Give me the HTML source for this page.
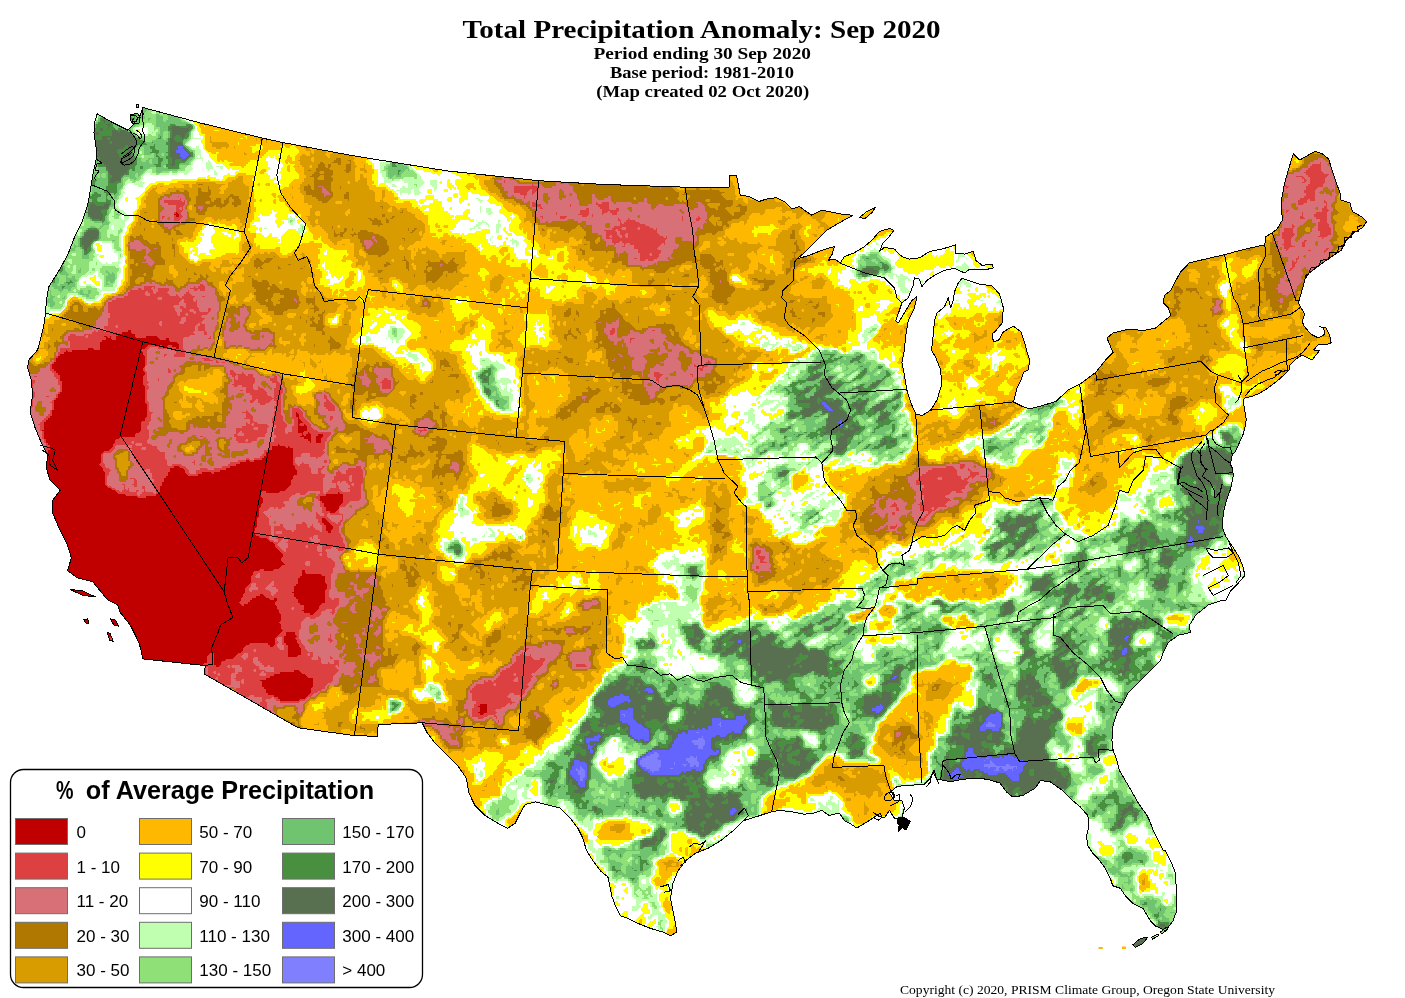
<!DOCTYPE html>
<html lang="en"><head><meta charset="utf-8"><title>Total Precipitation Anomaly: Sep 2020</title>
<style>
html,body{margin:0;padding:0;background:#fff}
body{width:1405px;height:998px;overflow:hidden;position:relative;font-family:"Liberation Serif","DejaVu Serif",serif}
svg{position:absolute;left:0;top:0;display:block}
.t1{font:bold 25.3px "Liberation Serif","DejaVu Serif",serif}
.t2{font:bold 16px "Liberation Serif","DejaVu Serif",serif}
.cp{font:11.5px "Liberation Serif","DejaVu Serif",serif}
.lh{font:bold 25.5px "Liberation Sans","DejaVu Sans",sans-serif}
.lg{font:17px "Liberation Sans","DejaVu Sans",sans-serif}
</style></head><body>
<svg width="1405" height="998" viewBox="0 0 1405 998">
<defs><clipPath id="us"><path d="M97.2,113.8 110.2,121.3 127.8,130.1 132.8,125.1 140.3,115 142.8,107.5 200.4,123 262.3,138.1 283.1,142.6 352,155.6 447.2,170.9 538.6,180.7 602.5,184.4 685.2,187.2 729.1,187.2 729.1,175.2 736.6,175.9 740.3,195.2 749.1,196.5 759.1,201.5 766.6,199 776.7,197.7 784.2,201.5 791.7,209 799.2,206.5 811.7,215.2 821.8,210.2 834.3,212.7 844.3,214.7 853.1,215.2 839.3,222.8 826.8,230.3 814.2,242.8 804.2,252.8 796.7,259.1 809.2,255.3 821.8,250.3 829.3,247.8 834.3,246.6 831.8,255.3 828,260.3 834.3,259.1 840.5,262.8 844.3,256.6 854.3,252.8 864.3,246.6 871.9,240.3 879.4,231.5 889.4,228.5 893.9,230.3 889.4,236.5 883.1,242.8 879.4,251.6 884.4,247.3 894.4,249.1 901.9,256.6 909.4,259.1 919.5,257.8 929.5,251.6 942,249.1 955.8,244.8 955.8,253.3 964.6,254.1 973.3,251.1 975.8,260.3 982.1,265.4 992.1,264.1 993.4,267.9 984.6,269.9 969.6,269.1 964.6,272.9 954.5,268.4 944.5,270.4 934.5,275.4 927,280.4 922,286.6 919.5,279.1 914.4,277.9 913.2,285.4 908.2,297.9 901.9,302.9 899.4,310.4 895.7,320.5 898.2,323 904.4,313 911.9,300.4 917,296.7 914.4,307.9 908.2,320.5 905.7,335.5 904.4,350 901.9,362.5 904.4,375.1 906.9,390.1 910.7,402.6 915.7,413.9 922,415.6 930.7,410.1 937,400.1 941.5,385.1 940.8,370 935.7,357.5 931.5,350 933.2,335.5 934.5,320.5 937,313 944.5,306.7 948.3,297.9 950.8,307.9 953.3,300.4 954.5,291.7 958.3,282.9 962,278.4 969.6,280.9 979.6,284.1 992.1,285.9 999.6,294.2 1003.4,307.9 1002.1,323 995.9,330.5 992.1,334.2 993.4,341.8 998.4,340.5 1003.4,331.7 1013.4,326.2 1020.9,331.7 1024.7,343 1026.4,350 1029.7,360 1028.4,370 1023.4,372.5 1020.9,380.1 1017.2,387.6 1014.7,397.6 1013.4,401.9 1022.2,406.4 1029.7,408.9 1039.7,406.4 1056,401.4 1068,390.1 1080.6,383.8 1095.6,372.5 1105.6,360 1113.1,352.5 1106.9,338 1113.1,333 1128.2,329.2 1143.2,330.5 1155.7,328 1163.2,321.7 1170.8,315.5 1168.2,307.9 1163.2,302.9 1164.5,295.4 1170.8,290.4 1174.5,282.9 1180.8,271.6 1189.5,262.8 1203.3,259.6 1224.6,254.6 1243.4,249.6 1264.7,244.8 1266,236.5 1272.2,232.8 1277.2,229 1282.2,220.3 1281.5,200.2 1284.7,182.7 1289.8,165.1 1293.5,153.9 1299.8,160.1 1306,156.4 1314.8,151.4 1322.3,153.9 1328.6,158.9 1333.6,175.2 1339.9,192.7 1341.1,200.2 1349.9,202.7 1352.4,211.5 1361.2,216.5 1366.7,221.5 1362.4,227.8 1353.6,232.8 1346.1,240.3 1341.1,250.3 1333.6,255.3 1326.1,260.3 1316.1,267.9 1306,275.4 1303.5,285.4 1299.8,297.9 1298.5,302.9 1301,307.9 1304.8,314.2 1302.3,320.5 1303.5,325.5 1311,334.2 1318.6,338 1324.8,334.2 1323.6,328 1319.8,326.7 1326.1,328 1329.8,335.5 1331.1,343 1327.3,344.3 1318.6,344.3 1313.6,350 1320,350 1312,360 1302,355 1296,359 1290,365 1289,370 1284,375 1276,382 1268,388 1260,393 1253,396 1245,398 1243,400 1244,406 1245.6,415 1246.2,420 1245.2,426 1243.2,434 1239.2,443 1235.2,452 1232.2,455 1231.2,460 1230.2,464 1232.7,469 1233.2,476 1231.7,484 1230.2,490 1227.2,498 1225.2,505 1223.6,512 1222.6,520 1222.1,525.4 1223.4,530.4 1225.9,536.6 1233.4,547.9 1239.6,557.9 1243.4,568 1244.7,575.5 1238.4,583 1230.9,590.5 1225.9,600 1223.4,600 1208.3,605 1195.8,615 1189.5,625.1 1190.3,632.6 1178.3,635.1 1168.2,642.6 1163.2,652.6 1160.7,660.1 1153.2,667.6 1145.7,675.2 1138.2,682.7 1128.2,692.7 1123.1,702.7 1116.9,712.7 1113.1,725.3 1111.9,740.3 1113.1,750.3 1116.9,760.3 1119.4,770.4 1128.2,785.4 1138.2,802.9 1147,815.5 1149.5,820.5 1153.2,830.5 1159.5,843 1163.2,850 1165.5,850.7 1171.7,863.2 1175.5,873.3 1176.7,898.3 1176.7,910.8 1173,920.9 1165.5,930.9 1155.4,925.9 1150.4,920.9 1142.9,908.3 1132.9,903.3 1125.4,895.8 1120.4,888.3 1112.8,885.8 1110.3,878.3 1105.3,868.3 1097.8,858.2 1092.8,853.2 1087.8,845.7 1086.5,835.7 1089,825.7 1087.8,815.6 1080.3,806.9 1072.8,800.6 1062.7,790.6 1050.2,781.8 1040.2,780.6 1035.2,788.1 1022.7,795.6 1012.6,796.9 1006.4,791.8 1000.1,783.1 987.6,779.3 975.1,778.1 962.5,779.3 950,781.8 944.5,780.4 937,779.1 933.2,772.9 929.5,779.1 924.5,784.1 917,784.9 904.4,785.4 896.9,786.6 889.4,792.9 894.4,800.4 901.9,800.4 904.4,807.9 901.9,818 894.4,818 889.4,810.4 884.4,818 876.9,815.5 869.4,820.5 856.8,828 849.3,823 844.3,820.5 839.3,813 829.3,815.5 821.8,810.4 814.2,813 804.2,814.2 791.7,811.7 779.2,810.4 771.6,811.7 755.7,816.9 743.2,820.7 733.2,830.7 720.6,840.7 708.1,848.2 695.6,853.2 685.6,860.7 678,870.8 673,883.3 670.5,898.3 673,910.8 675.5,923.4 676.8,932.1 670.5,935.9 663,932.1 650.5,928.4 638,923.4 627.9,918.4 620.4,915.9 615.4,905.8 611.7,895.8 609.2,883.3 607.9,877 600.4,870.8 592.9,860.7 586.6,850.7 582.8,838.2 577.8,828.2 570.3,818.1 560.3,808.1 550.3,805.6 535.2,801.9 525.2,804.4 520.2,813.1 515.2,823.2 507.7,828.2 497.7,823.2 485.1,815.6 475.1,805.6 468.9,793.1 466.3,778.1 457.6,765.5 447.6,755.5 440,748 434.7,742.8 427.2,732.8 422.1,722.8 378.3,724.5 377.1,736.5 352,735.3 298.1,727.8 204.2,673.9 205.4,665.6 142.8,658.9 141.6,652.6 139,642.6 130.3,625.1 120.3,612.5 117.8,605 107.7,600 92.7,581.7 77.7,578 67.6,570.5 71.4,557.9 67.6,545.4 58.9,527.9 52.6,512.8 52.6,500.3 60.1,490.3 50.1,480.3 46.3,467.8 47.6,455.2 41.3,442.7 35.1,427.7 30.1,412.6 32.6,395.1 31.3,380.1 27.6,367.5 28.8,360 37.6,350 40.1,340.5 43.8,325.5 45.6,313 46.3,300.4 48.9,286.6 57.6,272.9 67.6,255.3 75.2,235.3 82.7,220.3 87.7,205.2 91.4,183.9 92.7,175.2 96,160.1 96.5,150.1 94,132.6 94.7,122.5ZM859.8,217.2 866.8,211.5 875.6,207.2 871.9,212.7 864.3,219ZM83.9,619.5 87.7,618.8 88.9,623.8 85.7,623ZM110.2,618.8 115.2,620 119,626.3 114,625.1ZM107.2,632.1 110.2,633.8 113.2,641.3 109.7,640.1ZM70.1,589.3 82.7,591 95.2,596.8 82.7,595.5ZM1132.9,944.7 1140.4,938.4 1147.9,937.2 1142.9,943.4 1135.4,947.2ZM1151.7,937.2 1157.9,933.9 1158.4,935.9 1152.4,939.2ZM1160.4,932.1 1166.7,927.1 1168,928.9 1162,933.9ZM130.1,115 137.1,113 140.1,117 139.1,123 133.1,124 130.1,120ZM136.1,104.5 138.6,104.5 138.6,107.5 136.1,107.5ZM1098.8,946.9 1102.8,946.9 1102.8,948.9 1098.8,948.9ZM1121.9,946.4 1125.9,946.4 1125.9,948.9 1121.9,948.9Z"/></clipPath></defs>
<g clip-path="url(#us)" shape-rendering="crispEdges">
<rect x="0" y="90" width="1405" height="870" fill="#ffb800"/>
<path fill="#d89c00" fill-rule="evenodd" d="M1096,946v4h3v-4zM1144,878v1l-1,1h-1v5h3v-7zM668,860v1l-1,1h-5v1h1l1,1v1h1l1,1v5h1v-3l1-1h11v-5h-5l-1-1v-1zM671,864l1-1h3l1,1v1l-1,1h-3l-1-1zM614,824v1l-1,1h-3v5h5l1,1v1h5v-1l1-1h1v-1l1-1h1v-5zM858,814v3h1v-3zM864,802v13h3v-3l1-1h1v-3h-1l-1-1v-1h-1l-1-1v-3zM772,802v7h1v-7zM846,798v3h5v-3zM482,790v1h3v-1zM486,784v1l-1,1h-1v1h3v-3zM494,778v3h1v-3zM460,770v1h1l1,1v3h1v-1l1-1h1v-3zM830,762v1l-1,1h-1v1l-1,1h-3v7l-1,1h-5v1l-1,1h-3v3l-1,1h-1v1l-1,1h-1v1h1l1,1v1h1l1,1v1h7v-1l1-1h3l1,1v3h1v-3h-1l-1-1v-3l1-1h5l1,1v1h3l1,1v3h1v-1l1-1h1l1,1v1h1l1,1v1h1l1,1v3h9l1,1v3h1v-1l1-1h1v-1l1-1h1l1,1v1h5l1,1v1h1l1,1v1h1v-1l1-1h1v-1l1-1h1v-3l1-1h3l1,1v5h3v-1l1-1h1v-3h-1l-1-1v-3h-1l-1-1v-1h-1l-1-1v-1l1-1h7l1,1v3h3v-3h-1l-1-1v-9h-1l-1-1v-1h-3v1l-1,1h-1l-1-1v-3h-5l-1-1v-1h-5l-1-1v-1h-5v1l-1,1h-1l-1-1v-1h-3v1l-1,1h-1l-1-1v-1h-1v1h1l1,1v1l-1,1h-3l-1-1v-1h-3v1l-1,1h-1l-1-1v-1h-3l-1-1v-1h-1l-1-1v-3h-3v1l-1,1h-1l-1-1v-1zM855,792l1-1h1l1,1v1l-1,1h-1l-1-1zM843,788l1-1h1l1,1v1l-1,1h-1l-1-1zM857,772l1-1h1l1,1v1l-1,1h-1l-1-1zM847,770l1-1h1l1,1v1h1l1,1v3h3l1,1v1l-1,1h-5l-1-1v-1h-1l-1-1v-1h-3l-1-1v-1l1-1h3zM392,722v3h7v-1h-1l-1-1v-1zM318,722v1l-1,1h-3v1h5v-3zM900,718v1h1l1,1v1l-1,1h-5v3l-1,1h-5l-1-1v-1h-5v1l-1,1h-1v1l-1,1h-1v7l-1,1h-1v9h1l1,1v1h1l1,1v1h1l1,1v1h1l1,1v1h1l1,1v1h1l1,1v1h3v-1l1-1h1l1,1v1h1l1,1v1h7l1,1v3l-1,1h-1v1l-1,1h-1v1h1v-1l1-1h3v-3l1-1h11l1,1v1h3v-5h-1l-1-1v-1l1-1h1v-1h-1l-1-1v-1h-1v3l-1,1h-5l-1-1v-1h-1l-1-1v-1h-1l-1-1v-3l1-1h1v-1l1-1h1v-1l1-1h1v-1l1-1h5v-1l1-1h1v-3h-1l-1-1v-1h-1l-1-1v-1h-1l-1-1v-1h-1l-1-1v-3h-1l-1-1v-1h-3l-1-1v-1h-3l-1-1v-1h-1l-1-1v-1zM887,734l1-1h1l1,1v3h1l1,1v3l-1,1h-3l-1-1v-1h-3l-1-1v-1l1-1h1v-1l1-1h1zM404,716v3h5v-3zM924,710v1l-1,1h-1v1h1l1,1v3l-1,1h-1l-1-1v-1h-1v3h3l1,1v3h1l1,1v7h1l1,1v3l-1,1h-1v1h3v-5h-1l-1-1v-1l1-1h3v-3l1-1h1v-9h-1l-1-1v-1h-1l-1-1v-1h-3l-1-1v-1zM929,724l1-1h1l1,1v1l-1,1h-1l-1-1zM925,718l1-1h1l1,1v1l-1,1h-1l-1-1zM444,704v3h1v-3zM912,700v3h1v-3zM574,696v1l-1,1h-3v1l-1,1h-1v1l-1,1h-1l-1-1v-3h-1v1l-1,1h-1v1h1l1,1v1h1l1,1v1h5v-1l1-1h1v-1l1-1h1v-5zM938,678v1l-1,1h-1v1l-1,1h-3v1l-1,1h-1l-1-1v-1h-1v1l-1,1h-3l-1-1v-3h-1v3l-1,1h-3v3h5v-1l1-1h3l1,1v3l-1,1h-1v11h7v-1l1-1h7l1,1v1h1v-1l1-1h1v-1l1-1h1v-1l1-1h1v-3l1-1h1v-3l1-1h1v-1l1-1h3v-1l1-1h1v-1h-3v1l-1,1h-3l-1-1v-1h-5l-1-1v-1h-3l-1-1v-1zM440,662v3h1v-3zM616,636v7h1l1,1v1h1v-1l1-1h1v-1h-1l-1-1v-5zM105,630v5l1,1v3l1,1v2l1-1h3l1,1v1h3v-5l-1-1v-1l-1-1v-2l-1-1v-1h-2l-1-1zM396,616v3h1v-3zM108,616v4l1,1v1l1,1v1l1,1v1l1,1h4l1,1h4v-4l-1-1v-1l-2-2v-1l-1-1h-2l-1-1h-1l-1-1zM85,616l-1,1h-3v4l1,1v1l1,1v1h7v-6l-1-1v-2zM862,614v1l-1,1h-5v3h5v-1l1-1h1v-1l1-1h1v-1zM886,608v1l-1,1h-1v1h3l1,1v1h3v-1h-3l-1-1v-1l1-1h1v-1zM624,600v5h3v-1l1-1h3v-1h-3l-1-1v-1zM562,598v3l-1,1h-1v1l-1,1h-1v1l-1,1h-1v1l-1,1h-1v3h3v-3l1-1h1v-1l1-1h1v-1l1-1h1v-3l1-1h1v-1zM974,594v3h3v-3zM720,590v1l-1,1h-1v3l-1,1h-3v1l-1,1h-5v3l-1,1h-1v1l-1,1h-1v1h1l1,1v3h1l1,1v1l-1,1h-1v5h3v-1l1-1h1l1,1v3l-1,1h-5v1h11v-1l1-1h1v-3l1-1h1v-1l1-1h1v-1l1-1h3v-1h-9l-1-1v-3l1-1h5v-1l1-1h1v-1l1-1h5l1,1v3l-1,1h-1v1h3v-1l1-1h3l1,1v5l-1,1h-3v1h3v-1l1-1h3v-9h-1v1l-1,1h-1l-1-1v-3h-1l-1-1v-1h-1l-1-1v-1l1-1h3v-1h-3v1l-1,1h-1v1l-1,1h-1v1l-1,1h-3l-1-1v-1h-3l-1-1v-3h-1l-1-1v-1l1-1h1v-1zM713,610l1-1h3l1,1v3l-1,1h-3l-1-1zM610,590v1l-1,1h-3v1h1l1,1v1h3v-1l1-1h1v-1h-1l-1-1v-1zM962,588v5h1l1,1v1h1v-5l1-1h1v-1zM970,584v1h3v-1zM1006,582v1l-1,1h-1v1h3v-3zM736,582v1l-1,1h-3v1h3v-1l1-1h1v-1zM632,580v1l-1,1h-1v1h3v-3zM954,576v5h1l1,1v1h3v-1l1-1h1v-1h-1l-1-1v-3zM926,576v3h1v-1l1-1h1v-1zM608,576v3h1v-3zM992,574v1l-1,1h-1v1l-1,1h-5v5h1l1,1v1h1l1,1v3h3l1,1v5l-1,1h-1v1h1v-1l1-1h3v-1l1-1h1v-5h-1l-1-1v-3l1-1h1v-1l1-1h1v-3h-3l-1-1v-1h-1l-1-1v-1zM970,574v1h3v-1zM618,574v3l-1,1h-1v7h3v-3l1-1h1v-1l1-1h1v-1h-1l-1-1v-1h-1l-1-1v-1zM634,566v5h3v-1l1-1h1l1,1v1h5l1,1v1h3v-1h-1l-1-1v-1h-1l-1-1v-1h-1l-1-1v-1zM572,566v3h3v-1l1-1h1v-1zM626,560v7l-1,1h-1v1l-1,1h-1v1h1v-1l1-1h1l1,1v1h1v-3l1-1h1v-5h-1l-1-1v-1zM592,556v1h1l1,1v1h1v-3zM1238,550v3h2l-1-1v-1zM562,548v1l-1,1h-1v5h1v-1l1-1h1v-5zM752,538v3l-1,1h-1v1l-1,1h-1v7h1l1,1v5l-1,1h-1v13h1l1,1v1h1l1,1v9h1l1,1v3h5v-1l1-1h7v-1l1-1h1v-1l1-1h5l1,1v1h1v-1l1-1h3v-1l1-1h1l1,1v3h1l1,1v1h1l1,1v1h3l1,1v3l-1,1h-3v1h1l1,1v1l-1,1h-1v1l-1,1h-1v1l-1,1h-1v1l-1,1h-1v3l-1,1h-1v1l-1,1h-3l-1-1v-3h-1l-1-1v-1h-1v1l-1,1h-3v1l-1,1h-3l-1-1v-1h-5v3h1l1,1v1h1l1,1v3h1l1,1v1h3v-1l1-1h13v-1l1-1h1v-1l1-1h5v-1l1-1h1v-1l1-1h3v-1l1-1h1v-3h-3l-1-1v-5l1-1h3l1,1v1h3v-1l1-1h1v-1l1-1h1v-1l1-1h7v-1l1-1h1v-1l1-1h5l1,1v3h1v-1l1-1h3v-1l1-1h1v-1l1-1h1v-1l1-1h1v-1l1-1h3v-1l1-1h1v-3l1-1h1v-1l1-1h1v-9h-3l-1-1v-1h-7l-1-1v-1h-3l-1-1v-1h-1l-1-1v-1h-3l-1-1v-1h-1l-1-1v-1l1-1h1v-1l1-1h1v-1l1-1h1v-1l1-1h1v-1h-7v1l-1,1h-3v1l-1,1h-1v1l-1,1h-3v1l-1,1h-1l-1-1v-1h-3v1l-1,1h-1l-1-1v-1h-5v1l-1,1h-1l-1-1v-1h-1l-1-1v-3h-1l-1-1v-1h-3l-1-1v-1h-5v1l-1,1h-11l-1-1v-1h-1v1l-1,1h-3l-1-1v-3zM809,578l1-1h5l1,1v3l-1,1h-5l-1-1zM787,576l1-1h3l1,1v1l-1,1h-1v1l-1,1h-1l-1-1zM795,572l1-1h3l1,1v1l-1,1h-1v1l-1,1h-3l-1-1v-1l1-1h1zM835,570l1-1h3l1,1v1l-1,1h-3l-1-1zM799,570l1-1h1l1,1v1l-1,1h-1l-1-1zM829,568l1-1h1l1,1v1l-1,1h-1l-1-1zM801,560l1-1h1l1,1v3l-1,1h-1l-1-1zM807,554l1-1h1l1,1v3l-1,1h-1l-1-1zM785,554l1-1h3l1,1v3l-1,1h-3l-1-1zM779,554l1-1h1l1,1v1h1l1,1v1l-1,1h-1v3h3l1,1v1h1l1,1v1l-1,1h-1v1l-1,1h-1v1l-1,1h-1l-1-1v-3h-3l-1-1v-1l1-1h1v-1h-1l-1-1v-1h-1l-1-1v-3l1-1h3zM799,550l1-1h1l1,1v3l-1,1h-3l-1-1v-1l1-1h1zM638,528v5h1v-5zM412,526v1h3v-1zM624,522v1l-1,1h-3v3l-1,1h-1v9l-1,1h-1v1l-1,1h-1v1l-1,1h-1v9h1v-1l1-1h3v-1l1-1h1l1,1v1h1v-1l1-1h1v-5l1-1h1v-5h-1l-1-1v-1l1-1h3v-1l1-1h3v-3l1-1h1v-1h-1l-1-1v-1h-3l-1-1v-1zM621,532l1-1h1l1,1v1l-1,1h-1l-1-1zM392,522v5h3l1,1v1h1v-3l1-1h1v-1h-5l-1-1v-1zM416,520v3h5v-3zM742,510v3l-1,1h-1v1h1l1,1v1h1l1,1v7h1l1,1v1l-1,1h-1v5h1l1,1v1h5v-1l1-1h1v-5h-5l-1-1v-1h-1l-1-1v-1l1-1h3l1,1v1h3v-1l1-1h1v-3l1-1h1l1,1v1h1v-3h-1l-1-1v-1h-1v1l-1,1h-1l-1-1v-1h-5l-1-1v-3h-3l-1-1v-1zM652,504v3l-1,1h-1v1l-1,1h-1v11l-1,1h-1l-1-1v-1h-3l-1-1v-1h-1v3l-1,1h-1v3h3l1,1v1h1l1,1v1h1v-3l1-1h7v-1l1-1h3v-5l1-1h1v-1l1-1h1v-7h-1l-1-1v-3h-3v1l-1,1h-1l-1-1v-1zM644,504v1h3v-1zM572,494v1h3v-1zM490,492v1l-1,1h-1v1l-1,1h-1v3l-1,1h-1l-1-1v-1h-1l-1-1v-1h-5v5h3l1,1v3h1l1,1v1h1l1,1v1h1l1,1v1l-1,1h-1v5h1l1,1v1h7l1,1v1h7v-1l1-1h5v-1l1-1h1v-1l1-1h3v-11h-1l-1-1v-1h-7l-1-1v-1h-1l-1-1v-3h-3l-1-1v-1h-1l-1-1v-1zM1020,490v1l-1,1h-1v1l-1,1h-3v3h11v-3h-1l-1-1v-1h-1l-1-1v-1zM692,488v3h3v-3zM672,488v3l-1,1h-7v1h3l1,1v1l-1,1h-1v1h7v-3h-1l-1-1v-1l1-1h3l1,1v1h1l1,1v5h1l1,1v3h5v-3l1-1h3l1,1v1h1v-1l1-1h1v-1h-5l-1-1v-1h-7l-1-1v-5h-3l-1-1v-1zM838,486v1h5v-1zM708,480v3h1l1,1v1l-1,1h-3v15l-1,1h-1v3h1l1,1v1h5l1,1v3l-1,1h-1v7l-1,1h-1v3h1l1,1v1l-1,1h-1v3h1l1,1v5h1l1,1v7l-1,1h-1v9h1l1,1v5l-1,1h-1v5h3v-1l1-1h1v-1l1-1h1v-1l1-1h1l1,1v1h3v-5l1-1h3v-13l1-1h3v-1l1-1h1v-5h-1l-1-1v-3h-1l-1-1v-7l1-1h1l1,1v1h1v-3l1-1h1v-1h-5l-1-1v-9l1-1h1v-13h-1l-1-1v-3h-1l-1-1v-5h-3l-1-1v-1h-1v1l-1,1h-1v1l-1,1h-1l-1-1v-3h-5l-1-1v-1zM727,518l1-1h1l1,1v1l-1,1h-1l-1-1zM713,486l1-1h3l1,1v5h3l1,1v3l-1,1h-1v1l-1,1h-1l-1-1v-1h-1l-1-1v-3h-3l-1-1v-1l1-1h1zM616,478v3l-1,1h-7l-1-1v-1h-3v1l-1,1h-1v1h1l1,1v5h3l1,1v3h5v-1l1-1h1l1,1v1h1v-1l1-1h7l1,1v1h3l1,1v1h1v-3h-1l-1-1v-3l1-1h3l1,1v3h11v-1l1-1h1v-1l1-1h3v-5h-7l-1-1v-1l1-1h1v-1h-11v1l-1,1h-1l-1-1v-1h-7v1l-1,1h-3l-1-1v-1zM840,474v3h1v-3zM1096,472v1l-1,1h-1v1l-1,1h-1v1l-1,1h-1v1l-1,1h-1v1l-1,1h-1v1l-1,1h-1v1l-1,1h-3v1l-1,1h-1v3h1l1,1v1h1v-1l1-1h3l1,1v1h1l1,1v1h3l1,1v1h3v-3l1-1h3v-1l1-1h1v-1l1-1h3v-1l1-1h1v-7h-1l-1-1v-1h-1l-1-1v-5zM674,466v3h1v-3zM1086,464v1l-1,1h-1v3l-1,1h-1v1h3v-1l1-1h1l1,1v1h3v-1h-1l-1-1v-5zM730,464v1h3v-1zM1104,454v1l-1,1h-3v1h1l1,1v3l-1,1h-1v1h3v-1l1-1h1l1,1v1h1v-1l1-1h1v-3l1-1h1v-1h-1v1l-1,1h-3l-1-1v-3zM918,452v1l-1,1h-5v1l-1,1h-1v1l-1,1h-1v3l-1,1h-1v3l-1,1h-3v1l-1,1h-5l-1-1v-1h-3v1l-1,1h-3v1l-1,1h-3v1l-1,1h-1v1l-1,1h-1v1l-1,1h-5v1l-1,1h-1l-1-1v-1h-3v5l-1,1h-1v1l-1,1h-1v3l-1,1h-1v1l-1,1h-1v1l-1,1h-3v5l-1,1h-3v3l-1,1h-1v3h1l1,1v3l-1,1h-1v1l-1,1h-1v3h1l1,1v1l-1,1h-1v3l-1,1h-5v1l-1,1h-1v3h1l1,1v1l-1,1h-1v3h1l1,1v3l-1,1h-1v5h5l1,1v1h1v-3h-1l-1-1v-1l1-1h1v-1l1-1h1l1,1v1h1v-1l1-1h1v-1l1-1h3l1,1v1h1v-1l1-1h5l1,1v1h1l1,1v1h1l1,1v3l-1,1h-3v1l-1,1h-1v1l-1,1h-5v1l-1,1h-3l-1-1v-1h-1v1l-1,1h-1v1h1l1,1v1h3v-1l1-1h3l1,1v1h7l1,1v1l-1,1h-1v1h1v-1l1-1h1v-7l1-1h3v-1l1-1h1v-3l1-1h7l1,1v3h1v-1l1-1h1v-1l1-1h1v-1h-3l-1-1v-3l1-1h3l1,1v1h1l1,1v1h3l1,1v1h7l1,1v1h1v-1l1-1h1v-1l1-1h1v-1l1-1h1v-1l1-1h3v-1l1-1h3v-1l1-1h5v-1l1-1h3v-1l1-1h3v-1l1-1h1v-1l1-1h1v-1l1-1h1v-1l1-1h1v-1l1-1h9l1,1v1h7v-5l1-1h1v-3l1-1h1v-1l1-1h1v-1l1-1h11v-1l1-1h1v-1l1-1h1v-3l1-1h1v-5l1-1h5l1,1v1h1v-1l1-1h1v-1l1-1h1v-1l1-1h5v-1l1-1h1v-3l1-1h1v-1l1-1h1v-1h-3l-1-1v-1h-3l-1-1v-1h-3l-1-1v-5h-3l-1-1v-1h-5l-1-1v-1h-3l-1-1v-3h-3l-1-1v-3h-1l-1-1v-1h-1v1l-1,1h-5v1l-1,1h-7l-1-1v-1h-1l-1-1v-1h-3v1l-1,1h-7v1l-1,1h-1v3l-1,1h-1v1l-1,1h-3l-1-1v-1h-9l-1-1v-1h-1l-1-1v-3h-3l-1-1v-1h-1l-1-1v-1zM865,546l1-1h3l1,1v1l-1,1h-3l-1-1zM849,524l1-1h3l1,1v1h5l1,1v1l-1,1h-3v3l-1,1h-1l-1-1v-1h-3l-1-1zM857,510l1-1h1l1,1v1l-1,1h-1l-1-1zM861,498l1-1h3l1,1v1l-1,1h-3l-1-1zM885,480l1-1h3l1,1v1l-1,1h-3l-1-1zM953,458l1-1h3l1,1v1l-1,1h-3l-1-1zM684,452v3h1l1,1v1h3v-3h-3l-1-1v-1zM670,446v3h3l1,1v1h1v-1h-1l-1-1v-3zM1118,444v1h1l1,1v1h1v-1l1-1h1v-1zM1068,432v3h1v-3zM1084,424v1h3v-1zM1056,422v3h5v-1h-1l-1-1v-1zM916,422v3h5v-3zM1246,416v3h1v-3zM1224,414v1l-1,1h-1v1l-1,1h-1v1h3v-1l1-1h1l1,1v1h3v-3h-3l-1-1v-1zM922,412v3h1v-3zM929,406v1l-2,2h-1v4h3zM908,404v3h5v-3zM1004,400v1l-1,1h-1v3l-1,1h-3v1l-1,1h-5v1l-1,1h-3l-1-1v-1h-1l-1-1v-1h-1l-1-1v-1h-3v1l-1,1h-5v1l-1,1h-1v1l-1,1h-3v3h1l1,1v1l-1,1h-3v1l-1,1h-1v1l-1,1h-1v1l-1,1h-1v3l-1,1h-1v1l-1,1h-1v1l-1,1h-5l-1-1v-3h-1l-1-1v-1l1-1h3v-1h-3l-1-1v-1h-3v1l-1,1h-1l-1-1v-1h-3v1l-1,1h-5v1l-1,1h-5v1l-1,1h-1v1l-1,1h-1v1l-1,1h-3v5h1v-1l1-1h3l1,1v1l-1,1h-1v1l-1,1h-1v3h1l1,1v1l-1,1h-3v1h5v-3h-1l-1-1v-1l1-1h3l1,1v1h3l1,1v3h5v-1l1-1h3v-1l1-1h1l1,1v1h1v-1l1-1h5l1,1v1h1v-1l1-1h1v-1l1-1h5v-1l1-1h1v-1l1-1h1v-1l1-1h1v-1l1-1h1v-1l1-1h1l1,1v1h3v-1l1-1h1v-1l1-1h1l1,1v1h3l1,1v1h11v-1l1-1h3v-1l1-1h1v-1l1-1h3v-1l1-1h1v-1l1-1h1v-1l1-1h3v-3l1-1h1v-1l1-1h1v-1l1-1h3v-1l1-1h1v-1l1-1h1v-1h-3v1l-1,1h-3l-1-1v-5h-1l-1-1v-1h-5v5l-1,1h-1l-1-1v-5zM925,438l1-1h1l1,1v1l-1,1h-1l-1-1zM943,434l1-1h1l1,1v3l-1,1h-1l-1-1zM925,430l1-1h3l1,1v1l-1,1h-1v1l-1,1h-3l-1-1v-1l1-1h1zM939,428l1-1h3l1,1v5l-1,1h-5l-1-1v-3l1-1h1zM931,428l1-1h1l1,1v1l-1,1h-1l-1-1zM969,420l1-1h3l1,1v1l-1,1h-3l-1-1zM1007,408l1-1h5l1,1v1l-1,1h-1v1l-1,1h-5v1l-1,1h-1v1l-1,1h-3l-1-1v-1l1-1h1v-3l1-1h5zM1150,394v3h3v-3zM1268,384v3h1v-3zM1022,382v1l-1,1h-3v5h1v-1l1-1v-1l1-1v-1l1-1zM1018,376v1l-1,1h-3v1h5v-1l1-1h1v-1zM544,376v3h1l1,1v1h1v-3h-1l-1-1v-1zM998,374v1l-1,1h-1v1h3v-3zM1028,370v1l-1,1h-3v3h1v-1l1-1h1l1-1h1v-2zM1282,368v7h1l1,1v1h2l3-3v-2l1-1h1v-3h-1v1l-1,1h-3l-1-1v-1zM322,368v5h1v-5zM964,360v1l-1,1h-1v1h1l1,1v1h1l1,1v1h3l1,1v1h3v-1l1-1h1v-1h-1l-1-1v-5zM969,362l1-1h1l1,1v1l-1,1h-1l-1-1zM940,360v1l-1,1h-1v1h1l1,1v1h3v-3h-1l-1-1v-1zM300,360v1h1l1,1v1h1l1,1v3h1v-5h-3l-1-1v-1zM310,358v7h1l1,1v1h1l1,1v1h1v-1l1-1h1v-3l1-1h3v-3h-1v1l-1,1h-1v1l-1,1h-1l-1-1v-1h-1l-1-1v-1h-1l-1-1v-1zM1270,356v1h3v-1zM1130,348v5h5v-1l1-1h3v-1h-1l-1-1v-1zM986,346v3h1v-3zM1006,340v3h5v-3zM1156,338v3h5v-3zM1014,338v1h1l1,1v1h1v-3zM424,336v3h3v-3zM882,334v1l-1,1h-3v1h3v-1l1-1h1v-1zM820,334v1l-1,1h-3v1l-1,1h-1v1h5l1,1v1h3v-5l1-1h1l1,1v1h1v-3zM802,334v1l-1,1h-1v1h5v-1h-1l-1-1v-1zM1172,332v3h3l1,1v3h1v-3h-1l-1-1v-3zM1242,330v7h1v-7zM984,330v3l-1,1h-1v1l-1,1h-3l-1-1v-1h-1l-1-1v-1h-1v1l-1,1h-1v1h1l1,1v7h1v-1l1-1h3v-1l1-1h3v-1l1-1h3v-7zM838,330v3h3v-3zM440,330v3h1v-3zM884,328v3h1v-1l1-1h1v-1zM1320,326v1l-1,1h-2h1l1,1h1l1,1v3l1,1v3h5l1,1v1h1l1,1v1h1v-1l1-1v-3l-1-1v-1h-1v1l-1,1h-3l-1-1v-1h-1l-1-1v-1h-1l-1-1v-5zM904,326v3l-1,1h-3v5h1v-1l1-1h1v-3l1-1h1l1,1v1h1v-1l1-1h1v-3zM512,326v3l-1,1h-7v1l-1,1h-5v3h3l1,1v3l-1,1h-1l-1-1v-1h-1v3h1l1,1v1l-1,1h-1v1l-1,1h-1v3h1v-1l1-1h1v-1l1-1h3l1,1v3h1v-1l1-1h5l1,1v1h1v-5h-1l-1-1v-3h-3l-1-1v-1h-1l-1-1v-3l1-1h3v-1l1-1h1v-1l1-1h1v-3zM954,322v3h3v-1h-1l-1-1v-1zM470,320v1l-1,1h-5v1l-1,1h-1v3l-1,1h-1v1l-1,1h-1v3h1l1,1v1h3v-1l1-1h1v-7l1-1h1v-1l1-1h1l1,1v3h3v-1l1-1h1v-3h-1l-1-1v-1zM504,318v7h3v-3h-1l-1-1v-3zM852,316v3h1v-3zM1000,314v1l-1,1h-1v1l-1,1h-3v3h3l1,1v7h1l1,1v1h1v-3l3-3v-7l-1-1v-1h-1l-1-1v-1zM1300,312v7h3v-7zM518,308v1l-1,1h-1v1l-1,1h-1v1h1v-1l1-1h1v-1l1-1h1l1,1v3h3v-3h-1l-1-1v-1zM402,304v1l-1,1h-1v1h3v-3zM424,294v1l-1,1h-3v5l-1,1h-1v1l-1,1h-1l-1-1v-5h-1l-1-1v-1h-3v1l-1,1h-1v1l-1,1h-1l-1-1v-1h-1v1h1l1,1v5h1l1,1v1h1l1,1v3h1l1,1v1h3l1,1v1h5v-1l1-1h3l1,1v1h1l1,1v1h9v-3l1-1h1v-1l1-1h1l1,1v1h1v-3l1-1h1v-1h-1l-1-1v-5h-1l-1-1v-1l1-1h1v-3h-3l-1-1v-1h-3v1l-1,1h-9l-1-1v-1zM435,298l1-1h1l1,1v3l-1,1h-3l-1-1v-1l1-1h1zM392,294v7h3v-3h-1l-1-1v-3zM464,286v1h3v-1zM990,283h1l1,1v1h1v-1l1-1zM820,276v1l-1,1h-3v1l-1,1h-3v1l-1,1h-1v1h1l1,1v5h11v-3l1-1h1v-3l1-1h1v-1h-3l-1-1v-1h-1l-1-1v-1zM522,274v3h3v-3zM498,274v1l-1,1h-3v1l-1,1h-1v1l-1,1h-1v11h3l1,1v1h3v-1l1-1h1v-1l1-1h1v-5l1-1h1v-3l1-1h1v-1h-1l-1-1v-1h-1l-1-1v-1zM574,266v3h1v-3zM232,258v1h9v-1zM450,246v1h3v-1zM544,244v5h1v-5zM342,244v1h3v-1zM442,240v1l-1,1h-1v1h1l1,1v1h3v-3l1-1h1v-1zM812,234v1h1l1,1v1h3v-3zM887,226l-1,1h-2l-1,1h-1v3h1v-1l1-1h1v-1l1-1h3v-1zM782,216v3l-1,1h-3v3h1l1,1v1h5v-3l1-1h1v-1l1-1h3v-1h-1l-1-1v-1h-1v1l-1,1h-1l-1-1v-1zM290,194v1h1l1,1v3h1v-3h-1l-1-1v-1zM292,186v3h1v-3zM160,186v1h3v-1zM494,174v1l-1,1h-1v1l-1,1h-1v1l-1,1h-5v5h1l1,1v1h1l1,1v3h1l1,1v1h5l1,1v1h1l1,1v1h1l1,1v1h3l1,1v1h3l1,1v1h3l1,1v1h1l1,1v1h1v-1l1-1h3l1,1v1h1l1,1v1h1l1,1v1h1l1,1v5l-1,1h-1v5h1v-1l1-1h3l1,1v1h1l1,1v3h1v-1l1-1h3l1,1v5h1l1,1v3h1l1,1v1h3v-1l1-1h1v-5l1-1h3l1,1v1l-1,1h-1v5l-1,1h-1v1h1l1,1v1h3l1,1v1h3v-1l1-1h5l1,1v1h5v-5l1-1h3l1,1v1h1l1,1v1h3v-1l1-1h1l1,1v3l-1,1h-3v1l-1,1h-7v1h1l1,1v1h3l1,1v5h1l1,1v5h3v-1l1-1h1l1,1v1h3l1,1v3h1l1,1v1h3l1,1v1l-1,1h-1v1h7v-1l1-1h3l1,1v3h1l1,1v1h1v-1l1-1h1l1,1v1h1l1,1v1h1v-1l1-1h1v-3l1-1h1v-1l1-1h3l1,1v1h3v-1l1-1h3l1,1v1h1l1,1v11h5l1,1v1h1l1,1v1h13l1,1v1h1l1,1v3l-1,1h-1v1l-1,1h-1v1l-1,1h-11l-1-1v-1h-1v1l-1,1h-1l-1-1v-1h-5v1l-1,1h-3v1l-1,1h-1v1l-1,1h-1v1l-1,1h-1l-1-1v-3h-11l-1-1v-1h-1l-1-1v-1h-1v1l-1,1h-1v1l-1,1h-3l-1-1v-3h-1l-1-1v-1h-1l-1-1v-1h-5l-1-1v-1h-5v1h3l1,1v1l-1,1h-1v9l-1,1h-9l-1-1v-1h-7v1l-1,1h-1v1l-1,1h-7l-1-1v-1h-3v3l-1,1h-1v1h1l1,1v7h1v-1l1-1h1l1,1v3l-1,1h-3v3h1l1,1v5l-1,1h-1v5h3l1,1v1h1l1,1v5h1l1,1v1h1l1,1v1l-1,1h-1v1l-1,1h-11v1l-1,1h-1l-1-1v-1h-5l-1-1v-1h-9v1l-1,1h-5v3l-1,1h-1v1l-1,1h-1v1l-1,1h-1v3h3l1,1v9h1l1,1v29l-1,1h-1v1h1l1,1v1h1l1,1v9l-1,1h-3v1l-1,1h-1v3l-1,1h-7l-1-1v-1h-1l-1-1v-1h-7v1l-1,1h-7l-1-1v-3h-1v1l-1,1h-1l-1-1v-1h-5v1l-1,1h-3v3l-1,1h-1v5l-1,1h-1l-1-1v-1h-1v1l-1,1h-3l-1-1v-1h-1l-1-1v-1h-1l-1-1v-1h-1l-1-1v-3h-1v1l-1,1h-3v5l-1,1h-3l-1-1v-3h-1l-1-1v-1l1-1h1v-3l1-1h1v-1h-1v1l-1,1h-3l-1-1v-1h-1l-1-1v-5h-1l-1-1v-5l1-1h1v-1l1-1h1l1,1v1h3l1,1v1h1v-3l1-1h3l1,1v3h3v-7l1-1h1v-1l1-1h3v-1l1-1h1v-3h-1l-1-1v-5h-1l-1-1v-3h-1l-1-1v-3h-3l-1-1v-3h-1l-1-1v-5h-1l-1-1v-7h-1l-1-1v-1h-5l-1-1v-1h-5l-1-1v-1h-1v1l-1,1h-1l-1-1v-1h-3v1l-1,1h-1l-1-1v-1h-1l-1-1v-1h-1v3h1l1,1v3h1l1,1v3h1l1,1v9l-1,1h-1v5l-1,1h-1v1l-1,1h-1v1l-1,1h-1v1l-1,1h-1v1l-1,1h-5l-1-1v-1h-1l-1-1v-1h-1l-1-1v-1h-1v1l-1,1h-5l-1-1v-1h-1l-1-1v-1h-1l-1-1v-1h-1l-1-1v-1h-1l-1-1v-3h-3l-1-1v-3h-3l-1-1v-1h-1l-1-1v-1h-3l-1-1v-1h-3l-1-1v-1h-1l-1-1v-1h-1l-1-1v-1h-1l-1-1v-1h-1l-1-1v-1h-9v1l-1,1h-5l-1-1v-1h-7v1l-1,1h-3l-1-1v-3l1-1h1v-7l1-1h1v-3l1-1h1v-7h-1l-1-1v-5l1-1h1v-7l1-1h3v-1l1-1h1v-3h-1l-1-1v-5h-9v1l-1,1h-1v1h1l1,1v1h1l1,1v1l-1,1h-1v1l-1,1h-1v7l-1,1h-1v7l-1,1h-3v1l-1,1h-7l-1-1v-1h-3l-1-1v-9l1-1h1v-1l1-1h7v-1l1-1h1v-3l1-1h1v-1l1-1h1v-1h-3l-1-1v-1h-3l-1-1v-3h-7l-1-1v-1h-1l-1-1v-3h-5l-1-1v-3h-1l-1-1v-7h-1v1l-1,1h-1v1l-1,1h-3l-1-1v-5l1-1h7v-3h-1l-1-1v-1h-1l-1-1v-3h-1l-1-1v-3l1-1h1v-3h-1l-1-1v-1h-3l-1-1v-3h-1l-1-1v-1h-1v1l-1,1h-1v1h1l1,1v1l-1,1h-3l-1-1v-3h-5v1l-1,1h-3v1l-1,1h-7l-1-1v-1h-1l-1-1v-1h-1l-1-1v-1h-5v1l-1,1h-1l-1-1v-1h-3v1l-1,1h-3l-1-1v-1h-1v1l-1,1h-3v1l-1,1h-1v1l-1,1h-1l-1-1v-3l1-1h1v-5l1-1h1v-3h-1l-1-1v-1h-1l-1-1v-1h-1l-1-1v-1h-1v1h1l1,1v1l-1,1h-3v1l-1,1h-1v7h1l1,1v1h1l1,1v1h1l1,1v1h1l1,1v3l-1,1h-1v1l-1,1h-5l-1-1v-1h-1v1l-1,1h-5l-1-1v-1h-1v1l-1,1h-1l-1-1v-3h-7v3l-1,1h-1v3l-1,1h-3l-1-1v-1h-1v3h1l1,1v1l-1,1h-3l-1-1v-1h-1l-1-1v-3l1-1h1v-3h-9v1l-1,1h-1v1l-1,1h-3l-1-1v-1h-5l-1-1v-1h-1l-1-1v-1h-1l-1-1v-1h-1l-1-1v-1h-1l-1-1v-1h-1l-1-1v-7h-1l-1-1v-5l1-1h5v-1l1-1h3l1,1v1h3v-1l1-1h1v-5l1-1h1v-3l1-1h1v-3l1-1h1v-1l1-1h3v-1l1-1h1v-1l1-1h5l1,1v1h1l1,1v1h3v-1l1-1h1l1,1v1h1v-1l1-1h3l1,1v1h5v-1l1-1h3v-1l1-1h1l1,1v1h1l1,1v3h1l1,1v1l-1,1h-1v3h1v-1l1-1h1v-1l1-1h1v-3l1-1h1v-5l1-1h1v-1l1-1h1v-7h-1l-1-1v-1h-1l-1-1v-3l1-1h3v-1h-1l-1-1v-11h-3l-1-1v-1h-1l-1-1v-7h-5v1l-1,1h-1v1l-1,1h-3v1l-1,1h-3v5l-1,1h-1v1l-1,1h-1v3l-1,1h-3l-1-1v-1l1-1h1v-1h-1l-1-1v-1l1-1h1v-1l1-1h3v-1h-9l-1-1v-1h-19v1l-1,1h-3v3l-1,1h-1l-1-1v-3h-7v1h1l1,1v1l-1,1h-7l-1-1v-1h-1v1l-1,1h-5v1l-1,1h-1v1l-1,1h-3v1l-1,1h-3l-1-1v-1h-1l-1-1v-1l1-1h1v-3h-1v1l-1,1h-3v1l-1,1h-1v1l-1,1h-1v3l-1,1h-1v3l-1,1h-1v3h1l1,1v3l-1,1h-3v1l-1,1h-1v5l-1,1h-1v5l-1,1h-1v3l-1,1h-1v1l-1,1h-1v5l-1,1h-1v1l-1,1h-1v7l-1,1h-1v3h1l1,1v33l-1,1h-1v3l-1,1h-1v3l-1,1h-1v1l-1,1h-1v1l-1,1h-3v1l-1,1h-7v1l-1,1h-1v1l-1,1h-1v1l-1,1h-1v3l-1,1h-15l-1-1v-1h-1l-1-1v-1h-3l-1-1v-1h-7v1l-1,1h-1v3l-1,1h-1v3l-1,1h-1v1l-1,1h-1v1l-1,1h-1v1l-1,1h-1v3l-1,1h-5v3l-1,1h-5v9l-1,1h-1l-1-1v-5h-1v1l-1,1h-3v3l-1,1v1l-1,1v1h3l1,1v1h1v-3l1-1h1l1,1v1h3l1,1v1l-1,1h-1v1l-1,1h-3v5l-1,1h-3v1l-1,1h-1l-1-1v-1h-1l-1-1v1l-4,4v1l-5,5v3l-1,1v8l1,1v2l1,1v3l1,1v2l1,1v8l1,1v7l-1,1v7l-1,1v9l1,1v2l1,1v2l1,1v2l1,1v2l1,1v2l1,1v1l1,1v2l1,1v1l1,1v2l1,1v1l1,1v2l1,1v1l1,1v1l1,1v1l1,1v1l1,1v1l1,1v3l-1,1v10l1,1v2l1,1v3l1,1v2l1,1v1l8,8v1l-4,4v1l-2,2v17l1,1v1l1,1v2l1,1v1l1,1v2l1,1v1l1,1v1l1,1v1l1,1v1l1,1v1l1,1v1l1,1v1l1,1v1l1,1v1l1,1v1l1,1v2l1,1v2l1,1v2l1,1v4l-1,1v3l-1,1v2l-1,1v5l1,1h1l4,4h1l3,3h4l1,1h4l1,1h4l3,3v1l4,4v1l2,2l-1,1h-2l-1-1h-1l-1-1h-2l-1-1h-1l-1-1h-2l-1-1h-5l-1-1h-4l-1-1h-5v4h1l1,1h1l1,1h1l1,1h1l1,1h1l1,1h1l1,1h10l1,1h6v-4l1-1l1,1v1l4,4v1l2,2h1l1,1h1l1,1h1l1,1h1l1,1h1l1,1v1l1,1v1l1,1v1l1,1v1l2,2v1l3,3v1l3,3v1l3,3v1l1,1v1l1,1v1l1,1v1l1,1v1l1,1v1l1,1v1l1,1v1l1,1v2l1,1v4l1,1v4l1,1v3h8l1,1h8l1,1h8l1,1h8l1,1h8l1,1h8l1,1h8l1,1l-1,1v7h1l2,2h1l1,1h1l1,1h1l2,2h1l1,1h1l1,1h1l2,2h1l1,1h1l1,1h1l2,2h3l1,1v1h1l2,2h1l1,1h1l1,1h1l2,2h1l1,1h1l1,1h1l2,2h1l1,1h1l2,2h1l1,1h1l1,1h1l2,2h1l1,1h1l1,1h1l2,2h1l1,1h1l1,1h1l2,2h1l1,1h1l1,1h1l2,2h1l1,1h1l1,1h1l2,2h1l1,1h1l1,1h1l2,2h1l1,1h7v-3h-1l-1-1v-7l1-1h1v-3l1-1h1v-3l1-1h1v-3l1-1h1v-3l1-1h5v-1l1-1h1v-1l1-1h9v-3l1-1h1v-3l1-1h1v-1l1-1h7l1,1v3h1l1,1v3h5l1,1v3l-1,1h-3v1l-1,1h-3v3l-1,1h-5v1l-1,1h-1v1l-1,1h-1l-1-1v-1h-1l-1-1v-1h-1v5l-1,1h-3v1h1l1,1v3l-1,1h-1v1h3l1,1v5h1l1,1v5h5l1,1v2h2l1,1h2v-1l1-1h1v-3l1-1h7l1,1v1h3l1,1v1h9l1,1v1h3v-1l1-1h3v-1l1-1h1l1,1v1h5v-5l1-1v-1l-1-1v-1h-19v1l-1,1h-1l-1-1v-3h-1v1l-1,1h-3l-1-1v-1h-1l-1-1v-9l1-1h1v-1l1-1h1v-1l1-1h1v-1l1-1h3l1,1v1h3l1,1v1h1v-1l1-1h5v-1l1-1h3v-5l1-1h3l1,1v1h1v-5l1-1h3l1,1v1h1v-1l1-1h9l1,1v1h5l1,1v1h1l1,1v1h1l1,1v1l-1,1h-1v1h1l1,1v1h1l1,1v3h1l1,1v1h1l1,1v1h1l1,1v1h1l1,1v1l-1,1h-3v1l-1,1h-9v1l-1,1h-1v1l1-1h2l1-1h1l1,1h12l1,1v1l1,1v1l1,1v-1l1-1h3l1,1v1h1l1,1v1h3l1,1v1h1l1,1v1h1l1,1v3h1l1,1v3h1l1,1v3h1l1,1v1h3l1,1v3h3v-1l1-1h9l1,1v1h1v-1l1-1h1v-3l1-1h9v-1h-1l-1-1v-1h-1l-1-1v-3l1-1h3v-1h-3l-1-1v-1h-5l-1-1v-1l1-1h1v-1l1-1h3l1,1v1h1v-1l1-1h3l1,1v5h1l1,1v5l-1,1h-1v5h1l1,1v1h1v-1l1-1h1v-1l1-1h5l1,1v1h1v-1l1-1h3l1,1v1h5v-3h-3l-1-1v-3h-1l-1-1v-1l1-1h1v-3l1-1h1v-1l1-1h1l1,1v1h7l1,1v9h7v-1l1-1h9v-1l1-1h3l1,1v1h1l1,1v1h3l1,1v1h1v-7l1-1h1v-1l1-1h3v-1l1-1h3v-3l1-1h1v-7l1-1h1v-1h-1l-1-1v-3h-1l-1-1v-3h-3l-1-1v-5h-1l-1-1v-1l1-1h1v-1l1-1h3v-3l1-1h1v-1l1-1h1v-1l1-1h3v-1l1-1h3v-1l1-1h1v-3l1-1h5l1,1v1h1l1,1v1l-1,1h-1v1h1v-1l1-1h7v-1l1-1h5v-1l1-1h1v-5l1-1h1l1,1v1h1v-1l1-1h1v-1l1-1h1v-1h-1l-1-1v-1h-1l-1-1v-3l1-1h3l1,1v1h3v-3l1-1h1v-3h-1l-1-1v-5h-1l-1-1v-3l1-1h1v-1l1-1h1v-3l1-1h3v-1l1-1h1v-3h-1l-1-1v-1l1-1h3l1,1v1h1v-1l1-1h1v-5h-1l-1-1v-7h-3l-1-1v-1l1-1h1v-1l1-1h1v-3h-1l-1-1v-9l1-1h1v-3h-3l-1-1v-5h-1l-1-1v-1h-3l-1-1v-1h-7v1l-1,1h-5v1l-1,1h-1l-1-1v-1h-3v1l-1,1h-1v1l-1,1h-3v7h1l1,1v3h1l1,1v1l-1,1h-7v1l-1,1h-1v1l-1,1h-3v1l-1,1h-9v1l-1,1h-3v1l-1,1h-3l-1-1v-5h-3l-1-1v-1l1-1h5v-1l1-1h1v-1h-1l-1-1v-1h-1v1l-1,1h-3v1l-1,1h-3v1l-1,1h-9l-1-1v-1h-1l-1-1v-11l1-1h1v-9h-1l-1-1v-1l1-1h1v-1l1-1h1l1,1v1h1v-3l1-1h1v-1h-1l-1-1v-1l1-1h1v-1l1-1h1v-3l1-1h1l1,1v1h5l1,1v1h1v-1h-1l-1-1v-3l1-1h3v-3l1-1h5v-1h-5l-1-1v-3l1-1h3v-1l1-1h1l1,1v3h3v-1h-1l-1-1v-3l1-1h1v-3h-1l-1-1v-1h-1l-1-1v-9h-1l-1-1v-3l1-1h5v-5l1-1h1v-7l1-1h5v-3l1-1h1v-3l1-1h1v-3h-1v1l-1,1h-1l-1-1v-5l1-1h1v-1l1-1h1v-3l1-1h1v-1l1-1h1v-3h-1l-1-1v-1h-5l-1-1v-1h-1v1l-1,1h-1v3h5l1,1v3l-1,1h-5l-1-1v-1h-1l-1-1v-1h-1l-1-1v-3l1-1h1v-3l1-1h3v-5h-3v5l-1,1h-3l-1-1v-7l1-1h5v-1l1-1h1l1,1v1h5v-3h-3l-1-1v-1l1-1h1v-3l1-1h9v-1l1-1h5v-1l1-1h3v-1l1-1h1l1,1v1h1l1,1v3h13v-1l1-1h3v-3h-3l-1-1v-1h-1l-1-1v-1h-1l-1-1v-1l1-1h1v-1l1-1h1l1,1v1h3l1,1v3h1v-1l1-1h5l1,1v1l-1,1h-1v1l-1,1h-1v1h5v-1h-1l-1-1v-1l1-1h3v-1l1-1h1v-3l1-1h3v-3h-1l-1-1v-1l1-1h1v-1l1-1h3l1,1v1h1v-1l1-1h1l1,1v1h3v-1l1-1h3l1,1v1h3v-1h-1l-1-1v-3h-1l-1-1v-3h-1l-1-1v-1l1-1h1v-1l1-1h5v-1l1-1h5l1,1v1h1v-5l1-1h1v-1l1-1h1v-3l1-1h1v-1l1-1h5v-5h-1l-1-1v-9l1-1h1v-1l1-1h1v-5l1-1h3l1,1v3h3v-1l1-1h7l1,1v1h1l1,1v1h1l1,1v1h3l1,1v1h1l1,1v1h1l1,1v3h3v-1l1-1h1v-1l1-1h1v-5h-3l-1-1v-7h-5l-1-1v-5l1-1h1l1,1v1h1l1,1v1h5v-1l1-1h9v-1l1-1h5v-3l1-1h1v-1l1-1h1v-1l1-1h1v-1l1-1h1v-1l1-1h5v-1l1-1h3v-1l1-1h1v-3h-3v1l-1,1h-3l-1-1v-5l1-1h1v-1l1-1h1l1,1v1h3v-1l1-1h3v-5l1-1h1v-1l1-1h3v-1l1-1h1v-1l1-1h3v-3l1-1h1l1,1v1h1l1,1v1h3l1,1v1l-1,1h-1v1h5v-3h-3l-1-1v-3h-5l-1-1v-1h-5l-1-1v-1h-7v1l-1,1h-3l-1-1v-1h-1l-1-1v-1h-3l-1-1v-1h-1v1l-1,1h-1l-1-1v-3h-1l-1-1v-1h-1l-1-1v-1h-1l-1-1v-1h-3l-1-1v-1h-1l-1-1v-1h-1l-1-1v-1h-1l-1-1v-1h-1l-1-1v-1h-3v1l-1,1h-1l-1-1v-1h-1l-1-1v-3h-1l-1-1v-5h-1l-1-1v-3h-1l-1-1v-1l1-1h1v-1l1-1h1v-1l1-1h5l1,1v1h1l1,1v1h9l1,1v1h1l1,1v1h1l1,1v1h1v-1l1-1h3v-3l1-1h9v-1l1-1h1v-1l1-1h1l1,1v1h1v-1l1-1h3v-1l1-1h3v-3l1-1h1l1,1v1h1l1,1v1h1l1,1v3l-1,1h-3l-1-1v-1h-1v1h1l1,1v1l-1,1h-3l-1-1v-1h-3v3h1l1,1v1h1l1,1v3h1l1,1v1h1l1,1v1h3v-1l1-1h3l1,1v1h5l1,1v1h1l1,1v1h7l1,1v1h1l1,1v1h3l1,1v1h3v-3l1-1h1v-1l1-1h1l1,1v1h1l1,1v1h1v-1l1-1h1v-1l1-1h3l1,1v1l-1,1h-1v5h1v-1l1-1h1v-1l1-1h1v-1l1-1h1v-1l1-1h9v-3l1-1h1v-1l1-1h1v-1l1-1h1v-1l1-1h1v-3h-1l-1-1v-9h-3l-1-1v-7h-5v1l-1,1h-17l-1-1v-1h-1l-1-1v-1h-1v1l-1,1h-5l-1-1v-1h-3l-1-1v-1l1-1h1v-5l1-1h3v-1l1-1h3v-1l1-1h3v-1l1-1h3v-1l1-1h1v-1h-5v1l-1,1h-3v3l-1,1h-1l-1-1v-1h-1l-1-1v-9l1-1h1v-1l1-1h3v-1l1-1h3v-1l1-1h9v-3l1-1h1v-1h-3l-1-1v-1h-3l-1-1v-1h-3l-1-1v-11h-1l-1-1v-1h-1l-1-1v-3h-1l-1-1v-5l1-1h1v-1l1-1h1v-1h-1l-1-1v-1h-1l-1-1v-1h-1v1l-1,1h-5v1l-1,1h-1v1l-1,1h-1v1l-1,1h-5v1l-1,1h-1v1l-1,1h-1v3l-1,1h-1v7l-1,1h-7v3h5l1,1v1h5l1,1v1h1l1,1v1h1l1,1v1l-1,1h-1v3h1l1,1v1l-1,1h-1v7h1l1,1v1l-1,1h-5v1l-1,1h-1l-1-1v-3h-1l-1-1v-1h-3v3l-1,1h-3l-1-1v-3l1-1h1v-1h-1l-1-1v-1h-1l-1-1v-1h-3l-1-1v-1h-1v7l-1,1h-3v3l-1,1h-5v5h1l1,1v1h1l1,1v3h7l1,1v1l-1,1h-1v1l-1,1h-3l-1-1v-1h-3v1l-1,1h-3l-1-1v-1h-9l-1-1v-1h-1l-1-1v-1h-3l-1-1v-9l1-1h1v-3l1-1h3v-1l1-1h1l1,1v1h1l1,1v3h3v-1l1-1h3v-1l1-1h1v-5l1-1h1v-3h-1l-1-1v-1h-1l-1-1v-3l1-1h3v-1l1-1h1l1,1v1h1l1,1v1h1v-5l1-1h1v-1l1-1h3v-1h-1l-1-1v-1h-1l-1-1v-1h-1v1l-1,1h-9l-1-1v-1h-5v1l-1,1h-1l-1-1v-1h-1l-1-1v-3h-3v1l-1,1h-3l-1-1v-1h-1l-1-1v-1h-1l-1-1v-5l1-1h3v-1l1-1h1v-3l1-1h7v-1l1-1h3l1,1v3h1v-1l1-1h1v-3l1-1h1v-3l1-1h1v-1l1-1h7l1,1v1h3v-1l1-1h1v-3l1-1h9v-1l1-1h5l1,1v1l-1,1h-1v1h1l1,1v1h3v-1l1-1h5l1,1v1h3l1,1v5h3v-1l1-1h1v-1l1-1h1v-1l1-1h1l1,1v1h3l1,1v1h1l1,1v1h3l1,1v1h1l1,1v1h1l1,1v1l-1,1h-1v3l-1,1h-1v1h1v-1l1-1h1v-1l1-1h3l1,1v5l-1,1h-3v3h3l6-6h1l1-1v-2h-1l-1-1v-1h-1l-1-1v-1h-1l-1-1v-1h-3l-1-1v-1l1-1h1v-1l1-1h1v-3l1-1h1v-3h-1l-1-1h-1l-1,1h-3v1l-1,1h-9l-1-1v-1h-1l-2-2h-2l-1-1v-1l-2-2h-3v3l-1,1h-1l-1-1v-2h-1l-1,1h-3v1l-1,1h-1l-1-1v-1h-1l-1-1v-1h-1l-1-1v-1h-7l-1-1v-3h-3l-1-1v-1h-2l-1,1h-4l-1,1h-2l-1,1l-1-1h-1l-1-1h-1l-1,1h-1v1l-1,1h-3l-1-1v-1h-1v5l-1,1h-1l-1-1v-1h-1l-1-1v-3h-5l-1-1v-1h-1l-1-1v-9h-1l-1-1v-3h-1l-1-1v-1h-1l-1-1v-1l1-1h1v-1h-4v8l-1,1h-26l-1,1h-13v1l-1,1h-1v1l-1,1h-5l-1-1v-1h-1l-1-1v-1h-3l-1-1h-11l-1-1h-26l-1-1h-27l-1-1h-15l-1-1h-15l-1-1h-15l-1-1h-8l-1,1h-27l-1-1v-1h-1l-1-1v-1h-3l-1-1h-8l-1-1zM467,742l1-1h1l1,1v1l-1,1h-1l-1-1zM513,716l1-1h1l1,1v1h1v-1l1-1h1l1,1v3h3l1,1v1h1l1,1v1l-1,1h-1v1l-1,1h-3v1l-1,1h-5l-1-1v-1h-1l-1-1v-1h-1l-1-1v-5l1-1h3zM377,694l1-1h3l1,1v1l-1,1h-3l-1-1zM577,688l1-1h1l1,1v1l-1,1h-1l-1-1zM539,684l1-1h3l1,1v3l-1,1h-1v1l-1,1h-3l-1-1v-3l1-1h1zM547,678l1-1h1l1,1v1l-1,1h-1l-1-1zM559,676l1-1h3l1,1v1l-1,1h-3l-1-1zM575,674l1-1h5l1,1v1h1l1,1v5l-1,1h-1l-1-1v-3h-1l-1-1v-1h-3l-1-1zM551,672l1-1h3l1,1v1l-1,1h-1v1l-1,1h-1l-1-1zM471,650l1-1h1l1,1v3l-1,1h-1l-1-1zM573,646l1-1h1l1,1v1l-1,1h-1l-1-1zM395,644l1-1h1l1,1v1l-1,1h-1l-1-1zM581,638l1-1h1l1,1v7l-1,1h-1v1l-1,1h-1l-1-1v-1h-3l-1-1v-3l1-1h3v-1l1-1h1zM607,636l1-1h3l1,1v3l-1,1h-5l-1-1v-1l1-1h1zM537,636l1-1h3l1,1v3l-1,1h-1l-1-1v-1h-1l-1-1zM513,636l1-1h1l1,1v3l-1,1h-1l-1-1zM507,636l1-1h3l1,1v1l-1,1h-3l-1-1zM599,632l1-1h1l1,1v1l-1,1h-1l-1-1zM517,632l1-1h1l1,1v1l-1,1h-1l-1-1zM461,632l1-1h3l1,1v1h1l1,1v1h1l1,1v1h3v-3l1-1h1l1,1v5h1l1,1v1h3l1,1v3l-1,1h-5l-1-1v-1h-5l-1-1v-1h-1l-1-1v-1h-1l-1-1v-1h-1l-1-1v-1h-1l-1-1zM537,622l1-1h3l1,1v3l-1,1h-3l-1-1zM451,616l1-1h1l1,1v1l-1,1h-1l-1-1zM471,612l1-1h1l1,1v3l-1,1h-1l-1-1zM493,608l1-1h1l1,1v1h3v-1l1-1h1l1,1v1h1l1,1v3h1l1,1v1h3v-7l1-1h7l1,1v5l-1,1h-3v1l-1,1h-1v1l-1,1h-3v5l-1,1h-1l-1-1v-1h-1v1l-1,1h-1v1l-1,1h-1v1l-1,1h-5v1l-1,1h-1v1l-1,1h-1v1l-1,1h-5v1l-1,1h-1v3l-1,1h-1l-1-1v-7h-1l-1-1v-1h-1l-1-1v-1h-1l-1-1v-1h-1l-1-1v-1l1-1h1v-1l1-1h1v-1l1-1h1v-1l1-1h1l1,1v1h1v-1l1-1h1v-1l1-1h3v-3l1-1h3v-1l1-1h1zM439,606l1-1h1l1,1v1l-1,1h-1l-1-1zM403,606l1-1h3l1,1v1l-1,1h-3l-1-1zM469,602l1-1h1l1,1v3l-1,1h-1l-1-1zM461,602l1-1h3l1,1v1h1l1,1v1l-1,1h-5l-1-1zM389,598l1-1h1l1,1v1l-1,1h-1l-1-1zM491,596l1-1h1l1,1v3l-1,1h-1l-1-1zM477,590l1-1h1l1,1v1h1l1,1v3l-1,1h-1v1h1l1,1v3l-1,1h-1v1h1l1,1v3h1l1,1v5l-1,1h-1l-1-1v-1h-3l-1-1v-1h-1l-1-1v-7h-3l-1-1v-5l1-1h5zM491,586l1-1h1l1,1v3l-1,1h-1l-1-1zM501,584l1-1h1l1,1v1l-1,1h-1l-1-1zM497,584l1-1h1l1,1v1h1l1,1v1l-1,1h-3l-1-1zM421,580l1-1h1l1,1v1h1l1,1v1h1v-1l1-1h1l1,1v1h1l1,1v7h3l1,1v1h1l1,1v1l-1,1h-3v11h3l1,1v1h1l1,1v5l-1,1h-5v3l-1,1h-1v3h1l1,1v1h1l1,1v1h3l1,1v1h1l1,1v3h1l1,1v1h1l1,1v1h1l1,1v3l-1,1h-1v1l-1,1h-1v5h5l1,1v1h1l1,1v1h1l1,1v1h1l1,1v3h3l1,1v1h11v-1l1-1h1v-1l1-1h5l1,1v1h1l1,1v3h1l1,1v1h1v-1l1-1h1v-1l1-1h1l1,1v1h3v-5l1-1h1l1,1v1h1l1,1v1h3l1,1v3l-1,1h-3v1l-1,1h-1v1l-1,1h-1v1l-1,1h-1v1l-1,1h-3l-1-1v-1h-11v1l-1,1h-9v1l-1,1h-1v3l-1,1h-7l-1-1v-1h-3v1l-1,1h-3l-1-1v-1h-1v1l-1,1h-1v3h1l1,1v7h1l1,1v3h3l1,1v9l-1,1h-3v5l-1,1h-1l-1-1v-1h-3l-1-1v-1h-3v3l-1,1h-1l-1-1v-7h-1l-1-1v-1h-5v1l-1,1h-11l-1-1v-1h-1l-1-1v-1h-3l-1-1v-11h-3v1l-1,1h-1v1l-1,1h-3l-1-1v-1h-7l-1-1v-1h-1v1l-1,1h-3l-1-1v-1h-1l-1-1v-9h-1l-1-1v-7l1-1h13l1,1v3h1v-3h-1l-1-1v-3l1-1h1v-1l1-1h1v-1l1-1h1v-1l1-1h3l1,1v3h1v-1l1-1h5l1,1v5h1l1,1v7l-1,1h-1v1l-1,1h-1v1h1l1,1v5h7v-1l1-1h1v-1h-1l-1-1v-9h-1l-1-1v-15l1-1h1v-5l1-1h5v-1h-1l-1-1v-1h-1l-1-1v-1h-1l-1-1v-1h-3l-1-1v-1h-1l-1-1v-1h-3l-1-1v-1h-9l-1-1v-1h-1l-1-1v-3h-5v3h3l1,1v3l-1,1h-3v1l-1,1h-1v1l-1,1h-3l-1-1v-3h-1l-1-1v-3l1-1h3v-5h-1v1l-1,1h-1l-1-1v-5l1-1h1v-5l1-1h1v-3l1-1h1v-1l1-1h3l1,1v1h3l1,1v1h7l1,1v1h1l1,1v1h5l1,1v1h3v-7h-3l-1-1v-1h-1l-1-1v-5h-1l-1-1v-1h-1l-1-1v-3l1-1h1v-1l1-1h3v-3l1-1h1v-3l1-1h1v-3l1-1h1zM469,578l1-1h1l1,1v1l-1,1h-1l-1-1zM503,576l1-1h1l1,1v1h1l1,1v3l-1,1h-3l-1-1zM539,572l1-1h3l1,1v1l-1,1h-3l-1-1zM543,564l1-1h1l1,1v1l-1,1h-1l-1-1zM529,562l1-1h3l1,1v1h1l1,1v7l-1,1h-3l-1-1v-1l1-1h1v-1h-1l-1-1v-1h-1l-1-1zM537,556l1-1h1l1,1v1l-1,1h-1l-1-1zM419,556l1-1h3l1,1v1l-1,1h-3l-1-1zM429,554l1-1h3l1,1v1h1l1,1v5l-1,1h-3l-1-1v-3h-1l-1-1zM543,548l1-1h1l1,1v9l-1,1h-1l-1-1v-5h-1l-1-1v-1l1-1h1zM411,544l1-1h1l1,1v1l-1,1h-1l-1-1zM359,540l1-1h11l1,1v1h1l1,1v1h1l1,1v1h1l1,1v1h1l1,1v5h1l1,1v1h1l1,1v1h7l1,1v1h3v-1l1-1h1l1,1v11l-1,1h-1v1l-1,1h-5v1l-1,1h-1l-1-1v-1h-1v5l-1,1h-1l-1-1v-1h-1l-1-1v-3l1-1h1v-1l1-1h3v-3h-7v1l-1,1h-5v1l-1,1h-13l-1-1v-1h-1v1l-1,1h-7l-1-1v-1h-1l-1-1v-1h-1l-1-1v-3h-1l-1-1v-7l1-1h7v-3l1-1h1v-1l1-1h1v-1l1-1h1v-1l1-1h1zM533,532l1-1h3l1,1v3l-1,1h-1l-1-1v-1h-1l-1-1zM541,522l1-1h1l1,1v1l-1,1h-1l-1-1zM363,520l1-1h1l1,1v1h1l1,1v5l-1,1h-1l-1-1v-1h-3l-1-1v-1l1-1h1zM443,490l1-1h1l1,1v1l-1,1h-1l-1-1zM389,478l1-1h1l1,1v1h9l1,1v1h3v-1l1-1h3l1,1v1h3l1,1v1h3l1,1v1h1l1,1v3h1v-1l1-1h11l1,1v3h1l1,1v1l-1,1h-3v1h1l1,1v1h1l1,1v5h3l1,1v1h1l1,1v3l-1,1h-1v1l-1,1h-1v1l-1,1h-1v1l-1,1h-1v3l-1,1h-1v1l-1,1h-7v7h1l1,1v3l-1,1h-3l-1-1v-1h-3v1l-1,1h-1v1l-1,1h-3v7l-1,1h-5l-1-1v-1l1-1h1v-3h-5v1l-1,1h-1v1l-1,1h-1v3h1l1,1v3l-1,1h-3l-1-1v-5h-1l-1-1v-1h-3l-1-1v-3h-1l-1-1v-1h-1l-1-1v-1h-1l-1-1v-3l1-1h1l1,1v1h1l1,1v1h1v-1l1-1h1v-1h-3l-1-1v-5l1-1h1v-1h-3l-1-1v-3h-1l-1-1v-3h-3l-1-1v-1h-3l-1-1v-5h-1l-1-1v-3h-1l-1-1v-1l1-1h1v-9h-1l-1-1v-1l1-1h1v-1l1-1h3l1,1v9l-1,1h-1v1h3v-1l1-1h1v-5l1-1h1v-1l1-1h5v-5h-1l-1-1v-1l1-1h1zM417,476l1-1h3l1,1v5l-1,1h-5l-1-1v-3l1-1h1zM403,476l1-1h1l1,1v3l-1,1h-1l-1-1zM559,474l1-1h7l1,1v3l-1,1h-3l-1-1v-1h-3l-1-1zM465,474l1-1h1l1,1v1l-1,1h-1l-1-1zM597,472l1-1h1l1,1v1l-1,1h-1l-1-1zM395,472l1-1h1l1,1v5l-1,1h-1l-1-1v-1h-1l-1-1v-1l1-1h1zM379,464l1-1h3l1,1v3l-1,1h-1v1l-1,1h-1l-1-1v-1h-1l-1-1v-1l1-1h1zM371,464l1-1h3l1,1v3l-1,1h-3v1l-1,1h-1l-1-1v-3l1-1h1zM601,462l1-1h1l1,1v1l-1,1h-1l-1-1zM427,460l1-1h1l1,1v3l-1,1h-1v1l-1,1h-1v1l-1,1h-7v1l-1,1h-5l-1-1v-3l1-1h5v-1l1-1h1l1,1v1h3v-1l1-1h1v-1l1-1h1zM333,460l1-1h3l1,1v3l-1,1h-3l-1-1zM587,458l1-1h1l1,1v1l-1,1h-1l-1-1zM331,452l1-1h1l1,1v1l-1,1h-1l-1-1zM613,450l1-1h3l1,1v1h3v-1l1-1h1l1,1v1h1l1,1v5h1l1,1v1l-1,1h-9l-1-1v-1h-3l-1-1zM189,446l1-1h1l1,1v1h1l1,1v1l-1,1h-3v1l-1,1h-3l-1-1v-3l1-1h3zM625,444l1-1h5l1,1v5l-1,1h-1l-1-1v-1h-1l-1-1v-1h-1l-1-1zM471,436l1-1h5l1,1v3l-1,1h-1v3h3l1,1v1h5l1,1v1h1l1,1v1h7l1,1v1h5l1,1v1h11v-1l1-1h5v-1l1-1h1l1,1v1h3l1,1v1h9v-1l1-1h1v-1l1-1h3v-1l1-1h9l1,1v1h1v-1l1-1h1v-1l1-1h7l1,1v3h1l1,1v9h1l1,1v1l-1,1h-1v1l-1,1h-5v3l-1,1h-1v5l-1,1h-1l-1-1v-1h-1v1l-1,1h-1v1l-1,1h-1v1l-1,1h-1v5l-1,1h-1v3h1l1,1v11h1l1,1v1l-1,1h-1v1l-1,1h-1v1l-1,1h-1v1l-1,1h-1v5l-1,1h-1v3l-1,1h-1v1l-1,1h-3v5h3l1,1v3l-1,1h-3l-1-1v-1h-3v1l-1,1h-1v3h3l1,1v1l-1,1h-3v7l-1,1h-1v5h1v-1l1-1h1v-1l1-1h3v-1l1-1h3l1,1v1h1l1,1v3l-1,1h-1v3l-1,1h-13v1l-1,1h-1l-1-1v-1h-1l-1-1v-1h-1l-1-1v-1l1-1h3l1,1v1h1v-1h-1l-1-1v-1l1-1h1v-1h-3l-1-1v-1h-5l-1-1v-1h-5v1l-1,1h-7v1l-1,1h-1v1l-1,1h-3v1l-1,1h-1v1l-1,1h-1v1l-1,1h-3v1l-1,1h-1v1l-1,1h-11v1l-1,1h-1v1l-1,1h-1v3l-1,1h-1v1l-1,1h-5v1l-1,1h-1v11l-1,1h-1v1h7l1,1v1h3l1,1v3h1l1,1v7l-1,1h-7v3l-1,1h-1l-1-1v-5l1-1h1v-1h-1v1l-1,1h-1l-1-1v-1h-1l-1-1v-7h-1l-1-1v-1h-3v1l-1,1h-3l-1-1v-1h-3l-1-1v-1h-1l-1-1v-1h-1l-1-1v-15l1-1h1v-1l1-1h3v-3h-1l-1-1v-1h-5l-1-1v-1h-1l-1-1v-1h-1l-1-1v-1h-1l-1-1v-5l1-1h1v-1l1-1h1v-5h-1l-1-1v-1l1-1h1v-5l1-1h1v-1l1-1h1v-7l1-1h1v-3l1-1h1v-1l1-1h1v-1l1-1h3v-1l1-1h3v-1l1-1h1v-7h-1v1l-1,1h-1l-1-1v-3h-1l-1-1v-3l1-1h5v-5l1-1h3l1,1v3h3l1,1v1h1v-1l1-1h1v-1l1-1h1v-5l1-1h1v-3l1-1h3v-3h-1l-1-1v-1h-1l-1-1v-5h-1l-1-1v-11l1-1h1v-1h-1l-1-1v-7l1-1h1v-1l1-1h1zM453,436l1-1h1l1,1v1l-1,1h-1l-1-1zM339,436l1-1h3l1,1v1h7l1,1v1l-1,1h-1v1l-1,1h-1v1l-1,1h-1l-1-1v-1h-1l-1-1v-1h-1l-1-1v-1h-1l-1-1zM449,434l1-1h1l1,1v1l-1,1h-1l-1-1zM633,432l1-1h3l1,1v5h3l1,1v1l-1,1h-1v1l-1,1h-3v1l-1,1h-3l-1-1v-1l1-1h1zM507,432l1-1h1l1,1v1l-1,1h-1l-1-1zM497,432l1-1h1l1,1v1l-1,1h-1l-1-1zM471,432l1-1h1l1,1v1l-1,1h-1l-1-1zM511,430l1-1h5l1,1v1l-1,1h-1v1l-1,1h-3l-1-1zM475,430l1-1h1l1,1v1l-1,1h-1l-1-1zM397,430l1-1h3l1,1v3l-1,1h-3l-1-1zM481,428l1-1h1l1,1v1l-1,1h-1l-1-1zM519,424l1-1h3l1,1v5l-1,1h-3l-1-1zM399,422l1-1h5l1,1v1l-1,1h-5l-1-1zM647,416l1-1h3l1,1v1l-1,1h-3l-1-1zM603,416l1-1h7l1,1v1h1l1,1v3h3l1,1v9l-1,1h-1l-1-1v-1h-1v3h1l1,1v1l-1,1h-3v1l-1,1h-1v1l-1,1h-3v1l-1,1h-3v1h1l1,1v3h1l1,1v3l-1,1h-3l-1-1v-1h-3l-1-1v-3h-1v1l-1,1h-1v3l-1,1h-3v1l-1,1h-3v3l-1,1h-1v1l-1,1h-3v1l-1,1h-3l-1-1v-7h-1l-1-1v-3h-1l-1-1v-3h-1l-1-1v-7l1-1h1v-1l1-1h1v-1l1-1h3v-3l1-1h5l1,1v1h1l1,1v7h1v-1l1-1h1v-11l1-1h1v-3h-1l-1-1v-1l1-1h1v-1l1-1h3l1,1v1h1l1,1v1h3v-1l1-1h1zM185,414l1-1h3l1,1v1l-1,1h-3l-1-1zM173,412l1-1h7l1,1v3h3l1,1v1l-1,1h-3v1l-1,1h-5l-1-1v-1h-1l-1-1zM343,410l1-1h1l1,1v3l-1,1h-1l-1-1zM371,402l1-1h7l1,1v1h1l1,1v1h1l1,1v1h1l1,1v1h1v-1l1-1h5l1,1v1h3l1,1v1h3l1,1v1h1l1,1v1h1l1,1v1h1l1,1v1h1l1,1v3l-1,1h-1l-1-1v-1h-1l-1-1v-1h-3l-1-1v-1h-1v1l-1,1h-3l-1-1v-1h-3l-1-1v-1h-1l-1-1v-1h-3v3l-1,1h-1v1l-1,1h-1v3l-1,1h-3v1l-1,1h-1v1l-1,1h-7l-1-1v-1h-3l-1-1v-1h-1l-1-1v-1h-1l-1-1v-1h-1l-1-1v-1h-3v1l-1,1h-5l-1-1v-1h-1l-1-1v-3l1-1h5l1,1v1h5v-5l1-1h1v-1l1-1h1v-3l1-1h9zM619,400l1-1h1l1,1v1l-1,1h-1l-1-1zM197,400l1-1h1l1,1v1h1l1,1v3h1l1,1v1l-1,1h-1v1h1l1,1v1l-1,1h-3l-1-1v-1h-1l-1-1v-1h-1l-1-1v-3l1-1h1zM617,398l1-1h1l1,1v1l-1,1h-1l-1-1zM695,394l1-1h3l1,1v1l-1,1h-3l-1-1zM345,394l1-1h3l1,1v3l-1,1h-1v5l-1,1h-1v1l-1,1h-3l-1-1v-3l1-1h1v-5l1-1h1zM399,392l1-1h5l1,1v1l-1,1h-1v1l-1,1h-1l-1-1v-1h-1l-1-1zM337,390l1-1h1l1,1v3l-1,1h-1l-1-1zM609,388l1-1h1l1,1v3l-1,1h-1l-1-1zM729,380l1-1h3l1,1v1l-1,1h-1v1l-1,1h-1l-1-1zM607,380l1-1h1l1,1v1l-1,1h-1l-1-1zM605,378l1-1h1l1,1v1l-1,1h-1l-1-1zM595,376l1-1h1l1,1v5l-1,1h-3l-1-1v-3l1-1h1zM733,374l1-1h1l1,1v1l-1,1h-1l-1-1zM213,370l1-1h5l1,1v1h1l1,1v1h1l1,1v1l-1,1h-1v9l-1,1h-1v1l-1,1h-3v1l-1,1h-1v1l-1,1h-1v1h1l1,1v1h1l1,1v1h1l1,1v5l-1,1h-1l-1-1v-1h-1v1l-1,1h-3l-1-1v-1h-5l-1-1v-1h-1l-1-1v-1h-5l-1-1v-1h-3v1l-1,1h-1l-1-1v-1h-3v5h1l1,1v1h3l1,1v3l-1,1h-9l-1-1v-3h-1l-1-1v-3l1-1h1l1,1v1h1v-7h-1l-1-1v-1h-1l-1-1v-5h-1l-1-1v-1l1-1h1v-1l1-1h3l1,1v1h1v-1l1-1h1v-1l1-1h11v-1l1-1h7v-3l1-1h1l1,1v1h3zM549,368l1-1h3l1,1v1h1v-1l1-1h1l1,1v1h3l1,1v1h1l1,1v1h3l1,1v7h1l1,1v1l-1,1h-1v3h1l1,1v5l-1,1h-1v5l-1,1h-1v1l-1,1h-3v1l-1,1h-1v1l-1,1h-1v1l-1,1h-1v5l-1,1h-1v1l-1,1h-3v1l-1,1h-7l-1-1v-1h-1v1l-1,1h-3v7h1l1,1v1h3v-1l1-1h1l1,1v1h3l1,1v1l-1,1h-1v1l-1,1h-1v1l-1,1h-1v1l-1,1h-1v1l-1,1h-1v1l-1,1h-1l-1-1v-1h-3v1l-1,1h-3l-1-1v-1l1-1h1v-3h-1l-1-1v-3l1-1h1v-5h-1l-1-1v-3l1-1h1v-7l1-1h1v-1l1-1h1v-1l1-1h1v-5h-3l-1-1v-1h-1l-1-1v-3h-1l-1-1v-1l1-1h1v-7h-1l-1-1v-9l1-1h3v-1l1-1h3v-1l1-1h1l1,1v1h3v-1l1-1h5v-1l1-1h1zM585,364l1-1h1l1,1v1l-1,1h-1l-1-1zM535,364l1-1h1l1,1v1l-1,1h-1l-1-1zM601,362l1-1h1l1,1v1l-1,1h-1l-1-1zM527,362l1-1h3l1,1v1l-1,1h-3l-1-1zM363,360l1-1h1l1,1v1l-1,1h-1l-1-1zM357,358l1-1h3l1,1v3l-1,1h-3l-1-1zM741,354l1-1h1l1,1v1h1l1,1v1l-1,1h-3v1l-1,1h-3l-1-1v-1l1-1h1v-1l1-1h1zM523,354l1-1h1l1,1v1l-1,1h-1l-1-1zM531,352l1-1h1l1,1v1l-1,1h-1l-1-1zM725,350l1-1h1l1,1v1l-1,1h-1l-1-1zM705,350l1-1h1l1,1v1l-1,1h-1l-1-1zM589,350l1-1h1l1,1v3h3v-1l1-1h5l1,1v5l-1,1h-1v3l-1,1h-3l-1-1v-1h-5v1l-1,1h-3l-1-1v-1l1-1h1v-7l1-1h1zM291,350l1-1h1l1,1v3l-1,1h-3l-1-1v-1l1-1h1zM269,350l1-1h1l1,1v5h1v-1l1-1h7l1,1v1h1v-1l1-1h1l1,1v3h3v-1l1-1h3l1,1v1l-1,1h-1v3h1v-1l1-1h1v-3l1-1h1v-5l1-1h1l1,1v1h7l1,1v1h1l1,1v1h3v-1l1-1h1l1,1v1h9v-1l1-1h1l1,1v1h3v-1l1-1h1v-1l1-1h1l1,1v1h3l1,1v1h5v-1l1-1h3l1,1v3h1l1,1v9l-1,1h-1v3l-1,1h-1v1l-1,1h-1v3h1l1,1v3l-1,1h-1v3l-1,1h-3l-1-1v-3h-3v1l-1,1h-3l-1-1v-1h-1l-1-1v-3h-1v1l-1,1h-1l-1-1v-5h-1v1l-1,1h-1v5h7l1,1v1l-1,1h-1v3l-1,1h-5v1l-1,1h-5v1l-1,1h-5v5h1l1,1v7l-1,1h-1l-1-1v-1h-5v1l-1,1h-3l-1-1v-1h-3l-1-1v-5h-1l-1-1v-1h-1l-1-1v-5h-1l-1-1v-3l1-1h5v-1l1-1h3v-1h-3l-1-1v-3h-3v1l-1,1h-3l-1-1v-1h-5l-1-1v-1h-1l-1-1v-1h-1l-1-1v-1h-1l-1-1v-1h-1v1l-1,1h-3v1l-1,1h-7l-1-1v-1h-3l-1-1v-1h-1l-1-1v-1h-1l-1-1v-1h-5l-1-1v-1h-1l-1-1v-3l1-1h1v-1l1-1h5v-1h-3l-1-1v-1l1-1h11l1,1v1h3v-3l1-1h1zM227,350l1-1h17l1,1v1h1l1,1v1h1l1,1v1l-1,1h-1v1l-1,1h-1v1l-1,1h-1v3l-1,1h-5l-1-1v-1h-3l-1-1v-1h-3l-1-1v-1h-5l-1-1v-3l1-1h3zM39,350l1-1h5l1,1v1h1l1,1v3l-1,1h-1v1l-1,1h-1v1l-1,1h-1v1l-1,1h-1v1l-1,1h-3l-1-1v-1h-1l-1-1v-5l1-1h3v-1l1-1h1zM733,348l1-1h1l1,1v3l-1,1h-1l-1-1zM695,344l1-1h3l1,1v1l-1,1h-1v1l-1,1h-1l-1-1zM279,338l1-1h1l1,1v3h7l1,1v1l-1,1h-3v1l-1,1h-1l-1-1v-1h-3l-1-1zM217,338l1-1h1l1,1v1h1l1,1v5l-1,1h-3l-1-1zM301,334l1-1h3l1,1v1l-1,1h-1v3h1l1,1v1l-1,1h-1v3l-1,1h-1l-1-1v-3h-1l-1-1v-3l1-1h1zM293,334l1-1h1l1,1v1l-1,1h-1l-1-1zM589,330l1-1h1l1,1v9l-1,1h-1v1l-1,1h-1l-1-1v-5h-1l-1-1v-1l1-1h3zM687,328l1-1h1l1,1v1h1l1,1v5l-1,1h-1v1h1v-1l1-1h3l1,1v5l-1,1h-1v1l-1,1h-3l-1-1v-3h-5l-1-1v-3l1-1h1v-3l1-1h1zM287,326l1-1h3l1,1v3l-1,1h-5l-1-1v-1l1-1h1zM791,324l1-1h1l1,1v1h1l1,1v3l-1,1h-1l-1-1v-1h-1l-1-1zM273,324l1-1h1l1,1v1l-1,1h-1l-1-1zM249,324l1-1h5l1,1v1l-1,1h-1v1l-1,1h-3l-1-1zM61,324l1-1h3l1,1v1l-1,1h-3l-1-1zM563,322l1-1h1l1,1v3l-1,1h-1l-1-1zM557,322l1-1h1l1,1v3l-1,1h-1l-1-1zM699,314l1-1h1l1,1v5l-1,1h-7l-1-1v-1l1-1h3v-1l1-1h1zM625,314l1-1h1l1,1v1l-1,1h-1l-1-1zM287,314l1-1h7l1,1v1l-1,1h-1v1l-1,1h-5l-1-1zM685,312l1-1h5l1,1v3l-1,1h-3l-1-1v-1h-1l-1-1zM801,310l1-1h1l1,1v1l-1,1h-1l-1-1zM347,310l1-1h3l1,1v1l-1,1h-3l-1-1zM305,310l1-1h1l1,1v3l-1,1h-3l-1-1v-1l1-1h1zM255,310l1-1h5l1,1v3h3l1,1v1h3l1,1v1h1l1,1v3l-1,1h-3v1l-1,1h-5v1l-1,1h-1l-1-1v-5l1-1h3v-1h-1l-1-1v-1h-1l-1-1v-1h-1l-1-1v-1h-1l-1-1zM689,308l1-1h1l1,1v1l-1,1h-1l-1-1zM643,308l1-1h3l1,1v1l-1,1h-3l-1-1zM767,306l1-1h3l1,1v1l-1,1h-3l-1-1zM719,306l1-1h1l1,1v3l-1,1h-1l-1-1zM591,306l1-1h1l1,1v1l-1,1h-1l-1-1zM771,302l1-1h1l1,1v1h1l1,1v1l-1,1h-3l-1-1zM663,302l1-1h1l1,1v1h1l1,1v1h1l1,1v1l-1,1h-1v1h1l1,1v3l-1,1h-3v1l-1,1h-9l-1-1v-3h-1l-1-1v-1h-3l-1-1v-3l1-1h1v-1l1-1h1l1,1v1h1v-1l1-1h1l1,1v1h3v-1l1-1h1zM235,302l1-1h1l1,1v1l-1,1h-1l-1-1zM797,300l1-1h1l1,1v1l-1,1h-1l-1-1zM691,300l1-1h1l1,1v3l-1,1h-1l-1-1zM595,300l1-1h1l1,1v3l-1,1h-3l-1-1v-1l1-1h1zM233,296l1-1h1l1,1v5l-1,1h-1v1l-1,1h-3l-1-1v-3l1-1h1v-1l1-1h1zM249,294l1-1h1l1,1v1h1l1,1v1l-1,1h-1v1l-1,1h-1v1l-1,1h-5l-1-1v-1l1-1h1v-1l1-1h3zM313,290l1-1h1l1,1v1l-1,1h-1l-1-1zM309,290l1-1h1l1,1v1l-1,1h-1l-1-1zM665,284l1-1h1l1,1v1h3v-1l1-1h1l1,1v3h3v-1l1-1h3l1,1v3l-1,1h-15l-1-1zM301,282l1-1h1l1,1v1h1l1,1v3h1l1,1v3l-1,1h-1v3l-1,1h-1l-1-1v-1h-1l-1-1v-5l1-1h1v-1h-1l-1-1zM279,282l1-1h1l1,1v1l-1,1h-1l-1-1zM701,276l1-1h1l1,1v1h1l1,1v3h1l1,1v3l-1,1h-1v1l-1,1h-1v1l-1,1h-1v3h5l1,1v3l-1,1h-7l-1-1v-1h-1l-1-1v-7h-7l-1-1v-3l1-1h7v-1l1-1h3v-1h-1l-1-1v-1l1-1h1zM649,274l1-1h3l1,1v1l-1,1h-3l-1-1zM255,274l1-1h1l1,1v1l-1,1h-1l-1-1zM671,272l1-1h1l1,1v1l-1,1h-1l-1-1zM759,270l1-1h1l1,1v1l-1,1h-1l-1-1zM681,266l1-1h9l1,1v1l-1,1h-1v1l-1,1h-3l-1-1v-1h-1v3l-1,1h-3l-1-1v-3l1-1h1zM605,266l1-1h1l1,1v1l-1,1h-1l-1-1zM231,266l1-1h1l1,1v1h1l1,1v1h5v-1l1-1h1l1,1v5l-1,1h-1v3h1l1,1v3l-1,1h-7v1l-1,1h-3v7l-1,1h-5v3l-1,1h-1l-1-1v-3h-1l-1-1v-1h-1l-1-1v-7l1-1h3l1,1v1h1l1,1v1h1v-1l1-1h1v-1l1-1h3v-3h-1l-1-1v-1l1-1h3v-3h-3l-1-1v-1h-3v3l-1,1h-1l-1-1v-1h-1v1l-1,1h-1l-1-1v-5l1-1h9zM169,266l1-1h3l1,1v3h1l1,1v1h1l1,1v3l-1,1h-1v1l-1,1h-1l-1-1v-3h-3l-1-1zM729,264l1-1h1l1,1v1l-1,1h-1l-1-1zM607,262l1-1h1l1,1v1l-1,1h-1l-1-1zM589,258l1-1h3l1,1v1l-1,1h-1v1l-1,1h-1l-1-1zM295,258l1-1h1l1,1v1l-1,1h-1l-1-1zM727,254l1-1h5l1,1v1l-1,1h-5l-1-1zM703,242l1-1h5l1,1v5l-1,1h-3v1l-1,1h-3v1l-1,1h-1l-1-1v-3l1-1h1v-1l1-1h1zM721,240l1-1h1l1,1v1h1l1,1v1l-1,1h-1v1l-1,1h-3l-1-1v-1h-1l-1-1v-1l1-1h3zM717,238l1-1h3l1,1v1l-1,1h-3l-1-1zM723,236l1-1h1l1,1v1l-1,1h-1l-1-1zM553,232l1-1h1l1,1v1l-1,1h-1l-1-1zM151,226l1-1h1l1,1v1l-1,1h-1l-1-1zM151,220l1-1h1l1,1v3l-1,1h-1l-1-1zM189,206l1-1h1l1,1v3l-1,1h-1l-1-1zM735,198l1-1h1l1,1v1l-1,1h-1l-1-1zM244,152v3h3v-1h-1l-1-1v-1zM1310,150l-2,2h-1l-2,2h-1l-1,1h-1v8l-1,1h-1v1l-1,1h-1v1l-1,1h-5v1l-1,1h-6v1l-1,1v2l-1,1v3l-1,1v4l-1,1v5l-1,1v5l-1,1v15l1,1v6l-1,1v1l-1,1v1l-1,1v1l-1,1v1l-2,2v3l-1,1h-1v3l-1,1h-1v3l-1,1h-3v3l-1,1h-1v1l-1,1h-3l-1-1v-1h-5l-1,1h-4l-1,1h-3l-1,1h-3l-1,1h-3l-1,1h-2l-1,1h-3l-1,1h-3l-1,1h-1v1l-1,1h-9l-1,1h-4l-1,1h-3l-1,1h-3l-1,1h-4v1l-1,1h-8l-10,10v1l1,1v3l-1,1h-1v1l-1,1h-2v1l-1,1v3l-1,1h-1v1l-1,1v1l-4,4h-1l-2,2v3l-1,1v7l5,5v1l1,1v3l-3,3h-1l-4,4h4v-1l1-1h3l1,1v1h1v-1l1-1h7v-1l1-1h1l1,1v1h1l1,1v1h1l1,1v3h1l1,1v7h3l1,1v3l-1,1h-1v1h1l1,1v1l-1,1h-5v5l-1,1h-1l-1-1v-1h-5v1l-1,1h-3v1l-1,1h-13v1l-1,1h-1v1h5l1,1v1l-1,1h-1v3h3l1,1v5h1l1,1v1l-1,1h-5v1l-1,1h-1v3l-1,1h-1l-1-1v-1h-1v1l-1,1h-3v1l-1,1h-1l-1-1v-3h-1l-1-1v-1h-1l-1-1v-1h-1v3l-1,1h-13l-1-1v-3l1-1h1v-3h-1l-1-1v-3h-1l-1-1v-1h-1l-1-1v-3h-1l-1-1v-1h-1l-1-1v-3h-3l-1-1v-1l1-1h1v-3l1-1h3v-7l1-1h3l1,1v1h3l1,1v1h3l1,1v1l-1,1h-1v3h3l1,1v1h1v-5l1-1h1v-1l1-1h1v-1l1-1h1v-3h-3l-1-1v-1l1-1h1v-1h-10l-1-1h-4l-1,1h-3l-1,1h-1v2l-1,1h-5v1l-1,1h-1l-1-1v-1h-1l-1,1h-1v2l-1,1h-3v3h1l1,1v1l-1,1l1-1h3l1,1v3l-1,1h-1v1h3l1,1v5h3l1,1v3l-1,1h-1v3l-1,1h-1v1l-1,1h-3l-1-1v-1h-3l-1-1v-1h-1v1l-1,1h-1l-2,2v1l-1,1h-1v1l-5,5h-1v1l-1,1h-1v5h3l1,1v1l-1,1h-1v1l-1,1h-1v5h1l1,1v1h3l1,1v1l-1,1h-5v1l-1,1h-1v1l-1,1h-1v1l-1,1h-1v3h1l1,1v1h1l1,1v7l-1,1h-1v3l-1,1h-1v3h1v-1l1-1h5v-1l1-1h1v-1l1-1h1v-1l1-1h3v-1l1-1h3l1,1v3l-1,1h-3v5l-1,1h-1v1l-1,1h-1v1l-1,1h-3v1l-1,1h-1v1l-1,1h-1v3l-1,1h-1v3h1l1,1v5l-1,1h-1v1h3l1,1v1l-1,1h-1v3l-1,1h-1l-1-1v-1h-1l-1-1v-1h-3l-1-1v-1h-1l-1-1v-1h-1v1l-1,1h-1v1h1l1,1v1h3l1,1v5h1l1,1v1h1v-1l1-1h1v-1l1-1h1v-1l1-1h1l1,1v1h3v-1l1-1h3v-1l1-1h1v-3l1-1h5l1,1v1h1v-1h-1l-1-1v-7l1-1h1v-1l1-1h3v-1l1-1h3v-1l1-1h3v-1l1-1h11v-1l1-1h1l1,1v1h3l1,1v1h1l1,1v1h3l1,1v5h1l1,1v1h1l1,1v5h1l1,1v1h1l1,1v1h3v-3l1-1h3l1,1v1h3v-1h-1l-1-1v-3h-3l-1-1v-1l1-1h3v-1l1-1h5v-1l1-1h3l1,1v1l-1,1h-1v1h1l1,1v1h5v-3l1-1h1v-1l1-1h1l1,1v1h1v-1l1-1h5l1,1v1h3l1,1v1h1v-3l1-1h5v-5h-3l-1-1v-3h-1v1l-1,1h-1v1l-1,1h-9l-1-1v-5l1-1h1v-5h-1l-1-1v-1h-1l-1-1v-3l1-1h1v-3l1-1h3l1,1v1h1v-3l1-1h5v-1l1-1h1v-1l1-1h1v-1l1-1h1v-1l1-1h5l1,1v1h1v-1l1-1h7l1,1v1h1l1,1v3h1v-1l1-1h1v-7h-1l-1-1v-1h-1l-1-1v-1h-1l-1-1v-7h-1l-1-1v-1l1-1h1v-5h-5l-1-1v-3h-1l-1-1v-3l1-1h1v-3l1-1h1v-1l1-1h1v-3h-1l-1-1v-1h-1l-1-1v-5l1-1h5l1,1v1h1l1,1v1h1v-1l1-1h9v-1l1-1h1v-1h-1l-1-1v-5h-3l-1-1v-1h-1l-1-1v-1h-1l-1-1v-7h-1l-1-1v-1h-1l-1-1v-7l1-1h1v-1l1-1h1v-1l1-1h3v-5h-1l-1-1v-9h-1l-1-1v-1h-1l-1-1v-1h-1l-1-1v-5h-1l-1-1v-5l1-1h1v-3l1-1h1v-1l1-1h1v-1h-1l-1-1v-5h-1l-1-1v-3h-5v1l-1,1h-3l-1-1v-1l1-1h1v-3l1-1h9v-1l1-1h1v-1l1-1h1v-1l1-1h3v-1l1-1h5v-1l1-1h1l1,1v5h3l1,1v1h5l1,1v1h1v-1l1-1h1v-1l1-1h3v-1l1-1h5l1,1v1h1l1,1v5l-1,1h-1v3l-1,1h-1v3l-1,1h-1v5l-1,1h-1v1l-1,1h-3v1l-1,1h-3v1l-1,1h-3l-1-1v-1h-5v7l-1,1h-1v9h1l1,1v7l-1,1h-1v1h1l1,1v1h3l1,1v1h1l1,1v5l-1,1h-1v3h1l1,1v1h7l1,1v1h15v-5l1-1h7v-3l1-1h3l1,1v1h13l1,1v3l-1,1h-1v1l-1,1h-1v3h1l1,1v3l-1,1h-7v1l-1,1h-3v1l-1,1h-3v1l-1,1h-5l-1-1v-1h-3l-1-1v-1h-1v1l-1,1h-9l-1-1v-1h-3v1h1l1,1v9h1l1,1v1h3l1,1v3l-1,1h-1v1l-1,1h-3v1h1l1,1v1h3l1,1v3l-1,1h-3v3h1v-1l1-1h1v-1l1-1h1v-5l1-1h3v-1l1-1h1v-3l1-1h11l1,1v3h1v-1l1-1h9l1,1v1h1v-1l1-1h5l1,1v1h1v-3l1-1h3v-7l1-1h3v-1l1-1h3l1,1v1h1v-1l1-1h5v-5h-5l-1-1v-1l1-1h3h-1l-4-4v2l-1,1h-3l-1-1v-1l1-1h1v-3h-11l-1-1v-5h-1l-1-1v-1h-1l-1-1v-1l1-1h1v-9l1-1h5v-3l1-1h1v-7l1-1h1v-1l1-1v-2l1-1v-2l1-1v-3l1-1v-2l1-1v-1l3-3h1l4-4h1l3-3h1l2-2h1l2-2h1l3-3h1l3-3h1v-1l1-1h1v-1l1-1h1v-3l1-1h1v-1l1-1h1v-3l1-1h1v-5l1-1h1v-1l1-1h5v-3h-7l-1-1v-1h-1l-1-1v-3l1-1h1v-3l1-1h3v-5l1-1h3l1,1v1h3l1,1v1l-1,1h-1v1h1l1,1v1h1l1,1v3h3l1,1v1l1-1v-1l2-2v-1l1-1v-1h-2l-1-1v-3h-5l-1-1v-1h-1l-1-1v-1h-1l-1-1v-3h-1l-1-1v-1h-3l-1-1v-3h-1l-1-1v-1h-5l-1-1v-3h-1l-1-1v-3l1-1h2l-1-1v-2h-1l-1-1v-6l-1-1v-1l-1-1v-2l-1-1v-2l-1-1v-2l-1-1v-3l-1-1v-2l-1-1v-2l-1-1v-3l-1-1v-1l-2-2h-1l-2-2h-5l-1-1v-1zM1151,444l1-1h1l1,1v1l-1,1h-1l-1-1zM1095,440l1-1h1l1,1v3l-1,1h-1v1l-1,1h-1l-1-1v-3l1-1h1zM1151,428l1-1h1l1,1v1l-1,1h-1l-1-1zM1143,424l1-1h1l1,1v3l-1,1h-1l-1-1zM1155,420l1-1h3l1,1v1h1l1,1v1h3l1,1v1l-1,1h-5l-1-1v-1h-1l-1-1v-1h-1l-1-1zM1127,390l1-1h9l1,1v1l-1,1h-1v5l-1,1h-1v3h1v-3l1-1h1l1,1v1h1l1,1v1h1v-1l1-1h1v-1l1-1h3v-3h-1l-1-1v-1l1-1h1v-1l1-1h3l1,1v1h5l1,1v3h1l1,1v1h5l1,1v5l-1,1h-1v3l-1,1h-1v5l-1,1h-1v1l-1,1h-11v1l-1,1h-7v1l-1,1h-3l-1-1v-3h-3l-1-1v-1h-3v1l-1,1h-3v1l-1,1h-3l-1-1v-1h-1l-1-1v-1h-1l-1-1v-3h-1l-1-1v-1l1-1h1v-1h-1l-1-1v-1h-1l-1-1v-1l1-1h3v-1l1-1h1v-1l1-1h3v-1l1-1h3l1,1v1h1l1,1v1h1v-3h-1l-1-1v-1h-1l-1-1v-1l1-1h1zM1181,388l1-1h5l1,1v5l-1,1h-1l-1-1v-1h-3l-1-1zM1179,382l1-1h1l1,1v1l-1,1h-1l-1-1zM1171,382l1-1h1l1,1v1h1l1,1v7l-1,1h-3v1l-1,1h-5l-1-1v-3l1-1h1v-1l1-1h1v-3l1-1h1zM1205,380l1-1h1l1,1v3l-1,1h-3l-1-1v-1l1-1h1zM1193,376l1-1h5l1,1v3l-1,1h-1l-1-1v-1h-3l-1-1zM1183,376l1-1h3l1,1v1l-1,1h-3l-1-1zM1159,374l1-1h3l1,1v1l-1,1h-3l-1-1zM1141,374l1-1h1l1,1v3l-1,1h-1l-1-1zM1163,372l1-1h1l1,1v1l-1,1h-1l-1-1zM1185,352l1-1h1l1,1v1l-1,1h-1l-1-1zM1221,346l1-1h1l1,1v1l-1,1h-1l-1-1zM1189,346l1-1h1l1,1v3l-1,1h-3l-1-1v-1l1-1h1zM1293,338l1-1h1l1,1v3l-1,1h-1v1l-1,1h-3l-1-1v-3l1-1h3zM1299,334l1-1h3l1,1v3l-1,1h-1v5l-1,1h-3l-1-1v-5h-1l-1-1v-1l1-1h3zM1137,332l1-1h1l1,1v1l-1,1h-1l-1-1zM1297,330l1-1h1l1,1v1l-1,1h-1l-1-1zM1269,314l1-1h1l1,1v1l-1,1h-1l-1-1zM1257,314l1-1h1l1,1v1l-1,1h-1l-1-1zM1247,312l1-1h7l1,1v3l-1,1h-1v1l-1,1h-1l-1-1v-1h-1l-1-1v-1h-1l-1-1zM1263,308l1-1h3l1,1v1l-1,1h-1v3l-1,1h-3l-1-1v-3l1-1h1zM1167,302l1-1h1l1,1v1l-1,1h-1l-1-1zM1161,302l1-1h1l1,1v1l-1,1h-1l-1-1zM1241,296l1-1h3l1,1v3l-1,1h-3l-1-1zM1245,294l1-1h1l1,1v1l-1,1h-1l-1-1zM1205,292l1-1h3l1,1v1h1l1,1v1l-1,1h-3l-1-1v-1h-1l-1-1zM1237,286l1-1h1l1,1v1l-1,1h-1l-1-1zM1211,276l1-1h1l1,1v1l-1,1h-1l-1-1zM1187,270l1-1h7l1,1v1h1l1,1v1h1l1,1v3l-1,1h-3v1h1l1,1v3l-1,1h-1l-1-1v-1h-5l-1-1v-7l1-1h1v-1h-3l-1-1zM1207,260l1-1h1l1,1v1l-1,1h-1l-1-1zM1199,260l1-1h1l1,1v1l-1,1h-1l-1-1zM234,146v3h1v-3zM304,144v1l-1,1h-1v1h1l1,1v1h1l1,1v1h3l1,1v3l-1,1h-3l-1-1v-1h-3v1l-1,1h-1v3l-1,1h-1v1h1l1,1v3l-1,1h-1v1h1v-1l1-1h1l1,1v1h1l1,1v7h1l1,1v1l-1,1h-1v3l-1,1h-1v1l-1,1h-1v3l-1,1h-1v1h1l1,1v3h1l1,1v1h1l1,1v7h3l1,1v1h3l1,1v1l-1,1h-1v7l-1,1h-3v1h1l1,1v3h1l1,1v3h1l1,1v1h3v-1l1-1h3l1,1v1h1l1,1v1h1l1,1v1h1l1,1v1h1l1,1v5h1l1,1v1h1l1,1v1h1l1,1v1h3v-3l1-1h3v-1l1-1h7l1,1v3h3l1,1v13h1l1,1v1h1l1,1v1l-1,1h-1v5h1v-1l1-1h3l1,1v1h1v-1l1-1h1v-3l1-1h1l1,1v3h1l1,1v3l-1,1h-1v3h5l1,1v1l-1,1h-1v1h5l1,1v3h1l1,1v3h1l1,1v1h1l1,1v1l-1,1h-7v3h1v-1l1-1h3l1,1v5h1l1,1v1h1v-1l1-1h1v-1h-1l-1-1v-1l1-1h1v-5h-1l-1-1v-1h-3l-1-1v-1l1-1h7v-5l1-1h5l1,1v1h3l1,1v1h1l1,1v1h5l1,1v3l-1,1h-1v1h3l1,1v1h3v-1l1-1h1v-1l1-1h1v-1l1-1h7l1,1v1h1l1,1v1h1l1,1v1h3v-1l1-1h1l1,1v1h1v-3l1-1h1l1,1v1h3l1,1v1h1v-1l1-1h1l1,1v1h3v-1l1-1h1v-1l1-1h1v-1l1-1h3v-3l1-1h3v-3l1-1h5v-3h-7l-1-1v-1h-1l-1-1v-1l1-1h1v-1l1-1h3v-3l1-1h1v-1h-1l-1-1v-9l1-1h1v-1h-3v1l-1,1h-17v1l-1,1h-3v3l-1,1h-1l-1-1v-3h-1l-1-1v-1h-1l-1-1v-1h-5l-1-1v-1h-1l-1-1v-1h-1v1l-1,1h-3v1l-1,1h-1l-1-1v-1h-1v3l-1,1h-1l-1-1v-3h-1v3h1l1,1v3l-1,1h-1v3l-1,1h-1l-1-1v-9h-3l-1-1v-1l1-1h1v-1l1-1h3v-1l1-1h1v-1l1-1h5v-3l1-1h1v-3l1-1h1v-9h-1l-1-1v-1h-1l-1-1v-1h-3l-1-1v-1h-1l-1-1v-3h-3l-1-1v-1h-3l-1-1v-3h-7v1l-1,1h-1l-1-1v-1h-1l-1-1v-1h-5l-1-1v-1h-1l-1-1v-1h-3l-1-1v-3l1-1h1v-7h-3v9l-1,1h-1v1l-1,1h-3l-1-1v-9h-1l-1-1v-1h-3l-1-1v-3h-1l-1-1v-7h-3l-1-1v-3l1-1h3v-3h-1l-1-1v-5h-1l-1-1v-1h-1v1h1l1,1v3l-1,1h-3v3h3l1,1v1l-1,1h-3v5l-1,1h-1v1l-1,1h-1l-1-1v-13l1-1h1v-1h-1l-1-1v-3h-1l-1-1v-1l1-1h1v-1h-1l-1-1v-3h-5l-1-1v-1h-5l-1-1h-2l-1-1h-4v1l-1,1h-1v1l-1,1h-1v3l-1,1h-1l-1-1v-1h-1l-1-1v-1l1-1h1v-1h-1l-1-1v-1l1-1h1v-1h-11v1l-1,1h-1v3l-1,1h-1l-1-1v-3h-1l-1-1v-1h-1l-1-1v-1h-1l-1-1v-1zM413,266l1-1h1l1,1v3l-1,1h-1l-1-1zM411,264l1-1h1l1,1v1l-1,1h-1l-1-1zM391,260l1-1h1l1,1v1l-1,1h-1l-1-1zM421,252l1-1h3l1,1v1l-1,1h-3l-1-1zM359,250l1-1h1l1,1v1h1l1,1v1h1l1,1v3l-1,1h-1l-1-1v-1h-3l-1-1zM399,246l1-1h1l1,1v1h1l1,1v1l-1,1h-3l-1-1zM419,232l1-1h1l1,1v3l-1,1h-1l-1-1zM337,226l1-1h1l1,1v1l-1,1h-1l-1-1zM315,220l1-1h1l1,1v3l-1,1h-1l-1-1zM315,212l1-1h3l1,1v3l-1,1h-3l-1-1zM347,210l1-1h1l1,1v3l-1,1h-1v1l-1,1h-1l-1-1v-3l1-1h1zM389,208l1-1h1l1,1v3l-1,1h-3l-1-1v-1l1-1h1zM335,202l1-1h5l1,1v1l-1,1h-5l-1-1zM347,182l1-1h1l1,1v1l-1,1h-1l-1-1zM309,166l1-1h1l1,1v1l-1,1h-1l-1-1zM311,158l1-1h1l1,1v3l-1,1h-1l-1-1zM266,140v3h1v-3zM260,138v3h3v-3zM256,136v5h1v-5zM210,136v7h1l1,1v3h3l1,1v1h5v-1l1-1h3l1,1v1h1v-1l1-1h1v-3h-1l-1-1v-1h-15l-1-1v-5zM222,126v3h3v-2h-1l-1-1z"/>
<path fill="#b07800" fill-rule="evenodd" d="M838,776v3h1l1,1v1h5v-1h-1l-1-1v-1h-1l-1-1v-1zM494,734v3h1v-3zM900,726v1l-1,1h-1v1l-1,1h-3v11l-1,1h-1v5l-1,1h-1v1h1v-1l1-1h1v-1l1-1h1l1,1v1h1v-3l1-1h1v-1l1-1h1l1,1v3l-1,1h-1v5h1l1,1v1l-1,1h-3l-1-1v-1h-3v1h3l1,1v1h3v-1l1-1h1l1,1v1h1v-3h-1l-1-1v-1l1-1h1v-5h-1l-1-1v-1l1-1h1v-1l1-1h1v-3l1-1h1l1,1v3h7v-1l1-1h1v-1h-1l-1-1v-1h-3l-1-1v-1h-1l-1-1v-5zM360,726v3h3l1,1v1h1v-3h-3l-1-1v-1zM338,722v5h3v-3l1-1h1v-1zM536,706v3l-1,1h-5v1l-1,1h-1v3l-1,1h-1v1h1l1,1v1h1l1,1v5l-1,1h-1v1l-1,1h-3v5l-1,1h-1v1h3l1,1v3h5l1,1v1h1l1,1v1h1l1,1v1h1v-5l1-1h1v-1l1-1h1v-1l1-1h1v-1l1-1h3v-5l1-1h1v-1l1-1h1v-3h-1l-1-1v-3h-1l-1-1v-1h-1l-1-1v-1h-1l-1-1v-1h-3l-1-1v-5zM934,684v1l-1,1h-1v5h5v-1l1-1h1v-3l1-1h1v-1zM933,688l1-1h1l1,1v1l-1,1h-1l-1-1zM556,678v1l-1,1h-3v3l-1,1h-1v3h1l1,1v3h1v-1l1-1h3v-1l1-1h1v-7h-1l-1-1v-1zM490,650v3l-1,1h-1v1h3v-1l1-1h1v-1l1-1h1v-1zM480,650v3h1l1,1v3h1v-1l1-1h1v-1h-1l-1-1v-3zM464,646v1l-1,1h-1v3h5v-5zM600,642v1h1l1,1v3h1v-3h-1l-1-1v-1zM416,642v1l-1,1h-1v1l-1,1h-1v5h1l1,1v3h3v-5l1-1h1v-1l1-1h1v-1h-1l-1-1v-1h-1l-1-1v-1zM588,638v1h3v-1zM526,634v3h3l1,1v3l-1,1h-5v3l-1,1h-3v1l-1,1h-1v1l-1,1h-1v1l-1,1h-1v1l-1,1h-1v3l-1,1h-1v3l-1,1h-1v1l-1,1h-3v1l-1,1h-3v1l-1,1h-1v1l-1,1h-1v3l-1,1h-1v1l-1,1h-13v1l-1,1h-1v1l-1,1h-5v3l-1,1h-1v1l-1,1h-1v1l-1,1h-1v9l-1,1h-1v1l-1,1h-7v1h1l1,1v3l-1,1h-1v5h1l1,1v7l-1,1h-1v3l-1,1h-3l-1-1v-1h-1l-1-1v-1h-1l-1-1v-1h-3v1l-1,1h-7l-1-1v-3h-3v1l-1,1h-9v1l-1,1h-3v1l-1,1h-5v2h8l1,1v1l1,1h9l1,1v1h1l1,1v1h1l1,1v1h1l1,1v1h1l1,1v3h1l1,1v1h1l1,1v3h1l1,1v1h1l1,1v1h13v-1l1-1h1v-9h-1l-1-1v-1l1-1h1v-3l1-1h1v-13l1-1h1l1,1v1h1l1,1v1h1l1,1v3h3v-1l1-1h3l1,1v1h3l1,1v1h1v-1l1-1h1v-3l1-1h1v-1l1-1h1l1,1v1h1l1,1v1l-1,1h-1v1h1l1,1v3h9v-3l1-1h1v-9l1-1h1v-1l1-1h1v-1l1-1h3l1,1v1h3v-3l1-1h3v-7l1-1h5v-3l1-1h1v-1l1-1h1v-5l1-1h3v-3l1-1h1v-3l1-1h1v-1l1-1h1v-1l1-1h3v-1l1-1h1v-1l1-1h1v-5l1-1h1v-1l1-1h5v-5l1-1h3v-3l1-1h3l1,1v3l-1,1h-1v1h3l1,1v5h1l1,1v1h1l1,1v1h15v-1l1-1h9v-1h-1l-1-1v-1h-1l-1-1v-9l1-1h1v-5l1-1h3v-1h-1l-1-1v-3h-5v1l-1,1h-5v1l-1,1h-3v1l-1,1h-9v1l-1,1h-3v1l-1,1h-3l-1-1v-7l1-1h1v-5h-21v1l-1,1h-5v1l-1,1h-5l-1-1v-5l1-1h1v-1h-1l-1-1v-1h-1v1l-1,1h-1l-1-1v-1zM459,714l1-1h3l1,1v1l-1,1h-3l-1-1zM463,712l1-1h1l1,1v1l-1,1h-1l-1-1zM494,630v1l-1,1h-1v3l-1,1h-3v1l-1,1h-1v9h5v-3l1-1h5v-1l1-1h1v-1l1-1h1v-9zM105,630v5l1,1v3l1,1v1h6l1,1v1h1v-5l-1-1v-1l-1-1v-2l-1-1v-1h-2l-1-1zM504,626v3h1v-3zM524,624v1h1l1,1v1h1l1,1v1h1v-1h-1l-1-1v-3zM458,624v7l-1,1h-1v1l-1,1h-3v3h1l1,1v1l-1,1h-1v1l-1,1h-1v1h3v-1l1-1h1v-1l1-1h3v-9l1-1h1v-1l1-1h1v-3zM592,622v3l-1,1h-9v1l-1,1h-5l-1-1v-1h-11v1l-1,1h-5v1l-1,1h-1l-1-1v-1h-5v1l-1,1h-1l-1-1v-1h-3v1l-1,1h-1v1h11l1,1v1h1l1,1v1h3v-1l1-1h1v-3l1-1h1l1,1v1h1l1,1v3h1l1,1v1h3v-1l1-1h5v-1l1-1h1l1,1v1h3v-1l1-1h3l1,1v1h1v-1h-1l-1-1v-1l1-1h1v-1l1-1h1v-3l1-1h1v-3zM448,622v3h1l1,1v1h1v-5zM600,620v3l-1,1h-1v1h3v-5zM108,616v4l1,1v1l1,1v1l1,1v1l1,1h4l1,1h4v-4l-1-1v-1l-2-2v-1l-1-1h-2l-1-1h-1l-1-1zM85,616l-1,1h-3v4l1,1v1l1,1v1h7v-6l-1-1v-2zM776,610v1h3v-1zM466,610v1h3v-1zM764,608v3h3v-3zM770,606v1h3v-1zM398,604v3h1v-3zM592,598v1l-1,1h-9v1l-1,1h-1v1l-1,1h-1v3h3l1,1v3h7v-1l1-1h9l1,1v1h1v-9h-1l-1-1v-3zM514,588v3h3v-3zM480,584v1h5v-1zM392,584v3h1v-3zM804,582v1l-1,1h-1v1h3v-3zM826,578v1l-1,1h-3v3h5v-3l1-1h1v-1zM488,578v1h1l1,1v1h1v-3zM488,572v3h1v-3zM432,572v3h1v-1l1-1h1v-1zM522,570v3l-1,1h-1v1l-1,1h-3v3l-1,1h-3v3h5v-1l1-1h5l1,1v1l-1,1h-1v3l-1,1h-1v1h1l1,1v1h1v-1l1-1h1v-3l1-1h3v-3l1-1h1v-5h-5l-1-1v-1l1-1h1v-1h-1l-1-1v-1zM816,568v1h3v-1zM512,566v1l-1,1h-1v1h1l1,1v3h1v-1l1-1h3v-1h-1l-1-1v-1h-1l-1-1v-1zM794,562v3h1v-3zM516,560v3h3v-3zM402,560v1h1l1,1v1l-1,1h-3v5h1l1,1v1h3l1,1v5l-1,1h-1v1h3l1,1v1l-1,1h-1v1h1l1,1v3h7v-1l1-1h1v-1h-1l-1-1v-3l1-1h1v-1l1-1h3v-1h-1l-1-1v-3h-1l-1-1v-1h-1l-1-1v-1l1-1h1v-3h-1l-1-1v-1h-1v3l-1,1h-3v5l-1,1h-1l-1-1v-5h-1l-1-1v-5zM411,572l1-1h1l1,1v3l-1,1h-1l-1-1zM413,566l1-1h1l1,1v1l-1,1h-1l-1-1zM822,558v3h1l1,1v1h1v-1l1-1h3v-1h-3v1l-1,1h-1l-1-1v-3zM508,546v5l-1,1h-3l-1-1v-1h-1v1l-1,1h-1v1l-1,1h-1l-1-1v-1h-1l-1-1v-1h-1v1l-1,1h-1v3l-1,1h-3v1l-1,1h-3v1l-1,1h-9v3l-1,1h-1v1l-1,1h-1v5h1v-1l1-1h1v-1l1-1h3l1,1v1l-1,1h-1v3h3l1,1v5h3v-1l1-1h1v-5h-1l-1-1v-1h-1l-1-1v-7l1-1h7v-1l1-1h3l1,1v1h3v-3l1-1h1l1,1v1h5l1,1v1h5v-1l1-1h1v-1h-1l-1-1v-3l1-1h3v-1h-1l-1-1v-1h-1l-1-1v-1h-1l-1-1v-1zM477,570l1-1h1l1,1v1l-1,1h-1l-1-1zM716,544v1l-1,1h-1v7h3v-1l1-1h1l1,1v1h1v-3l1-1h1v-1l1-1h1v-1h-3v1l-1,1h-1l-1-1v-3zM386,544v1l-1,1h-1v1h1l1,1v1h3v-5zM780,542v1h1l1,1v1h3l1,1v3l-1,1h-1v1l-1,1h-1v1h3v-1l1-1h1v-1l1-1h1v-3h-3l-1-1v-1h-1l-1-1v-1zM754,542v1l-1,1h-3v3h1l1,1v13l-1,1h-1v9h3l1,1v1h1l1,1v1h1l1,1v7h5v-1l1-1h3v-1l1-1h3v-1l1-1h3v-3l1-1h1v-1h-1l-1-1v-1l1-1h1v-1h-3l-1-1v-1l1-1h1v-1h-1l-1-1v-5h-1l-1-1v-1l1-1h1v-5h-1l-1-1v-1h-1l-1-1v-1h-3l-1-1v-1h-3v1l-1,1h-1l-1-1v-1h-1l-1-1v-1zM426,542v3h1v-3zM542,540v3h3v-3zM420,538v3h1l1,1v1h1v-5zM382,538v1l-1,1h-3v3h3v-1l1-1h1v-1l1-1h1v-1zM370,536v1h3v-1zM542,528v7h1v-1l1-1h1l1,1v1h1l1,1v1h1v-5h-1l-1-1v-1h-3l-1-1v-1zM378,520v5h1v-5zM716,518v3l-1,1h-1v1l-1,1h-1v3h1l1,1v3h1l1,1v1h7l1,1v1l-1,1h-1v3h3v-1l1-1h3v-1l1-1h1v-1h-1l-1-1v-1h-7l-1-1v-1l1-1h1v-1l1-1h1v-3h-3l-1-1v-1h-1l-1-1v-1h-1l-1-1v-1zM366,514v1h3v-1zM548,504v1l-1,1h-1v1l-1,1h-1v7l-1,1h-1v3h5l1,1v1h9v-3l1-1h3v-3l1-1h1v-1h-3l-1-1v-1h-3v1l-1,1h-1l-1-1v-3h-1l-1-1v-1h-1l-1-1v-1zM714,502v3h1l1,1v7h3v-1l1-1h1v-1l1-1h3v-1h-5l-1-1v-1h-1l-1-1v-1h-1l-1-1v-1zM494,498v1h1l1,1v1l-1,1h-1v3l-1,1h-1v3l-1,1h-1v1h1l1,1v5h9v-1l1-1h7v-1l1-1h1v-3h-1l-1-1v-1h-3l-1-1v-3h-7l-1-1v-5zM438,496v1h1l1,1v1h1l1,1v1h1l1,1v1h1v-1h-1l-1-1v-5zM440,490v1l-1,1h-1v1h3v-3zM440,482v3h3v-3zM1092,478v1l-1,1h-1v5l-1,1h-1v1h1v-1l1-1h1l1,1v1h1v-1l1-1h1v-1l1-1h1v-1h-3l-1-1v-3zM1000,478v5h1v-5zM874,478v1l-1,1h-1v1h3v-3zM1096,476v1h3v-1zM586,462v1l-1,1h-1v1h3v-1l1-1h1v-1zM916,458v3l-1,1h-1v1l-1,1h-1v1h3l1,1v1l-1,1h-1v1l-1,1h-1v1l-1,1h-1v1l-1,1h-3v1l-1,1h-9l-1-1v-1h-1v7l-1,1h-1v1l-1,1h-1v7l-1,1h-1v1l-1,1h-7l-1-1v-1h-1l-1-1v-1h-1l-1-1v-3h-3v1l-1,1h-1v3h1l1,1v5l-1,1h-1v1h3l1,1v3l-1,1h-3v1l-1,1h-1v1l-1,1h-1v1l-1,1h-1v1l-1,1h-1v3l-1,1h-1v1l-1,1h-1v1h1l1,1v3h3l1,1v7h1l1,1v1h1l1,1v1h7l1,1v1h1l1,1v1h3v-1l1-1h1v-1l1-1h1v-1l1-1h3v-1l1-1h1l1,1v3h5l1,1v5h3v-1l1-1h3v-1l1-1h1v-1l1-1h1v-1h-3l-1-1v-3l1-1h1v-1h-1l-1-1v-3l1-1h1v-1l1-1h1l1,1v1h1l1,1v1h3l1,1v1h13v-1l1-1h1v-1l1-1h3v-3h-1l-1-1v-1l1-1h1v-3l1-1h9v-1l1-1h1l1,1v1h3l1,1v3h3v-3l1-1h3v-7l1-1h1v-1l1-1h1v-1l1-1h5l1,1v1h1v-1l1-1h5v-1h-5l-1-1v-1l1-1h1v-1l1-1h5v-3h-1l-1-1v-1l1-1h1v-1l1-1h5v-1l1-1h1v-1l1-1h1v-3l1-1h1l1,1v1h1v-1l1-1h1v-5h-1l-1-1v-3h-1l-1-1v-1h-5l-1-1v-1h-3l-1-1v-1h-1l-1-1v-1h-3l-1-1v-1h-17v1l-1,1h-5v1l-1,1h-1l-1-1v-1h-5v1l-1,1h-9l-1-1v-1h-1v1l-1,1h-3l-1-1v-1h-1l-1-1v-1h-1l-1-1v-1zM869,520l1-1h1l1,1v1l-1,1h-1l-1-1zM901,488l1-1h1l1,1v1l-1,1h-1l-1-1zM975,484l1-1h1l1,1v1l-1,1h-1l-1-1zM895,480l1-1h1l1,1v1l-1,1h-1l-1-1zM410,444v5l-1,1h-1v3l-1,1h-1l-1-1v-1h-1v1h1l1,1v1l-1,1h-5l-1-1v-1h-1v5h1l1,1v1l-1,1h-3v1h3v-1l1-1h3l1,1v1h3v-5l1-1h5l1,1v1h1v-1l1-1h1v-1l1-1h1l1,1v1h3v-1l1-1h1v-1h-1l-1-1v-1h-1l-1-1v-1h-1v1l-1,1h-3l-1-1v-1h-1l-1-1v-3h-1l-1-1v-1zM526,442v3h7l1,1v1l-1,1h-3v1l-1,1h-1v1h7v-3l1-1h1v-1h-3l-1-1v-1h-3l-1-1v-1zM496,440v1h1l1,1v3h1l1,1v1h1v-1h-1l-1-1v-3h-1l-1-1v-1zM938,436v1h3v-1zM620,436v3h3v-1l1-1h1v-1zM544,436v3h1l1,1v3h1v-1l1-1h1v-5zM1150,434v1l-1,1h-1v1l-1,1h-1v3h1l1,1v1h1v-1l1-1h1v-3l1-1h1v-1h-1l-1-1v-1zM956,432v1l-1,1h-3v1h3v-1l1-1h5v-1zM650,432v1l-1,1h-1v1h5v-1h-1l-1-1v-1zM1102,430v3h1v-1l1-1h1v-1zM656,422v3h5v-3zM642,420v1h1l1,1v1h1v-3zM388,420v1l-1,1h-1v3h5v-1h-1l-1-1v-3zM628,416v3l-1,1h-1v1h3l1,1v1h1l1,1v5h1v-3l1-1h1v-1l1-1h1v-5h-3v1l-1,1h-1l-1-1v-1h-1l-1-1v-1zM980,412v1h1l1,1v3l-1,1h-1v1h1l1,1v7h5l1,1v1h5v-1l1-1h3v-1l1-1h3v-3h-3l-1-1v-1l1-1h1v-1h-5l-1-1v-1h-1v1l-1,1h-3l-1-1v-3h-1l-1-1v-1zM981,418l1-1h3l1,1v3l-1,1h-1l-1-1v-1h-1l-1-1zM1108,410v1l-1,1h-1v3l-1,1h-1v1h5l1,1v1l-1,1h-1v1h3l1,1v1l-1,1h-1v1l-1,1h-1v3h3v-1l1-1h9v-1l1-1h1v-1l1-1h1v-3h-7l-1-1v-1h-3l-1-1v-1h-1l-1-1v-1h-1l-1-1v-3zM428,410v1l-1,1h-1v1l-1,1h-1v1l-1,1h-1v1l-1,1h-5v1l-1,1h-1v9l-1,1h-1v3h1l1,1v1h3l1,1v1h5l1,1v1h1v-1l1-1h3l1,1v1h1l1,1v1h3l1,1v1l-1,1h-3v1l-1,1h-3v5h1l1,1v1h3v-1l1-1h3l1,1v1l-1,1h-1v3h1l1,1v1l-1,1h-1v3l-1,1h-1v5l-1,1h-1v9h1v-1l1-1h1v-1l1-1h1l1,1v3h1v-3l1-1h1l1,1v1h3v-3l1-1h7l1,1v3h1l1,1v3h1v-1l1-1h1v-3l1-1h1v-3l1-1h1v-5l1-1h1v-3h-1l-1-1v-9h-1l-1-1v-1h-3v1l-1,1h-3v1l-1,1h-11l-1-1v-1l1-1h1v-1l1-1h1v-3l1-1h1v-5h-1l-1-1v-1h-5l-1-1v-1h-3v1l-1,1h-5l-1-1v-3l1-1h3v-3l1-1h9v-1l1-1h3v-3h-1l-1-1v-7l1-1h1v-3h-3l-1-1v-1h-1v3l-1,1h-1v5h1l1,1v7l-1,1h-1l-1-1v-3h-1l-1-1v-3h-3l-1-1v-7h-1l-1-1v-1zM441,456l1-1h3l1,1v3h3l1,1v3l-1,1h-5v1l-1,1h-1v1l-1,1h-1l-1-1v-7l1-1h1zM604,402v3l-1,1h-3v1l-1,1h-3v5h9v-5l1-1h3l1,1v3h1l1,1v1h7v-1l1-1h1v-3h-1l-1-1v-1l1-1h1v-1h-1v1l-1,1h-1l-1-1v-1h-3l-1-1v-1h-3v1l-1,1h-1l-1-1v-1zM611,404l1-1h1l1,1v3l-1,1h-1l-1-1zM434,402v7h5v-3h-3l-1-1v-3zM174,402v1h3v-1zM352,398v1l-1,1h-1v9h1l1,1v1h3v-9l1-1h1v-1h-1l-1-1v-1zM1200,396v1h3v-1zM1176,396v1l-1,1h-3v1l-1,1h-1v7l-1,1h-1v1h1l1,1v3l-1,1h-1v3l-1,1h-1v1h1l1,1v1h3l1,1v3h5v-1l1-1h1v-3h-1l-1-1v-3h-3l-1-1v-3l1-1h1v-1l1-1h5v-1l1-1h3v-1l1-1h1v-1l1-1h1v-1l1-1h3v-1h-1l-1-1v-1h-1v3l-1,1h-3l-1-1v-1l1-1h1v-1h-1l-1-1v-1zM412,394v1l-1,1h-1v11h1l1,1v1h3v-1h-1l-1-1v-1h-1l-1-1v-1l1-1h3v-1l1-1h1v-1h-1l-1-1v-1l1-1h1v-1h-1l-1-1v-1zM718,392v1h3v-1zM682,392v1l-1,1h-3v1l-1,1h-7v5h5v-1l1-1h1v-1l1-1h3v-3l1-1h1v-1zM420,392v3h3v-3zM1110,390v1h1l1,1v1h3l1,1v1h5v-1l1-1h1v-3h-1v1l-1,1h-7l-1-1v-1zM456,390v3h3v-3zM1206,388v3h1v-3zM614,386v1h1l1,1v1h1v-1l1-1h1v-1zM588,386v1l-1,1h-1v1h1l1,1v1l-1,1h-5v3l-1,1h-5v3l-1,1h-3v1l-1,1h-1v1l-1,1h-1v1l-1,1h-3v1l-1,1h-3v3l-1,1h-1v1l-1,1h-1v5h1v-1l1-1h1l1,1v1h1l1,1v1h1v-1l1-1h3v-1l1-1h3v-5l1-1h1l1,1v1h3v-5l1-1h1v-1l1-1h1v-1l1-1h7v-3l1-1h1v-1l1-1h1v-1l1-1h3v-1l1-1h1v-1l1-1h1v-1h-1l-1-1v-1h-3v1l-1,1h-3l-1-1v-1h-1l-1-1v-1zM567,410l1-1h1l1,1v1l-1,1h-1l-1-1zM1118,384v3h3v-3zM586,380v1h3v-1zM432,380v1l-1,1h-1v1h3v-3zM1168,376v1l-1,1h-15v1l-1,1h-3v1l-1,1h-1v1h1l1,1v1h3l1,1v1h7v-1l1-1h5v-1l1-1h3v-3l1-1h1v-1h-1l-1-1v-1zM590,374v1l-1,1h-1v1h3v-3zM450,374v1l-1,1h-1v1h7l1,1v1h1v-1l1-1h1v-3zM1188,368v3h1v-3zM1102,368v1l-1,1h-3v5l-1,1h-1v1l-1,1h-1v5l-1,1h-1v1h3v-3l1-1h3l1,1v1l-1,1h-1v7l-1,1h-1v3l-1,1h-1v1h3v-1l1-1h7v-1h-1l-1-1v-1l1-1h3v-3h-1l-1-1v-1l1-1h1v-5l1-1h3v-1l1-1h5l1,1v1h1v-1h-1l-1-1v-3h-3l-1-1v-1h-1l-1-1v-1h-1v3l-1,1h-5l-1-1v-1h-1l-1-1v-1l1-1h1v-1zM1103,388l1-1h1l1,1v1l-1,1h-1l-1-1zM1101,382l1-1h1l1,1v1l-1,1h-1l-1-1zM734,368v3h1v-3zM738,366v3h1v-1l1-1h1v-1zM578,362v1l-1,1h-1v1h3v-3zM556,362v3h1v-3zM376,362v1l-1,1h-1v1l-1,1h-3l-1-1v-1h-3v1l-1,1h-1v1l-1,1h-1v1l-1,1h-1v1l-1,1h-5v1l-1,1h-1v3h1l1,1v5l-1,1h-1v5h1l1,1v5h9v-1l1-1h1v-1l1-1h1l1,1v5l-1,1h-1v3h3v-1l1-1h5v-1l1-1h11v-1l1-1h1v-1l1-1h1v-1l1-1h1v-1l1-1h1v-3l1-1h1v-1l1-1h1v-3h-1v1l-1,1h-1l-1-1v-3h-1l-1-1v-11h-3l-1-1v-1h-1l-1-1v-1h-5v3l-1,1h-1l-1-1v-3zM371,394l1-1h3l1,1v1l-1,1h-3l-1-1zM369,368l1-1h1l1,1v3l-1,1h-1l-1-1zM548,360v5h1v-1l1-1h1v-1h-1l-1-1v-1zM556,358v1h3v-1zM444,358v1l-1,1h-3v9h1l1,1v1h3v-1h-3l-1-1v-3l1-1h1l1,1v1h7l1,1v3h1v-3h-1l-1-1v-1h-1l-1-1v-3h-1l-1-1v-1h-1l-1-1v-1zM1172,356v1l-1,1h-3v5h3v-1l1-1h1v-1l1-1h1v-3zM564,356v3h1l1,1v1h1l1,1v1h5v-5h-5l-1-1v-1zM1202,354v1l-1,1h-1v3l-1,1h-3v1h1l1,1v1h1v-1l1-1h3v-1l1-1h1l1,1v3h1v-1l1-1h3v-1h-1l-1-1v-3h-5l-1-1v-1zM1205,358l1-1h1l1,1v1l-1,1h-1l-1-1zM558,352v1h3v-1zM1286,348v1h3v-1zM1256,344v5h1l1,1v1h3v-1l1-1h1v-3h-3l-1-1v-1zM314,344v3h1v-3zM48,344v5h1v-1l1-1h1v-1h-1l-1-1v-1zM1214,342v3h3v-1h-1l-1-1v-1zM726,340v1l-1,1h-3v1h5v-1l1-1h1v-1zM330,336v3l-1,1h-1v3h1l1,1v7h1v-1l1-1h7v-1l1-1h1v-3h-1l-1-1v-1h-3l-1-1v-1h-1l-1-1v-1h-1l-1-1v-1zM1206,330v3h3v-1h-1l-1-1v-1zM1124,330v1h3v-1zM576,328v3h1l1,1v1h1l1,1v1h1v-3h-1l-1-1v-3zM570,328v1l-1,1h-1v3l-1,1h-3v5h1l1,1v1h1v-5l1-1h3l1,1v1h1l1,1v1h3v-3h-3l-1-1v-1h-1l-1-1v-5zM52,328v3h1v-3zM1198,324v3h9v-3h-3v1l-1,1h-3l-1-1v-1zM344,324v1h3v-1zM306,320v3h1v-3zM812,318v5h1v-1l1-1h1v-3zM574,318v3h1v-3zM638,316v7h1v-7zM300,316v3h1v-3zM818,312v3h3l1,1v1h3v-5zM576,310v5h1l1,1v1h1v-5h-1l-1-1v-1zM324,310v1l-1,1h-1v1l-1,1h-3v3h1l1,1v1l-1,1h-1v3l-1,1h-1l-1-1v-1h-1l-1-1v-1l1-1h1v-1h-1l-1-1v-1h-1v1l-1,1h-1l-1-1v-1h-1v1h1l1,1v3h1l1,1v1l-1,1h-1v3h5l1,1v3h5l1,1v3h3v-3h-1l-1-1v-3l1-1h1v-1h-1l-1-1v-11l1-1h1v-3zM792,308v1l-1,1h-1v3h1l1,1v3h5l1,1v1h3v-1h-3l-1-1v-1h-1l-1-1v-3h-1l-1-1v-3zM568,308v1l-1,1h-1v1l-1,1h-1v5h5v-1l1-1h1v-7zM1252,304v1l-1,1h-1v3h1v-1l1-1h3v-3zM700,304v3h1v-3zM242,304v1l-1,1h-3v1l-1,1h-1l-1-1v-1h-5v1l-1,1h-3v5h1l1,1v1l-1,1h-1v5l-1,1h-1v3l-1,1h-1v7l-1,1h-1v1h1l1,1v1h1l1,1v11h5v-1l1-1h5l1,1v1h1v-1l1-1h5l1,1v1h5l1,1v1h15v-1l1-1h1v-1l1-1h5l1,1v1h1v-1l1-1h1v-1h-1l-1-1v-13h-3l-1-1v-1h-1l-1-1v-1h-7v1l-1,1h-7v1l-1,1h-1l-1-1v-1h-3l-1-1v-3h-1l-1-1v-1l1-1h1v-3l1-1h1v-3l1-1h1v-9h-5l-1-1v-1zM818,302v1l-1,1h-1v1l-1,1h-3v1h1l1,1v1h3v-1l1-1h1v-5zM612,302v5l-1,1h-5v1l-1,1h-5v7l-1,1h-1v1l-1,1h-1v1l-1,1h-1v1h1l1,1v7h1l1,1v3l-1,1h-1v3l-1,1h-1v3h3l1,1v3l-1,1h-1v1h3v-1l1-1h3l1,1v1h1l1,1v9h1l1,1v7h1l1,1v3h1l1,1v5h1v-1l1-1h1v-1l1-1h3l1,1v3h1l1,1v3l-1,1h-1v1h1l1,1v7l-1,1h-1v1h3l1,1v1h3l1,1v3h5l1,1v1h5l1,1v3h9v-1l1-1h5v-1l1-1h1l1,1v1h1l1,1v1h3v-1l1-1h1v-3h-1l-1-1v-1h-5l-1-1v-1l1-1h1v-1l1-1h3v-1l1-1h1v-1l1-1h1v-1l1-1h11l1,1v1h11v-1l1-1h1v-3l1-1h1v-1l1-1h7l1,1v3l-1,1h-1v1l-1,1h-1v1h3l1,1v1h1l1,1v3h3v-1l1-1h5v-3l1-1h1v-3l1-1h3v-1l1-1h3v-7h-5l-1-1v-1h-1l-1-1v-1h-1l-1-1v-3l1-1h1v-9h-3l-1-1v-1h-5l-1-1v-1h-5l-1-1v-3h-9l-1-1v-1h-1l-1-1v-1h-3l-1-1v-1h-1l-1-1v-1h-1l-1-1v-3h-1l-1-1v-5h-3l-1-1v-5h-1l-1-1v-1h-7l-1-1v-1h-1v1l-1,1h-7v1l-1,1h-7v1l-1,1h-5v1l-1,1h-5l-1-1v-1h-1l-1-1v-1h-1l-1-1v-1h-1l-1-1v-1h-3l-1-1v-1h-1l-1-1v-3h-1l-1-1v-1h-1l-1-1v-1h-1l-1-1v-1h-1l-1-1v-5h-1l-1-1v-1zM627,394l1-1h1l1,1v1l-1,1h-1l-1-1zM627,390l1-1h3l1,1v1l-1,1h-3l-1-1zM715,382l1-1h3l1,1v1l-1,1h-3l-1-1zM707,382l1-1h3l1,1v1l-1,1h-3l-1-1zM623,380l1-1h1l1,1v1l-1,1h-1l-1-1zM713,378l1-1h1l1,1v3l-1,1h-1l-1-1zM631,376l1-1h5l1,1v1h1l1,1v1h1l1,1v3l-1,1h-9l-1-1v-1h-1l-1-1v-3l1-1h1zM611,370l1-1h1l1,1v1l-1,1h-1l-1-1zM599,342l1-1h1l1,1v1l-1,1h-1l-1-1zM671,332l1-1h1l1,1v3l-1,1h-1l-1-1zM669,330l1-1h1l1,1v1l-1,1h-1l-1-1zM603,312l1-1h1l1,1v1l-1,1h-1l-1-1zM1260,300v3h3v-1h-1l-1-1v-1zM810,300v1l-1,1h-1v1l-1,1h-1v1h1v-1l1-1h5v-1h-1l-1-1v-1zM790,300v1l-1,1h-1v1h5v-1l1-1h1v-1zM630,300v1l-1,1h-3v1h5v-3zM1212,298v5h1l1,1v1l-1,1h-1v1l-1,1h-1v3h1l1,1v5h1v-1l1-1h7v-1l1-1h1v-3h-1l-1-1v-5l1-1h1v-3h-3l-1-1v-1zM424,298v1l-1,1h-1v5l-1,1h-1v1h7l1,1v1h1v-1l1-1h1v-5h-1l-1-1v-1h-1l-1-1v-1zM314,296v1l-1,1h-7v5h1l1,1v1h1v-1l1-1h1l1,1v1h1l1,1v1l-1,1h-3v1h3l1,1v3h1v-1l1-1h3v-3h-1l-1-1v-1h-1l-1-1v-9zM1238,294v1h3v-1zM672,294v1h3v-1zM668,294v1l-1,1h-1v5h5v-3h-1l-1-1v-3zM684,292v1h3v-1zM1186,288v3h3l1,1v1h1v-1l1-1h3l1,1v1h1l1,1v1h1l1,1v3h3v-1h-1l-1-1v-1h-1l-1-1v-3h-1l-1-1v-3zM1174,286v13h1l1,1v3l-1,1h-1v3l-1,1h-5v1h3l1,1v1l-1,1h-1v5h5v-1l1-1h1v-3l1-1h1v-1l1-1h1v-1h-1l-1-1v-3l1-1h1v-1h-1l-1-1v-1h-1l-1-1v-1l1-1h1v-1l1-1h1v-1l1-1h1v-3h-1l-1-1v-1h-1l-1-1v-1zM1175,310l1-1h1l1,1v1l-1,1h-1l-1-1zM1175,294l1-1h3l1,1v1l-1,1h-3l-1-1zM786,286v1l-1,1h-1v1h3v-3zM1208,282v3h1v-3zM752,278v1h1l1,1v1h3l1,1v1h5l1,1v3l-1,1h-1v1l-1,1h-1v1h7v-1l1-1h1v-3l1-1h3v-1l1-1h1v-3h-9l-1-1v-1h-1v1l-1,1h-5l-1-1v-1zM668,278v3h1v-3zM652,278v1l-1,1h-3v5h3v-1l1-1h1v-1l1-1h1v-1h-1l-1-1v-1zM380,278v1h3v-1zM248,276v1h3l1,1v9h1l1,1v1h1l1,1v1l-1,1h-1v3h1l1,1v5h1l1,1v1h1l1,1v1h5l1,1v1h1l1,1v3h5l1,1v3h9v-3l1-1h3v-1l1-1h9v-1l1-1h1v-3l1-1h1v-1h-1l-1-1v-5h-1l-1-1v-5h-7l-1-1v-1h-5v1l-1,1h-3l-1-1v-1h-1l-1-1v-1h-1l-1-1v-1h-3v1l-1,1h-1l-1-1v-3h-1l-1-1v-1h-5v1l-1,1h-3l-1-1v-1h-3l-1-1v-1h-1l-1-1v-1zM265,300l1-1h1l1,1v1l-1,1h-1l-1-1zM273,294l1-1h5l1,1v1h3l1,1v1l-1,1h-3v1l-1,1h-1v1h1l1,1v1l-1,1h-3v1l-1,1h-1l-1-1v-3h-1l-1-1v-3l1-1h1zM267,288l1-1h1l1,1v1l-1,1h-1l-1-1zM684,274v1l-1,1h-1v1h7v-3zM414,274v3h1v-3zM194,272v3h3v-1h-1l-1-1v-1zM378,270v3h3v-1l1-1h1v-1zM186,268v3h1v-3zM304,266v1l-1,1h-3v1h3v-1l1-1h1v-1zM278,266v3h3v-1h-1l-1-1v-1zM288,264v1h3v-1zM386,262v1l-1,1h-1v3h3v-1l1-1h3v-1h-1l-1-1v-1zM452,258v1l-1,1h-1v1l-1,1h-1v1l-1,1h-1l-1-1v-1h-1l-1-1v-1h-3v1l-1,1h-9l-1-1v-1h-1v1l-1,1h-1v1h1l1,1v1l-1,1h-1v3l-1,1h-1v3h1l1,1v9h1v-1l1-1h3l1,1v1h3v-1l1-1h1v-1l1-1h1v-1l1-1h1v-1l1-1h1v-3l1-1h3l1,1v1l-1,1h-1v3h1v-3l1-1h5v-1l1-1h1l1,1v1h1v-7l1-1h1v-1h-3l-1-1v-1h-1l-1-1v-1l1-1h1v-1zM427,268l1-1h3l1,1v1l-1,1h-1v1l-1,1h-1l-1-1zM404,256v3l-1,1h-1v1h3l1,1v7h1l1,1v1h1v-9h-1l-1-1v-1h-1l-1-1v-3zM274,256v1l-1,1h-7v1l-1,1h-1v1l-1,1h-1l-1-1v-1h-1l-1-1v-1h-3v1l-1,1h-1v7h1l1,1v1h1v-1l1-1h1l1,1v1h3v-1h-1l-1-1v-1l1-1h1v-1l1-1h5v-1l1-1h1v-1l1-1h1v-1l1-1h1v-1zM580,248v3h1l1,1v3h3v-5h-3l-1-1v-1zM1248,246v3l-1,1h-1v1h5v-1l1-1h1v-1h-1l-1-1v-1zM584,244v1h3v-1zM172,244v5h1l1,1v7h1v-13zM402,238v1h1l1,1v1h1v-3zM172,238v3h1v-3zM140,234v1l-1,1h-3v1l-1,1h-1l-1-1v-1h-3v5l-1,1h-1v9h1l1,1v7h3l1,1v3l-1,1h-3v5h1l1,1v5l-1,1h-1v9l-1,1h-1v1l-1,1h-1v3l-1,1h-1v1l-1,1h-5v1l-1,1h-5v1l-1,1h-3v1l-1,1h-1v1l-1,1h-1v3l-1,1h-1v1l-1,1h-1v1l-1,1h-1l-1-1v-1h-1l-1-1v-1h-1v1l-1,1h-5v3l-1,1h-3l-1-1v-5h-1l-1-1v-1h-1l-1-1v-1h-5v1l-1,1h-1v1l-1,1h-1v3l-1,1h-1v1l-1,1h-1v1l-1,1h-1v3h1l1,1v1h5l1,1v1h3l1,1v1h1l1,1v1h1l1,1v1l-1,1h-5v1l-1,1h-7v1l-1,1h-1v1l-1,1h-1v1l-1,1h-1v3h1l1,1v1l-1,1h-3l-1-1v-1h-1v1l-1,1h-1v5h1l1,1v3l-1,1h-1v5l-1,1h-3v3l-1,1h-5v1l-1,1h-5v1l-1,1h-3l-1-1v-1h-1l-1-1v-1h-1l-1-1v-1h-1l-1-1v-1l1-1h3v-1l1-1h1v-1l1-1h1v-5l-4,4v1l-5,5v3l-1,1v8l1,1v2l1,1v3l1,1v2l1,1v8l1,1v7l-1,1v7l-1,1v9l1,1v2l1,1v2l1,1v2l1,1v2l1,1v2l1,1v1l1,1v2l1,1v1l1,1v2l1,1v1l1,1v2l1,1v1l1,1v1l1,1v1l1,1v1l1,1v1l1,1v3l-1,1v10l1,1v2l1,1v3l1,1v2l1,1v1l8,8v1l-4,4v1l-2,2v17l1,1v1l1,1v2l1,1v1l1,1v2l1,1v1l1,1v1l1,1v1l1,1v1l1,1v1l1,1v1l1,1v1l1,1v1l1,1v1l1,1v1l1,1v2l1,1v2l1,1v2l1,1v4l-1,1v3l-1,1v2l-1,1v5l1,1h1l4,4h1l3,3h4l1,1h4l1,1h4l3,3v1l4,4v1l2,2l-1,1h-2l-1-1h-1l-1-1h-2l-1-1h-1l-1-1h-2l-1-1h-5l-1-1h-4l-1-1h-5v4h1l1,1h1l1,1h1l1,1h1l1,1h1l1,1h1l1,1h10l1,1h6v-4l1-1l1,1v1l4,4v1l2,2h1l1,1h1l1,1h1l1,1h1l1,1h1l1,1v1l1,1v1l1,1v1l1,1v1l2,2v1l3,3v1l3,3v1l3,3v1l1,1v1l1,1v1l1,1v1l1,1v1l1,1v1l1,1v1l1,1v1l1,1v2l1,1v4l1,1v4l1,1v3h8l1,1h8l1,1h8l1,1h8l1,1h8l1,1h8l1,1h8l2,2v8l1,1h1l1,1h1l1,1h1l2,2h1l1,1h1l1,1h1l2,2h1l1,1h1l1,1h1l1,1l1-1h1l1,1v1h5l1,1v3h1l2,2h1l2,2h1l1,1h1l1,1h1l2,2h2l3,3h1l1,1h1l1,1h1l2,2h1l1,1h1l1,1h1l2,2h1l1,1h1l1,1h1l2,2h1l1,1h1l1,1h1l2,2h1l1,1h1l1,1h1l2,2h1l1,1h1l1,1h1l2,2h1l1,1h5v-3h-1l-1-1v-7l1-1h1v-1l1-1h1v-3l1-1h1v-7l1-1h1v-1l1-1h1v-1l1-1h5v-1l1-1h1v-1l1-1h1v-1l1-1h7v-3l1-1h1v-3l1-1h3l1,1v1h5v-1l1-1h1l1,1v5h1l1,1v1h5l1,1v1h1v-1l1-1h3v-1l1-1h1v-3l1-1h23v-1h-1l-1-1v-7h-1l-1-1v-7l1-1h1v-1l1-1h7v-1l1-1h3l1,1v1h1v-3l1-1h1v-3l1-1h1v-3l1-1h1v-1h-5v1l-1,1h-1l-1-1v-7h-3v7l-1,1h-3l-1-1v-3l1-1h1v-3h-1l-1-1v-27l1-1h1v-3l1-1h1v-3l1-1h1v-1l1-1h1v-1h-1l-1-1v-1h-3l-1-1v-1l1-1h1v-1h-1l-1-1v-3h-1l-1-1v-7h-1l-1-1v-3h-1l-1-1v-3l1-1h1v-5h-3l-1-1v-1h-1l-1-1v-1h-15l-1-1v-1h-1v1l-1,1h-7l-1-1v-1h-3l-1-1v-3h-1l-1-1v-3h-1l-1-1v-5l1-1h1v-1l1-1h3v-1l1-1h1v-7l1-1h1v-3h-1l-1-1v-1h-1l-1-1v-1h-1l-1-1v-11l1-1h1l1,1v1h1v-1h-1l-1-1v-1l1-1h1v-1l1-1h1v-1l1-1h1v-1l1-1h3v-3l1-1h3v-1l1-1h3v-1l1-1h1v-1l1-1h1v-5h-1l-1-1v-9h-1l-1-1v-13l1-1h1v-5h-1l-1-1v-1l1-1h1v-11l1-1h5l1,1v3h3l1,1v1h1v-5l1-1h5v-1l1-1h1l1,1v1h1l1,1v1h1l1,1v1h1v-5h-1l-1-1v-3l1-1h5v-1h-1l-1-1v-1h-1l-1-1v-1h-1l-1-1v-1h-1l-1-1v-3h-1l-1-1v-1h-1l-1-1v-1h-3v1l-1,1h-3l-1-1v-1h-3l-1-1v-1h-3l-1-1v-1h-5l-1-1v-1h-3l-1-1v-1h-1l-1-1v-1h-9l-1-1v-1h-1l-1-1v-1h-1l-1-1v-7h-1l-1-1v-3h-1l-1-1v-3h-1l-1-1v-1h-1l-1-1v-1h-1l-1-1v-1h-1l-1-1v-3h-1l-1-1v-1h-3l-1-1v-1h-1v1l-1,1h-7v1l-1,1h-1v5h1l1,1v7l-1,1h-1v7h3l1,1v3h3l1,1v3h1l1,1v1h1l1,1v1l-1,1h-3l-1-1v-1h-3l-1-1v-1h-3l-1-1v-1h-1l-1-1v-5h-3l-1-1v-5h-3l-1-1v-1h-1l-1-1v-1h-5l-1-1v-1h-1v1l-1,1h-1l-1-1v-1h-3v5l-1,1h-3l-1-1v-1l1-1h1v-7l1-1h1v-3h-1l-1-1v-1l1-1h1v-5h-1l-1-1v-5h-1l-1-1v-3h-1l-1-1v-1h-1l-1-1v-1h-7v1l-1,1h-7l-1-1v-1h-3l-1-1v-1h-1l-1-1v-1h-1l-1-1v-1h-11l-1-1v-1h-3l-1-1v-1h-3l-1-1v-1h-5l-1-1v-1h-9l-1-1v-1h-7l-1-1v-1h-9l-1-1v-1h-3l-1-1v-1l1-1h5v-1l1-1h3l1,1v1h3v-1l1-1h1v-3l1-1h1v-13l1-1h1v-1l1-1h1v-7h-1l-1-1v-1l1-1h1v-7l1-1h1v-9l1-1h3v-3h-1l-1-1v-1h-3l-1-1v-3h-1l-1-1v-3h-1l-1-1v-1h-1l-1-1v-3h-5l-1-1v-3l1-1h1v-1h-1l-1-1v-1h-1v3l-1,1h-1l-1-1v-1h-1l-1-1v-1h-1v3l-1,1h-1v1l-1,1h-1v1l-1,1h-5l-1-1v-1l1-1h1v-1h-3v3l-1,1h-1v1l-1,1h-1v1l-1,1h-3v1l-1,1h-1l-1-1v-1h-1l-1-1v-1h-1l-1-1v-3h-5l-1-1v-1h-1v3l-1,1h-1v1l-1,1h-1l-1-1v-1h-5l-1-1v-1h-3l-1-1v-1l1-1h1v-7l1-1h1v-3l1-1h9v-5h-1l-1-1v-1h-1l-1-1v-11h-1l-1-1v-3h-3v1l-1,1h-5l-1-1v-1h-1l-1-1v-1h-3l-1-1v-3h-1l-1-1v-1zM295,722l1-1h1l1,1v3l-1,1h-1l-1-1zM285,708l1-1h7l1,1v3h1l1,1v1l-1,1h-1v1l-1,1h-1v3h3l1,1v1l-1,1h-5l-1-1v-1h-9l-1-1v-3h-1l-1-1v-5l1-1h7zM345,638l1-1h1l1,1v1l-1,1h-1l-1-1zM341,634l1-1h1l1,1v3l-1,1h-1l-1-1zM305,498l1-1h5l1,1v3l-1,1h-5v1l-1,1h-1l-1-1v-3l1-1h1zM123,452l1-1h3l1,1v9h1l1,1v3l-1,1h-1v3l-1,1h-1v5l-1,1h-3l-1-1v-3h-1l-1-1v-3h-1l-1-1v-9h-1l-1-1v-1l1-1h3v-1l1-1h3zM191,442l1-1h7l1,1v3l-1,1h-1v1l-1,1h-1v3l-1,1h-3v1l-1,1h-5l-1-1v-1h-1l-1-1v-1h-1l-1-1v-3l1-1h5v-1l1-1h3zM219,440l1-1h3l1,1v1h1l1,1v1l-1,1h-1v5l-1,1h-1l-1-1v-1h-1l-1-1zM353,432l1-1h5l1,1v17l-1,1h-3l-1-1v-1h-3v1l-1,1h-5l-1-1v-1h-5l-1-1v-1h-3v1l-1,1h-1v1h1l1,1v3h11v-1l1-1h1l1,1v1h5l1,1v1h1l1,1v1l-1,1h-3v5l-1,1h-3l-1-1v-1h-7v1l-1,1h-1v1l-1,1h-5v1l-1,1h-1v1l-1,1h-1l-1-1v-5l1-1h1v-3h-1l-1-1v-17l1-1h3v-3l1-1h1v-1l1-1h1v-1l1-1h7l1,1v1h3v-1l1-1h3zM207,420l1-1h1l1,1v1l-1,1h-1l-1-1zM217,416l1-1h3l1,1v5l-1,1h-3l-1-1zM191,366l1-1h5l1,1v5h3v-5l1-1h1l1,1v5h1v-1l1-1h3v-1l1-1h13l1,1v5h1l1,1v1l-1,1h-1v1h1l1,1v1h1l1,1v1l-1,1h-3v5l-1,1h-1v1l-1,1h-1v3h3l1,1v1h1l1,1v1l-1,1h-1v3l-1,1h-1v11l-1,1h-1l-1-1v-1h-5v3l-1,1h-11v1l-1,1h-1l-1-1v-1h-3v1l-1,1h-3v1l-1,1h-3v1l-1,1h-1v7l-1,1h-7l-1-1v-1h-5l-1-1v-3h-1l-1-1v-3l1-1h1v-1h-1l-1-1v-3h-1l-1-1v-3h-1l-1-1v-11l1-1h1v-1l1-1h1v-5l1-1h1v-1l1-1h1v-3l1-1h1v-5l1-1h1v-1l1-1h5v-1l1-1h1v-5l1-1h5zM79,328l1-1h1l1,1v1l-1,1h-1l-1-1zM73,306l1-1h3l1,1v5l-1,1h-3l-1-1zM137,278l1-1h5l1,1v3l-1,1h-3v1l-1,1h-3l-1-1v-3l1-1h1zM143,274l1-1h1l1,1v1l-1,1h-1l-1-1zM135,264l1-1h1l1,1v1l-1,1h-1l-1-1zM792,230v3l-1,1h-1v5h5l1,1v1l-1,1h-1v3h1l1,1v5l-1,1h-3v1h1l1,1v3l-1,1h-1v1l-1,1h-1v7l-1,1h-3v7h1v-1l1-1h1v-1l1-1h1v-3l1-1h5v-1l1-1h1v-1l1-1h7v-1l1-1h3v-3h-1v1l-1,1h-1l-1-1v-1h-1l-1-1v-1h-3v3l-1,1h-1l-1-1v-1h-3l-1-1v-3l1-1h1v-1l1-1h3v-1h-1l-1-1v-3h-1l-1-1v-5h-1l-1-1v-9zM542,228v3h3v-1h-1l-1-1v-1zM408,228v3h1l1,1v1h3v-1l1-1h1v-1l1-1h1v-1h-3v1l-1,1h-1v1l-1,1h-1l-1-1v-3zM352,228v3h1l1,1v1l-1,1h-3v1h1l1,1v1h1v-1l1-1h3l1,1v3h1l1,1v3h1l1,1v3h1l1,1v3h1l1,1v1h1l1,1v1h9l1,1v1h3v-1l1-1h3v-1l1-1h1v-1l1-1h1v-5h-1l-1-1v-5h-1l-1-1v-1h-1l-1-1v-1h-3l-1-1v-1h-5l-1-1v-1h-5l-1-1v-1h-7v1l-1,1h-1v1l-1,1h-1l-1-1v-1h-1l-1-1v-3zM144,228v3h1v-3zM332,226v3h1l1,1v7h3v-1l1-1h1l1,1v1h3v-3l1-1h1v-1l1-1h1v-3h-3v3l-1,1h-3v1l-1,1h-3l-1-1v-3h-1l-1-1v-3zM140,222v3h1v-3zM368,218v1h1l1,1v1h1l1,1v3h5l1,1v1h1v-1l1-1h3v-1h-1l-1-1v-3h-3l-1-1v-1h-3v1l-1,1h-1l-1-1v-1zM382,214v3h3l1,1v5h3v-3l1-1h3v-1l1-1h1v-1h-3v1l-1,1h-1v1l-1,1h-1l-1-1v-1h-1l-1-1v-3zM144,212v1h3v-1zM402,210v1l-1,1h-1v1h3v-3zM380,206v1h1l1,1v1h1v-3zM766,198v3h1v-3zM346,192v1l-1,1h-1v5h3l1,1v1h1v-9zM176,190v1l-1,1h-5v1l-1,1h-5v1l-1,1h-3v1l-1,1h-1v21l-1,1h-1v1h1l1,1v3h1l1,1v1h1l1,1v1h1l1,1v3h3l1,1v1h3v-5l1-1h1l1,1v1h1l1,1v3h7v-1h-1l-1-1v-1h-1l-1-1v-1h-3l-1-1v-1l1-1h3v-1l1-1h5v-1l1-1h3v-1l1-1h5v-3h-5l-1-1v-5h-1l-1-1v-5l1-1h1v-3l1-1h1v-3h-1l-1-1v-5h-1l-1-1v-1h-3v1l-1,1h-3l-1-1v-1zM340,186v3h1v-3zM208,186v5l-1,1h-5l-1-1v-3h-3v7l-1,1h-1v7l-1,1h-1v3h1l1,1v5h1l1,1v1h7v-3l1-1h1v-3l1-1h5v-1l1-1h1l1,1v1h3l1,1v1h1v-1l1-1h3v-1l1-1h1v-1l1-1h1v-5l1-1h1l1,1v1h1l1,1v1l-1,1h-1v3h1l1,1v1h3v-1l1-1h3v-5h-1l-1-1v-3h-5l-1-1v-1h-3v1l-1,1h-1v1l-1,1h-1v1l-1,1h-1v3l-1,1h-1l-1-1v-5h-5v1l-1,1h-1v1l-1,1h-1l-1-1v-3h-1l-1-1v-1l1-1h1v-5h-1l-1-1v-3zM205,202l1-1h3l1,1v1l-1,1h-3l-1-1zM198,184v1h5v-1zM502,174v1l-1,1h-5v1l-1,1h-3v1h1l1,1v5h1l1,1v1h1l1,1v1h1l1,1v3h1l1,1v3h1l1,1v1h9l1,1v1h1l1,1v1h3l1,1v1h5l1,1v1h1l1,1v1h1l1,1v1h1l1,1v5h1l1,1v3h1l1,1v1h1l1,1v1h7l1,1v1h13l1,1v1h3l1,1v1h3l1,1v1h1v-1l1-1h1v-1l1-1h3v-1l1-1h1v-1l1-1h1l1,1v1h1l1,1v1h1l1,1v1h1l1,1v3l-1,1h-1v3h1l1,1v1h3l1,1v7h1l1,1v1h13l1,1v1h1v-1l1-1h5l1,1v5l-1,1h-1v5h5v-1l1-1h3l1,1v3h3l1,1v1h13l1,1v1h1l1,1v1h1v-1l1-1h9l1,1v1h1l1,1v1h9v-1l1-1h1v-1l1-1h1v-1l1-1h5v-1l1-1h5v-1l1-1h3v-1l1-1h5l1,1v1h5v-1l1-1h1l1,1v3h1l1,1v1h1l1,1v1h5l1,1v1l-1,1h-1v1h1l1,1v1l-1,1h-1v1h1l1,1v5h1l1,1v1h1l1,1v3l-1,1h-1v5l-1,1h-1v1h1l1,1v1h1l1,1v1h1l1,1v1h7l1,1v1h3v-1l1-1h1v-1h-1l-1-1v-3l1-1h3v-3l1-1h1v-1l1-1h1v-3h-1l-1-1v-1h-3l-1-1v-3h-1l-1-1v-9h-1l-1-1v-3h-1l-1-1v-7h-3v1l-1,1h-3l-1-1v-3h-1l-1-1v-1h-1l-1-1v-1h-11v5l-1,1h-1l-1-1v-1h-1l-1-1v-9l1-1h1v-1l1-1h1v-9l1-1h5v-1l1-1h5l1,1v1h3v-1l1-1h1v-1l1-1h5v-5l1-1h1l1,1v1h3v-3h-1l-1-1v-1l1-1h3v-1l1-1h7v-1l1-1h1v-1l1-1h3v-3l1-1h1v-5h-5l-1-1v-1h-3v1l-1,1h-1v1h3l1,1v3l-1,1h-5v3l-1,1h-1l-1-1v-1h-1l-1-1v-1h-1l-1-1v-1h-1l-1-1v-1l1-1h5v-1l1-1h1v-5h-7l-1-1v-1h-1l-1-1v-1h-1l-1-1v-1l1-1h3v-1h-5l-1-1v-1h-7l-1-1v-1h-1v1l-1,1h-9l-1-1v-1h-3v1l-1,1h-9v1l-1,1h-1v1l-1,1h-1v1h7l1,1v1l-1,1h-1v1l-1,1h-1v1l-1,1h-1l-1-1v-1h-1v1l-1,1h-1l-1-1v-1h-1l-1-1v-1l1-1h1v-5h-3l-1-1v-1h-1l-1-1v-1h-1l-1-1v-1h-9l-1-1h-1l-1-1h-7v3l-1,1h-3l-1-1v-1h-3l-1-1v-1h-11l-1-1h-3l-1,1h-5l-1-1h-16l-1-1h-4v1l-1,1h-7l-1-1v-1h-1v1l-1,1h-1l-1-1v-1h-1l-1-1h-5l-1,1h-9l-1-1v-1h-21v1l-1,1h-27l-1-1v-1h-3l-1-1v-1h-1l-1-1v-1h-3l-1-1h-4l-1-1zM721,268l1-1h1l1,1v1l-1,1h-1l-1-1zM715,268l1-1h3l1,1v1l-1,1h-1v1l-1,1h-1l-1-1zM719,266l1-1h1l1,1v1l-1,1h-1l-1-1zM713,264l1-1h1l1,1v1l-1,1h-1l-1-1zM597,238l1-1h1l1,1v3l-1,1h-1v1l-1,1h-1l-1-1v-3l1-1h1zM717,222l1-1h3l1,1v3l-1,1h-3l-1-1zM711,216l1-1h1l1,1v1h5l1,1v1l-1,1h-1v1l-1,1h-1v3l-1,1h-1l-1-1v-1h-1l-1-1v-1h-1l-1-1v-3l1-1h1zM707,204l1-1h11l1,1v1l-1,1h-1v3l-1,1h-1l-1-1v-1h-5l-1-1v-1h-1l-1-1zM705,200l1-1h3l1,1v1l-1,1h-3l-1-1zM665,198l1-1h1l1,1v1l-1,1h-1l-1-1zM633,198l1-1h1l1,1v1l-1,1h-1l-1-1zM581,184l1-1h1l1,1v1l-1,1h-1l-1-1zM308,170v1h3v-1zM348,160v1h1l1,1v1l-1,1h-3v5l-1,1h-1v1h1l1,1v1h3v-1l1-1h1v-11zM336,158v1l-1,1h-1v1l-1,1h-1v1l-1,1h-3v3l-1,1h-1l-1-1v-3h-1l-1-1v-1h-3v1l-1,1h-1v3l-1,1h-1v3l-1,1h-1v1l-1,1h-1v1l-1,1h-1v1h3l1,1v11l-1,1h-1l-1-1v-3h-1l-1-1v-1h-1v1l-1,1h-3v5h1l1,1v3h5l1,1v1h3l1,1v1h1l1,1v1h3l1,1v1h5v-1l1-1h1v-1l1-1h1v-1l1-1h1v-5h-1l-1-1v-9l1-1h1v-3h-1l-1-1v-1l1-1h1v-5h-3l-1-1v-1l1-1h1v-3l1-1h5l1,1v1h3v-7zM319,176l1-1h3l1,1v3l-1,1h-5l-1-1v-1l1-1h1zM319,172l1-1h3l1,1v1l-1,1h-3l-1-1zM1312,152v1l-1,1h-1v1l-1,1h-5v7l-1,1h-1v1l-1,1h-1v1l-1,1h-3v1l-1,1h-3v1l-1,1h-5v1l-1,1h-1v1l-1,1v2l-1,1v4l-1,1v5l-1,1v3h1l1,1v5l-1,1h-1v3l-1,1v5l1,1v1h1l1,1v3l-1,1h-1v3l-2,2v1l-1,1v1l-1,1h1l1,1v3l-1,1h-1v1h1l1,1v1l-1,1h-3v3l-1,1h-1v3l-1,1h-1v11l-1,1h-1v1h3l1,1v11l-1,1h-7v9l-1,1h-1v3h1l1,1v5l-1,1h-1l-1-1v-1h-3v3h1l1,1v1h5l1,1v9h1v-1l1-1h1l1,1v7h1l1,1v3h1l1,1v1h1v-1l1-1h1l1,1v3h5v-3l1-1h3v-3l1-1h1v-5l1-1h3v-3l1-1h3v-1l1-1h1v-1h-1l-1-1v-1l1-1h5v-3l1-1h1v-1l1-1v-3l-1-1v-3l1-1h1l1,1v-1l3-3h1l4-4h1l3-3h1l2-2h1l2-2h1v-1l1-1h1v-1l1-1h1v-3l1-1h1v-3l1-1h1v-1l1-1h1v-1l1-1h1v-3h-5l-1-1v-1l1-1h3v-3l1-1h1v-1h-1l-1-1v-3h-1l-1-1v-7l1-1h1v-1h-1l-1-1v-1h-1l-1-1v-3l1-1h3v-1l1-1h1v-1h-1l-1-1v-1h-1l-1-1v-5l1-1h1v-7l1-1h1v-5h-1l-1-1v-11l-1-1v-1l-1-1v-3h-1l-1-1v-6l-1-1v-2l-1-1v-1h-1l-1-1v-1h-1l-1-1v-1h-3l-1-1v-1h-9l-1-1v-1zM1279,306l1-1h1l1,1v1l-1,1h-1l-1-1zM1277,272l1-1h1l1,1v1l-1,1h-1l-1-1zM1267,270l1-1h3l1,1v1h1l1,1v1h1l1,1v1l-1,1h-1v1l-1,1h-1l-1-1v-3h-3l-1-1zM1271,268l1-1h1l1,1v1l-1,1h-1l-1-1zM1305,228l1-1h3l1,1v3l-1,1h-3l-1-1z"/>
<path fill="#d87078" fill-rule="evenodd" d="M896,732v5h3v-1l1-1h1v-3zM288,722v2l1,1h1l1,1h1l2,2h1l1,1h1v-1h-3l-1-1v-1h-1l-1-1v-1h-1l-1-1v-1zM460,718v1l-1,1h-1v3h1l1,1v3l-1,1h-3v3l-1,1h-1l-1-1v-5h-3v1l-1,1h-1l-1-1v-1h-3l-1-1v-3h-7l-1-1v-1h-5v1l-1,1h-3l-1-1v-1h-5v1l-1,1h-1v1l-1,1h-3h6l1,1v1l1-1h9l1,1v1h1l1,1v1h3l1,1v1h1l1,1v3h1l1,1v3h3l1,1v1h1l1,1v1h1l1,1v1h7l1,1v1h1v-5h-1l-1-1v-5h-1v3l-1,1h-3l-1-1v-3h-1l-1-1v-1l1-1h5v-1l1-1h1v-1l1-1h1v-1l1-1h1l1,1v3l-1,1h-1v1h1v-1l1-1h1v-1l1-1h1v-1h-1l-1-1v-1h-1l-1-1v-1l1-1h1v-5zM534,712v3h1l1,1v3h1v-1l1-1h3v-1h-1l-1-1v-1h-1l-1-1v-1zM354,684v3h1v-1l1-1h1v-1zM554,682v1l-1,1h-1v1h1l1,1v1h1v-1l1-1h1v-3zM374,674v1l-1,1h-3v3l-1,1h-1v3h5v-1l1-1h3v-1h-1l-1-1v-5zM358,672v1h1l1,1v1h1v-1l1-1h1v-1zM586,648v3l-1,1h-13v1l-1,1h-1v1l-1,1h-1v1h1l1,1v3h1l1,1v7h17v-1l1-1h1v-5h-1l-1-1v-5l1-1h1v-5h-1l-1-1v-1zM376,646v3h5v-1h-1l-1-1v-1zM544,642v1l-1,1h-1v3l-1,1h-3l-1-1v-1h-13v3l-1,1h-3v1l-1,1h-1v1l-1,1h-3v1l-1,1h-1v7l-1,1h-3v1l-1,1h-3v1l-1,1h-3v3l-1,1h-1v1l-1,1h-1v1l-1,1h-1v1l-1,1h-11v1l-1,1h-3v1l-1,1h-3v1l-1,1h-1v1l-1,1h-1v3l-1,1h-1v9l-1,1h-1v3l-1,1h-1v5h3l1,1v5h1l1,1v1h1l1,1v1h1l1,1v1h11v-1l1-1h3v-1l1-1h1l1,1v1h1l1,1v1h1l1,1v1h1l1,1v1h3v-1l1-1h1v-7l1-1h1v-3l1-1h1v-1l1-1h7v-1l1-1h1v-3l1-1h1v-3l1-1h3v-1l1-1h1v-1l1-1h1v-3l1-1h1v-1l1-1h1v-1l1-1h1v-3l1-1h1v-1l1-1h1v-3h-1l-1-1v-1l1-1h5v-1l1-1h3v-1l1-1h1v-7l1-1h1v-1l1-1h3v-1l1-1h1v-1l1-1h1v-1l1-1h1v-3l1-1h1v-5h-1l-1-1v-1h-7l-1-1v-1h-3v3l-1,1h-1l-1-1v-3zM354,634v3h1l1,1v5h1l1,1v3l-1,1h-1v1h5l1,1v3l-1,1h-3v1h1l1,1v1h1l1,1v3h1v-1l1-1h3l1,1v1h1l1,1v5h3v-3l1-1h1v-1l1-1h1v-1l1-1h1l1,1v1h1v-7h-1v1l-1,1h-3l-1-1v-3h-3v1l-1,1h-7l-1-1v-5h-3l-1-1v-3l1-1h1v-5h-1l-1-1v-3zM105,630v5l1,1v3l1,1v1h2v-1l1-1h1l1,1v1h3v-3l-1-1v-1l-1-1v-2l-1-1v-1h-2l-1-1zM584,628v3h1v-1l1-1h1v-1zM566,628v5h9v-1h-1l-1-1v-3zM378,626v3l-1,1h-1v1l-1,1h-1v3h1l1,1v1h1v-1l1-1h1v-1l1-1h1v-7zM368,624v1l-1,1h-1v1l-1,1h-3v1h1l1,1v1l-1,1h-1v3h5v-1h-1l-1-1v-5l1-1h1v-1l1-1h1l1,1v1h3v-3zM342,622v1h5v-1zM108,616v4l1,1v1l1,1v1l1,1v1l1,1h4l1,1h4v-4l-1-1v-1l-2-2v-1l-1-1h-2l-1-1h-1l-1-1zM85,616l-1,1h-2v6l1,1v1h7v-6l-1-1v-2zM370,606v1h1l1,1v1h1l1,1v1l-1,1h-3v1h1l1,1v3l-1,1h-1v1h1l1,1v1h3l1,1v1h1v-1h-1l-1-1v-3l1-1h1l1,1v1h3v-1l1-1h1v-1h-1l-1-1v-3l1-1h5v-3h-5v1l-1,1h-1l-1-1v-1h-1l-1-1v-1zM354,602v1l-1,1h-1v1l-1,1h-1v5h1l1,1v1h5v-1h-1l-1-1v-7l1-1h1v-1zM592,600v1l-1,1h-7v1l-1,1h-1v1h1l1,1v3h5v-1l1-1h1v-1l1-1h5v-1l1-1h1v-1h-1l-1-1v-1zM348,588v1h3v-1zM760,576v1h3v-1zM372,574v1l-1,1h-1v1l-1,1h-1v1l-1,1h-1v3h3l1,1v1h5l1,1v1h1v-9h-1l-1-1v-1h-1l-1-1v-1zM356,574v5h1v-1l1-1h1v-3zM756,546v1l-1,1h-1v15l-1,1h-1v5h1l1,1v1h3l1,1v1h1v-1l1-1h9l1,1v1h1v-3h-1l-1-1v-1l1-1h1v-3h-1l-1-1v-11h-3l-1-1v-3h-5l-1-1v-1zM902,536v3h1v-3zM894,490v1l-1,1h-1v1h1v-1l1-1h3v-1zM960,462v1l-1,1h-13v1l-1,1h-25v3l-1,1h-1v1l-1,1h-3v1l-1,1h-1v1l-1,1h-3v1l-1,1h-1v1h1l1,1v3h1l1,1v3h1l1,1v1h1l1,1v1h1l1,1v3l-1,1h-1v3h1l1,1v1l-1,1h-1v1l-1,1h-1v5l-1,1h-5l-1-1v-3l1-1h1v-3h-3l-1-1v-1h-1l-1-1v-1h-3v1l-1,1h-5l-1-1v-1h-3v1l-1,1h-1v7l-1,1h-1v1l-1,1h-1l-1-1v-1h-1l-1-1v-7l1-1h3v-1l1-1h1v-1h-3v1l-1,1h-3v1l-1,1h-1v3l-1,1h-1v1l-1,1h-1v1h3l1,1v1l-1,1h-1v1l-1,1h-1v1l-1,1h-1v1h3v-1l1-1h3l1,1v1h1l1,1v1h1l1,1v1h1v-1l1-1h1v-3l1-1h1l1,1v7l-1,1h-1v1l-1,1h-1v1l-1,1h-3v1l-1,1h-1v1l-1,1h-3v1h5v-1l1-1h3v-1l1-1h1v-1l1-1h1l1,1v3l-1,1h-1v1h9l1,1v1h5v-1h-3l-1-1v-3l1-1h3v-1l1-1h1v-1h-1l-1-1v-1h-1l-1-1v-3l1-1h1v-1l1-1h3l1,1v1h1v-3l1-1h1l1,1v1h1l1,1v1h1l1,1v3h1l1,1v1h1l1,1v1h7v-1l1-1h1v-1l1-1h1v-1l1-1h1v-3l1-1h1v-1l1-1h1v-1l1-1h3v-1l1-1h1l1,1v1h1v-1l1-1h3v-1l1-1h5v-1l1-1h3v-1l1-1h1v-3h-5l-1-1v-1l1-1h7l1,1v1h3v-1l1-1h1v-5l1-1h3v-1l1-1h1v-1h-3l-1-1v-3l1-1h5v-1l1-1h5l1,1v1h1v-1l1-1h3v-1l1-1h1v-1l1-1h1v-5h-1l-1-1v-1h-3l-1-1v-1h-3l-1-1v-1h-3l-1-1v-1h-3l-1-1v-1zM909,512l1-1h1l1,1v1l-1,1h-1l-1-1zM973,466l1-1h1l1,1v1l-1,1h-1l-1-1zM452,462v3l-1,1h-1v3h3l1,1v1h1l1,1v1h1v-1l1-1h1v-7h-1l-1-1v-1zM372,434v1l-1,1h-1v1l-1,1h-5v1h3l1,1v1l-1,1h-1v1h7l1,1v5h1l1,1v1l-1,1h-1v1h9v-3l1-1h3l1,1v1h3v-5h-1l-1-1v-3h-1l-1-1v-1h-5l-1-1v-1h-5l-1-1v-1h-1l-1-1v-1zM994,420v1l-1,1h-3v1h3l1,1v1h1v-5zM424,418v1l-1,1h-3v1l-1,1h-1v3l-1,1h-1v3l-1,1h-1v1h1l1,1v1h3l1,1v1h5v-1l1-1h1v-1l1-1h1v-1l1-1h1v-1l1-1h1v-1l1-1h1v-3h-3l-1-1v-1h-1l-1-1v-1zM582,396v3h1l1,1v1h1v-3l1-1h1v-1zM364,370v5l-1,1h-5v1h1l1,1v1h1l1,1v5h3l1,1v1h3v-3l1-1h1v-3h-1l-1-1v-1h-1l-1-1v-3h-1l-1-1v-3zM624,366v3h1v-3zM376,366v1l-1,1h-1v5h1l1,1v1h1l1,1v1l-1,1h-1v5h1l1,1v1h1l1,1v5h1l1,1v1h7v-1l1-1h1v-1l1-1h1v-11h-1l-1-1v-9h-13l-1-1v-1zM614,358v1l-1,1h-1v1h3v-3zM618,354v1h1l1,1v1h3v-1h-1l-1-1v-1zM33,350l-2,2v1h2zM598,322v1h3v-1zM618,318v1l-1,1h-1v1l-1,1h-3v1l-1,1h-3l-1-1v-1h-1v5l-1,1h-1v5h1l1,1v1h1l1,1v3h1l1,1v1h3l1,1v3h3v-3l1-1h3v-1l1-1h1l1,1v3l-1,1h-1v3h1v-3l1-1h1l1,1v3h1l1,1v7h1l1,1v1h3l1,1v1l-1,1h-1v9h1l1,1v1h7l1,1v5h1v-7l1-1h1v-5l1-1h1v-3h-1l-1-1v-1h-1l-1-1v-1l1-1h3v-1l1-1h5v-1h-3l-1-1v-1l1-1h7v-1l1-1h1l1,1v3l-1,1h-1v3h3v-1l1-1h5l1,1v3l-1,1h-1v1l-1,1h-1v1l-1,1h-3v1l-1,1h-3v1l-1,1h-1v1l-1,1h-3v5l-1,1h-1v3h1l1,1v1l-1,1h-5v7h1l1,1v3h1l1,1v3h1l1,1v3h3v-1l1-1h1v-5l1-1h3v-3l1-1h1l1,1v1h1v-1l1-1h1v-1l1-1h21l1,1v1h1v-1l1-1h1v-1l1-1h1v-3l1-1h1v-1l1-1h9v-3l1-1h5v-3l1-1h1v-5l1-1h1v-3h-3l-1-1v-1h-7l-1-1v-1h-1l-1-1v-1h-3l-1-1v-1h-3v1l-1,1h-3l-1-1v-3h-1l-1-1v-1h-3l-1-1v-1h-3l-1-1v-1h-3v1l-1,1h-1l-1-1v-1h-1l-1-1v-1h-3l-1-1v-1h-1l-1-1v-1l1-1h1v-1h-1l-1-1v-1h-3l-1-1v-5h-13v1l-1,1h-1v1l-1,1h-1v1l-1,1h-3l-1-1v-1h-5l-1-1v-1h-3v3l-1,1h-1v1l-1,1h-5v1l-1,1h-3l-1-1v-9l1-1h1v-9zM647,384l1-1h3l1,1v1l-1,1h-3l-1-1zM665,378l1-1h1l1,1v1l-1,1h-1l-1-1zM673,372l1-1h1l1,1v3l-1,1h-5l-1-1v-1l1-1h3zM659,364l1-1h3l1,1v1l-1,1h-3l-1-1zM679,352l1-1h3l1,1v1h1l1,1v3h5l1,1v5l-1,1h-1v1l-1,1h-1v3l-1,1h-1v1l-1,1h-1l-1-1v-1h-1l-1-1v-7h-1l-1-1v-1h-1l-1-1v-1l1-1h1zM667,350l1-1h3l1,1v1l-1,1h-3l-1-1zM663,342l1-1h1l1,1v1h1l1,1v5l-1,1h-1l-1-1v-3h-1l-1-1zM649,340l1-1h3l1,1v3l-1,1h-1l-1-1v-1h-1l-1-1zM244,306v1l-1,1h-3v7l-1,1h-1l-1-1v-1h-3v3h1l1,1v5h1v-1l1-1h1l1,1v5l-1,1h-1v1l-1,1h-3v1l-1,1h-3l-1-1v-3l1-1h1v-3h-1l-1-1v-1l1-1h1v-3h-3v3l-1,1h-1v7l-1,1h-1v11h1l1,1v5h3v-1l1-1h5l1,1v1h1v-1l1-1h3l1,1v1h7l1,1v1h7v-1l1-1h1l1,1v1h5v-1l1-1h1v-1l1-1h1v-1l1-1h1l1,1v1h1v-3h-1l-1-1v-1l1-1h1v-5h-3l-1-1v-1h-9v7l-1,1h-7l-1-1v-3l1-1h3v-1h-5l-1-1v-1h-3l-1-1v-3h-1l-1-1v-3l1-1h1v-5l1-1h1v-1l1-1h1v-3h-1l-1-1v-3h-1l-1-1v-1zM261,336l1-1h1l1,1v1l-1,1h-1l-1-1zM424,302v3h3v-3zM1216,300v5l-1,1h-1v1l-1,1h-1v1h1l1,1v3h3v-1l1-1h3v-3h-1l-1-1v-3l1-1h1v-3zM1280,298v1l-1,1h-1v1h1l1,1v1h3v-5zM294,298v3h1l1,1v1h1v-3h-1l-1-1v-1zM720,280v3h1v-3zM202,280v1l-1,1h-1v1l-1,1h-11v1l-1,1h-1v1l-1,1h-3v1l-1,1h-1v1l-1,1h-3l-1-1v-3h-1l-1-1v-1h-5l-1-1v-1h-1v1l-1,1h-5l-1-1v-1h-3l-1-1v-1h-3v1l-1,1h-1l-1-1v-1h-3v1l-1,1h-3v1l-1,1h-7v1l-1,1h-1v1l-1,1h-3v1l-1,1h-1v1l-1,1h-1v1l-1,1h-9v1l-1,1h-1v1l-1,1h-3v1l-1,1h-1v3l-1,1h-1v5l-1,1h-1v3l-1,1h-1v1l-1,1h-1v1l-1,1h-1v5l-1,1h-1v1l-1,1h-1v1l-1,1h-7v1l-1,1h-15v1l-1,1h-1v1l-1,1h-1v5h3l1,1v3l-1,1h-1l-1-1v-1h-5v1l-1,1h-1v5l-1,1h-1v5l-1,1h-1v1l-1,1h-1v1l-1,1h-1v1l-1,1h-1v1l-1,1h-1v1l-1,1h-5v3l-1,1h-1v1l-1,1h-7l-1-1v-7h-1l-1-1v-1h-1l-1-1v-1v8l1,1v2l1,1v3l1,1v2l1,1v8l1,1v7l-1,1v5l1,1v3l-1,1h-1v7l1,1v2l1,1v2l1,1v2l1,1v2l1,1v2l1,1v1l1,1v2l1,1v1l1,1v2l1,1v1l1,1v2l1,1v1l1,1v1l1,1v1l1,1v1l1,1v1l1,1v3l-1,1v10l1,1v2l1,1v3l1,1v2l1,1v1l8,8v1l-4,4v1l-2,2v17l1,1v1l1,1v2l1,1v1l1,1v2l1,1v1l1,1v1l1,1v1l1,1v1l1,1v1l1,1v1l1,1v1l1,1v1l1,1v1l1,1v1l1,1v2l1,1v2l1,1v2l1,1v4l-1,1v3l-1,1v2l-1,1v5l1,1h1l4,4h1l3,3h4l1,1h4l1,1h4l3,3v1l4,4v1l2,2l-1,1h-2l-1-1h-1l-1-1h-2l-1-1h-1l-1-1h-2l-1-1h-5l-1-1h-4l-1-1h-5v4h1l1,1h1l1,1h1l1,1h1l1,1h1l1,1h1l1,1h10l1,1h6v-4l1-1l1,1v1l4,4v1l2,2h1l1,1h1l1,1h1l1,1h1l1,1h1l1,1v1l1,1v1l1,1v1l1,1v1l2,2v1l3,3v1l3,3v1l3,3v1l1,1v1l1,1v1l1,1v1l1,1v1l1,1v1l1,1v1l1,1v1l1,1v2l1,1v4l1,1v4l1,1v3h8l1,1h8l1,1h8l1,1h8l1,1h8l1,1h8l1,1h8l1,1h2l1,1v7l-1,1h-1l1,1h1l1,1h1l1,1h1l2,2h1l1,1h1l1,1h1l2,2h1l1,1h1l1,1h10l1,1v1h1l1,1v3h1l1,1v1h1l1,1v1h1l1,1h1l1,1h3l1,1v1h3l1,1v1h1l1,1v1h5l1,1v2l1,1h1l1,1h1l2,2h1l1,1h1l1,1h1l2,2h1l1,1h2v-1h-1l-1-1v-3h-1l-1-1v-5l1-1h1l1,1v1h7v-1l1-1h11l1,1v1h1l1,1v1l-1,1h-1v1h1l1,1v1h1l1,1v1h1v-3l1-1h1v-7l1-1h1v-1l1-1h1v-1l1-1h1v-1l1-1h5v-1l1-1h1v-1l1-1h1v-1l1-1h5v-1l1-1h1v-3l1-1h9v-1l1-1h1v-5l1-1h1v-3l1-1h1l1,1v1h5l1,1v1h3v-1l1-1h1v-1h-1l-1-1v-3l1-1h1v-1l1-1h1v-1h-1l-1-1v-3h-9l-1-1v-1h-1l-1-1v-1l1-1h1v-1l1-1h1v-1h-3l-1-1v-3l1-1h1v-5h-1v1l-1,1h-1v3l-1,1h-3l-1-1v-1h-1l-1-1v-1l1-1h1v-5h-1l-1-1v-5l1-1h3v-1h-1l-1-1v-1l1-1h1v-1h-1l-1-1v-1h-1l-1-1v-1h-1l-1-1v-5l1-1h1v-3l1-1h1v-3l1-1h1v-1l1-1h5v-1l1-1h1v-1l1-1h1v-3l1-1h3v-1l1-1h1v-1l1-1h3l1,1v1h1l1,1v1h1l1,1v1h1v-1h-1l-1-1v-5l1-1h3v-1l1-1h1v-3h-7v1l-1,1h-3l-1-1v-5h-3l-1-1v-1h-3v3h3l1,1v5h1l1,1v3l-1,1h-5v1l-1,1h-3l-1-1v-5h-7l-1-1v-3h-1l-1-1v-7l1-1h1v-5l1-1h7v-3h-1l-1-1v-5h-1l-1-1v-3h-1l-1-1v-3l1-1h1v-1l1-1h1v-1l1-1h1v-1l1-1h1v-7h-1l-1-1v-5h-1l-1-1v-1h-1l-1-1v-5l1-1h1v-5l1-1h1v-1l1-1h3v-1l1-1h1v-1l1-1h1v-1l1-1h1v-3l1-1h3v-1l1-1h3v-1l1-1h1v-1l1-1h1v-3h-1l-1-1v-7h-1l-1-1v-13l1-1h1v-7h-1l-1-1v-1l1-1h1v-5h-3l-1-1v-1h-3v3l-1,1h-1v1l-1,1h-7l-1-1v-1h-5v1l-1,1h-1v1l-1,1h-1v1l-1,1h-3v3l-1,1h-3l-1-1v-1h-1l-1-1v-5l1-1h1v-9h-1l-1-1v-13l1-1h1v-1l1-1h1v-3l1-1h1v-1l1-1h1v-1h-1l-1-1v-1l1-1h1v-1l1-1h1l1,1v3h5v-1l1-1h1v-5h-1l-1-1v-3h-1l-1-1v-7h-1l-1-1v-3h-1l-1-1v-1h-1l-1-1v-1h-1l-1-1v-1h-1l-1-1v-3h-1l-1-1v-3h-3l-1-1v-1h-3v1l-1,1h-5v5h1l1,1v1h1l1,1v3l-1,1h-1v7h1l1,1v1h5l1,1v1l-1,1h-1v3h1l1,1v1h1l1,1v1h1l1,1v1l-1,1h-1v1l-1,1h-7l-1-1v-1h-1l-1-1v-1h-3l-1-1v-1h-1l-1-1v-1h-1l-1-1v-1h-1l-1-1v-1h-1l-1-1v-5h-1l-1-1v-1h-1l-1-1v-1h-3l-1-1v-1h-3v1l-1,1h-3v9h1l1,1v5l-1,1h-3l-1-1v-1h-1l-1-1v-7h-1l-1-1v-19l1-1h1v-5h-1l-1-1v-3h-1l-1-1v-5h-1l-1-1v-1h-1l-1-1v-1h-1v1l-1,1h-5v1l-1,1h-3l-1-1v-1h-5l-1-1v-1h-1l-1-1v-1h-1l-1-1v-1h-11l-1-1v-1h-1l-1-1v-1h-7l-1-1v-1h-3l-1-1v-1h-3l-1-1v-1h-7l-1-1v-1h-1v1l-1,1h-1l-1-1v-1h-5l-1-1v-1h-15l-1-1v-1h-1l-1-1v-1l1-1h1v-1l1-1h5v-3l1-1h1l1,1v3h3v-1l1-1h3l1,1v1h1v-1l1-1h1v-3l1-1h1v-1l1-1h1v-1h-1l-1-1v-7l1-1h1v-5l1-1h1v-13l1-1h1v-9h-1l-1-1v-5h-1l-1-1v-7h-3l-1-1v-1h-3l-1-1v-3h-1l-1-1v-1zM343,662l1-1h1l1,1v1l-1,1h-1l-1-1zM339,654l1-1h3l1,1v1l-1,1h-1v1l-1,1h-1l-1-1zM313,636l1-1h5l1,1v3l-1,1h-1v1l-1,1h-1l-1-1v-1h-1v3l-1,1h-3l-1-1v-1h-1l-1-1v-1l1-1h3v-1l1-1h1zM313,624l1-1h1l1,1v1h1l1,1v5l-1,1h-3v1l-1,1h-3l-1-1v-7l1-1h3zM327,622l1-1h1l1,1v1h1l1,1v1l-1,1h-3l-1-1zM273,522l1-1h1l1,1v1l-1,1h-1l-1-1zM291,514l1-1h1l1,1v1l-1,1h-1l-1-1zM349,506l1-1h1l1,1v1l-1,1h-1l-1-1zM309,494l1-1h5l1,1v3l-1,1h-1v3l-1,1h-1v1h1l1,1v1l-1,1h-1v5l-1,1h-1l-1-1v-1h-1l-1-1v-1h-1v1l-1,1h-1l-1-1v-3h-5l-1-1v-5l1-1h1v-1l1-1h5v-1l1-1h3zM199,464l1-1h1l1,1v1l-1,1h-1l-1-1zM209,458l1-1h1l1,1v3h1l1,1v3l-1,1h-3l-1-1v-1h-1l-1-1v-3l1-1h1zM201,456l1-1h3l1,1v5l-1,1h-3l-1-1zM173,456l1-1h1l1,1v1l-1,1h-1l-1-1zM217,454l1-1h3l1,1v1l-1,1h-3l-1-1zM243,450l1-1h3l1,1v3l-1,1h-3v1l-1,1h-7v1l-1,1h-3l-1-1v-5l1-1h11zM117,450l1-1h9l1,1v1h1l1,1v9h1l1,1v1h1l1,1v1l-1,1h-1v1l-1,1h-1v1l-1,1h-1v9l-1,1h-1v1l-1,1h-5l-1-1v-7h-1l-1-1v-3h-1l-1-1v-9h-1l-1-1v-5l1-1h1v-1l1-1h1zM167,444l1-1h1l1,1v3l-1,1h-1l-1-1zM259,440l1-1h3l1,1v3l-1,1h-1v1l-1,1h-1v1l-1,1h-1l-1-1v-5l1-1h1zM169,440l1-1h1l1,1v3l-1,1h-1l-1-1zM229,438l1-1h1l1,1v1l-1,1h-1l-1-1zM217,438l1-1h7l1,1v1h3l1,1v5l-1,1h-1v3h1l1,1v7l-1,1h-7l-1-1v-1l1-1h3v-1h-1l-1-1v-1h-3l-1-1v-1h-1l-1-1v-7h-1l-1-1v-1l1-1h1zM191,436l1-1h3l1,1v1h1l1,1v1h5v-1l1-1h1l1,1v1h1l1,1v1h1l1,1v1l-1,1h-1v3h3l1,1v1l-1,1h-1v3h1l1,1v1l-1,1h-5l-1-1v-11h-1v1l-1,1h-1v1l-1,1h-1v1l-1,1h-1v3l-1,1h-3v1l-1,1h-9l-1-1v-3h-5l-1-1v-5l1-1h1v-1l1-1h5v-1l1-1h1v-3l1-1h3l1,1v1h1v-1h-1l-1-1zM217,430l1-1h1l1,1v3l-1,1h-3l-1-1v-1l1-1h1zM159,420l1-1h1l1,1v1l-1,1h-1l-1-1zM157,418l1-1h1l1,1v1l-1,1h-1l-1-1zM251,408l1-1h1l1,1v1h1l1,1v1l-1,1h-3l-1-1zM37,402l1-1h3l1,1v5h3l1,1v3l-1,1h-1v3l-1,1h-3l-1-1v-3h-3l-1-1v-5l1-1h1zM243,400l1-1h1l1,1v1l-1,1h-1l-1-1zM237,394l1-1h5l1,1v1l-1,1h-1v1l-1,1h-5l-1-1v-1l1-1h1zM269,388l1-1h1l1,1v1l-1,1h-1l-1-1zM51,388l1-1h1l1,1v1h1l1,1v1l-1,1h-5l-1-1v-1l1-1h1zM267,386l1-1h1l1,1v1l-1,1h-1l-1-1zM261,382l1-1h3l1,1v1h1l1,1v1l-1,1h-1v1l-1,1h-1l-1-1v-1h-1l-1-1zM173,370l1-1h1l1,1v1l-1,1h-1l-1-1zM185,362l1-1h9l1,1v1h1v-1l1-1h3l1,1v1h7l1,1v1h13l1,1v1h1l1,1v5h1l1,1v3h1l1,1v1h1l1,1v1l-1,1h-1v1l-1,1h-1v13h3v-1l1-1h1l1,1v3l-1,1h-3v3h1l1,1v5l-1,1h-1l-1-1v-1h-1v3h1l1,1v1l-1,1h-1v1l-1,1h-1v5l-1,1h-1v1h1l1,1v3l-1,1h-9v1l-1,1h-3l-1-1v-1h-1l-1-1v-1h-1v1l-1,1h-9l-1-1v-1h-1v1l-1,1h-1l-1-1v-3h-3v5l-1,1h-1v1l-1,1h-3v1l-1,1h-3l-1-1v-1h-11v1l-1,1h-1v1l-1,1h-7v1l-1,1h-1v1l-1,1h-3l-1-1v-3l1-1h3v-1h-1l-1-1v-3l1-1h1l1,1v1h3v-1h-1l-1-1v-1l1-1h5v-27h-1l-1-1v-1l1-1h1v-1l1-1h1v-3l1-1h1v-5l1-1h1v-1l1-1h1v-1l1-1h1v-5l1-1h1v-1l1-1h3v-1l1-1h1v-3h-1l-1-1v-1l1-1h3v-1l1-1h1zM149,362l1-1h3l1,1v1l-1,1h-3l-1-1zM189,358l1-1h3l1,1v1l-1,1h-3l-1-1zM155,358l1-1h1l1,1v1l-1,1h-1l-1-1zM155,352l1-1h3l1,1v1l-1,1h-3l-1-1zM211,318l1-1h1l1,1v1l-1,1h-1l-1-1zM440,264v3h1v-1l1-1h1v-1zM154,248v1h3v-1zM134,240v1l-1,1h-3v1l-1,1h-1v1h1l1,1v3h5l1,1v1h5v-1l1-1h3l1,1v5l-1,1h-1v3h1l1,1v1l-1,1h-3v1h5l1,1v1h1l1,1v1h1v-1l1-1h1v-1l1-1h1v-1h-1l-1-1v-1h-1l-1-1v-1h-1l-1-1v-1h-1l-1-1v-1l1-1h1v-1l1-1h1v-1h-1l-1-1v-1h-1l-1-1v-1h-3l-1-1v-1h-1l-1-1v-1h-1l-1-1v-1zM372,236v3l-1,1h-7v5h1l1,1v3h3v-1l1-1h1v-1l1-1h1v-3l1-1h1l1,1v1h1v-3h-1l-1-1v-3zM371,240l1-1h1l1,1v1l-1,1h-1l-1-1zM198,206v3h1l1,1v1h1v-1l1-1h1v-3zM172,194v1l-1,1h-1v1l-1,1h-1l-1-1v-1h-3v1l-1,1h-1v1l-1,1h-1v5h1l1,1v1h1l1,1v1l-1,1h-1v1l-1,1h-1v9h1l1,1v1h1l1,1v3h3l1,1v1h3v-1l1-1h1v-1l1-1h3v-1l1-1h7v-3l1-1h1v-9h-1l-1-1v-3l1-1h1v-5h-1l-1-1v-3h-1l-1-1v-1zM167,218l1-1h1l1,1v1l-1,1h-1l-1-1zM660,186v3h1v-3zM318,186v1h3l1,1v5h1l1,1v3h1v-1l1-1h5v-1h-1l-1-1v-1h-1l-1-1v-1h-1l-1-1v-1h-1l-1-1v-1zM502,176v3l-1,1h-5v1h1l1,1v1h3l1,1v3h1l1,1v3h3l1,1v1l-1,1h-1v1h1l1,1v1h3v-1l1-1h1l1,1v1h1l1,1v1h5l1,1v1h1l1,1v1h3v-1l1-1h1l1,1v5h1l1,1v1h3l1,1v3l-1,1h-1v1h1l1,1v1h1l1,1v1h1l1,1v3h5v-1l1-1h1l1,1v1h3v-1l1-1h15v-1l1-1h5l1,1v1h3l1,1v1h3v-1l1-1h3l1,1v3l-1,1h-1v1h1v-1l1-1h5l1,1v7h5l1,1v1h3l1,1v3h1l1,1v1h1l1,1v5h1v-1l1-1h5l1,1v1h1l1,1v5h1l1,1v3h1v-3l1-1h3v-1l1-1h1l1,1v1h1l1,1v11h13l1,1v1h5v-1l1-1h5v-1l1-1h1l1,1v1h1v-3l1-1h11v-1l1-1h3v-1h-1l-1-1v-3l1-1h1v-3l1-1h3v-1l1-1h1v-3h-3l-1-1v-5l1-1h5l1,1v3h9l1,1v1h1l1,1v1h1v-3l1-1h1v-5h-1l-1-1v-3l1-1h1v-3l1-1h1l1,1v1h3v-5l1-1h3v-1h-1l-1-1v-1l1-1h1v-7h-1l-1-1v-5h-1l-1-1v-1h-1l-1-1v-1h-5v1h1l1,1v3l-1,1h-3v1l-1,1h-3l-1-1v-3h-3l-1-1v-1h-11v1l-1,1h-9l-1-1v-1h-5v1l-1,1h-1v1l-1,1h-1v1l-1,1h-1l-1-1v-5h-3l-1-1v-5h-3v3l-1,1h-5v1l-1,1h-5l-1-1v-1h-15v1l-1,1h-1l-1-1v-1h-1l-1-1v-5h-3v1l-1,1h-3v1l-1,1h-5l-1-1v-1h-1l-1-1v-3h-3v9l-1,1h-3v1l-1,1h-7l-1-1v-5h-1l-1-1v-5h-1l-1-1v-1h-1l-1-1v-5h-3l-1-1v-1h-1l-1-1v-1h-3v1l-1,1h-3l-1-1v-1h-3v3l-1,1h-3v1l-1,1h-7l-1-1v-1h-1l-1-1v-1h-23l-1-1v-1h-1l-1-1v-1h-5l-1-1v-3zM667,258l1-1h1l1,1v1l-1,1h-1l-1-1zM605,224l1-1h3l1,1v3l-1,1h-3l-1-1zM637,216l1-1h1l1,1v1l-1,1h-1l-1-1zM681,212l1-1h1l1,1v1l-1,1h-1l-1-1zM679,210l1-1h1l1,1v1l-1,1h-1l-1-1zM627,208l1-1h3l1,1v3l-1,1h-1l-1-1v-1h-1l-1-1zM569,194l1-1h1l1,1v1l-1,1h-1l-1-1zM543,194l1-1h3l1,1v3h1l1,1v1l-1,1h-1v3l-1,1h-1l-1-1v-1h-1l-1-1zM559,190l1-1h1l1,1v1h1l1,1v3h1l1,1v1l-1,1h-3v1l-1,1h-1l-1-1zM1318,158v1l-1,1h-3v1l-1,1h-3v1l-1,1h-1v3l-1,1h-5v1l-1,1h-1v1l-1,1h-5v1l-1,1h-5v3l-1,1h-1l-1-1v-1h-1v1l-2,2v10h1l1,1v3h3l1,1v3l-1,1h-3v3l-1,1h-1v1l-1,1h-1v3h1l1,1v1h1l1,1v7l-1,1h-1v9l-1,1h-1v7l-1,1h-3v3l-1,1h-1v3h1v-1l1-1h1l1,1v5l-1,1h-1v1h1l1,1v1h1l1,1v1h1l1,1v3h5l1,1v3l-1,1h-1v3l-1,1h-1v5h1l1,1v1l-1,1h-1v3l-1,1h-3v5l-1,1h-1v3l-1,1h-1v1h1l1,1v3h3l1,1v1h3l1,1v1h1v-1l1-1h1v-1l1-1h3l1,1v1h1v-5l1-1h1v-3l1-1h1v-1l1-1h1v-1l1-1h1v-1h-1l-1-1v-3l1-1h1v-3h-1l-1-1v-1l1-1h1v-1l1-1h1l1,1v1h1l1,1v1h3v-1l1-1h6l1-1v-2l1-1h4l1-1v-2l1-1h1v-3l1-1h1v-3l1-1h1v-3l1-1h1v-3h-1l-1-1v-3h-1l-1-1v-1l1-1h1v-1l1-1h1v-13h-1l-1-1v-11l1-1h1v-3h-1l-1-1v-3l1-1h1v-1l1-1h1v-5l1-1h1v-1h-1l-1-1v-17h-1l-1-1v-1h-1l-1-1v-7h-3l-1-1v-1l1-1h1v-1h-3l-1-1v-1h-1l-1-1v-1zM1285,280l1-1h3l1,1v1l-1,1h-3l-1-1zM1303,256l1-1h1l1,1v1l-1,1h-1l-1-1zM1279,248l1-1h1l1,1v1l-1,1h-1l-1-1zM1315,242l1-1h1l1,1v3l-1,1h-1l-1-1zM1307,220l1-1h3l1,1v3h3l1,1v1l-1,1h-1v1l-1,1h-1v3l-1,1h-1v1l-1,1h-5v1l-1,1h-1v1l-1,1h-1v1l-1,1h-1v1l-1,1h-1l-1-1v-3l1-1h1v-9l1-1h1v-1l1-1h3v-1l1-1h1v-1l1-1h1zM1315,208l1-1h1l1,1v1l-1,1h-1l-1-1zM1291,204l1-1h3l1,1v3h1l1,1v1l-1,1h-3l-1-1v-1h-1l-1-1zM1319,192l1-1h3l1,1v1l-1,1h-3l-1-1zM1331,190l1-1h1l1,1v1l-1,1h-1l-1-1zM1323,188l1-1h3l1,1v1h1l1,1v1h1l1,1v3l-1,1h-1l-1-1v-1h-3l-1-1v-1h-1l-1-1z"/>
<path fill="#dc4040" fill-rule="evenodd" d="M420,722v2l1,1v-1l1-1h1v-1zM576,664v3h11v-1h-1l-1-1v-1zM526,648v1l-1,1h-1v1l-1,1h-1v1l-1,1h-1v1l-1,1h-3v5l-1,1h-1v1l-1,1h-1v1l-1,1h-1v1l-1,1h-3v1l-1,1h-3v1l-1,1h-1v3l-1,1h-1v1l-1,1h-1v1l-1,1h-1v1l-1,1h-1l-1-1v-1h-3v1l-1,1h-1l-1-1v-1h-1v3l-1,1h-7v1l-1,1h-1v1l-1,1h-1v1l-1,1h-1v3h1l1,1v7h3l1,1v1l-1,1h-1v3l-1,1h-1v9h5l1,1v1h5v-1l1-1h3v-1l1-1h5l1,1v1h1l1,1v1h1l1,1v3h1v-3h-1l-1-1v-3h-1l-1-1v-1l1-1h1v-1h-1l-1-1v-1l1-1h5v-1l1-1h3v-1l1-1h1v-1l1-1h1l1,1v1h1v-1l1-1h3v-1h-3l-1-1v-3h-3l-1-1v-1l1-1h1v-1l1-1h3l1,1v1h5l1,1v1h1v-1l1-1h1v-1l1-1h1v-3l1-1h1v-1l1-1h1v-1h-1l-1-1v-1l1-1h1v-1l1-1h1v-3l1-1h1v-1h-1l-1-1v-1l1-1h3v-1l1-1h1v-1l1-1h1v-1l1-1h1v-1l1-1h1v-3l1-1h1v-3h-5v1l-1,1h-5l-1-1v-1h-1l-1-1v-3h-1v1l-1,1h-5l-1-1v-3l1-1h3v-1l1-1h1v-1zM493,684l1-1h1l1,1v1l-1,1h-1l-1-1zM515,678l1-1h1l1,1v3l-1,1h-3l-1-1v-1l1-1h1zM513,674l1-1h1l1,1v1l-1,1h-1l-1-1zM330,634v3l-1,1h-1v3h1l1,1v1h1v-1l1-1h1v-1h-1l-1-1v-5zM105,630v5l1,1v3h9v-1l-1-1v-1l-1-1v-2l-1-1v-1h-2l-1-1zM108,616v4l1,1v1l1,1v1l1,1v1l1,1h4l1,1h4v-4l-1-1v-1l-2-2v-1l-1-1h-2l-1-1h-1l-1-1zM85,616l-1,1h-2v6l1,1v1h7v-6l-1-1v-2zM756,566v3h3v-3zM756,550v5h1l1,1v3h1l1,1v3h7v-1h-3l-1-1v-1l1-1h1v-3h-5l-1-1v-1l1-1h1v-3zM896,524v1l-1,1h-5v3h5v-1l1-1h1v-3zM894,502v1l-1,1h-1v1l-1,1h-1v1h5l1,1v3l-1,1h-3v3h3v-3l1-1h3v-3h-1l-1-1v-3h-1l-1-1v-1zM130,478v1h3l1,1v3l-1,1h-1v1h1l1,1v1h3v-7h-1l-1-1v-1zM946,466v1l-1,1h-13v1l-1,1h-3v1l-1,1h-1v1l-1,1h-3v1l-1,1h-1v1l-1,1h-1v1l-1,1h-1v5h7l1,1v1l-1,1h-1v1l-1,1h-1v1h1l1,1v3h1l1,1v5l-1,1h-3v1l-1,1h-1v1h1l1,1v5h7l1,1v1l-1,1h-1v1l-1,1h-1v1l-1,1h-3v3h5v-3l1-1h1v-1l1-1h1v-1l1-1h1v-1l1-1h3v-1l1-1h1v-1l1-1h9v-1h-1l-1-1v-1l1-1h1v-1l1-1h3v-1h-1l-1-1v-1h-3l-1-1v-1l1-1h3v-1l1-1h1v-1l1-1h3l1,1v1h7v-1h-1l-1-1v-1l1-1h3v-3l1-1h1v-1l1-1h1v-1h-1l-1-1v-1l1-1h1v-1l1-1h1l1,1v1h1v-1l1-1h1v-1l1-1h3l1,1v1h9v-3h-1v1l-1,1h-7l-1-1v-3h-7l-1-1v-1h-1l-1-1v-1h-1v3h1l1,1v3l-1,1h-1v1l-1,1h-3v1l-1,1h-1l-1-1v-3h-3l-1-1v-5h-1l-1-1v-1h-1l-1-1v-1zM931,508l1-1h1l1,1v1l-1,1h-1l-1-1zM937,478l1-1h3l1,1v1l-1,1h-3l-1-1zM960,464v5h3v-1l1-1h1v-3zM324,460v3h3v-3zM194,460v1l-1,1h-1v1h1l1,1v1h1v-5zM37,438v2l1,1v1l1,1v-3h-1l-1-1zM200,436v1h3v-1zM424,428v1l-1,1h-5v1h1l1,1v1h1v-1l1-1h5v-1h-1l-1-1v-1zM30,418v3l1,1v2l1,1v2l1,1v2l1,1v1l1,1v2v-3l1-1h1v-1h-1l-1-1v-3h-1l-1-1v-3h-1l-1-1v-3zM330,416v5h1v-1l1-1h1v-3zM246,410v1l-1,1h-3v1h3l1,1v3l-1,1h-1v1h5l1,1v3l-1,1h-1l-1-1v-1h-1v3l-1,1h-3v1l-1,1h-5v5l-1,1h-1v3h1l1,1v3h1l1,1v1h13v-1l1-1h5v-3l1-1h7v-3l1-1h1v-5l1-1h1v-1h-1l-1-1v-1h-9l-1-1v-1h-3l-1-1v-5h-1l-1-1v-1h-1l-1-1v-1h-1l-1-1v-1zM245,440l1-1h1l1,1v1l-1,1h-1l-1-1zM239,432l1-1h1l1,1v1h1l1,1v1l-1,1h-5l-1-1v-1l1-1h1zM253,428l1-1h3l1,1v1l-1,1h-3l-1-1zM251,424l1-1h1l1,1v1l-1,1h-1l-1-1zM46,396v1h3v-1zM324,394v5h1l1,1v1l-1,1h-1v5h1l1,1v1h1l1,1v1h7v-5h-1l-1-1v-1h-1l-1-1v-1h-1l-1-1v-1h-1l-1-1v-3h-1l-1-1v-1zM240,390v1h3v-1zM384,378v1l-1,1h-1v1l-1,1h-1v1h1l1,1v5h9v-9h-3l-1-1v-1zM158,378v3h1v-3zM34,376v1h3v-1zM690,374v1h1l1,1v1h1v-3zM27,374v3l1,1v2l1,1v8l1,1v7l-1,1v1l1,1v11h1v-3l1-1h1v-9l1-1h1v-5h-1l-1-1v-7l1-1h1v-3h-3l-1-1v-1h-1l-1-1v-1h-1l-1-1zM654,372v5h1l1,1v3h1l1,1v1h1v-5l1-1h1v-1l1-1h1v-1h-3l-1-1v-1zM168,368v5h3v-3h-1l-1-1v-1zM222,362v1h3v-1zM708,360v1l-1,1h-1v1l-1,1h-1v1l-1,1h-1v1l-1,1h-3l-1-1v-1h-1l-1-1v-1h-1v3h3l1,1v1h1l1,1v1h3v-3l1-1h3v-1l1-1h3v-3h-1l-1-1v-1zM216,360v3h3v-1h-1l-1-1v-1zM202,358v1h1l1,1v1h9v-1h-3l-1-1v-1zM164,354v3h1v-1l1-1h1v-1zM630,338v5h1v-3l1-1h3v-1zM210,336v1l-1,1h-1v1h3v-3zM652,330v1h3v-1zM612,328v1l-1,1h-1v5h3v-1l1-1h1v-5zM202,296v1h3v-1zM200,284v1l-1,1h-1v1l-1,1h-1l-1-1v-1h-1v1l-1,1h-3v1l-1,1h-1v1l-1,1h-1v1l-1,1h-1v1l-1,1h-1v1l-1,1h-1l-1-1v-1h-1l-1-1v-1h-1v1l-1,1h-5l-1-1v-1h-1l-1-1v-1l1-1h1v-3h-11v3l-1,1h-1v1l-1,1h-1l-1-1v-3l1-1h1v-3h-11v3l-1,1h-1l-1-1v-1h-3v1l-1,1h-7v1l-1,1h-1v3l-1,1h-3v1l-1,1h-7v1l-1,1h-3v1l-1,1h-3v11h1l1,1v3l-1,1h-1v7l-1,1h-3v3l-1,1h-5v1l-1,1h-1l-1-1v-1h-1v1l-1,1h-1v1l-1,1h-7v1l-1,1h-7l-1-1v-1h-5v1l-1,1h-1v5h1l1,1v5l-1,1h-9v3l-1,1h-1v3l-1,1h-1v1l-1,1h-1v3l-1,1h-1v1l-1,1h-1v7h1l1,1v1h1l1,1v3h1l1,1v1h1l1,1v5h1l1,1v5l-1,1h-1v1l-1,1h-1v3l-1,1h-1v1l-1,1h-1v1l-1,1h-1v1h1l1,1v5l-1,1h-1v3l-1,1h-1v1l-1,1h-1v1l-1,1h-1v1l-1,1h-1v1l-1,1h-1v1l-1,1h-1v1h1l1,1v5h1l1,1v7h1l1,1v3h1l1,1v3l-1,1h-3v3l1,1v1l1,1v1l1,1v3l-1,1v10l1,1v2l1,1v3l1,1v2l1,1v1l8,8v1l-4,4v1l-2,2v17l1,1v1l1,1v2l1,1v1l1,1v2l1,1v1l1,1v1l1,1v1l1,1v1l1,1v1l1,1v1l1,1v1l1,1v1l1,1v1l1,1v1l1,1v2l1,1v2l1,1v2l1,1v4l-1,1v3l-1,1v2l-1,1v5l1,1h1l4,4h1l3,3h4l1,1h4l1,1h4l3,3v1l4,4v1l2,2l-1,1h-2l-1-1h-1l-1-1h-2l-1-1h-1l-1-1h-2l-1-1h-5l-1-1h-4l-1-1h-5v4h1l1,1h1l1,1h1l1,1h1l1,1h1l1,1h1l1,1h10l1,1h6v-4l1-1l1,1v1l4,4v1l2,2h1l1,1h1l1,1h1l1,1h1l1,1h1l1,1v1l1,1v1l1,1v1l1,1v1l2,2v1l3,3v1l3,3v1l3,3v1l1,1v1l1,1v1l1,1v1l1,1v1l1,1v1l1,1v1l1,1v1l1,1v2l1,1v4l1,1v4l1,1v3h8l1,1h8l1,1h8l1,1h8l1,1h8l1,1h8l1,1h3l1-1h7l1,1v1h1l1,1v10l1,1h4l1,1v2h1l1,1h1l2,2h12v-11l1-1h3l1,1v3l-1,1h-1v1h1l1,1v1h3l1,1v5l-1,1h-3v3h1l1,1v1h1l1,1v3h9v-1l1-1h3l1,1v1h7l1,1v3l-1,1h-1v5h1l1,1v1h1l3,3h1l1,1h3v-3h-3l-1-1v-7h-1l-1-1v-1l1-1h5v-1l1-1h1l1,1v1h1l1,1v1h3l1,1v1h19v-1l1-1h5v-1l1-1h1v-1l1-1h3v-1l1-1h1v-1l1-1h3v-1l1-1h3v-1l1-1h3v-3l1-1h1v-1l1-1h3v-1l1-1h1v-5l1-1h1v-1l1-1h1v-1l1-1h1v-1h-1l-1-1v-1l1-1h1v-7h-5l-1-1v-1h-1l-1-1v-1h-1v3h3l1,1v3l-1,1h-3l-1-1v-1h-1v1l-1,1h-5l-1-1v-5h-1l-1-1v-1h-1v3l-1,1h-5l-1-1v-1l1-1h1v-5h-5l-1-1v-1h-1l-1-1v-3h-1l-1-1v-1h-1l-1-1v-3h-1l-1-1v-9l1-1h1v-7l1-1h1v-1l1-1h1v-1l1-1h3l1,1v1h5v-1l1-1h3v-1l1-1h1v-3l1-1h3v-1l1-1h5l1,1v1l-1,1h-1v1h1l1,1v1h1v-1l1-1h1v-5l1-1h1v-1l1-1h1v-7h-5v1l-1,1h-1l-1-1v-1h-1l-1-1v-7l1-1h1v-15l1-1h1v-5l1-1h1v-5h-1l-1-1v-1h-1l-1-1v-1h-3l-1-1v-5h-1l-1-1v-1l1-1h5v-1l1-1h3l1,1v1h1l1,1v1h5v-1l1-1h1v-5h-1l-1-1v-5h-1l-1-1v-3h-1l-1-1v-7l1-1h1v-3l1-1h1v-7h-3l-1-1v-5l1-1h5v-1l1-1h1v-1l1-1h1v-1l1-1h9v-1l1-1h1v-15l1-1h1v-13h-1l-1-1v-3h-5v1l-1,1h-7v1l-1,1h-1v3l-1,1h-3l-1-1v-1h-1l-1-1v-1h-1v1l-1,1h-1v3l-1,1h-1v3l-1,1h-1v3h3l1,1v3l-1,1h-5v1l-1,1h-1v1l-1,1h-1v1l-1,1h-1l-1-1v-15l1-1h1v-3h-3l-1-1v-3l1-1h1v-1l1-1h1v-1h-3v1l-1,1h-3v5l-1,1h-5l-1-1v-5h-1l-1-1v-3h-5l-1-1v-1h-1v1l-1,1h-1v1l-1,1h-1l-1-1v-1h-1l-1-1v-5l1-1h5v-3l1-1h7l1,1v3h5l1,1v1h1v-1l1-1h3v-1l1-1h1v-1l1-1h1v-1h-1l-1-1v-1l1-1h1v-7l1-1h1v-3l1-1h1v-1l1-1h1v-3h-13l-1-1v-1h-3l-1-1v-1h-1l-1-1v-3h-1l-1-1v-1h-1l-1-1v-1h-1l-1-1v-1h-1l-1-1v-5h-1l-1-1v-1h-1l-1-1v-1h-7v11h1l1,1v5l-1,1h-1v5l-1,1h-3v1l-1,1h-1l-1-1v-5l1-1h1v-3h-1l-1-1v-1h-1l-1-1v-5h-1l-1-1v-21l1-1h1v-5h-1l-1-1v-3h-1l-1-1v-1h-1l-1-1v-5h-3v1l-1,1h-3v3h1l1,1v1h3l1,1v3l-1,1h-1v9l-1,1h-1l-1-1v-1h-3l-1-1v-3h-1l-1-1v-1h-1l-1-1v-1h-3l-1-1v-1h-1v3l-1,1h-3l-1-1v-5l1-1h1v-5h-1l-1-1v-3h-5v1l-1,1h-1l-1-1v-1h-1l-1-1v-1h-1v1l-1,1h-5l-1-1v-1h-1l-1-1v-1h-3v5h1l1,1v1h1l1,1v5l-1,1h-1v1h1l1,1v1h3v-1l1-1h3l1,1v1h3l1,1v5h3l1,1v1h1l1,1v3l-1,1h-1v3h3v-1l1-1h1v-1l1-1h1l1,1v3h1l1,1v1h5v-1l1-1h3v-1l1-1h1v-1l1-1h1l1,1v1h1l1,1v3l-1,1h-1v3h1l1,1v1l-1,1h-1v5l-1,1h-1v5h1l1,1v1h1l1,1v1l-1,1h-1v7h1l1,1v1l-1,1h-1v3l-1,1h-3v5l-1,1h-1v1l-1,1h-3v3l-1,1h-1v1l-1,1h-1v1l-1,1h-5v1l-1,1h-3l-1-1v-1h-3v1l-1,1h-7v1l-1,1h-7v1l-1,1h-1v1l-1,1h-5v1l-1,1h-7v1l-1,1h-5l-1-1v-1h-7v1l-1,1h-3v3l-1,1h-5l-1-1v-3h-1l-1-1v-1h-1l-1-1v-1h-3l-1-1v-1h-9v1l-1,1h-3l-1-1v-5h-1l-1-1v-7h-5l-1-1v-1h-1l-1-1v-3h-5l-1-1v-1h-3l-1-1v-3l1-1h1v-9h-1l-1-1v-3l1-1h1v-3l1-1h1v-7l1-1h1v-1h-3l-1-1v-9h-1l-1-1v-11l1-1h1v-3h-1l-1-1v-1l1-1h1v-1h-1l-1-1v-9h-1l-1-1v-5l1-1h1v-15l1-1h1v-1l1-1h7l1,1v1h15l1,1v1h1l1,1v1l-1,1h-1v3h11v-7h-1l-1-1v-11l1-1h5v-1l1-1h5v-1h-1l-1-1v-1l1-1h1v-5l1-1h1l1,1v5h5l1,1v3h3v-3h-1l-1-1v-7h-3l-1-1v-1l1-1h1v-1l1-1h1v-1h-3l-1-1v-1l1-1h5v-1l1-1h1v-1l1-1h1v-3h-3v3l-1,1h-7l-1-1v-3h-1l-1-1v-7h-1v1l-1,1h-1l-1-1v-3l1-1h1v-1h-3l-1-1v-1h-1l-1-1v-3l1-1h3l1,1v1h3v-1l1-1h1l1,1v1h5v-5h-1l-1-1v-1zM241,680l1-1h1l1,1v3l-1,1h-1l-1-1zM215,678l1-1h1l1,1v1l-1,1h-1l-1-1zM217,674l1-1h1l1,1v1l-1,1h-1l-1-1zM261,672l1-1h1l1,1v1h1l1,1v1l-1,1h-5l-1-1v-1l1-1h1zM213,672l1-1h1l1,1v1l-1,1h-1l-1-1zM253,670l1-1h1l1,1v1l-1,1h-1l-1-1zM335,666l1-1h1l1,1v1l-1,1h-1l-1-1zM231,666l1-1h7l1,1v1h1l1,1v3l-1,1h-3v1l-1,1h-1l-1-1v-5h-3l-1-1zM227,666l1-1h1l1,1v1l-1,1h-1l-1-1zM253,658l1-1h3l1,1v3h1l1,1v1h1l1,1v1h1l1,1v1h3v-1l1-1h1l1,1v1h3l1,1v3l-1,1h-7l-1-1v-1h-5l-1-1v-3h-3l-1-1v-1h-1l-1-1zM307,654l1-1h1l1,1v1l-1,1h-1l-1-1zM243,654l1-1h3l1,1v3l-1,1h-1v1l-1,1h-1l-1-1v-1h-1l-1-1v-1l1-1h1zM253,650l1-1h1l1,1v1l-1,1h-1l-1-1zM277,638l1-1h3l1,1v7h1l1,1v3l-1,1h-3l-1-1v-1h-1l-1-1v-3l1-1h1v-1h-1l-1-1zM291,608l1-1h1l1,1v1l-1,1h-1l-1-1zM251,584l1-1h3l1,1v3h1l1,1v1l-1,1h-5v1l-1,1h-1l-1-1v-3l1-1h1zM271,582l1-1h1l1,1v3l-1,1h-1v1h3l1,1v1h1l1,1v1l-1,1h-1v1l-1,1h-1v1l-1,1h-1l-1-1v-3h-1l-1-1v-1h-3l-1-1v-1l1-1h1v-1l1-1h1v-1l1-1h1zM257,574l1-1h1l1,1v3l-1,1h-3l-1-1v-1l1-1h1zM305,562l1-1h3l1,1v3l-1,1h-3l-1-1zM319,554l1-1h1l1,1v1l-1,1h-1l-1-1zM317,546l1-1h3l1,1v5l-1,1h-3l-1-1zM305,546l1-1h1l1,1v1l-1,1h-1l-1-1zM309,538l1-1h1l1,1v1l-1,1h-1l-1-1zM283,538l1-1h1l1,1v1h1l1,1v1l-1,1h-1v1h1l1,1v3l-1,1h-1v3l-1,1h-1l-1-1v-1h-1l-1-1v-1h-1l-1-1v-1h-1l-1-1v-1l1-1h1v-1l1-1h1v-1l1-1h1zM313,536l1-1h3l1,1v3h1l1,1v1l-1,1h-1v1l-1,1h-1l-1-1v-1h-1v1l-1,1h-1l-1-1v-3l1-1h1zM275,532l1-1h5l1,1v1l-1,1h-5l-1-1zM327,514l1-1h1l1,1v1h11l1,1v3l-1,1h-1v1l-1,1h-1v1l-1,1h-1l-1-1v-1h-3l-1-1v-1h-1l-1-1v-1h-1l-1-1zM307,492l1-1h11l1,1v1l-1,1h-1v1l-1,1h-1v3h1l1,1v1h1l1,1v5h1l1,1v5h1l1,1v1l-1,1h-3l-1-1v-1h-1l-1-1v-1h-1v7h1l1,1v3h1l1,1v1h1l1,1v5l-1,1h-1l-1-1v-1h-3l-1-1v-1h-1l-1-1v-3h-1v1l-1,1h-1v1l-1,1h-1l-1-1v-3h-1l-1-1v-1h-3v1l-1,1h-5v5l-1,1h-1v1l-1,1h-1l-1-1v-1h-5l-1-1v-1h-1l-1-1v-3h-3v1l-1,1h-5v11h1l1,1v1h1l1,1v1l-1,1h-3l-1-1v-1h-3l-1-1v-3l1-1h1v-9h-1l-1-1v-7l1-1h1v-1h-1v1l-1,1h-1l-1-1v-1h-1l-1-1v-1h-1l-1-1v-1l1-1h3v-1l1-1h1v-1l1-1h3l1,1v1h1v-1l1-1h1l1,1v1h3v-1l1-1h3v-3h-1l-1-1v-1l1-1h5v-3l1-1h1v-1l1-1h3v-1l1-1h3l1,1v1h5v-1l1-1h1zM351,484l1-1h1l1,1v1l-1,1h-1l-1-1zM337,482l1-1h1l1,1v1h1v-1l1-1h3l1,1v1h1l1,1v1h1l1,1v1l-1,1h-1v1h1l1,1v1l-1,1h-7l-1-1v-1h-1l-1-1v-3h-1l-1-1zM349,476l1-1h1l1,1v5l-1,1h-1l-1-1zM141,448l1-1h3l1,1v1l-1,1h-3l-1-1zM115,446l1-1h9l1,1v1h1v-1l1-1h3l1,1v1l-1,1h-1v1h1l1,1v3h1l1,1v5h1l1,1v3h1l1,1v1h1l1,1v1h1l1,1v1h1l1,1v1h1v-1l1-1h3l1,1v3h1l1,1v5h1l1,1v1l-1,1h-1v3h1l1,1v3h1l1,1v3l-1,1h-1l-1-1v-1h-7l-1-1v-5h-3v3h1l1,1v1l-1,1h-1v1l-1,1h-1v1l-1,1h-1l-1-1v-3l1-1h1v-1h-3v1l-1,1h-5l-1-1v-3h-1v1l-1,1h-1l-1-1v-5h-3v1h1l1,1v3l-1,1h-1v1l-1,1h-1l-1-1v-1h-3l-1-1v-1h-3l-1-1v-1h-3l-1-1v-9l1-1h1v-3l1-1h1v-1h-1l-1-1v-1h-3l-1-1v-3h-1l-1-1v-9l1-1h7v-1l1-1h1v-1l1-1h1zM135,444l1-1h5l1,1v1l-1,1h-5l-1-1zM131,442l1-1h1l1,1v1l-1,1h-1l-1-1zM235,376l1-1h1l1,1v3l-1,1h-1l-1-1zM85,336l1-1h1l1,1v1l-1,1h-1l-1-1zM103,330l1-1h1l1,1v1l-1,1h-1l-1-1zM115,326l1-1h1l1,1v1l-1,1h-1l-1-1zM197,324l1-1h1l1,1v1l-1,1h-1l-1-1zM159,322l1-1h1l1,1v3l-1,1h-1l-1-1zM181,318l1-1h3l1,1v3l-1,1h-1v1l-1,1h-3l-1-1v-1l1-1h1zM185,314l1-1h1l1,1v1l-1,1h-1l-1-1zM193,312l1-1h1l1,1v1l-1,1h-1l-1-1zM189,310l1-1h3l1,1v1l-1,1h-3l-1-1zM173,306l1-1h5l1,1v3h1l1,1v1l-1,1h-1v3l-1,1h-1l-1-1v-3h-1l-1-1v-3h-1l-1-1zM181,300l1-1h1l1,1v3h1l1,1v3l-1,1h-1l-1-1v-1h-3l-1-1v-3l1-1h1zM157,298l1-1h3l1,1v1l-1,1h-3l-1-1zM145,292l1-1h1l1,1v1h1l1,1v1l-1,1h-3l-1-1zM151,288l1-1h1l1,1v1l-1,1h-1l-1-1zM634,258v1h3v-1zM1298,256v1l-1,1h-1v3l-1,1h-1l-1-1v-1h-1v7l-1,1h-1v1l-1,1h-1v1h3v-1l1-1h1v-1l1-1h1v-3l1-1h1v-3l1-1h1v-3zM1308,250v1h3v-1zM1326,248v1l-1,1h-1v3h1v-1l1-1h1v-1l1-1h1v-1zM1304,240v1l-1,1h-1v5h3v-5l1-1h1v-1zM1292,224v3l-1,1h-7v3l-1,1h-1v7h1l1,1v3l-1,1h-1v1h1l1,1v3h1l1,1v1h1v-1l1-1h1v-1l1-1h5v-1h-3l-1-1v-7l1-1h1v-1l1-1h1v-1h-1l-1-1v-5l1-1h1v-1h-1l-1-1v-1zM618,218v3h1l1,1v3l-1,1h-5v1l-1,1h-1v1l-1,1h-7v1h1l1,1v7h5l1,1v3h1l1,1v1h1v-1l1-1h3v-1l1-1h1l1,1v1h1l1,1v1l-1,1h-1v1h3v-3l1-1h3l1,1v1h3l1,1v3h3l1,1v3h1l1,1v7h5v-1l1-1h1l1,1v1h5v-1l1-1h3v-1l1-1h1v-3l1-1h1v-3h-3l-1-1v-1l1-1h1v-1l1-1h1v-1l1-1h1l1,1v1h1v-5l1-1h1v-3h-1v1l-1,1h-1l-1-1v-1h-3l-1-1v-1h-1l-1-1v-5h-1v1l-1,1h-1l-1-1v-1h-3l-1-1v-1h-3l-1-1v-1h-5l-1-1v-1h-3l-1-1v-1h-5l-1-1v-1h-1v1l-1,1h-1v1l-1,1h-1v1l-1,1h-1l-1-1v-3h-1l-1-1v-1zM649,254l1-1h1l1,1v1l-1,1h-1l-1-1zM619,236l1-1h1l1,1v1l-1,1h-1l-1-1zM609,236l1-1h1l1,1v1l-1,1h-1l-1-1zM625,234l1-1h1l1,1v3l-1,1h-1l-1-1zM617,232l1-1h1l1,1v3l-1,1h-1l-1-1zM615,230l1-1h1l1,1v1l-1,1h-1l-1-1zM637,228l1-1h1l1,1v1l-1,1h-1l-1-1zM621,228l1-1h3l1,1v1l-1,1h-3l-1-1zM698,216v1l-1,1h-1v3l-1,1h-1v1h1v-1l1-1h3v-1l1-1h1v-1h-1l-1-1v-1zM682,216v5h1v-5zM560,216v3h5v-1l1-1h1v-1zM540,216v1h1l1,1v1h1v-3zM162,216v3h1v-1l1-1h1v-1zM592,214v3h1v-3zM1302,212v3l-1,1h-1v3h5v-1h-1l-1-1v-5zM556,212v3h1v-3zM1286,210v3h1v-1l1-1h1v-1zM586,208v1l-1,1h-5v3l-1,1h-1v1h3l1,1v1h5v-1l1-1h1v-7zM570,204v3h1v-3zM596,202v3h1l1,1v1h1l1,1v1h1l1,1v5h1v-1l1-1h3v-1l1-1h1l1,1v1h1l1,1v1h5v-3l1-1h1v-3h-3v1l-1,1h-5l-1-1v-7h-7v1l-1,1h-3l-1-1v-1zM532,202v5h7l1,1v1h3v-1h-1l-1-1v-3h-5l-1-1v-1zM1324,200v3h1l1,1v1l-1,1h-1v1l-1,1h-1v3l-1,1h-5v1l-1,1h-1v3h1l1,1v1h3l1,1v1l-1,1h-1v9h1l1,1v3l-1,1h-1v1h3l1,1v1h1v-1l1-1h3v-1l1-1h3v-7h-1l-1-1v-3h-1l-1-1v-11l1-1h1v-1h-1l-1-1v-7h-1l-1-1v-1zM178,196v1h1l1,1v1l-1,1h-15v3h3l1,1v1h7l1,1v5l-1,1h-1v9h5v-1l1-1h1v-1l1-1h1v-1h-1l-1-1v-3l1-1h1v-5l1-1h1v-5h-1v1l-1,1h-1l-1-1v-3h-1l-1-1v-1zM179,208l1-1h1l1,1v1l-1,1h-1l-1-1zM1284,184v3h1l1,1v1h1v-1l1-1h1v-1h-3l-1-1v-1zM532,184v1l-1,1h-17v7h5l1,1v1h3l1,1v3h1v-3l1-1h1v-3l1-1h1v-1l1-1h1l1,1v5h1v-1l1-1h1v-1l1-1h1v-1l1-1h1v-3h-5l-1-1v-1zM504,180v3h1v-3zM1296,176v1h5l1,1v1h1l1,1v1l-1,1h-1v1h3v-1l1-1h1v-1h-1l-1-1v-1h-1l-1-1v-1zM1320,162v1l-1,1h-7v1l-1,1h-1v1l-1,1h-1v1l-1,1h-1v1l-1,1h-1v1h1l1,1v1h1l1,1v1h1l1,1v5l-1,1h-1v1l-1,1h-1v3l-1,1h-1v3h1l1,1v1l-1,1h-1v1l-1,1h-3v1l-1,1h-1v5h5v-1l1-1h3v-3l1-1h1l1,1v1h5v-11l1-1h1v-1l1-1h5v-3l1-1h1v-5l1-1h1v-1l1-1h1v-1h-5l-1-1v-1h-1l-1-1v-9z"/>
<path fill="#c00000" fill-rule="evenodd" d="M480,704v1l-1,1h-1v1h1l1,1v3l-1,1h-1v1h1l1,1v1h3v-1l1-1h3v-9zM294,670v1l-1,1h-13v1l-1,1h-5v1l-1,1h-3v1l-1,1h-3v1l-1,1h-5v1h1l1,1v5h1l1,1v1h1l1,1v3h1l1,1v1h5l1,1v1h3l1,1v1h1l1,1v1h19v-1l1-1h5v-1l1-1h1v-1l1-1h1v-1l1-1h1v-5l1-1h1v-9h-5l-1-1v-1h-1l-1-1v-1h-3l-1-1v-1h-1l-1-1v-1zM286,632v3l-1,1h-1v7h1l1,1v1h1l1,1v11h9v-1l1-1h3v-7h-1l-1-1v-3h-1l-1-1v-3h-1l-1-1v-1l1-1h1v-1h-1l-1-1v-3zM105,630v5l1,1v1h7l1,1v1h1v-1l-1-1v-1l-1-1v-2l-1-1v-1h-2l-1-1zM108,616v4l1,1v1l1,1v1l1,1v1l1,1h4l1,1h4v-4l-1-1v-1l-2-2v-1l-1-1h-2l-1-1h-1l-1-1zM85,616l-1,1v8h6v-6l-1-1v-2zM302,570v5l-1,1h-1v1l-1,1h-1v5l-1,1h-1v1l-1,1h-1v5l-1,1h-1v1h1l1,1v3h1l1,1v1h1l1,1v3h1l1,1v1h3l1,1v3l-1,1h-1v1h1l1,1v1h5l1,1v1h3v-1l1-1h1v-1l1-1h1v-1l1-1h1v-3l1-1h1v-1l1-1h3v-13l1-1h1v-5h-1l-1-1v-7h-3l-1-1v-1h-15l-1-1v-3zM322,518v5h1l1,1v1h1l1,1v5h1l1,1v1h3v-3l1-1h1v-3h-1l-1-1v-1h-1l-1-1v-1h-1l-1-1v-1h-1l-1-1v-1zM338,492v1l-1,1h-11v1l-1,1h-5v5h1l1,1v1h1l1,1v3h1l1,1v3h3l1,1v1h5v-1l1-1h1v-1l1-1h1v-3l1-1h1v-1l1-1h1v-9h-3l-1-1v-1zM318,434v1l-1,1h-1v7h5v-5l1-1h1v-3zM296,412v5h1l1,1v15h3l1,1v1l-1,1h-1v1h3l1,1v1h3l1,1v1h1l1,1v1h1v-9h-1l-1-1v-1h-1l-1-1v-5h-1l-1-1v-1h-1l-1-1v-1h-1l-1-1v-1h-1l-1-1v-5h-1l-1-1v-1zM303,432l1-1h3l1,1v1l-1,1h-1v1l-1,1h-1l-1-1zM299,424l1-1h3l1,1v1l-1,1h-3l-1-1zM128,330v1l-1,1h-5v1l-1,1h-3v1l-1,1h-1v3l-1,1h-3l-1-1v-3h-1v1l-1,1h-1l-1-1v-1h-3v1h1l1,1v1l-1,1h-3v1l-1,1h-1v7l-1,1h-5l-1-1v-1h-5v1l-1,1h-15v1l-1,1h-3l-1-1v-1h-1v1l-1,1h-1v1l-1,1h-3v1l-1,1h-1v1l-1,1h-1v3l-1,1h-1v1l-1,1h-1v5h1l1,1v1h1l1,1v1h1l1,1v1h1l1,1v5h1l1,1v9l-1,1h-1v1l-1,1h-1v3l-1,1h-1v1l-1,1h-1v9l-1,1h-1v5l-1,1h-1v1l-1,1h-1v1l-1,1h-1v1l-1,1h-1v7l-1,1h-1v1h1l1,1v7h1l1,1v3h1l1,1v1h1l1,1v3l-1,1h-1v7l-1,1h-2v1l-1,1v10l1,1v2l1,1v3l1,1v2l1,1v1l8,8v1l-4,4v1l-2,2v17l1,1v1l1,1v2l1,1v1l1,1v2l1,1v1l1,1v1l1,1v1l1,1v1l1,1v1l1,1v1l1,1v1l1,1v1l1,1v1l1,1v1l1,1v2l1,1v2l1,1v2l1,1v4l-1,1v3l-1,1v2l-1,1v5l1,1h1l4,4h1l3,3h4l1,1h4l1,1h4l3,3v1l4,4v1l2,2l-1,1h-2l-1-1h-1l-1-1h-2l-1-1h-1l-1-1h-2l-1-1h-5l-1-1h-4l-1-1h-5v4h1l1,1h1l1,1h1l1,1h1l1,1h1l1,1h1l1,1h10l1,1h6v-4l1-1l1,1v1l4,4v1l2,2h1l1,1h1l1,1h1l1,1h1l1,1h1l1,1v1l1,1v1l1,1v1l1,1v1l2,2v1l3,3v1l3,3v1l3,3v1l1,1v1l1,1v1l1,1v1l1,1v1l1,1v1l1,1v1l1,1v1l1,1v2l1,1v4l1,1v4l1,1v3h8l1,1h8l1,1h8l1,1h8l1,1h8l1,1h8l1,1h1l1-1h7v-1l1-1h3v-7l1-1h1v-1l1-1h3l1,1v11h1l1,1v1h3v-1l1-1h1v-3l1-1h3v-1l1-1h7v-1l1-1h1v-1l1-1h1v-1l1-1h3v-1l1-1h1v-3l1-1h1v-1l1-1h3v-1l1-1h17l1,1v1h1l1,1v1h3v-1l1-1h1v-7l1-1h1v-1l1-1h1v-1l1-1h1v-1l1-1h1v-1h-1l-1-1v-5h-1l-1-1v-1l1-1h1v-7h-1l-1-1v-3h-1l-1-1v-3h-1l-1-1v-3l1-1h1v-3h-3v1l-1,1h-3l-1-1v-1h-3l-1-1v-1h-1l-1-1v-1h-3v1l-1,1h-3v1l-1,1h-3v1l-1,1h-1v1l-1,1h-1v1l-1,1h-3v1l-1,1h-1l-1-1v-1h-1l-1-1v-1l1-1h1v-3l1-1h1v-3l1-1h1v-5l1-1h1v-1l1-1h1v-1l1-1h1v-7l1-1h1v-3l1-1h5v-1l1-1h3l1,1v1h9v-1l1-1h5v-1l1-1h1v-1l1-1h3v-1h-1l-1-1v-1h-1l-1-1v-3l1-1h1v-3h-1l-1-1v-1h-1l-1-1v-1h-1l-1-1v-1h-1l-1-1v-3h-1l-1-1v-1h-3l-1-1v-1h-1l-1-1v-1h-7l-1-1v-1h-3l-1-1v-1h-1l-1-1v-1l1-1h1v-3l1-1h1v-9l1-1h1v-9l1-1h1v-3l1-1h1v-5h-1l-1-1v-5l1-1h3l1,1v1h13v-1l1-1h5v-1l1-1h1v-1l1-1h1v-1l1-1h1v-5l1-1h1v-3l1-1h3v-5h-1l-1-1v-3h-1l-1-1v-17h-3l-1-1v-1h-1v1l-1,1h-1l-1-1v-1h-5l-1-1v-1h-1v1l-1,1h-5v3l-1,1h-3v1l-1,1h-1v3l-1,1h-1v1l-1,1h-1v1l-1,1h-7v1l-1,1h-3l-1-1v-1h-3v1l-1,1h-5v1l-1,1h-3v1l-1,1h-5v1l-1,1h-3v1l-1,1h-5v1l-1,1h-5v1l-1,1h-1l-1-1v-1h-9v1l-1,1h-3v1l-1,1h-9l-1-1v-1h-1l-1-1v-3h-1l-1-1v-1h-3l-1-1v-1h-5v1l-1,1h-3v3l-1,1h-1v3l-1,1h-1v1l-1,1h-1v3l-1,1h-1v3l-1,1h-1v5l-1,1h-1v1l-1,1h-1v1l-1,1h-9v1l-1,1h-7l-1-1v-1h-11l-1-1v-1h-7l-1-1v-1h-1l-1-1v-1h-3l-1-1v-1h-3l-1-1v-1h-1l-1-1v-13h-1l-1-1v-3h-1l-1-1v-1h-1l-1-1v-1l1-1h1v-9l1-1h1v-1l1-1h5v-1l1-1h1v-1l1-1h1v-3l1-1h1v-3l1-1h3v-1l1-1h15v-3l1-1h3v-1l1-1h1v-9l1-1h3v-3l1-1h1v-13h-1l-1-1v-17h-1l-1-1v-9l1-1h1v-3h-1l-1-1v-3l1-1h1v-11h-1l-1-1v-3h-1l-1-1v-1l1-1h3v-1l1-1h1v-1l1-1h13l1,1v1h5v-1l1-1h3l1,1v1h3l1,1v1h3v-5h-1l-1-1v-1h-7l-1-1v-3h-3v1l-1,1h-5l-1-1v-1h-1l-1-1v-1h-11v1l-1,1h-9l-1-1v-3h-3l-1-1v-3zM176,212v1l-1,1h-1v1h1l1,1v1h3v-3h-1l-1-1v-1z"/>
<path fill="#ffff00" fill-rule="evenodd" d="M898,798v5l-1,1h-1v5l-1,1h-1v1l-1,1h-1v1l-1,1h-3v1l-1,1h-15v1l-1,1h-1v1h1l1,1v1l-1,1h-3v1l-1,1h-1v1l1-1h1l2-2h1l2-2h1l2-2h2l1,1h2l1,1h4l1-1v-1l1-1v-1l1-1l1,1v1l1,1v1l1,1h11v-1l1-1v-3l1-1v-3l1-1v-6l-1-1v-1l-1-1v-1l-1-1v-1zM908,772v3h1v-3zM500,738v5h1l1,1v1h1l1,1v1h1v-1l1-1h3v-3h-1l-1-1v-3zM432,736v3l-1,1h-2l2,2v1h2v-1l1-1h1v-5zM906,712v3h1l1,1v1h1l1,1v1h1v-1l1-1h1v-1h-5l-1-1v-3zM354,710v3l-1,1h-1v5h3v-5l1-1h1v-3zM320,702v1l-1,1h-7v3h1l1,1v3h3v-1l1-1h5v-5l1-1h1v-1zM388,698v1l-1,1h-1v9l-1,1h-1l-1-1v-3h-1v3l-1,1h-9v1l-1,1h-11v1h1l1,1v1h1l1,1v1l-1,1h-1v3h3v-1l1-1h3l1,1v1h7l1,1v1h5v-3l1-1h7v-3l1-1h5v-1l1-1h3v-1l1-1h1v-3l1-1h1v-5h-1l-1-1v-1h-3l-1-1v-1zM336,692v1h1l1,1v3h1v-3h-1l-1-1v-1zM954,676v3h1v-3zM474,662v1l-1,1h-1v1l-1,1h-3v3h7v-1l1-1h3v-5zM444,662v1h1l1,1v1h1l1,1v1l-1,1h-1v1h1l1,1v1h1l1,1v1h5v-3h-3l-1-1v-1h-1l-1-1v-3h-1l-1-1v-1zM424,654v3h1l1,1v1l-1,1h-3v9h1l1,1v3h1l1,1v9l-1,1h-1v3l-1,1h-9v1l-1,1h-1v7h1l1,1v1h3l1,1v1h9v-1l1-1h5l1,1v1h1l1,1v1h11v-1l1-1h1v-3h-1l-1-1v-1h-1l-1-1v-3h-1l-1-1v-5h-1l-1-1v-1h-1l-1-1v-1h-5l-1-1v-5l1-1h1v-1l1-1h3v-7h-1l-1-1v-1h-1l-1-1v-3h-1l-1-1v-1h-1l-1-1v-1h-3l-1-1v-1zM392,622v1h3v-1zM494,612v1l-1,1h-1v1l-1,1h-1v3l-1,1h-3v3l-1,1h-1v3h1l1,1v3h3v-1l1-1h1v-3l1-1h1v-3l1-1h1l1,1v1h1v-1l1-1h3v-1l1-1h1v-1h-1l-1-1v-5zM566,602v3l-1,1h-1v3l-1,1h-1v1l-1,1h-1v1h1l1,1v1l-1,1h-1v3h3v-1l1-1h3v-1l1-1h1v-1l1-1h1v-1l1-1h3v-1h-1l-1-1v-5h-1l-1-1v-1zM920,594v3h1v-3zM816,594v1l-1,1h-1v1h1v-1l1-1h3v-1zM746,594v1h3v-1zM728,592v1l-1,1h-1v1h3v-1l1-1h1v-1zM774,590v1l-1,1h-3v1l-1,1h-1v1l-1,1h-1v1l-1,1h-1v1h5v-1l1-1h1v-1l1-1h3l1,1v1l-1,1h-1v1h3v-1l1-1h1v-3h-1l-1-1v-3zM744,588v3h1v-3zM980,586v1l-1,1h-3v3h5v-5zM928,586v3h3v-1l1-1h1v-1zM724,586v1h3v-1zM426,586v1l-1,1h-3v3l-1,1h-1v1l-1,1h-1v5l-1,1h-1v5h1l1,1v3h1l1,1v1h1l1,1v11l-1,1h-1v3l-1,1h-1v3l-1,1h-3l-1-1v-7h-5v1l-1,1h-1v1l-1,1h-1v1l-1,1h-1v1h5l1,1v1h5l1,1v1h5l1,1v3h1l1,1v1h3l1,1v3h5l1,1v7h5v-1l1-1h1v-3l1-1h1v-1h-1l-1-1v-1l1-1h1v-1l1-1h3v-1h-1l-1-1v-1h-1l-1-1v-1h-1l-1-1v-1h-1l-1-1v-3h-3l-1-1v-1h-1v1l-1,1h-3v1l-1,1h-3v3l-1,1h-1l-1-1v-3h-1l-1-1v-1l1-1h1v-1l1-1h3v-1l1-1h3v-7l1-1h1v-3l1-1h1v-3h-1l-1-1v-5h-1l-1-1v-3h-1l-1-1v-3l1-1h1v-3h-3l-1-1v-1l1-1h1v-3zM642,582v3h1v-3zM946,580v3h1v-3zM744,580v3h1v-3zM978,578v3h1v-1l1-1h1v-1zM972,578v1l-1,1h-1v1h3v-1l1-1h1v-1zM734,576v1l-1,1h-3v3h3v-3l1-1h1l1,1v1h1v-1h-1l-1-1v-1zM742,570v1h3v-1zM718,570v9h3l1,1v1h3l1,1v1h1v-3h-1l-1-1v-3l1-1h1v-1h-1l-1-1v-1h-1l-1-1v-1zM592,570v1l-1,1h-3v1h1l1,1v3l-1,1h-1v5l-1,1h-3l-1-1v-5h-1l-1-1v-3h-1l-1-1v-1h-1v1l-1,1h-1l-1-1v-1h-5v1l-1,1h-1v1l-1,1h-1v1l-1,1h-1v1l-1,1h-1l-1-1v-1h-1l-1-1v-1h-1v1l-1,1h-1v3h1l1,1v7l-1,1h-3l-1-1v-1l1-1h1v-1h-1l-1-1v-1h-3v1l-1,1h-7v1l-1,1h-3v3l-1,1h-1v5l-1,1h-1v1l-1,1h-1v9l-1,1h-1v3h5l1,1v1h1v-1l1-1h1v-1l1-1h1v-1l1-1h1v-7l1-1h3l1,1v1h3v-1l1-1h3v-1l1-1h3v-3l1-1h1v-1l1-1h7l1,1v3h1v-1l1-1h1v-1l1-1h1v-1l1-1h1v-3l1-1h7v-1l1-1h1l1,1v1h1l1,1v3l-1,1h-1l-1-1v-1h-3v5h7v-1l1-1h5v-1l1-1h1v-1l1-1h1v-1h-1l-1-1v-1l1-1h1v-1h-1l-1-1v-1h-1l-1-1v-1l1-1h1v-7h-3l-1-1v-1zM348,562v5h3v-5zM578,560v1h1l1,1v1h3v-1h-3l-1-1v-1zM346,556v1l-1,1h-1v1h5v-3zM840,554v1l-1,1h-1v1h3v-3zM836,546v1l-1,1h-1v1h1v-1l1-1h3v-1zM364,542v3l-1,1h-5v1l-1,1h-1v1l-1,1h-1v3h1l1,1v3l-1,1h-1v1h1l1,1v1h1v-1l1-1h5v-1l1-1h3l1,1v5l-1,1h-3v3h7v-1l1-1h1l1,1v1h1v-1l1-1h1v-1l1-1h1v-1h-1l-1-1v-3l1-1h1v-1h-1l-1-1v-5h-1l-1-1v-1h-1l-1-1v-3h-5l-1-1v-1zM646,540v5h1v-5zM736,538v1l-1,1h-1v3l-1,1h-1v3l-1,1h-1v1h1l1,1v1h1l1,1v1h9l1,1v3h1v-1l1-1h1v-1h-1l-1-1v-1h-1l-1-1v-3h-3l-1-1v-1l1-1h1v-1l1-1h1v-1h-3v1l-1,1h-3l-1-1v-1l1-1h1v-3zM674,538v1h3v-1zM630,536v3h1v-1l1-1h1v-1zM662,530v1l-1,1h-1v3h1v-3l1-1h1v-1zM620,516v3h1v-3zM600,510v1h3v-1zM578,510v1l-1,1h-1v5l-1,1h-1v1l-1,1h-1v5l-1,1h-1v9l-1,1h-1v3h3l1,1v1h1l1,1v1h1l1,1v1l-1,1h-1v1h1l1,1v1h1l1,1v1h5v-1l1-1h1v-1l1-1h9l1,1v1h1l1,1v1h3v-1l1-1h5v-1l1-1h1v-11l1-1h1v-3l1-1h1v-3l1-1h1v-3h-5l-1-1v-1h-3l-1-1v-1h-5l-1-1v-1h-1l-1-1v-3h-7l-1-1v-1h-5l-1-1v-1zM424,510v3h1v-3zM620,508v3h1v-1l1-1h1v-1zM432,506v1h1l1,1v1h1v-1l1-1h1v-1zM618,502v1l-1,1h-3v3h1v-1l1-1h3v-1l1-1h1v-1zM598,502v3h1l1,1v1h1v-3h-1l-1-1v-1zM736,494v3h1v-3zM646,492v1l-1,1h-7v1l-1,1h-3v7l-1,1h-1v1h1l1,1v1h5l1,1v1h3v-1h-1l-1-1v-9l1-1h1v-1l1-1h3l1,1v1h3v-5zM570,488v3h1v-3zM1032,486v1l-1,1h-1v1h3v-1l1-1h1v-1zM1008,486v3l-1,1h-3v1h1l1,1v1h1v-3l1-1h1v-3zM394,484v1l-1,1h-1v9h1v-1l1-1h1l1,1v1h1l1,1v1h1l1,1v3l-1,1h-1v5h1l1,1v1h1l1,1v1h1l1,1v1h1l1,1v3h3v-1l1-1h3v-7l1-1h1v-5h-5l-1-1v-1l1-1h7v-1l1-1h5l1,1v1h1v-3h-1l-1-1v-1h-3v1l-1,1h-1v1l-1,1h-3l-1-1v-3l1-1h1v-3h-1l-1-1v-1h-1l-1-1v-1h-1v1l-1,1h-5l-1-1v-1h-3l-1-1v-1zM1040,480v1l-1,1h-1v3h1v-1l1-1h3v-1l1-1h1v-1zM844,476v1l-1,1h-1v3h3v-1l1-1h3v-1h-3l-1-1v-1zM728,476v1h5v-1zM698,476v1l-1,1h-1v1l-1,1h-1v1l-1,1h-1v1h3v-1l1-1h5v-1l1-1h1v-3zM582,476v1h5v-1zM1084,474v5l-1,1h-1v1h3v-3l1-1h1v-3zM1026,474v1h3l1,1v3l-1,1h-3v1h5v-1l1-1h1v-3h-1l-1-1v-1zM850,474v1h3v-1zM1048,468v1h3v-1zM706,464v1l-1,1h-1v1h3v-3zM652,464v1h3l1,1v1h1v-1l1-1h3v-1zM634,462v7h1l1,1v1h1l1,1v1h1v-1l1-1h1l1,1v1h3v-3h-1l-1-1v-1h-5l-1-1v-5zM635,468l1-1h1l1,1v1l-1,1h-1l-1-1zM1118,458v3h1v-3zM666,458v5h7v-1h-1l-1-1v-1h-1l-1-1v-1zM654,458v3h3v-1h-1l-1-1v-1zM1122,448v1l-1,1h-3v3h1l1,1v1h1v-1l1-1h1v-1l1-1h1v-3zM1050,444v1h3v-1zM590,444v3h1v-1l1-1h1v-1zM472,444v1l-1,1h-1v1h1l1,1v7l-1,1h-1v1h1l1,1v1l-1,1h-1v3h1l1,1v1h1l1,1v3h1l1,1v1h1l1,1v3l-1,1h-1v5l-1,1h-1v1l-1,1h-3v5l-1,1h-1v3l-1,1h-9v3l-1,1h-1v7l-1,1h-1v3l-1,1h-3v1l-1,1h-1v1l-1,1h-3v3l-1,1h-1v1l-1,1h-1v7l-1,1h-1v1l-1,1h-1v3h1l1,1v1h1l1,1v1l-1,1h-1v3l-1,1h-1v1l-1,1h-1v1h1l1,1v3h1l1,1v1h1l1,1v1h3l1,1v3h1l1,1v1h1l1,1v1h1l1,1v1h3l1,1v1h1l1,1v1l-1,1h-7l-1-1v-1h-7v5h1l1,1v7h1l1,1v1h9v-1l1-1h1v-3l1-1h1v-1h-1l-1-1v-5l1-1h3v-1l1-1h3v-1l1-1h1v-1l1-1h1v-1l1-1h1v-1l1-1h1v-3l1-1h5l1,1v1h3v-1l1-1h1v-1l1-1h1v-1l1-1h1v-3h-1l-1-1v-1l1-1h13v-1l1-1h5v-3l1-1h1l1,1v1h7l1,1v1h3l1,1v1h1v-1l1-1h3v-3l1-1h1v-1h-1l-1-1v-5l1-1h1v-3l1-1h1v-1l1-1h1v-5l1-1h3v-1l1-1h1v-3l1-1h1v-7l1-1h5v-9h-1l-1-1v-1l1-1h1v-1h-1l-1-1v-5l1-1h1v-7l1-1h1v-1l1-1h1v-3l1-1h5v-5h-3l-1-1v-1l1-1h9v-3h-1l-1-1v-1h-1l-1-1v-1l1-1h3v-3h-5v1l-1,1h-3l-1-1v-1h-9v3l-1,1h-3v1l-1,1h-1v1l-1,1h-7l-1-1v-1h-1l-1-1v-1h-11v1l-1,1h-3v1l-1,1h-3l-1-1v-1h-3l-1-1v-1h-5v3h1l1,1v3l-1,1h-1l-1-1v-1h-1l-1-1v-3h-1l-1-1v-1h-3l-1-1v-1h-1l-1-1v-1h-1l-1-1v-1h-3l-1-1v-1h-3l-1-1v-1zM515,492l1-1h1l1,1v1l-1,1h-1l-1-1zM523,490l1-1h1l1,1v1l-1,1h-1l-1-1zM491,488l1-1h3l1,1v1h1l1,1v1h3l1,1v3h1l1,1v1h1l1,1v1h5l1,1v1h3l1,1v1h1l1,1v1l-1,1h-1v1h1l1,1v1h1l1,1v1l-1,1h-1v1l-1,1h-1v1h1l1,1v1l-1,1h-1v1l-1,1h-1v1l-1,1h-1l-1-1v-1h-1v1l-1,1h-5v1l-1,1h-17l-1-1v-1h-1l-1-1v-1h-3l-1-1v-1h-1l-1-1v-3l1-1h3v-1h-1l-1-1v-5h-1l-1-1v-1h-3l-1-1v-9l1-1h3v-1l1-1h1l1,1v1h1v-1l1-1h7v-1l1-1h1zM517,486l1-1h1l1,1v1l-1,1h-1l-1-1zM511,468l1-1h3l1,1v1h3l1,1v1l-1,1h-1v1l-1,1h-3v5l-1,1h-1v1l-1,1h-1v1l-1,1h-3v1l-1,1h-1l-1-1v-3l1-1h1v-3l1-1h1v-3l1-1h1v-1l1-1h1zM519,466l1-1h1l1,1v3l-1,1h-1l-1-1zM547,464l1-1h1l1,1v3l-1,1h-1l-1-1zM477,464l1-1h1l1,1v1l-1,1h-1l-1-1zM1058,442v3h1v-3zM584,442v1h3v-1zM1112,438v5h1l1,1v1h1v-3l1-1h1v-3zM1080,438v1l-1,1h-1v1h1l1,1v1h3v-3h-1l-1-1v-1zM1064,438v1l-1,1h-1v1h7v-1h-3l-1-1v-1zM1054,438v1h3v-1zM1066,428v1l-1,1h-3v3h1v-1l1-1h1v-1l1-1h1v-1zM596,428v5h5v-1l1-1h3v-3h-1v1l-1,1h-1v1l-1,1h-3l-1-1v-3zM1226,422v1l-1,1h-1v1l-1,1h-3v1l-1,1h-3v1l-1,1h-1v1l-1,1h-1v1l-1,1h-3v1l-1,1h-3v3l-1,1h-1v3l-1,1h-7v1l-1,1h-1v1l-1,1h-3l-1-1v-1h-1v1l-1,1h-3v1l-1,1h-3v1l-1,1h-1v3l-1,1h-1v1l-1,1h-1l-1-1v-5h-5v1l-1,1h-1v3l-1,1h-3l-1-1v-1h-3l-1-1v-1h-9l-1-1v-1h-3l-1-1v-3h-1l-1-1v-3l1-1h1v-3h-1l-1-1v-3h-1l-1-1v-1h-15v3h3l1,1v3h3l1,1v3h3l1,1v7h3v-1l1-1h3l1,1v3h3l1,1v3l-1,1h-1l-1-1v-1h-9v1l-1,1h-1v1l-1,1h-1v1l-1,1h-1v1l-1,1h-1v1h1l1,1v1h5l1,1v3l-1,1h-3v3l-1,1h-1l-1-1v-3h-1l-1-1v-1h-1v3l-1,1h-1v1l-1,1h-3v5l-1,1h-3v3h1v-1l1-1h5l1,1v1l-1,1h-1v1l-1,1h-5v1h3l1,1v1l-1,1h-1v7l-1,1h-1v1l-1,1h-1v1l-1,1h-1v1l-1,1h-1v1l-1,1h-1v1l-1,1h-1v1l-1,1h-3l-1-1v-1h-3l-1-1v-1h-1v1l-1,1h-5v1l-1,1h-1v1l-1,1h-3v1l-1,1h-1l-1-1v-1h-1l-1-1v-1l1-1h1v-1l1-1h1v-1h-1l-1-1v-1h-3l-1-1v-1l1-1h1v-1h-9l-1-1v-1l1-1h1v-5h-1l-1-1v-1l1-1h1v-5l1-1h3v-9l1-1h1v-13l1-1h1v-5h-1l-1-1v-3h-1l-1-1v-1h-3v1l-1,1h-1l-1-1v-1h-1l-1-1v-1h-1v1l-1,1h-3l-1-1v-1h-1v1l-1,1h-3v1l-1,1h-3v1h3l1,1v1h1v-1l1-1h1l1,1v7l-1,1h-1v7l-1,1h-1v1l-1,1h-1v1h5l1,1v1l-1,1h-3v1l-1,1h-1v5h1l1,1v5l-1,1h-1v1l-1,1h-5v1l-1,1h-1l-1-1v-1h-9v1l-1,1h-3v1l-1,1h-1v1l-1,1h-3v1l-1,1h-3v1l-1,1h-1v1l-1,1h-1l-1-1v-1h-3l-1-1v-1h-1v1l-1,1h-1l-1-1v-1h-3l-1-1v-5h-1v1l-1,1h-3l-1-1v-1h-1v3l-1,1h-1l-1-1v-3h-5v1l-1,1h-1v3l-1,1h-1v1l-1,1h-1v1l-1,1h-3v1l-1,1h-3v1l-1,1h-5v1l-1,1h-3v1l-1,1h-1v3h1l1,1v1l-1,1h-1v1l-1,1h-5v1l-1,1h-1v1l-1,1h-1l-1-1v-1h-3l-1-1v-3h-3v3l-1,1h-3v1l-1,1h-1v1l-1,1h-1v1h1l1,1v7l-1,1h-1l-1-1v-3h-5v1h1l1,1v1l-1,1h-3l-1-1v-1h-3v1l-1,1h-5l-1-1v-1h-1v1l-1,1h-3v3l-1,1h-1v1l-1,1h-1v1l-1,1h-5l-1-1v-1h-5l-1-1v-1h-3v1l-1,1h-3v1l-1,1h-1v1l-1,1h-3v1l-1,1h-1v1l-1,1h-1v11h1l1,1v1l-1,1h-1v1l-1,1h-1v1l-1,1h-3l-1-1v-1l1-1h1v-1l1-1h1v-1h-1v1l-1,1h-1l-1-1v-1h-3l-1-1v-1h-1l-1-1v-1h-5v1l-1,1h-1l-1-1v-1h-3v1l-1,1h-1v3l-1,1h-1v3l-1,1h-1v1l-1,1h-1v1l-1,1h-3v3l-1,1h-1v1l-1,1h-1v3h1v-1l1-1h1v-1l1-1h1l1,1v3l-1,1h-1v1l-1,1h-1v5l-1,1h-1l-1-1v-1h-3l-1-1v-1h-1v1l-1,1h-1v3h1l1,1v1l-1,1h-1v3l-1,1h-1v1l-1,1h-9l-1-1v-1h-1v1l-1,1h-1v1h1l1,1v3h1l1,1v1l-1,1h-3l-1-1v-1h-1v3l-1,1h-5v1l-1,1h-3v1l-1,1h-1v1l-1,1h-5l-1-1v-1l1-1h3v-3l1-1h1v-1l1-1h3v-3h-1l-1-1v-1h-3v1l-1,1h-1v1l-1,1h-1v1l-1,1h-3v1l-1,1h-5v1l-1,1h-1v1l-1,1h-3l-1-1v-1h-1v1l-1,1h-13l-1-1v-3h-1l-1-1v-1h-3l-1-1v-1h-1l-1-1v-1h-1v1l-1,1h-3v1h3l1,1v3l-1,1h-1v1l-1,1h-3v1l-1,1h-3l-1-1v-1h-5v3l-1,1h-3l-1-1v-1h-7v1l-1,1h-1v1l-1,1h-3v1l-1,1h-5v1l-1,1h-1v1l-1,1h-3l-1-1v-3h-1l-1-1v-9l1-1h1v-1h-1l-1-1v-5h-1l-1-1v-9l1-1h5v-1l1-1h1v-1h-1l-1-1v-1h-1l-1-1v-9l1-1h1v-1l1-1h1v-1h-1l-1-1v-3l1-1h1v-1h-1l-1-1v-11l1-1h1v-3h-1l-1-1v-5h-1l-1-1v-1l1-1h1v-3h-1l-1-1v-1h-3v1l-1,1h-1v1l-1,1h-1l-1-1v-1h-5l-1-1v-1l1-1h1v-1l1-1h3l1,1v1h1v-5h-5v1l-1,1h-3l-1-1v-5l1-1h1v-1l1-1h3v-1l1-1h5v-1l1-1h1v-1l1-1h1v-13h-1l-1-1v-1h-1l-1-1v-7h-1v1l-1,1h-1v1l-1,1h-1v1l-1,1h-5v1l-1,1h-1v1l-1,1h-7v1l-1,1h-5v5l-1,1h-1l-1-1v-1h-1l-1-1v-1h-3v1l-1,1h-1v3h5l1,1v3h3l1,1v9h1l1,1v1h1l1,1v1h3l1,1v1l-1,1h-1v3l-1,1h-1v1l-1,1h-5v5l-1,1h-5l-1-1v-1h-5v1l-1,1h-3l-1-1v-1h-1l-1-1v-1h-1v3h3l1,1v3h1l1,1v1l-1,1h-1v1l-1,1h-1v1l-1,1h-3v1l-1,1h-1v5h1l1,1v1h3l1,1v3h1l1,1v1h1l1,1v5l-1,1h-1v1h1l1,1v1h5l1,1v1h1v-1l1-1h5l1,1v1h1l1,1v1h1l1,1v3h1l1,1v3l-1,1h-1v1l-1,1h-1l-1-1v-1h-3l-1-1v-1h-1l-1-1v-3h-3l-1-1v-1h-1v1l-1,1h-1v3l-1,1h-5v3l-1,1h-1v1l-1,1h-1v1l-1,1h-1l-1-1v-1h-1v1l-1,1h-1v1l-1,1h-1l-1-1v-3h-1v1l-1,1h-1v5l-1,1h-1v7l-1,1h-1v1l-1,1h-5l-1-1v-1h-1l-1-1v-1h-1l-1-1v-1h-3v1l-1,1h-1l-1-1v-1h-5v1h5l1,1v5l-1,1h-1l-1-1v-3h-1v5h3l1,1v1h1l1,1v1h1l1,1v5h1l1,1v9l-1,1h-1v7l-1,1h-1v1h1l1,1v7l-1,1h-9v1h1l1,1v1l-1,1h-1v1l-1,1h-7v1h1l1,1v1l-1,1h-1v1l-1,1h-1v7l-1,1h-1v1l-1,1h-3v1l-1,1h-1v5l-1,1h-1v1l-1,1h-1v1l-1,1h-3v3l-1,1h-1v1l-1,1h-1v1l-1,1h-1v1l-1,1h-1v1l-1,1h-1v1l-1,1h-1v1l-1,1h-1v1l-1,1h-1l-1-1v-3h-3v1l-1,1h-3l-1-1v-1h-1v1h1l1,1v5h1l1,1v3l-1,1h-1v3l-1,1h-3v1l-1,1h-1v1h1l1,1v1l-1,1h-3v1l-1,1h-1v1l-1,1h-1v1l-1,1h-3v1l-1,1h-1v3l-1,1h-1v5l-1,1h-3l-1-1v-1h-3l-1-1v-1h-1l-1-1v-1h-1v1l-1,1h-3v1l-1,1h-1v1l-1,1h-3v5l-1,1h-1v1l-1,1h-1v1l-1,1h-7v1l-1,1h-3l-1-1v-7h-3l-1-1v-1h-11l-1-1v-1h-3v1l-1,1h-1v1l-1,1h-3v1l-1,1h-3v1l-1,1h-1v1l-1,1h-5l-1-1v-1h-1v3h1l1,1v5h1l1,1v3h1l1,1v1h3l1,1v7l-1,1h-1v3h9v-1l1-1h1v-3l1-1h3v-1l1-1h1v-1l1-1h3v-3l1-1h1v-1l1-1h1v-3l1-1h1v-1l1-1h1v-1l1-1h1l1,1v1h1l1,1v1l-1,1h-1v3h5l1,1v1h1l1,1v3l-1,1h-1l-1-1v-1h-1l-1-1v-1h-3v1l-1,1h-1v1h1l1,1v1l-1,1h-1v7l-1,1h-1l-1-1v-3h-1v5h1l1,1v7l-1,1h-9v1l-1,1h-9v3h1l1,1v3l-1,1h-1v1l-1,1h-1v3h1l1,1v1h1v-1l1-1h1l1,1v1h1l1,1v3l-1,1l1,1h1l2,2h1l2,2h1l2,2h1l1,1h1l1,1h2l2,2h1l1,1h4l1-1h1v-1h-1l-1-1v-3h-1l-1-1v-3l1-1h3v-1l1-1h1v-1l1-1h3v-3l1-1h1v-1l1-1h1v-1l1-1h1v-1l1-1h1v-1l1-1h13l2,2h2l1,1h3l1,1h2l1,1h3l1,1h2l4,4v-1l1-1h1l1,1v1h1l1,1v1h1l1,1v1h1l1,1v3h1l1,1v1h1l1,1v1h1l1,1v1h1l1,1v1h1l1,1v1h1l1,1v1h1l1,1v1h3l1,1v5l-1,1h-3v1l-1,1h-2l1,1v2h1l1,1v3h1l1,1v1h1l1,1v1h1l1,1v1h1l1,1v5h1l1,1v1h1l1,1v1h1l1,1v1h3l1,1v3h1l1,1v4l1,1v1l1,1v2h1l1,1v1h1l1,1v1h1l1,1v5l-1,1h-1v3h1l1,1v5h1l1,1v1l-1,1v1l1,1v1l1,1v1l1,1v1l1,1v1l1,1v1h1l1,1h2l1,1h1l1,1h1l1,1h1l1,1h2l1,1h1l1,1h1l1,1h1l1,1h2l1,1h1l1,1h2l1,1h1l1,1h2l1,1h3l1,1h2l1,1h2l1,1h1l1,1h2v-1l1-1h1v-3l1-1h5v-3l1-1h1v-3l1-1h1v-1h-1l-1-1v-5l1-1v-1l-1-1v-4l-2-2v-6l-1-1l1-1v-4l1-1v-4l1-1v-3l1-1v-1l1-1v-3l1-1v-1l1-1v-1l1-1v-1l1-1v-1l2-2v-1l3-3v-1l3-3h1l1-1v-1h-1l-1-1v-3l1-1h1v-7l1-1h1l1,1v1h1l1,1v1h1v-1l1-1h1l1,1v1h5l1,1v1h1l1-1h2l2-2h1l2-2h1l2-2h1l2-2h1l2-2h1l4-4h1l3-3h1l12-12h2l1-1h2l1-1h2l1-1h2l1-1h2l1-1h2v-4l1-1h3v-5h-1l-1-1v-3l1-1h1v-3l1-1h1v-1l1-1h3l1,1v1h1l1,1v1h9v-1l1-1h3l1,1v3l-1,1h-3v3l-1,1h-3v1l-1,1h-3v1l-1,1h-3v1l-1,1h-3v1l-1,1h-1h2l1-1h2l1-1h14l1,1h3l1,1h4l1,1h3l1,1h4l1-1h9l1-1h1l1-1h2l1,1h1l2,2h1l1,1h4l1-1h4l1-1l1,1v1l3,3v1l1,1h1l2,2h1l2,2h1l2,2h1l2,2h4l1-1h1l2-2h1l1-1h-2l-1-1v-1h-5l-1-1v-1h-1l-1-1v-5h-1l-1-1v-3h-3l-1-1v-3h-1l-1-1v-5h-1l-1-1v-3h-1l-1-1v-1h-1l-1-1v-1h-1l-1-1v-1h-5l-1-1v-1h-3v1l-1,1h-3v1l-1,1h-15l-1-1v-1h-1v11l-1,1h-3l-1-1v-5h-3l-1-1v-3h-5l-1-1v-1h-5l-1-1v-1l1-1h3v-3l1-1h3l1,1v1h1v-1l1-1h1l1,1v1h3v-1l1-1h3v-5l1-1h1v-1l1-1h3v-1l1-1h1v-1l1-1h1v-3l1-1h1v-1l1-1h1v-1l1-1h1v-1l1-1h1v-1l1-1h1v-1l1-1h5v-1l1-1h1v-1l1-1h1l1,1v1h3l1,1v1h1l1,1v1h1l1,1v1h25l1,1v1h9v-1l1-1h1v-5h-1l-1-1v-1h-3l-1-1v-1h-1l-1-1v-7l1-1h1v-1l1-1h1v-1h-1l-1-1v-7l1-1h1v-3l1-1h1v-5l1-1h1v-1l1-1h3v-1l1-1h1v-3l1-1h1v-1l1-1h3v-3l1-1h1v-1l1-1h1v-1l1-1h1v-1l1-1h1v-3l1-1h1v-1l1-1h3v-1l1-1h3v-1l1-1h5l1,1v1h1l1,1v1h1v-3h-1l-1-1v-1h-1l-1-1v-1h-1l-1-1v-5h-1l-1-1v-1l1-1h1v-1l1-1h1v-1l1-1h1v-1h-1v1l-1,1h-1v1l-1,1h-1l-1-1v-3l1-1h1v-1l1-1h5v-1l1-1h15v-1l1-1h1v-1l1-1h1v-1l1-1h7v-1l1-1h1v-1l1-1h3l1,1v3h3l1,1v1h7v-1l1-1h1l1,1v1h1l1,1v3l-1,1h-1v7l-1,1h-3v1l-1,1h-3v1l-1,1h-1v1h1l1,1v1h1l1,1v1l-1,1h-1v5l-1,1h-3v1l-1,1h-3v3l-1,1h-1v1l-1,1h-3v9l-1,1h-5v1l-1,1h-1v3l-1,1h-1v1l-1,1h-1v1h1l1,1v3l-1,1h-3v3l-1,1h-1v1h1l1,1v1l-1,1h-1v3h1l1,1v5l-1,1h-3v3l-1,1h-1v1l-1,1h-1v9h1l1,1v3l-1,1h-1v1h1l1,1v5l-1,1h-1v1l-1,1h-1v1l-1,1h-9v1l-1,1h-3l-1-1v-1h-3v1l-1,1h-1l-1-1v-1h-1l-1-1v-1h-1l-1-1v-1h-1l-1-1v-1h-3l-1-1v-3h-1l-1-1v-1h-1v1h1l1,1v1l-1,1h-3v3h1l1,1v7h1l1,1v5h1l1,1v1h1l1,1l3-3h7l1-1h19l6-6v-1l1-1l1,1v1l1,1h6l1,1h5l1,1h4l1-1h5l1-1h5l1-1h19l1,1h2l1,1h3l1,1h2l1,1h2l3,3v1l3,3v1l3,3h1l3,3h4l1-1h9l1-1h1l1-1h1l1-1h1l2-2h1l1-1h1l1-1h1l1-1v-1l1-1v-1l2-2v-1l1-1h5l2,2h1l3,3h1l3,3h1l13,13h1l3,3h1l4,4v1l3,3v1l2,2v2l1,1v8l-1,1v2l-1,1v9l1,1v5l1,1v1l2,2v1l1,1v1l8,8v1l4,4v1l3,3v1l1,1v1l1,1v1l2,2v1h3l1,1v7l1,1h1l1,1h2l2,2v1l3,3v1l6,6v1l2,2h1l1,1h1l1,1h1l1,1h1l1,1h1l2,2v1l2,2v1l2,2v1l2,2v1l6,6h1l1,1h1l2,2l-1,1h-2l-2,2h-1l-2,2h-5l-1,1h-6l-2,2h-1l-3,3h-1l-1,1v4l3,3h4l1-1h1l2-2h1l1-1h1l2-2v-1l3-3l1,1v1h4l2-2h1v-1l1-1h2v-1l1-1h3l3-3h1l2-2v-2l3-3v-1l2-2v-1l1-1v-3l1-1v-2l1-1v-29l-1-1v-9h-1l-1-1v-8l-1-1v-1l-1-1v-2l-1-1v-1l-1-1v-1l-1-1v-1h-2l-1-1v-1h-3l-1-1v-5h-1l-1-1v-5l-1-1v-1l-1-1v-1l-1-1v-1l-1-1v-1l-1-1v-1l-1-1v-2l-1-1v-1l-1-1v-2l-1-1v-1l-1-1v-2l-1-1v-1l-1-1v-1l-1-1v-1l-2-2v-1l-3-3v-1l-2-2v-1l-2-2v-1l-1-1v-1l-2-2v-1l-1-1v-1l-1-1v-1l-2-2v-1l-1-1v-1l-2-2v-1l-1-1v-1l-2-2v-1l-1-1v-1l-2-2v-1l-1-1v-1l-1-1v-1l-1-1v-2l-1-1v-3l-1-1v-2l-1-1v-2l-1-1v-3l-1-1v-3l-1-1v-4l-1-1v-1l1-1v-7l1-1v-5l1-1v-3l1-1v-3l1-1v-2l1-1v-1l2-2v-1l3-3v-1l1-1v-1l1-1v-1l1-1v-1l1-1v-1l1-1v-1l33-33v-1l1-1v-2l1-1v-1l1-1v-2l1-1v-1l1-1v-1l1-1v-1l1-1v-1l3-3h1l2-2h1l2-2h1l2-2h3l1-1h3l1-1h3v-9l1-1v-1l2-2v-1l1-1v-1l3-3h1l4-4h1l3-3h1l2-2h2l1-1h2l1-1h2l1-1h2l1-1h4v-1l1-1v-1l1-1v-1l1-1v-1l1-1v-1l4-4v-1l1-1h1v-3l1-1h1v-1l1-1h3l1-1v-1l2-2v-7l-1-1v-1h-1l-1-1v-1h-1l-1-1v-1h-1l-1-1v-3h-5v1l-1,1h-1l-1-1v-1h-1l-1-1v-3l1-1h1v-3l1-1h1v-1l1-1h1v-1h-1l-1-1v-3l1-1l-3-3v-1l-3-3v-1l-1-1v-1l-1-1v-2l-1-1v-3l-1-1v-7l1-1v-4l1-1v-3l1-1v-2l1-1v-3l1-1v-2l1-1v-2l1-1v-1l1-1v-4l1-1v-4l1-1v-3l1-1v-8l-1-1v-4l-1-1v-5l1-1v-2l3-3v-1l1-1v-1l1-1v-1l1-1v-1l1-1v-2l1-1v-1l1-1v-1l1-1v-1l1-1v-5h-1l-1-1v-7h-1l-1-1v-1zM639,920l1-1h1l1,1v3l-1,1h-1l-1-1zM665,898l1-1h1l1,1v3h1l1,1v1h1l1,1v5l-1,1h-1v3l-1,1h-1l-1-1v-1h-1l-1-1v-3h-1l-1-1v-5l1-1h1zM1141,874l1-1h3l1,1v1h1l1,1v5h1l1,1v5l-1,1h-3v1l-1,1h-1v1l-1,1h-1l-1-1v-1h-1l-1-1v-3l1-1h1v-1h-1l-1-1v-7l1-1h1zM665,858l1-1h9l1,1v1h1l1,1v1h3l1,1v5l-1,1h-1v3l-1,1h-7v3l-1,1h-1v1l-1,1h-1v1l-1,1h-1v3l-1,1h-1v1l-1,1h-7l-1-1v-3h-1l-1-1v-1l1-1h1v-1l1-1h3l1,1v1h1v-3h-1l-1-1v-9h-1l-1-1v-3l1-1h1v-1l1-1h5zM685,848l1-1h1l1,1v7l-1,1h-1l-1-1zM679,848l1-1h1l1,1v3l-1,1h-1l-1-1zM687,840l1-1h3l1,1v3l-1,1h-3l-1-1zM647,830l1-1h1l1,1v1l-1,1h-1l-1-1zM641,830l1-1h3l1,1v3l-1,1h-3l-1-1zM607,822l1-1h17l1,1v1h3l1,1v9h3l1,1v1l-1,1h-1v3l-1,1h-31l-1-1v-1h-1l-1-1v-1l1-1h1v-1h-1l-1-1v-1l1-1h1v-1l1-1h1v-3l1-1h1v-1l1-1h3zM773,794l1-1h1l1,1v1l-1,1h-1l-1-1zM781,792l1-1h3l1,1v3l-1,1h-1v1l-1,1h-3l-1-1v-3l1-1h1zM797,784l1-1h1l1,1v1l-1,1h-1l-1-1zM607,766l1-1h5l1,1v1l-1,1h-5l-1-1zM519,764l1-1h3l1,1v1l-1,1h-3l-1-1zM603,762l1-1h1l1,1v3l-1,1h-1l-1-1zM1067,724l1-1h7l1,1v1h1v-1l1-1h3l1,1v9l-1,1h-5l-1-1v-3h-1v1l-1,1h-1l-1-1v-1h-3l-1-1zM567,720l1-1h3l1,1v1l-1,1h-3l-1-1zM1093,682l1-1h3l1,1v1l-1,1h-3l-1-1zM867,682l1-1h3l1,1v1l-1,1h-3l-1-1zM1083,680l1-1h3l1,1v1h3l1,1v3l-1,1h-3v1l-1,1h-1v1l-1,1h-1v1l-1,1h-7l-1-1v-1l1-1h1v-3l1-1h1v-1l1-1h1v-1l1-1h1zM891,638l1-1h1l1,1v1l-1,1h-1l-1-1zM871,638l1-1h1l1,1v1h1l1,1v1l-1,1h-5l-1-1v-1l1-1h1zM969,624l1-1h3l1,1v3l-1,1h-5l-1-1v-1l1-1h1zM883,622l1-1h5l1,1v1l-1,1h-1v1l-1,1h-3v3l-1,1h-5l-1-1v-3h-1l-1-1v-1l1-1h7zM943,618l1-1h7l1,1v3h1l1,1v1l-1,1h-1v1l-1,1h-1l-1-1v-3h-5l-1-1zM1171,616l1-1h5l1,1v1h5l1,1v1l-1,1h-1v1l-1,1h-1l-1-1v-1h-11l-1-1v-1l1-1h3zM961,616l1-1h3l1,1v3h1l1,1v1h1l1,1v1l-1,1h-1v1l-1,1h-7v1l-1,1h-3l-1-1v-1l1-1h1v-3l1-1h5v-1h-3l-1-1v-1l1-1h1zM869,608l1-1h3l1,1v3l-1,1h-3v1l-1,1h-1v3l-1,1h-1v1l-1,1h-7v1l-1,1h-5l-1-1v-3h-1l-1-1v-1l1-1h5v-1l1-1h5v-1l1-1h3v-1l1-1h3zM883,606l1-1h7l1,1v1h1l1,1v1h1l1,1v3l-1,1h-1v1l-1,1h-1v1l-1,1h-3l-1-1v-1h-5l-1-1v-1h-1l-1-1v-3l1-1h1v-1l1-1h1zM815,602l1-1h1l1,1v1l-1,1h-1l-1-1zM891,596l1-1h3l1,1v1l-1,1h-1v1l-1,1h-3l-1-1v-1l1-1h1zM663,594l1-1h1l1,1v1l-1,1h-1l-1-1zM1011,578l1-1h1l1,1v1l-1,1h-1l-1-1zM1009,576l1-1h1l1,1v1l-1,1h-1l-1-1zM951,570l1-1h1l1,1v1h1l1,1v1h1v-1l1-1h1l1,1v1h1v-1l1-1h17l1,1v1h3v-1l1-1h3l1,1v1h11l1,1v1h7l1,1v3h3l1,1v3l-1,1h-1v1l-1,1h-1v1l-1,1h-1v1l-1,1h-1v3l-1,1h-3v1l-1,1h-3v1l-1,1h-3v1l-1,1h-3l-1-1v-1h-5v1l-1,1h-11l-1-1v-1h-5v1l-1,1h-1l-1-1v-1h-3v1l-1,1h-3v1l-1,1h-1l-1-1v-1h-3l-1-1v-1h-1l-1-1v-3h-3v1l-1,1h-1l-1-1v-3l1-1h1v-1l1-1h1v-1h-1v1l-1,1h-5v1l-1,1h-3v3l-1,1h-5v1l-1,1h-1v1l-1,1h-3v1l-1,1h-3l-1-1v-1h-1l-1-1v-1h-7l-1-1v-3l1-1h3v-1l1-1h1v-1l1-1h3v-3h-3v3l-1,1h-3v1l-1,1h-3l-1-1v-1h-5l-1-1v-1h-1l-1-1v-5l1-1h7l1,1v1h1v-1l1-1h3v-1l1-1h1l1,1v1h1l1,1v1h1v-1l1-1h1v-1l1-1h1v-1l1-1h1v-1l1-1h1v-1l1-1h19v-1l1-1h7zM1049,556l1-1h3l1,1v1l-1,1h-3l-1-1zM677,544l1-1h5l1,1v1l-1,1h-5l-1-1zM687,538l1-1h1l1,1v1l-1,1h-1l-1-1zM961,536l1-1h1l1,1v1l-1,1h-1l-1-1zM983,532l1-1h1l1,1v1l-1,1h-1l-1-1zM1085,530l1-1h3l1,1v1l-1,1h-3l-1-1zM985,530l1-1h3l1,1v1l-1,1h-3l-1-1zM1077,524l1-1h1l1,1v3l-1,1h-1l-1-1zM961,524l1-1h1l1,1v3l-1,1h-3l-1-1v-1l1-1h1zM1081,522l1-1h1l1,1v1l-1,1h-1l-1-1zM1097,520l1-1h1l1,1v1l-1,1h-1l-1-1zM1085,516l1-1h3l1,1v3l-1,1h-5l-1-1v-1l1-1h1zM977,514l1-1h3l1,1v3l-1,1h-5l-1-1v-1l1-1h1zM1069,508l1-1h3l1,1v1l-1,1h-1v1l-1,1h-1v3l-1,1h-1v3l-1,1h-1l-1-1v-3h-1l-1-1v-1h-1l-1-1v-1l1-1h3v-1l1-1h3zM1059,498l1-1h3l1,1v3l-1,1h-3l-1-1zM1123,476l1-1h1l1,1v1l-1,1h-1l-1-1zM1133,468l1-1h1l1,1v1l-1,1h-1l-1-1zM1143,464l1-1h3l1,1v3l-1,1h-5l-1-1v-1l1-1h1zM1165,460l1-1h1l1,1v3l-1,1h-1l-1-1zM1135,446l1-1h1l1,1v1l-1,1h-1l-1-1zM686,422v1h3v-1zM606,420v1h1l1,1v1h1v-3zM468,412v5h1v-5zM686,410v3l-1,1h-3v1h1l1,1v1h3v-7zM548,410v3h1v-3zM534,410v3h3v-3zM1140,408v5l-1,1h-1v1h3v-7zM1116,404v1h1l1,1v7h1l1,1v1h1v-1l1-1h1v-9zM376,404v1l-1,1h-5v1l-1,1h-1l-1-1v-1h-3v1l-1,1h-1v1l-1,1h-1v9h1l1,1v1h5l1,1v1h1l1,1v1h1v-1l1-1h3v-1l1-1h1v-1l1-1h3v-1l1-1h1v-9h-3l-1-1v-1h-1l-1-1v-1zM1200,402v3l-1,1h-1v1l-1,1h-1v1l-1,1h-3v3l-1,1h-3v1h5l1,1v3h1l1,1v1l-1,1h-1v1h1l1,1v1h5l1,1v5h3v-5l1-1h1v-1l1-1h1v-1l1-1h3v-3l1-1h3v-9h-3l-1-1v-1h-1l-1-1v-1h-1l-1-1v-1h-1v1l-1,1h-1l-1-1v-1zM1144,402v3h3v-1h-1l-1-1v-1zM470,402v3l-1,1h-3v3l-1,1h-1v1l-1,1h-1v1h3v-3l1-1h1v-1l1-1h3v-5zM560,394v1l-1,1h-1v1h5v-1h-1l-1-1v-1zM204,392v3h3v-3zM184,386v5h3l1,1v1h13v-3h-7l-1-1v-1h-5l-1-1v-1zM1080,382v1l-1,1h-3v1l-1,1h-3v1l-1,1h-1v3l-1,1h-1v1l-1,1h-3l-1-1v-1h-1v1l-1,1h-2l-6,6h-2l-1,1h-3l-1,1h-2l-1,1h-3l-1,1h-2l-1,1h-4l-1,1h-5v1l-1,1h-1v1l-1,1h-1v1l-1,1h-1v1l-1,1h-3v3l-1,1h-3v1l-1,1h-1v3l-1,1h-1v1l-1,1h-3v1l-1,1h-3v1l-1,1h-1v1l-1,1h-3v1l-1,1h-11l-1-1v-1h-3v1l-1,1h-3v1l-1,1h-3l-1-1v-1h-3v1l-1,1h-1v3l-1,1h-3v1l-1,1h-3v1l-1,1h-3v1l-1,1h-7v1l-1,1h-1l-1-1v-1h-1v3l-1,1h-7l-1-1v-1h-1v1l-1,1h-1v1l-1,1h-3v1h1l1,1v1h1l1,1v3h7l1,1v1h5v-5l1-1h1v-1l1-1h3v-1l1-1h1l1,1v1h1v-1l1-1h1v-1l1-1h3l1,1v1h3l1,1v3h5v-1l1-1h3v-1l1-1h1v-1l1-1h1l1,1v1h1l1,1v1h1l1,1v3h1l1,1v1h1l1,1v3h5l1,1v1h3v-1l1-1h1l1,1v1h3l1,1v3h9v-1l1-1h9v-1l1-1h1v-1l1-1h1v-3l1-1h1v-1l1-1h1v-1l1-1h1v-1l1-1h1v-1l1-1h3v-1l1-1h7v-1l1-1h1v-5l1-1h1v-3l1-1h1v-5l1-1h3v-15l1-1h1v-1l1-1h1v-1l1-1h7l1,1v3h1l1,1v7h1l1,1v1h1l1,1v1h1l1,1v1h1l1,1v1h1v-1l1-1h1v-3l1-1h1v-1h-1l-1-1v-5l1-1h1v-3l1-1h1v-1h-1l-1-1v-1l1-1h1v-1h-1l-1-1v-3h-1l-1-1v-3l1-1h1v-1l1-1h1v-1l1-1h1v-3h-1l-1-1v-1l1-1h1v-5h-1l-1-1v-1zM945,448l1-1h1l1,1v3l-1,1h-1l-1-1zM1274,380v1h1l1,1v1h1v-3zM550,376v1h1l1,1v1h1l1,1v3h1v-7zM534,376v3h1l1,1v5h3v-3h-1l-1-1v-1h-1l-1-1v-3zM406,372v1h3v-1zM958,370v3h3v-1l1-1h1v-1zM304,370v1l-1,1h-3v5h5l1,1v3l-1,1h-1v3l-1,1h-7v7h3l1,1v1h1v-1l1-1h5v-1l1-1h3v-1l1-1h1v-1l1-1h1v-3h-1l-1-1v-1h-1l-1-1v-3h-5l-1-1v-7zM1270,368v1h3v-1zM1156,364v1h3v-1zM1134,362v1l-1,1h-1v1h3v-1l1-1h3v-1zM262,362v1h3v-1zM40,356v1l-1,1h-3v3h3v-1l1-1h1v-3zM1312,354v1l-1,1h-3v5h1l1,1h4l2-2v-1l1-1v-2h-1l-1-1v-1zM1226,354v1l-1,1h-1v1l-1,1h-5v1l-1,1h-1v1h1l1,1v1l-1,1h-1v1l-1,1h-3v3h1l1,1v3h1l1,1v1h3v-1l1-1h5v-1l1-1h3l1,1v1h1l1,1v3h1l1,1v1l-1,1h-1v3l-1,1h-11v1l-1,1h-1v3h1l1,1v3h1l1,1v15h3l1,1v3h5l1,1v1h1v-3l1-1h1v-1l1-1h3v-1l1-1h1v-1l1-1h1v-3l1-1h1v-1h-1l-1-1v-1h-1l-1-1v-3l1-1h1v-1l1-1h1v-1l1-1h3l1,1v1l-1,1h-1v3h3v-1l1-1h1v-1l1-1h1v-1l1-1h7v-1l1-1h1v-1h-1l-1-1v-1h-1l-1-1v-1h-1l-1-1v-3h-1v5l-1,1h-5v1l-1,1h-5l-1-1v-1h-3v1l-1,1h-5l-1-1v-3l1-1h7v-5l1-1h1v-3h-1l-1-1v-1l1-1h1v-1l1-1h1v-7h-1l-1-1v-1h-3l-1-1v-1h-3l-1-1v-1zM1233,388l1-1h1l1,1v1l-1,1h-1l-1-1zM934,354v1l-1,1h-2l1,1v1l1,1v-1l1-1h1v-3zM238,354v1l-1,1h-1v3h1v-3l1-1h3v-1zM929,345v2h4v-1h-3zM904,342v5h1v-5zM1166,340v3l-1,1h-1v3h1v-3l1-1h1v-1l1-1h1v-1zM886,340v1h3v-1zM890,332v3h1v-3zM452,326v1h1l1,1v3h1v-5zM1011,324l-1,1h-1l1,1v1l-1,1h-1v1h1l1,1v1h3l1,1v1h3v-1l1-1h1v-3h-3l-1-1v-3zM434,320v1h5v-1zM1230,314v1l-1,1h-1v1l-1,1h-3v1l-1,1h-1v1l-1,1h-1v5h1l1,1v1h3l1,1v5h1l1,1v1h1l1,1v3h1l1,1v3h1l1,1v1h1l1,1v1h3l1,1v1h1l1,1v1h9v-3h-1l-1-1v-1h-1l-1-1v-5h-3l-1-1v-1h-1l-1-1v-1h-1l-1-1v-3h-1l-1-1v-3l1-1h1v-5h-1l-1-1v-3l1-1h1v-1h-1l-1-1v-3zM508,314v1h3v-1zM482,314v1l-1,1h-1v1l-1,1h-1v1l-1,1h-1v1h1l1,1v5l-1,1h-3v1l-1,1h-1v1l-1,1h-1v3l-1,1h-3v1l-1,1h-1v1l-1,1h-9v1l-1,1h-1v1l-1,1h-1v5h1l1,1v1h9l1,1v1l-1,1h-1v1h1l1,1v3h1l1,1v1h1l1,1v1l-1,1h-1v1l-1,1h-1v1h1l1,1v1h1l1,1v3h1l1,1v1h1l1,1v3h1l1,1v3h1l1,1v5h1l1,1v5h1l1,1v1l-1,1h-3v3h3v-1l1-1h1l1,1v1h1l1,1v3h1l1,1v3l-1,1h-3v1l-1,1h-1v3h5v-5l1-1h1l1,1v1h3l1,1v1h5l1,1v1h13l1,1v1h9v-1l1-1h1v-3l1-1h1v-3h-1l-1-1v-17h-1l-1-1v-1l1-1h1v-7h-1l-1-1v-3l1-1h1v-1h-1l-1-1v-5h-1l-1-1v-1h-1l-1-1v-7l1-1h1v-5h-7v1l-1,1h-5l-1-1v-1h-13l-1-1v-7l1-1h1v-1l1-1h1v-1h-1l-1-1v-9l1-1h3v-3h-1l-1-1v-3h-3l-1-1v-1h-3l-1-1v-1h-1l-1-1v-3zM507,360l1-1h1l1,1v1l-1,1h-1l-1-1zM336,314v1l-1,1h-1v1l-1,1h-5v5h1l1,1v1h7v-1l1-1h1v-7l1-1h1v-1zM546,310v3l-1,1h-15l-1-1v-1h-3v1l-1,1h-1v7h3l1,1v5l-1,1h-1v1l-1,1h-1v1l-1,1h-1v1l-1,1h-1v3l-1,1h-1v3h1l1,1v1h1l1,1v1h1l1,1v1h5v-1l1-1h11l1,1v1h5v-1l1-1h1v-3l1-1h3v-1h-1l-1-1v-1h-1l-1-1v-7l1-1h1v-1h-1l-1-1v-11h-1l-1-1v-5zM660,308v3h5v-3zM384,306v1l-1,1h-5v1l-1,1h-1l-1-1v-1h-7v5h1l1,1v1l-1,1h-7v1l-1,1h-1v5h1l1,1v1h1l1,1v1l-1,1h-1v1l-1,1h-1v1l-1,1h-1v1l-1,1h-1v1l-1,1h-1v1l-1,1h-1v5h1l1,1v1h3l1,1v1h3v-1l1-1h11l1,1v1h3l1,1v1h3l1,1v3h3l1,1v1h1l1,1v1h1l1,1v1h5l1,1v1h1l1,1v3h3l1,1v3h1v-1l1-1h3l1,1v1h3v-1h-3l-1-1v-1l1-1h1v-1l1-1h1l1,1v1h1l1,1v3h1l1,1v3l-1,1h-1v1h3l1,1v1h1l1,1v3h5v-3l1-1h1v-1l1-1h1v-1l1-1h1v-1l1-1h1v-9h-1l-1-1v-1h-1l-1-1v-5h-1l-1-1v-3h-1l-1-1v-1h-9v1l-1,1h-5l-1-1v-1h-1l-1-1v-5l1-1h1v-1l1-1h5l1,1v1h1v-3l1-1h3v-3h-1l-1-1v-1l1-1h1v-5h-1l-1-1v-1h-1l-1-1v-1h-3l-1-1v-1h-5l-1-1v-5l1-1h1v-1h-1l-1-1v-1h-11l-1-1v-1h-7l-1-1v-1zM403,364l1-1h1l1,1v1l-1,1h-1l-1-1zM836,304v1h1l1,1v1h1v-3zM502,298v3l-1,1h-1v3h3l1,1v3l-1,1h-1l-1-1v-1h-3v5h1l1,1v1h1v-1l1-1h1v-3l1-1h1v-11zM456,296v1l-1,1h-1v1l-1,1h-1l-1-1v-1h-1v7h1l1,1v1l-1,1h-1v1h1l1,1v3h1l1,1v3h1l1,1v3h5v-1l1-1h1v-1l1-1h3l1,1v1h1v-5l1-1h1l1,1v1h3v-1l1-1h3v-3h-7l-1-1v-1h-1l-1-1v-5l1-1h1v-1h-1l-1-1v-3h-3v1l-1,1h-3l-1-1v-1zM360,296v1l-1,1h-3v1h3l1,1v1h1l1,1v1h3v-3h-1l-1-1v-1h-1l-1-1v-1zM344,294v1l-1,1h-1v1h5v-1h-1l-1-1v-1zM510,292v5l-1,1h-1v1h3v-1l1-1h1v-1l1-1h1v-1h-1l-1-1v-1zM366,292v3h1l1,1v1h1l1,1v3h1l1,1v1h1v-1h-1l-1-1v-3l1-1h3v-1h-5l-1-1v-1h-1l-1-1v-1zM640,290v1h1l1,1v3h3v-1l1-1h1v-1h-1l-1-1v-1zM484,288v1l-1,1h-1v1l-1,1h-1v1h1v-1l1-1h1l1,1v3h1l1,1v1h1l1,1v1h3v-1h-3l-1-1v-3l1-1h1v-1h-1l-1-1v-1h-1l-1-1v-1zM506,286v3h3v-3zM392,280v7h1l1,1v1h1l1,1v1h3l1,1v1h3v-7h-1l-1-1v-1h-1l-1-1v-1h-1l-1-1v-1zM960,276l-4,4v1l-1,1v1l-1,1v1l-1,1v1l-1,1v1h1v-1l1-1h1l1,1v3l-1,1h-1v1l-1,1h-2l-1,1h-4v1l-1,1v1l-1,1v1l-1,1v1l-1,1v1l-7,7v1l-1,1v8l-1,1h-1v1h5l1,1v1l-1,1h-1v1l-1,1h-4v8l-1,1v2h1l1,1v1h1v-1l1-1h1l1,1v1h1l1,1v1h3l1,1v1l-1,1h-1v3h1l1,1v1h3l1,1v3h1l1,1v1h1l1,1v3l-1,1h-1v1l-1,1h-1v3l-1,1h-1v1l-1,1h-1v1h3l1,1v1l-1,1h-7v5h3l1,1v7l-1,1h-1v5l-1,1h-1v9h1l1,1v3l-1,1h-1v9h3v-1l1-1h5l1,1v1h3l1,1v1h7v-1l1-1h1v-1l1-1h1v-1l1-1h1v-3l1-1h1v-1l1-1h3v-1l1-1h1v-1l1-1h5v-1l1-1h5l1,1v1h3l1,1v3h1v-1l1-1h3v-1l1-1h1v-5h-1l-1-1v-1h-9l-1-1v-3l1-1h1v-1h-1v1l-1,1h-3v1l-1,1h-1l-1-1v-1h-1l-1-1v-1l1-1h1v-1l1-1h3v-1l1-1h1v-1h-1l-1-1v-1l1-1h1v-1l1-1h1v-1l1-1h3v-1l1-1h3v-3l1-1h3v-5l1-1h1l1,1v1h1v-1l1-1h1v-1l1-1h5l1,1v1h1l1,1v3l-1,1h-1v1l-1,1h-1l-1-1v-1h-1v3l-1,1h-1v3h1l1,1v1l-1,1h-3v1l-1,1h-1v1l-1,1h-1v1l-1,1h-1v5h5l1,1v3h5v-3l1-1h1v-1l1-1h1v-3h-3l-1-1v-1h-1l-1-1v-3l1-1h1v-1l1-1h1v-1l1-1h1v-1l1-1h3v-3l1-1h3v-1l1-1h3v-1l1-1h1v-1l1-1h1v-1l1-1h1v-1h-3l-1-1v-3h-1l-1-1v-5h-1l-1-1v-1l1-1h3v-3h-1v1l-1,1h-1v1l-1,1h-1l-1-1v-5h-1v1l-1,1h-1v1l-1,1h-1v3l-1,1h-1l-1-1v-1h-1v1l-1,1h-5l-1-1v-3h-1v1l-1,1h-5l-1-1v-3l1-1h3v-1l1-1h1v-1h-5v1l-1,1h-3v5l-1,1h-1v1l-1,1h-1v1l-1,1h-3v1l-1,1h-5l-1-1v-1h-1v1l-1,1h-3v3h1l1,1v1h1l1,1v1h1l1,1v3l-1,1h-1v5l-1,1h-3v1l-1,1h-3v1l-1,1h-3l-1-1v-1h-1v7l-1,1h-3v1h1l1,1v5l-1,1h-1l-1-1v-1h-1l-1-1v-5h-9l-1-1v-1h-5l-1-1v-3l1-1h3v-1l1-1h1v-1l1-1h1l1,1v1h1l1,1v1h1v-5h-1l-1-1v-3l1-1h1v-1l1-1h3v-3l1-1h5v-3l1-1h1v-1l1-1h3v-5h-3v1l-1,1h-5l-1-1v-1h-5l-1-1v-3l1-1h1v-3l1-1h1v-1h-1l-1-1v-1l1-1h1v-1l1-1h1l1,1v3h1l1,1v1h3v-1l1-1h3v-3l1-1h1v-1h-1l-1-1v-1h-5l-1-1v-3l1-1h1v-1h-1v1l-1,1h-1v3l-1,1h-7l-1-1v-1h-1l-1-1v-1h-1l-1-1v-3h-1l-1-1v-1h-1l-1-1v-1l1-1h7v-1l1-1h1l1,1v1h9l1,1v1h3v-1l1-1h3v-1l1-1h1v-1l1-1h5l1,1v3h1l1,1v3l-1,1h-7l-1-1v-1h-1v5h1l1,1v1h5v-1l1-1h3v-3l1-1h1v-1h-1l-1-1v-3l1-1h1v-1l1-1h11v-1l1-1h1l1,1v1h3v-9l-1-1v-2l-1-1v-3l-1-1v-2l-1-1v-1h-1l-1-1v-1h-7l-1-1v-1h-3l-1-1v-1h-1l-1-1v-2h-3l-1-1h-5l-1-1v-1h-3l-1-1v-1h-3l-1-1h-2l-1-1zM993,400l1-1h1l1,1v1l-1,1h-1l-1-1zM939,396l1-1h1l1,1v1l-1,1h-1l-1-1zM961,394l1-1h1l1,1v1l-1,1h-1l-1-1zM949,390l1-1h1l1,1v1l-1,1h-1l-1-1zM963,388l1-1h1l1,1v1l-1,1h-1l-1-1zM953,384l1-1h1l1,1v1l-1,1h-1l-1-1zM981,370l1-1h3l1,1v1h3l1,1v3l-1,1h-1v1l-1,1h-3v1l-1,1h-5l-1-1v-1h-1l-1-1v-1l1-1h5zM1015,366l1-1h1l1,1v3l-1,1h-1l-1-1zM987,366l1-1h1l1,1v3l-1,1h-3l-1-1v-1l1-1h1zM1013,354l1-1h3l1,1v1h1l1,1v1l-1,1h-3l-1-1v-1h-1l-1-1zM945,350l1-1h1l1,1v1l-1,1h-1l-1-1zM947,338l1-1h3l1,1v1l-1,1h-1v3l-1,1h-7l-1-1v-1l1-1h1v-1l1-1h3zM951,336l1-1h1l1,1v1l-1,1h-1l-1-1zM939,326l1-1h3l1,1v1l-1,1h-3l-1-1zM977,324l1-1h1l1,1v1l-1,1h-1l-1-1zM622,276v1h3v-1zM508,276v1h3l1,1v1h1v-1h-1l-1-1v-1zM732,274v1l-1,1h-1v3h1l1,1v1h1l1,1v1h7l1,1v1h5v-3h-1l-1-1v-3h-3l-1-1v-1h-1l-1-1v-1zM802,268v1l-1,1h-1v1h5v-3zM480,268v3l-1,1h-1v3h1l1,1v1h1l1,1v3h3v-5l1-1h3v-3h-1l-1-1v-1h-1l-1-1v-1zM1256,258v1l-1,1h-3v3l-1,1h-3v1l-1,1h-3v1l-1,1h-1v7h1l1,1v1h1l1,1v1h1v-1l1-1h3v-1l1-1h1v-3l1-1h1v-1l1-1h1v-5l1-1h1v-1h-1l-1-1v-3zM1228,258v1l-1,1h-3v1l-1,1h-1v11h1l1,1v1h1l1,1v3l-1,1h-3v1l-1,1h-1v1l-1,1h-1v5h1l1,1v5h1l1,1v1h1l1,1v1h1l1,1v9h1l1,1v1h3v-17h-1l-1-1v-3l1-1h1v-3l1-1h1v-1h-1l-1-1v-1l1-1h1v-1l1-1h1v-1l1-1h1v-3h-1l-1-1v-1h-3l-1-1v-5h-1l-1-1v-1l1-1h1v-1l1-1h1v-3zM826,254v1l-1,1h-1v1h3v-3zM772,254v1l-1,1h-1v7h3l1,1v1h1v-3h-1l-1-1v-7zM762,254v1h3v-1zM817,249l-1,1h-2l-1,1h-1l-1,1h-1v1h5v-1l1-1h1zM812,244v1h3v-1zM876,230v5h1l1,1v1l-1,1h-1v1l-1,1h-3l-1-1v-1h-2l-1,1h1l1,1v1l-1,1h-1v1l-1,1h-3v1l-1,1h-1v1l-1,1h-1v1l-1,1h-7v1l-1,1h-3v1l-1,1h-3v3l-1,1h-1v5l-1,1h-3v1l-1,1h-3l-1-1v-1h-1v1l-1,1h-3l-1-1v-3h-1l-1-1v-1h-3v1l-1,1h-1v1l-1,1h-1v1l-1,1h-3v1l-1,1h-5v5h3l1,1v1h1l1,1v1h1v-1l1-1h1v-1l1-1h5l1,1v1h1l1,1v1h1l1,1v1h1l1,1v1h1l1,1v3h1l1,1v3h1v-1l1-1h3l1,1v1h3l1,1v1h5l1,1v1l-1,1h-1v1h1l1,1v1h1l1,1v1h1l1,1v9l-1,1h-1v1h1l1,1v1h1l1,1v15l-1,1h-1v1l-1,1h-1l-1-1v-3h-1v1l-1,1h-1v9l-1,1h-1v3l-1,1h-3v1l-1,1h-3v1l-1,1h-3l-1-1v-1h-1l-1-1v-1h-1v1l-1,1h-5l-1-1v-1h-7l-1-1v-1h-3v1l-1,1h-3l-1-1v-1h-1l-1-1v-1h-3v1l-1,1h-1l-1-1v-1h-1l-1-1v-3h-17l-1-1v-3h-5l-1-1v-3h-3l-1-1v-1h-7l-1-1v-1h-3l-1-1v-1h-3l-1-1v-1l1-1h1v-1h-3l-1-1v-3h-3v3l-1,1h-1l-1-1v-1h-1l-1-1v-1h-3v1l-1,1h-1v1l-1,1h-1v1l-1,1h-7l-1-1v-1h-1l-1-1v-1h-7l-1-1v-1h-1l-1-1v-1h-1l-1-1v-1h-5v7h1l1,1v3h1l1,1v1h1l1,1v3h7l1,1v3h1l1,1v1h1l1,1v1h7l1,1v1h1l1,1v1h1l1,1v1h5l1,1v5h3v-1l1-1h1l1,1v1h9l1,1v1h5l1,1v1h9v-1l1-1h1l1,1v5h1v-1l1-1h1v-3l1-1h5l1,1v5h7v-1l1-1h5v-1l1-1h3l1,1v1l-1,1h-1v1l-1,1h-1v1l-1,1h-7v1l-1,1h-3v1l-1,1h-1v1l-1,1h-5l-1-1v-3l1-1h1v-1l1-1h1v-1h-1v1l-1,1h-3v1l-1,1h-1v1h1l1,1v1l-1,1h-5v1l-1,1h-1l-1-1v-1h-7l-1-1v-1h-9v1l-1,1h-1v7h1l1,1v1l-1,1h-1v3l-1,1h-1v1l-1,1h-1v1l-1,1h-3v1l-1,1h-3v1l-1,1h-3v1l-1,1h-3v1l-1,1h-1v1l-1,1h-1v3l-1,1h-3v1l-1,1h-3v5l-1,1h-1v1l-1,1h-1l-1-1v-3h-5v5h1l1,1v5h9l1,1v1l-1,1h-1v3l-1,1h-7v1l-1,1h-1v3l-1,1h-13v1l-1,1h-1v1l-1,1h-3v3l-1,1h-3v1l-1,1h-5v1l-1,1h-3v1l-1,1h-1v3h1l1,1v1h1l1,1v3h3v-1l1-1h3l1,1v1h7v-9l1-1h1v-1l1-1h7l1,1v11l-1,1h-1v1l-1,1h-5v1l-1,1h-1v1l-1,1h-1v3l-1,1h-3v1l-1,1h-1v1l-1,1h-3v3l-1,1h-1v1l-1,1h-1v1l-1,1h-5v1l-1,1h-1v1l-1,1h-3v1l-1,1h-1v1h1l1,1v5h1l1,1v1h1v-5l1-1h9v-1l1-1h1v-1l1-1h1v-1l1-1h1v-1l1-1h1v-1l1-1h3v-1l1-1h1v-1l1-1h3v-3l1-1h5v-3l1-1h1v-1l1-1h1l1,1v3h1l1,1v1h5v-1l1-1h1v-1h-1l-1-1v-1l1-1h1v-1l1-1h7l1,1v1h9l1,1v1h1l1,1v1h1l1,1v3h1l1,1v3l-1,1h-5v1h3l1,1v1l-1,1h-1v3h1l1,1v7h1l1,1v1h3l1,1v7l-1,1h-1v1l-1,1h-1v1l-1,1h-3v3l-1,1h-1v1h7l1,1v1h5l1,1v1h7l1,1v1h1l1,1v1h1l1,1v5h1l1,1v3h5l1,1v1h1l1,1v1l-1,1h-1v1h1l1,1v5l-1,1h-3v1h3v-1l1-1h1l1,1v1h3l1,1v1h3v-1l1-1h3v-1l1-1h1l1,1v3h1l1,1v1h1l1,1v1h1l1,1v1h13v-1l1-1h3v-1l1-1h3v-1l1-1h3v-1l1-1h7v-1h-3l-1-1v-1h-1l-1-1v-3l1-1h1v-1l1-1h11v-1l1-1h1v-1l1-1h1v-3l1-1h1v-1l1-1h1v-5l1-1h1v-3l1-1h1v-11l1-1h1v-1l1-1h1v-1h-1v1l-1,1h-3l-1-1v-1h-3l-1-1v-1h-5l-1-1v-1h-1l-1-1v-1h-1l-1-1v-1h-1l-1-1v-7h-1l-1-1v-1l1-1h1v-1l1-1h1l1,1v1h1v-1l1-1h11v-1l1-1h5v-1l1-1h3l1,1v5h1l1,1v1h3v-1l1-1h3v-1l1-1h1l1,1v1h1v-1l1-1h1v-1l1-1h7v-1l1-1h3v-1l1-1h1v-1l1-1h1l1,1v1h13v-1l1-1h1v-1l1-1h1v-1l1-1h1v-3l1-1h1v-1l1-1h1v-3l1-1h1v-3l1-1h1v-3l1-1h1v-3h-1l-1-1v-7l1-1h1v-1h-1l-1-1v-1h-1l-1-1v-3h-1l-1-1v-9h-1l-1-1v-1h-1l-1-1v-1h-1l-1-1v-3l1-1h1v-3l1-1h3v-1h-3v1l-1,1h-1l-1-1v-5l1-1h1v-3l1-1v-4l-1,1h-1l-1-1v-1h-1l-1-1v-7l1-1h1v-1l1-1v-2l-1,1h-3l-1-1v-7l1-1h2l-1-1h-1v1l-1,1h-3l-1-1v-1l1-1h1v-3l1-1h1v-1l1-1h1v-1h-1l-1-1v-1h-1l-1-1v-1l1-1h1v-3h-5v1l-1,1h-1l-1-1v-3h-1v1l-1,1h-3v1l-1,1h-3v1l-1,1h-1l-1-1v-3l1-1h1v-3h-1l-1-1v-1h-1v3l-1,1h-1l-1-1v-1h-3l-1-1v-3l1-1h1v-1l1-1h1v-1l1-1h1v-3l1-1h1v-3l1-1h1v-1l1-1h3v-1l1-1h1v-1l1-1h1v-1l1-1h1l1,1v3h3l1,1v3h5v-1l1-1h3v-1l1-1h1v-3h-1l-1-1v-3l1-1h1v-1l1-1h1v-1l1-1h1v-1h-3v1l-1,1h-1v1l-1,1h-3v1l-1,1h-3v3l-1,1h-1l-1-1v-1h-1l-1-1v-1h-5l-1-1v-1l1-1h1v-1l1-1h1v-1l1-1h7v-3l1-1h1v-1l1-1h3v-1l1-1h1v-1l1-1h5v-1l1-1h1v-1h-2l-2,2l-1-1v-2l1-1v-1l1-1v-1l1-1v-5l1-1h1l1,1v1l1,1v1l1,1v1h1l1-1h3l1-1v-1l5-5h1l2-2h1l2-2h1l1-1h1l1-1h1l1-1h1l1-1h1l1-1h4l1-1h2l1,1h1l1,1h2l1,1h1l1,1h4l1-1h1l2-2h16l1-1h3l1-1h2v-3h-3l-1-1v-1h-3l-1-1h-1l-1-1h-5l-1-1v-5h-5l-1-1v-3h-3l-1-1h-2l-1,1h-6l-1-1v-3h-1l-1-1v-1h-1l-1-1v-1h-5l-1,1h-2l-1,1h-1l-1,1h-2l-1,1h-5l-1,1h-6l-1,1h-1l-2,2h-1l-1,1h-1l-2,2h-1l-1,1h-4l-1,1h-2l-1-1h-1l-1-1h-2l-8-8h-4l-1-1h-4l-2-2l7-7v-1l2-2v-1l1-1h-9v1l-1,1h-1v1l-1,1h-5l-1-1v-5zM815,534l1-1h1l1,1v1l-1,1h-1l-1-1zM817,532l1-1h1l1,1v1l-1,1h-1l-1-1zM795,474l1-1h1l1,1v1h9l1,1v5l-1,1h-1v1l-1,1h-1v1l-1,1h-3v1l-1,1h-1v1l-1,1h-3l-1-1v-13l1-1h1zM801,472l1-1h1l1,1v1l-1,1h-1l-1-1zM823,468l1-1h5l1,1v1l-1,1h-1v1l-1,1h-1l-1-1v-1h-1l-1-1zM899,462l1-1h1l1,1v1l-1,1h-1l-1-1zM733,428l1-1h1l1,1v1l-1,1h-1l-1-1zM753,388l1-1h1l1,1v1l-1,1h-1l-1-1zM761,386l1-1h3l1,1v1l-1,1h-3l-1-1zM773,370l1-1h3l1,1v3l-1,1h-3v3l-1,1h-1v1l-1,1h-9v1l-1,1h-1l-1-1v-5l1-1h1v-1h-1l-1-1v-1l1-1h3l1,1v1h7v-1l1-1h1zM841,348l1-1h3l1,1v3l-1,1h-1l-1-1v-1h-1l-1-1zM807,348l1-1h1l1,1v3l-1,1h-3l-1-1v-1l1-1h1zM737,336l1-1h1l1,1v1l-1,1h-1l-1-1zM883,320l1-1h3l1,1v1l-1,1h-3l-1-1zM885,314l1-1h3l1,1v1l-1,1h-3l-1-1zM865,304l1-1h3l1,1v3l-1,1h-3l-1-1zM863,298l1-1h1l1,1v1l-1,1h-1l-1-1zM889,292l1-1h1l1,1v1l-1,1h-1l-1-1zM857,292l1-1h3l1,1v1l-1,1h-3l-1-1zM853,292l1-1h1l1,1v1l-1,1h-1l-1-1zM887,290l1-1h1l1,1v1l-1,1h-1l-1-1zM869,284l1-1h3l1,1v1l-1,1h-1v1h1v-1l1-1h3l1,1v3l-1,1h-1v3l-1,1h-3l-1-1v-1h-1l-1-1v-3h-1l-1-1v-1l1-1h1zM819,264l1-1h3l1,1v1l-1,1h-3l-1-1zM810,224v1l-1,1h-3v3l-1,1h-1v5h1l1,1v1h3v-3h-1l-1-1v-3l1-1h3v-5zM770,224v1l-1,1h-11v1l-1,1h-1l-1-1v-1h-1v3l-1,1h-1v3h1l1,1v3h3v-3l1-1h9l1,1v1h3v-3l1-1h1v-1l1-1h5v-1h-3l-1-1v-1h-1l-1-1v-1zM208,222v1l-1,1h-3v1l-1,1h-1v3l-1,1h-1v1l-1,1h-1v3l-1,1h-1v3l-1,1h-1v1l-1,1h-5l-1-1v-1h-1v1l-1,1h-5v3h1l1,1v1h1l1,1v5h3l1,1v5h1l1,1v1h3l1,1v1h3v-1l1-1h3v-1l1-1h13v-1l1-1h5v-1l1-1h3v-1l1-1h9l1,1v1h1v-1l1-1h1v-11l1-1h1v-9h-3l-1-1v-5h-1l-1-1v-1h-3v1l-1,1h-5l-1-1v-1h-5l-1-1v-1h-1v1l-1,1h-5l-1-1v-1zM838,218v3h1v-3zM874,210v3l-1,1h-1v1l3-3v-1l1-1zM864,210v5h1v-1l1-1h1v-3zM1296,158v1l-1,1h-1v1h1l1,1v1h3v-5zM368,156v3l-1,1h-1v3h1l1,1v1h3l1,1v3h1l1,1v3l-1,1h-1v7h1l1,1v1l-1,1h-1v1h3l1,1v1h9l1,1v1h1l1,1v1h3l1,1v1h1l1,1v3h3l1,1v1l-1,1h-3v1h1l1,1v1h7v-1l1-1h5l1,1v1h1l1,1v3h1l1,1v1h1v-1l1-1h1l1,1v1h1l1,1v1h1l1,1v1h1l1,1v1h3l1,1v9h1l1,1v7h5l1,1v1l-1,1h-3v1h5l1,1v1h1v-1l1-1h3v-3l1-1h3l1,1v1h1l1,1v1h1v-1l1-1h1l1,1v1h1l1,1v1h1v-1l1-1h3l1,1v1h3l1,1v1l-1,1h-1v1l-1,1h-1v1h1v-1l1-1h7l1,1v1h1l1,1v1h1l1,1v1h1l1,1v1h1l1,1v3h5l1,1v3h1l1,1v1h3v-1h-1l-1-1v-1l1-1h1v-1l1-1h3l1,1v1h1l1,1v5h3v-3l1-1h1v-1l1-1h1v-1l1-1h1v-1l1-1h1l1,1v5l-1,1h-3v5h3l1,1v1h11v-3l1-1h3l1,1v3h1l1,1v1h1l1,1v3h1l1,1v7l-1,1h-1v3l-1,1h-1l-1-1v-1h-3l-1-1v-3h-5v1l-1,1h-3v5h1l1,1v1h1l1,1v3h1l1,1v3l-1,1h-3v3h1v-1l1-1h1v-1l1-1h1l1,1v1h1v-1l1-1h1v-3l1-1h3v-1h-1l-1-1v-3l1-1h3l1,1v1h3l1,1v1h1v-1l1-1h1l1,1v7h3l1,1v1h7l1,1v1h7v-1l1-1h1l1,1v3h1v-1l1-1h1v-1l1-1h5v-1l1-1h3l1,1v1h3v-1h-1l-1-1v-7l1-1h1v-1l1-1h1v-1l1-1h3l1,1v1h5l1,1v1h5v-1l1-1h1v-1l1-1h1l1,1v1h1l1,1v1h1l1,1v5h5v-1h-1l-1-1v-1l1-1h3l1,1v1h1v-5l1-1h1v-3h-1v1l-1,1h-1l-1-1v-1h-3l-1-1v-3h-1l-1-1v-1h-1v1l-1,1h-1v3l-1,1h-5l-1-1v-5h-1l-1-1v-1h-5l-1-1v-1h-1l-1-1v-1h-3l-1-1v-1h-7v1l-1,1h-3l-1-1v-1h-1l-1-1v-1h-1v1l-1,1h-3l-1-1v-3l1-1h1v-1l1-1h3v-1h-1l-1-1v-1l1-1h1v-1h-1l-1-1v-1l1-1h1v-3h-1l-1-1v-5h-3v1l-1,1h-7v1l-1,1h-5v5l-1,1h-3l-1-1v-1h-5l-1-1v-3l1-1h1v-1h-1l-1-1v-3h-1l-1-1v-1h-1l-1-1v-1h-1v3l-1,1h-1l-1-1v-3h-3l-1-1v-7h-1v1l-1,1h-1l-1-1v-5h-1v1l-1,1h-1l-1-1v-5l1-1h1v-3h-1l-1-1v-3h-1l-1-1v-1h-3l-1-1v-1h-5l-1-1v-1h-1l-1-1v-1h-1l-1-1v-3h-1l-1-1v-1h-3l-1-1v-1h-1l-1-1v-1h-1l-1-1v-1h-3l-1-1v-1h-1l-1-1v-1h-1l-1-1v-1h-3l-1-1v-3h-1l-1-1v-7h-1v1l-1,1h-1l-1-1v-1h-1l-1-1v-1l1-1h1v-3h-1v1l-1,1h-3v1l-1,1h-1l-1-1v-5h-8l-1-1l-1,1h-3l-1-1h-3l-1-1h-3v1l-1,1h-1l-1-1v-2h-1v2l-1,1h-3v1l-1,1h-3l-1-1v-1h-1l-1-1v-3l-1-1h-2v2l-1,1h-3l-1-1v-1l1-1h1l-1-1h-2v1l-1,1h-7l-1-1v-1h-1l-1-1v-1h-5l-1-1h-6l-1-1h-5l-1-1h-5l-1-1h-6l-1-1h-5l-1-1zM563,296l1-1h1l1,1v1l-1,1h-1l-1-1zM521,292l1-1h3l1,1v1l-1,1h-3l-1-1zM535,288l1-1h1l1,1v1l-1,1h-1l-1-1zM561,286l1-1h1l1,1v1l-1,1h-1l-1-1zM561,274l1-1h3l1,1v1h1l1,1v5l-1,1h-1v1l-1,1h-1l-1-1v-1h-1l-1-1v-3h-1v1l-1,1h-1l-1-1v-3l1-1h3zM551,272l1-1h1l1,1v1l-1,1h-1l-1-1zM539,264l1-1h1l1,1v1h3l1,1v3h1l1,1v7l-1,1h-7l-1-1v-1h-3l-1-1v-1h-1l-1-1v-3l1-1h1v-1l1-1h1v-1l1-1h1zM511,260l1-1h1l1,1v1l-1,1h-1l-1-1zM559,252l1-1h3l1,1v9l-1,1h-5l-1-1v-7l1-1h1zM501,248l1-1h5l1,1v3l-1,1h-3v3l-1,1h-1l-1-1v-1h-1l-1-1v-3l1-1h1zM437,230l1-1h3l1,1v1l-1,1h-3l-1-1zM443,226l1-1h3l1,1v1l-1,1h-3l-1-1zM435,224l1-1h1l1,1v1h1l1,1v1l-1,1h-3l-1-1zM473,188l1-1h1l1,1v1l-1,1h-1l-1-1zM467,184l1-1h5l1,1v3l-1,1h-3v1l-1,1h-1l-1-1v-1h-1l-1-1v-1l1-1h1zM256,144v1l-1,1h-5v1h1l1,1v5h3v-1l1-1h5v-1l1-1h1v-3h-1l-1-1v-1zM238,142v3h1v-3zM244,136v1l-1,1h-3v1h3v-1l1-1h1l1,1v1h1v-3zM214,130v1h5v-1zM204,122v5h1v-5zM134,102v7h4l1,1l-1,1h-3l-1,1h-2l-1,1h-3v9l1,1v1l-3,3l-1-1h-1l-1-1h-1l-2-2h-1l-1-1h-1l-1-1h-1l-1-1h-1l-1-1h-1l-2-2h-1l-1-1h-1l-2-2h-1l-2-2h-1l-1-1h-3v4l-1,1h-1v5l-1,1h-1v16l1,1v8l1,1v11l-1,1v3l-1,1v3l-1,1v3l-1,1v5l-1,1v5l-1,1v5l-1,1v4l-1,1v5l-1,1v3l-1,1v2l-1,1v2l-1,1v2l-1,1v2l-1,1v2l-1,1v1l-1,1v1l-1,1v1l-1,1v1l-1,1v1l-1,1v1l-1,1v2l-1,1v1l-1,1v2l-1,1v1l-1,1v2l-1,1v1l-1,1v2l-1,1v1l-1,1v1l-1,1v1l-1,1v1l-2,2v1l-1,1v1l-1,1v1l-2,2v1l-1,1v1l-2,2v1l-2,2v1l-1,1v1l-2,2v1l-2,2v1l-1,1v3l-1,1v6l-1,1v9l-1,1v9l-1,1v2h1l1,1v1h5v-1l1-1h1v-1l1-1h7v-1l1-1h1v-1l1-1h1v-1l1-1h1v-1l1-1h1v-5l1-1h1v-1l1-1h1v-1l1-1h5l1,1v1h3l1,1v1h1l1,1v1h3l1,1v1h3v-1l1-1h9v-3l1-1h1v-1l1-1h1v-1l1-1h5v-1l1-1h5v-1l1-1h1v-3l1-1h1v-1l1-1h1v-3l1-1h1v-13l1-1h1v-3h-1l-1-1v-3l1-1h1v-3h-1l-1-1v-19l1-1h1v-1l1-1h1v-5l1-1h1v-3l1-1h1v-1l1-1h1v-7l1-1h1v-3l1-1h1v-3l1-1h1v-7l1-1h1v-1l1-1h1v-3l1-1h1v-1l1-1h1v-1l1-1h1v-1l1-1h5v-1l1-1h5l1,1v1h5v-1l1-1h7v-1l1-1h19v-1l1-1h11l1,1v1h15v-1l1-1h1v-1l1-1h7v-1l1-1h1v-1l1-1h7l1,1v1h7l1,1v1l-1,1h-1v3h1l1,1v3l-1,1h-1v3h1l1,1v9h1l1,1v1l-1,1h-1v5h1l1,1v3l-1,1h-1v7l-1,1h-1v1l-1,1h-1v5l-1,1h-1v3h1l1,1v1h5l1,1v3l-1,1h-1v5h1l1,1v3h1v-1l1-1h1l1,1v3h15v-1l1-1h3l1,1v5h1l1,1v1h5v-1l1-1h3v-1l1-1h1v-1l1-1h3v-3l1-1h3v-1l1-1h7v-1l1-1h3l1,1v1h7l1,1v3l-1,1h-3v1h1l1,1v3l-1,1h-1v5h1l1,1v3l-1,1h-1v3l-1,1h-1v1h3l1,1v1h1l1,1v5l-1,1h-1v5l-1,1h-1v1h5l1,1v1h5l1,1v1h1l1,1v5h1v-3l1-1h1v-1l1-1h1l1,1v3l-1,1h-1v1h1l1,1v1h1v-3l1-1h1v-1h-1l-1-1v-1l1-1h3l1,1v1h5v-1l1-1h3l1,1v1h3v-3l1-1h3l1,1v1h1v-3l1-1h1v-9h-1l-1-1v-5h-3l-1-1v-1h-7l-1-1v-3l1-1h1v-1h-1l-1-1v-1h-5v1l-1,1h-3l-1-1v-1l1-1h1v-3l1-1h1l1,1v1h1v-1l1-1h1v-1h-1l-1-1v-3h-13l-1-1v-1h-3l-1-1v-1h-1l-1-1v-1h-3l-1-1v-1h-1l-1-1v-5h-1v1l-1,1h-1v1l-1,1h-3l-1-1v-5h-1l-1-1v-1h-1l-1-1v-3h-1l-1-1v-3h-1l-1-1v-1h-1l-1-1v-1h-1l-1-1v-5h-5l-1-1v-1h-5l-1-1v-3h-1l-1-1v-1h-1l-1-1v-3l1-1h1v-1h-1v1l-1,1h-5l-1-1v-3h-1l-1-1v-1l1-1h3l1,1v1h1v-3h-1l-1-1v-1h-1l-1-1v-1l1-1h3v-1l1-1h5v-3l1-1h1v-1l1-1h1v-1l1-1h5v-5h-1l-1-1v-1h-1l-1-1v-3h-1l-1-1v-1l1-1h1v-1h-5l-1-1v-1h-1v1l-1,1h-1l-1-1v-3l1-1h1v-3l1-1h1l1,1v1h1l1,1v3h3v-5l1-1h1v-1l1-1h1v-3h-1l-1-1v-1h-1l-1-1v-1h-1l-1-1v-3h-1v3l-1,1h-1v1l-1,1h-3l-1-1v-1h-1l-1-1v-1h-1v1l-1,1h-1v1h1l1,1v1l-1,1h-13v1l-1,1h-1v1l-1,1h-1v1l-1,1h-1v1l-1,1h-3v1l-1,1h-7v1l-1,1h-1v1l-1,1h-1v1l-1,1h-1v1l-1,1h-1l-1-1v-1h-11l-1-1v-1l1-1h3v-1h-5l-1-1v-1h-3v1l-1,1h-1l-1-1v-1h-1v1l-1,1h-1l-1-1v-7l1-1h1v-1h-3v1l-1,1h-3l-1-1v-1h-3l-1-1v-1h-1l-1-1v-15h-3l-1-1v-5h-1l-1-1v-3h-1l-1-1v-1l1-1h1l-1-1v1l-1,1h-3l-1-1v-1h-3l-1-1v-1h-1l-1-1h-2l-1-1h-3l-1-1h-2l-1-1h-3l-1-1h-3l-1-1h-2l-1-1h-3l-1-1h-3l-1-1h-2l-1-1h-3l-1-1h-2l-1-1h-3l-1-1h-3l-1-1v-2zM349,272l1-1h3l1,1v1h1l1,1v1l-1,1h-1v3l-1,1h-1v1h1l1,1v1l-1,1h-1v1l-1,1h-1v1l-1,1h-3l-1-1v-7l1-1h1v-1l1-1h1zM273,200l1-1h1l1,1v3l-1,1h-1l-1-1zM259,200l1-1h1l1,1v1l-1,1h-1l-1-1zM271,194l1-1h3l1,1v3l-1,1h-1l-1-1v-1h-1l-1-1zM265,184l1-1h3l1,1v1l-1,1h-3l-1-1zM257,184l1-1h1l1,1v1l-1,1h-1l-1-1zM261,170l1-1h3l1,1v1l-1,1h-1v1l-1,1h-3l-1-1v-1l1-1h1zM287,166l1-1h1l1,1v5l-1,1h-1l-1-1z"/>
<path fill="#ffffff" fill-rule="evenodd" d="M672,876v3l-1,1h-1v1l-1,1h-1v9h1l1,1v1h1l1,1v1h1v-3l1-1v-3l1-1v-1h-1l-1-1v-1l1-1h1v-5l1-1h1v-1zM902,798v5l-1,1h-1v9l-1,1h-1v1l-1,1h-3v1l-1,1h-2v1l1,1h11v-1l1-1v-3l1-1v-3l1-1v-6l-1-1v-1l-1-1v-1l-1-1v-1zM828,792v1l-1,1h-3v1l-1,1h-13v1l-1,1h-1v5h7l1,1v5l-1,1h-3v1l-1,1h-7l-1-1v-1h-9l-1-1v-1h-11v1l-1,1h-3v1l-1,1h-3h14l1,1h3l1,1h4l1,1h3l1,1h4l1-1h9l1-1h1l1-1h2l1,1h1l2,2h1l1,1h4l1-1h4l1-1l1,1v1l3,3v1l1,1h1l2,2h1l2,2h1l2,2h1l2,2h4l1-1h1l1-1h-5l-1-1v-1h-1l-1-1v-3h-1l-1-1v-5h-1l-1-1v-1h-3l-1-1v-1h-1l-1-1v-1h-1l-1-1v-1l1-1h1v-5h-1l-1-1v-1h-1l-1-1v-1h-1l-1-1v-1h-1l-1-1v-1h-3l-1-1v-1zM480,758v3l-1,1h-1v1l-1,1h-5v1h1l1,1v7h1l1,1v5h1l1,1v1l-1,1h-1v1h1v-1l1-1h3v-1l1-1h1v-1l1-1h1v-7h-1l-1-1v-1l1-1h1v-5h-3l-1-1v-3zM526,750v1l-1,1h-1v1h3v-3zM502,740v3h5v-1h-1l-1-1v-1zM376,716v3h3v-3zM390,698v1l-1,1h-1v15h3v-1l1-1h7v-1l1-1h1v-3l1-1h1v-5h-1l-1-1v-1h-7l-1-1v-1zM428,682v1l-1,1h-1v3l-1,1h-1v1l-1,1h-1v1l-1,1h-3l-1-1v-1h-3v3h1l1,1v3h1l1,1v1h1l1,1v1h1v-1l1-1h1v-1l1-1h9l1,1v3h1l1,1v1h5v-1l1-1h5v-1h-1l-1-1v-3h-1l-1-1v-5h-1l-1-1v-3h-1l-1-1v-1h-5l-1-1v-1zM426,660v1l-1,1h-1v1h1l1,1v5h1v-3l1-1h1l1,1v1h1v-7zM434,642v7h1l1,1v1h1v-5l1-1h1v-3zM568,608v1l-1,1h-1v3h3v-5zM420,596v3l-1,1h-1v3h1l1,1v1h1l1,1v1h3v-1h-1l-1-1v-3l1-1h1v-1h-1l-1-1v-3zM544,592v1l-1,1h-1v1h1l1,1v1l-1,1h-1v1h7v-1h-1l-1-1v-5zM562,584v3h3v-1h-1l-1-1v-1zM572,576v5l-1,1h-1v1h1l1,1v1h9v-1h-1l-1-1v-3l1-1h1v-1h-5l-1-1v-1zM860,572v3h3v-1l1-1h1v-1zM450,572v1h1l1,1v1h3v-1h-1l-1-1v-1zM864,566v1h3v-1zM930,540v1h1l1,1v1h1v-3zM956,526v3h1v-3zM574,526v11h1v-3l1-1h1v-7zM1102,524v3h1v-1l1-1h1v-1zM596,524v1l-1,1h-1v1l-1,1h-3l-1-1v-1h-3v3l-1,1h-1l-1-1v-1h-1v1l-1,1h-1v7h1l1,1v5l-1,1h-1v1h1v-1l1-1h9l1,1v1h5l1,1v1h3v-3l1-1h1v-3l1-1h1v-1l1-1h1v-3h-1l-1-1v-3l1-1h1v-3h-3v3l-1,1h-3l-1-1v-5zM1078,518v3h1v-3zM590,516v1h3v-1zM974,512v1l-1,1h-1v1h3v-3zM696,506v1l-1,1h-1v1l-1,1h-5v1l-1,1h-5v1l-1,1h-1v1l-1,1h-3v1h1l1,1v1h1l1,1v3l-1,1h-1v3h9v-1l1-1h1v-1l1-1h1v-3l1-1h3v-1l1-1h7v-7h-1l-1-1v-1h-1l-1-1v-1zM685,518l1-1h3l1,1v1l-1,1h-3l-1-1zM691,514l1-1h1l1,1v1l-1,1h-1l-1-1zM693,510l1-1h7l1,1v1l-1,1h-7l-1-1zM528,498v9h3v-1l1-1h1v-5h-3l-1-1v-1zM514,496v3h1v-3zM460,494v3l-1,1h-1v5l-1,1h-1v5l-1,1h-1v3h3l1,1v1l-1,1h-1v1l-1,1h-1v5l-1,1h-1v1l-1,1h-1v3l-1,1h-1v1h5l1,1v5l-1,1h-1v1l-1,1h-3l-1-1v-1h-5v3l-1,1h-1v3h1l1,1v1l-1,1h-1v1h1l1,1v1h1l1,1v1h1l1,1v1h1l1,1v1h1v-1l1-1h1l1,1v3h1l1,1v1h7l1,1v1h1v-1l1-1h1v-5l1-1h1v-3h-1l-1-1v-7h-1l-1-1v-1h-1l-1-1v-3l1-1h3l1,1v3h3l1,1v5h1v-1l1-1h1v-1l1-1h5v-1l1-1h15v-3l1-1h1v-1l1-1h1v-3l1-1h3l1,1v3h3v-1l1-1h3l1,1v1h1l1,1v1h1l1,1v1h1l1,1v1h3v-1l1-1h3v-7h-1l-1-1v-1h-1l-1-1v-1h-3l-1-1v-1h-7l-1-1v-1h-1v1l-1,1h-21l-1-1v-1h-1v1l-1,1h-7l-1-1v-1h-3l-1-1v-1l1-1h1v-7l1-1h3v-1h-1l-1-1v-1l1-1h1v-1h-1v1l-1,1h-1v1l-1,1h-1l-1-1v-1h-1l-1-1v-1h-1l-1-1v-1h-1l-1-1v-1l1-1h1v-7h-3l-1-1v-1zM497,530l1-1h1l1,1v1l-1,1h-1l-1-1zM488,484v3h1v-3zM672,476v1h7v-1zM480,474v3h3v-1l1-1h1v-1zM534,460v1l-1,1h-1v1l-1,1h-3v3l-1,1h-1v3l-1,1h-1v5l-1,1h-1v1h1l1,1v1h1l1,1v3h1l1,1v1h1l1,1v1h1l1,1v3h5v-3l1-1h1v-1l1-1h1v-1h-1l-1-1v-1l1-1h1v-1l1-1h1v-7h-1l-1-1v-1h-3l-1-1v-1l1-1h3v-7h-1v1l-1,1h-1v1l-1,1h-1v1l-1,1h-1l-1-1v-3l1-1h1v-3zM537,478l1-1h1l1,1v1l-1,1h-1l-1-1zM508,460v1l-1,1h-1v1h3l1,1v1h3v-1l1-1h1v-1l1-1h1v-1zM1060,458v3l-1,1h-1v1h1l1,1v5l-1,1h-1v3h3l1,1v1l-1,1h-1v1l-1,1h-1v1l-1,1h-1v9h5v-1l1-1h7v-9l1-1h3v-5h-1l-1-1v-3l1-1h1v-3l1-1h1v-3h-1l-1-1v-1h-1v1l-1,1h-3l-1-1v-1zM1065,474l1-1h1l1,1v1l-1,1h-1l-1-1zM520,456v1h3v-1zM678,440v1h3v-1zM686,438v3h3v-1h-1l-1-1v-1zM1134,436v1l-1,1h-1v1h1l1,1v1h1v-1l1-1h1v-3zM696,430v3h3v-3zM1228,424v1l-1,1h-5v1l-1,1h-3v1l-1,1h-1v3l-1,1h-1v1l-1,1h-7v1l-1,1h-1v5l-1,1h-1v1l-1,1h-7v1l-1,1h-3v1l-1,1h-3v1l-1,1h-3v1l-1,1h-1v1l-1,1h-1v1l-1,1h-1v1l-1,1h-1v3l-1,1h-1v1l-1,1h-3v1l-1,1h-1v1l-1,1h-7v1l-1,1h-3l-1-1v-3l1-1h1v-1l1-1h3v-5h-1l-1-1v-1h-5v7l-1,1h-1v5l-1,1h-1v3l-1,1h-1v3l-1,1h-1v1l-1,1h-1v5l-1,1h-3v1l-1,1h-1v3l-1,1h-3v1l-1,1h-3l-1-1v-1h-1l-1-1v-1h-5v1l-1,1h-1v1h1l1,1v1l-1,1h-1v5l-1,1h-1v1h1l1,1v3l-1,1h-3l-1-1v-1h-3v3h1l1,1v1h5l1,1v3l-1,1h-1v1l-1,1h-5v1l-1,1h-1v3h1l1,1v1l-1,1h-3v1l-1,1h-5v1l-1,1h-1v1l-1,1h-3v1l-1,1h-5l-1-1v-1h-3l-1-1v-1h-1l-1-1v-1l1-1h1v-1l1-1h1v-1h-3v1l-1,1h-1v1l-1,1h-5l-1-1v-3l1-1h1v-1h-1v1l-1,1h-5l-1-1v-3h-1l-1-1v-1h-1l-1-1v-3h-1l-1-1v-1h-1l-1-1v-1h-1l-1-1v-1h-1l-1-1v-7l1-1h1v-3h-5l-1-1v-1h-19v1l-1,1h-3v1l-1,1h-1v1l-1,1h-3v1l-1,1h-1v1l-1,1h-11l-1-1v-1h-9l-1-1v-1h-5v5l-1,1h-1v1l-1,1h-1v1l-1,1h-1v3l-1,1h-1v1l-1,1h-1v5h1l1,1v1h1l1,1v3h3l1,1v3l-1,1h-3v1l-1,1h-1l-1-1v-1h-1v3l-1,1h-5l-1-1v-3h-5v1l-1,1h-1v1l-1,1h-3v1l-1,1h-1v1l-1,1h-3v1l-1,1h-5l-1-1v-1l1-1h3v-1l1-1h1v-1l1-1h1v-1l1-1h3v-1l1-1h1v-1h-5v1l-1,1h-5v1l-1,1h-1l-1-1v-3h-1v5l-1,1h-1v1l-1,1h-1v1l-1,1h-1v3l-1,1h-3l-1-1v-3h-1v3l-1,1h-7v1l-1,1h-3l-1-1v-1h-1v1l-1,1h-3l-1-1v-3h-1l-1-1v-3h-5v3l-1,1h-1v1l-1,1h-1v1l-1,1h-5l-1-1v-1h-1l-1-1v-1h-7v1l-1,1h-3v1l-1,1h-1v1l-1,1h-3v7l-1,1h-1v3h3l1,1v3l-1,1h-3v3l-1,1h-1v1l-1,1h-3v1l-1,1h-3v5l-1,1h-3v1l-1,1h-1v1l-1,1h-7v3l-1,1h-1v3h1l1,1v3l-1,1h-1v1l-1,1h-7l-1-1v-1l1-1h1v-1h-1l-1-1v-1h-1v1l-1,1h-7v5l-1,1h-1v1l-1,1h-5v1l-1,1h-3v1l-1,1h-3v3l-1,1h-1v1l-1,1h-5v1l-1,1h-5v1l-1,1h-3v1l-1,1h-3v1l-1,1h-5l-1-1v-1h-1l-1-1v-1h-1l-1-1v-1h-3v1l-1,1h-5v1l-1,1h-13v1l-1,1h-9l-1-1v-3l1-1h1v-1l1-1h1v-1h-1v1l-1,1h-3v1l-1,1h-1v1l-1,1h-3v1l-1,1h-3v1l-1,1h-1v1l-1,1h-3v1l-1,1h-7v1l-1,1h-3v1l-1,1h-1v1l-1,1h-1l-1-1v-1h-3v1l-1,1h-3l-1-1v-1h-5l-1-1v-1h-1l-1-1v-5h-1l-1-1v-7l1-1h1v-1h-1l-1-1v-5h-1l-1-1v-9l1-1h1v-3l1-1h1v-9l1-1h1v-25h-3l-1-1v-1l1-1h1v-1h-1l-1-1v-3h-3v3l-1,1h-1l-1-1v-1h-1v1l-1,1h-3l-1-1v-1h-1v1l-1,1h-1v1l-1,1h-5l-1-1v-3h-5v1l-1,1h-9v1l-1,1h-3v1l-1,1h-1v3l-1,1h-1v1l-1,1h-1v3l-1,1h-1v1h3l1,1v1h1l1,1v1h1l1,1v1h3l1,1v3l-1,1h-1v3h3l1,1v1h7l1,1v1h1l1,1v1h1l1,1v5h1l1,1v5l-1,1h-11l-1-1v-1h-1v1l-1,1h-5v1l-1,1h-7v1l-1,1h-1v1l-1,1h-5v1l-1,1h-3v3l-1,1h-1v5h3l1,1v1l-1,1h-1v1l-1,1h-1v1l-1,1h-1l-1-1v-1h-9v1l-1,1h-1v1h1l1,1v1l-1,1h-1v5h1l1,1v11l-1,1h-1v5l-1,1h-1v1h1l1,1v1h3l1,1v1l-1,1h-3v5l-1,1h-5v1l-1,1h-3v1l-1,1h-1v1l-1,1h-1v1l-1,1h-3v1l-1,1h-1v3l-1,1h-1v5l-1,1h-1v1l-1,1h-1v1l-1,1h-1v3l-1,1h-1v1l-1,1h-1v1l-1,1h-1v1l-1,1h-1v9l-1,1h-1v5l-1,1h-1v1l-1,1h-1v1l-1,1h-1v1l-1,1h-1v3l-1,1h-3v1l-1,1h-1v1l-1,1h-3l-1-1v-1h-1v1h1l1,1v1h1l1,1v3l-1,1h-3v3l-1,1h-1v1l-1,1h-3v1l-1,1h-5v1l-1,1h-3v1l-1,1h-1v1l-1,1h-1v1l-1,1h-1v3l-1,1h-1v1l-1,1h-1l-1-1v-1h-1v1l-1,1h-3v7l-1,1h-3v1l-1,1h-3v1l-1,1h-1v1l-1,1h-1v3l-1,1h-3v1l-1,1h-3v1l-1,1h-1v1l-1,1h-1v1l-1,1h-3v3l-1,1h-1v1l-1,1h-1v7l-1,1h-1v1l-1,1h-7v1l-1,1h-3v1l-1,1h-1v1l-1,1h-1v5h1l1,1v5h1l1,1v1h1l1,1v1l-1,1h-1l1,1h1l2,2h1l2,2v-1l1-1h3l1,1v1h1l1,1v1h1l1,1v1h1l1,1h1v-4h-1l-1-1v-5l1-1h1v-1l1-1h3v-1l1-1h1v-1l1-1h1v-1l1-1h1v-1l1-1h1v-3l1-1h1v-1l1-1h3v-1l1-1h13l1,1v1h1l1,1v1h3l1,1h1l1,1h2l1,1h3l1,1h6l1,1v1h1v-1l1-1h1l1,1v3h1l1,1v1h1l1,1v1h1l1,1v1h1l1,1v1h1l1,1v1h1l1,1v3h3l1,1v1h1l1,1v1h1l1,1v1h1l1,1v5h1l1,1v3l-1,1h-5v3h1l1,1v3h1l1,1v1h3l1,1v1h1l1,1v5h1l1,1v1h1l1,1v1h1l1,1v1h3l1,1v3h1l1,1v9h1l1,1v1h5l1,1v1h1l1,1v1l-1,1h-1v7l-1,1h-1v1h1l1,1v3h3l1,1v1h1l1,1v1l-1,1h-3v1l-1,1h-1v1h1l1,1v3l1,1v1l1,1v1h1l1,1h2l1,1h1l1,1h1l1,1h1l1,1h2l1-1h3v-1l1-1h1v-1l1-1h1v-1l1-1h1v-1l1-1h1l1,1v3h1l1,1v5l-1,1h-1v1l-1,1h-3l1,1h1l1,1h2l1,1h1v-5l1-1h1v-1l1-1h3v-1l1-1h1l1,1v3l-1,1h-1v1l-1,1h-1v3l-1,1h-1l1,1h3l1,1h2l1,1h7v-1l1-1h1v-3l1-1h1v-7h-1l-1-1v-1h-1l-1-1v-5h-1l-1-1v-3h-1l-1-1v-5h-1l-1-1v-7l1-1h1v-1l1-1h1v-1h-3l-1-1v-1h-1v1l-1,1h-1l-1-1v-3h-1l-1-1v-1h-1l-1-1v-5l1-1h1v-1l1-1h1v-5l1-1h1v-3h-1l-1-1v-3l1-1h1v-1l1-1h3v-1l1-1h3v-1l1-1h3v-1l1-1h3l1,1v1h1l1,1v1h3l1,1v1h1v-3h-3l-1-1v-1h-3l-1-1v-1h-1l-1-1v-17l1-1h5v-1l1-1h5l1,1v1h1l1,1v1h1l1,1v1h7l1,1v1h1l1,1v1h1l1,1v1h3l1,1v3h1l1,1v1h3l1,1l2-2h1l2-2h1l2-2h1l2-2h1l2-2h1l4-4h1l3-3h1l12-12h2l1-1h2l1-1h2l1-1h2l1-1h1v-1l1-1h1v-7l1-1h1v-9l1-1h1v-1l1-1h1v-1l1-1h3v-1l1-1h3v-1l1-1h3v-1l1-1h7v-1l1-1h1v-1l1-1h5v-1l1-1h3v-1l1-1h3v-1l1-1h5v-1l1-1h1v-1l1-1h1v-3l1-1h1v-1l1-1h1v-1l1-1h1v-1l1-1h1v-1l1-1h1v-1l1-1h1v-1l1-1h1v-1l1-1h5v-1l1-1h1l1,1v1h3l1,1v1h1l1,1v1h1l1,1v1h23l1,1v1h9v-1l1-1h1v-3h-1l-1-1v-1h-3l-1-1v-1h-3l-1-1v-3l1-1h1v-3l1-1h1v-1l1-1h1v-1h-1l-1-1v-5l1-1h1v-3l1-1h1v-7l1-1h1v-1l1-1h3v-1l1-1h1v-3l1-1h1v-1l1-1h1v-1l1-1h1v-1l1-1h1v-1l1-1h1v-1l1-1h1v-1l1-1h1v-3l1-1h1v-1l1-1h1v-1l1-1h1v-1l1-1h1v-1l1-1h3v-3l1-1h1v-1h-1l-1-1v-9l1-1h1v-1l1-1h1v-1l1-1h7v-1l1-1h11v-1l1-1h3v-1l1-1h1v-1l1-1h1v-1l1-1h1v-1l1-1h9l1,1v1h1l1,1v1h11l1,1v1h1l1,1v1h1l1,1v3l-1,1h-1v7l-1,1h-1v1l-1,1h-1v1l-1,1h-1v7h3v-1l1-1h1l1,1v5h1l1,1v9l-1,1h-1v1l-1,1h-1l-1-1v-1h-5l-1-1v-3h-9v1l-1,1h-1v7l-1,1h-1v5l-1,1h-3v13l-1,1h-1v1l-1,1h-5l-1-1v-1h-1v15l-1,1h-1v1l-1,1h-1v1l-1,1h-3v19h1l1,1v1l-1,1h-1v1l-1,1h-1v3l-1,1h-9v1l-1,1h-9v1l-1,1h-3l-1-1v-3h-1l-1-1v-3h-5v1l-1,1h-1v5h1l1,1v3h1l1,1v1h1l2-2h7l1-1h19l6-6v-1l1-1l1,1v1l1,1h6l1,1h5l1,1h4l1-1h5l1-1h5l1-1h19l1,1h2l1,1h3l1,1h2l1,1h2l3,3v1l3,3v1l3,3h1l3,3h4l1-1h9l1-1h1l1-1h1l1-1h1l2-2h1l1-1h1l1-1h1l1-1v-1l1-1v-1l2-2v-1l1-1h5l2,2h1l3,3h1l3,3h1l13,13h1l3,3h1l4,4v1l3,3v1l2,2v2l1,1v8l-1,1v2l-1,1v9l1,1v5l1,1v1l2,2v1l2,2v1l7,7v1l4,4v1l3,3v1l1,1v1l1,1h1l1,1v1h3l1,1v1h1l1,1v8l1,1h2l2,2v1l3,3v1l5,5h2l1,1v3h1l1,1h1l1,1h1l1,1h1l1,1h1l2,2v1l2,2v1l2,2h2l1,1v3h1l1,1v2l3,3h1l1,1h1l2,2l-1,1h-2l-2,2h-1l-2,2h-5l-1,1h-6l-2,2h-1l-3,3h-1l-1,1v3h1l1,1v2l1,1h4l1-1h1l2-2h1l1-1h1l2-2v-1l3-3l1,1v1h3v-1l1-1h1v-1l1-1h3v-1l1-1h3v-1l1-1h2l2-2h1l1-1v-2l3-3v-1l2-2v-1l1-1v-3l1-1v-2l1-1v-29l-1-1v-7h-1l-1-1v-3h-1l-1-1v-11h-1l-1-1v-1h-1l-1-1v-1h-3v9l-1,1h-3l-1-1v-1h-3l-1-1v-1h-3l-1-1v-9l1-1h5l1,1v3h3v-3h-1l-1-1v-3h-7v1l-1,1h-1l-1-1v-1h-1l-1-1v-3h-3l-1-1v-3l1-1h1v-1l1-1h1l1,1v1h1v-1l1-1h3l1,1v1h3v-3l-1-1v-1l-1-1v-1l-1-1v-1l-1-1v-2l-1-1v-1l-1-1v-2l-1-1v-1l-1-1v-2l-1-1v-1l-1-1v-1l-1-1v-1l-2-2v-1l-3-3v-1l-2-2v-1l-2-2v-1l-1-1v-1l-2-2v-1l-1-1v-1l-1-1v-1l-2-2v-1l-1-1v-1l-2-2v-1l-1-1v-1l-2-2v-1l-1-1v-1l-2-2v-1l-1-1v-1l-1-1v-1l-1-1v-2l-1-1v-1h-1v1l-1,1h-5v1l-1,1h-5l-1-1v-1h-1l-1-1v-5l1-1h3v-1l1-1h7l1,1v1h2l-1-1v-2l-1-1v-3l-1-1v-3l-1-1v-4l-1-1v-1l1-1v-7l1-1v-5l1-1v-3l1-1v-3l1-1v-2l1-1v-1l2-2v-1l3-3v-1l1-1v-1l1-1v-1l1-1v-1l1-1v-1l1-1v-1l33-33v-1l1-1v-2l1-1v-1l1-1v-2l1-1v-1l1-1v-1l1-1v-1l1-1v-1l3-3h1l2-2h1l2-2h1l2-2h3l1-1h3l1-1h3v-9l1-1v-1l2-2v-1l1-1v-1l3-3h1l4-4h1l3-3h1l2-2h2l1-1h2l1-1h2l1-1h2l2-2h1v-1l1-1h1v-1l1-1h1v-3l1-1h1v-1l1-1h1v-5l1-1h1v-1l1-1h1v-1l1-1h3v-1l1-1h2l2-2v-5l-1-1v-1h-3l-1-1v-1h-1l-1-1v-1h-3v3l-1,1h-1l-1-1v-1h-3v1l-1,1h-3v1l-1,1h-5l-1-1v-1h-1l-1-1v-1l1-1h1v-3l1-1h1v-1l1-1h1v-1l1-1h3v-11l1-1h1l1,1v1h1v-10l-3-3v-1l-1-1v-1l-1-1v-2l-1-1v-3l-1-1v-7l1-1v-4l1-1v-3l1-1v-2l1-1v-3l1-1v-2l1-1v-2l1-1v-1l1-1v-4l1-1v-4l1-1v-3l1-1v-8l-1-1v-4l-1-1v-5l1-1v-2l3-3v-1l1-1v-1l1-1v-1l1-1v-1l1-1v-2l1-1v-1l1-1v-11h-1l-1-1v-1h-1l-1-1v-1h-1l-1-1v-1zM623,912l1-1h3l1,1v5l-1,1h-3l-1-1v-1h-1l-1-1v-1l1-1h1zM643,904l1-1h3l1,1v5h1l1,1v3l-1,1h-5l-1-1v-1h-1l-1-1v-3l1-1h1zM1163,900l1-1h3l1,1v3l-1,1h-1l-1-1v-1h-1l-1-1zM621,898l1-1h1l1,1v1l-1,1h-1l-1-1zM625,888l1-1h1l1,1v5l-1,1h-1l-1-1v-1h-1l-1-1v-1l1-1h1zM621,884l1-1h3l1,1v1l-1,1h-3l-1-1zM1163,882l1-1h3l1,1v3l-1,1h-1l-1-1v-1h-1l-1-1zM1159,874l1-1h3l1,1v3l-1,1h-1v1l-1,1h-1l-1-1zM1155,870l1-1h1l1,1v5l-1,1h-3l-1-1v-3l1-1h1zM1141,870l1-1h3l1,1v1h1v-1l1-1h5l1,1v1l-1,1h-1v1l-1,1h-1v5h1l1,1v3h3l1,1v3h1l1,1v5l-1,1h-1l-1-1v-3h-5v1l-1,1h-7v1l-1,1h-1l-1-1v-11h-1l-1-1v-5l1-1h1v-3l1-1h1zM1097,842l1-1h3l1,1v1h1l1,1v1h7l1,1v1h1l1,1v5l-1,1h-1v1l-1,1h-9l-1-1v-1h-1l-1-1v-5l1-1h1v-1h-1l-1-1v-1h-1l-1-1zM713,838l1-1h1l1,1v1l-1,1h-1l-1-1zM717,836l1-1h1l1,1v1l-1,1h-1l-1-1zM1127,834l1-1h3l1,1v1h3l1,1v1h1l1,1v3l-1,1h-1v1l-1,1h-7l-1-1v-5h-1l-1-1v-1l1-1h1zM737,826l1-1h1l1,1v1l-1,1h-1l-1-1zM739,824l1-1h1l1,1v1l-1,1h-1l-1-1zM741,822l1-1h1l1,1v1l-1,1h-1l-1-1zM623,818l1-1h3l1,1v1h3l1,1v1h7l1,1v1h7l1,1v1h1l1,1v1h1l1,1v3l-1,1h-1v1l-1,1h-3v1l-1,1h-9v1l-1,1h-1v1l-1,1h-3v1l-1,1h-5v1l-1,1h-3v1l-1,1h-7l-1-1v-1h-9v1l-1,1h-1l-1-1v-1h-1l-1-1v-1h-1l-1-1v-1l1-1h1v-3h-3l-1-1v-5l1-1h1v-5l1-1h5v-1l1-1h3v-1l1-1h17zM669,804l1-1h7l1,1v1h1l1,1v3l-1,1h-3v1l-1,1h-3l-1-1v-3h-1l-1-1zM1089,788l1-1h1l1,1v1l-1,1h-1l-1-1zM533,780l1-1h1l1,1v1h1l1,1v13l-1,1h-3l-1-1v-1h-1l-1-1v-1h-1l-1-1v-1l1-1h1v-1l1-1h1v-1h-1l-1-1v-3l1-1h1zM1103,776l1-1h3l1,1v5l-1,1h-1v1l-1,1h-5l-1-1v-5l1-1h3zM733,772l1-1h1l1,1v3l-1,1h-3l-1-1v-1l1-1h1zM731,770l1-1h1l1,1v1l-1,1h-1l-1-1zM737,760l1-1h1l1,1v1l-1,1h-1l-1-1zM605,758l1-1h1l1,1v5h3v-1l1-1h3v-1l1-1h1v-1l1-1h5l1,1v7h1l1,1v3l-1,1h-1v3l-1,1h-1v1l-1,1h-5l-1-1v-1h-3v1l-1,1h-3l-1-1v-3h-3l-1-1v-1h-1l-1-1v-3h-1l-1-1v-3l1-1h1v-1l1-1h3zM1075,756l1-1h1l1,1v1l-1,1h-1l-1-1zM1069,754l1-1h3l1,1v1l-1,1h-1v3l-1,1h-1v1l-1,1h-3l-1-1v-1h-1l-1-1v-1l1-1h3v-1l1-1h1zM1057,754l1-1h3l1,1v3l-1,1h-1l-1-1v-1h-1l-1-1zM733,752l1-1h5l1,1v1l-1,1h-5l-1-1zM749,748l1-1h1l1,1v1h1l1,1v1h1l1,1v1l-1,1h-1v1l-1,1h-5l-1-1v-5l1-1h1zM1077,746l1-1h1l1,1v1l-1,1h-1l-1-1zM613,740l1-1h1l1,1v1l-1,1h-1l-1-1zM1067,718l1-1h1l1,1v1h1v-1l1-1h11l1,1v9h1l1,1v3l-1,1h-1v1l-1,1h-1v1l-1,1h-9l-1-1v-1h-1l-1-1v-1h-1l-1-1v-1h-1l-1-1v-7l1-1h1zM1083,716l1-1h1l1,1v1l-1,1h-1l-1-1zM1079,706l1-1h1l1,1v1l-1,1h-1l-1-1zM1089,702l1-1h1l1,1v7l-1,1h-1v1l-1,1h-3l-1-1v-3h-1l-1-1v-1l1-1h3v-1l1-1h1zM1081,678l1-1h3l1,1v1h13l1,1v1h3l1,1v1l-1,1h-3v1l-1,1h-1v1l-1,1h-7v1l-1,1h-3v1l-1,1h-1v1l-1,1h-3v1l-1,1h-1v3l-1,1h-3l-1-1v-3h-1l-1-1v-5l1-1h1v-1l1-1h3v-3l1-1h1v-3l1-1h1zM871,676l1-1h1l1,1v1h1l1,1v5l-1,1h-1v1l-1,1h-5l-1-1v-1h-1l-1-1v-3l1-1h3v-1l1-1h1zM669,664l1-1h1l1,1v1l-1,1h-1l-1-1zM663,664l1-1h3l1,1v1l-1,1h-3l-1-1zM699,658l1-1h3l1,1v1l-1,1h-3l-1-1zM1157,656l1-1h1l1,1v1l-1,1h-1l-1-1zM871,654l1-1h1l1,1v3l-1,1h-1l-1-1zM1013,652l1-1h5l1,1v1l-1,1h-5l-1-1zM677,650l1-1h1l1,1v1h1l1,1v3l-1,1h-1l-1-1v-1h-1l-1-1zM663,640l1-1h1l1,1v1h1v-1l1-1h1l1,1v3l-1,1h-7l-1-1v-1l1-1h1zM1141,638l1-1h1l1,1v1h1l1,1v3l-1,1h-5l-1-1v-3l1-1h1zM995,638l1-1h3l1,1v3l-1,1h-3l-1-1zM961,636l1-1h5l1,1v1l-1,1h-1v1l-1,1h-3l-1-1zM863,636l1-1h15l1,1v3h1v-1l1-1h9v-1l1-1h9l1,1v3l-1,1h-5v1l-1,1h-1v1l-1,1h-11l-1-1v-1h-3v1l-1,1h-1v1l-1,1h-3l-1-1v-1h-5l-1-1v-3l1-1h1v-1h-3l-1-1zM661,634l1-1h1l1,1v3l-1,1h-1l-1-1zM959,632l1-1h3l1,1v1l-1,1h-3l-1-1zM1105,624l1-1h1l1,1v3l-1,1h-1l-1-1zM771,622l1-1h1l1,1v1l-1,1h-1l-1-1zM1173,614l1-1h9l1,1v1h5l1,1v3l-1,1h-1v3l-1,1h-1v1l-1,1h-7l-1-1v-1h-9l-1-1v-3h-1l-1-1v-1l1-1h1v-1l1-1h5zM961,614l1-1h3l1,1v1h1l1,1v3h1l1,1v1h3l1,1v1h3l1,1v1l-1,1h-1v1l-1,1h-3v1l-1,1h-3v1l-1,1h-1l-1-1v-3h-5v1l-1,1h-5l-1-1v-1h-1l-1-1v-1h-3l-1-1v-1h-3l-1-1v-1h-1l-1-1v-3l1-1h1v-1l1-1h7l1,1v1h3l1,1v1h1v-3l1-1h3zM871,606l1-1h1l1,1v1h1l1,1v1l-1,1h-1v3l-1,1h-3v1l-1,1h-1v3l-1,1h-3v1l-1,1h-7v1l-1,1h-3l-1-1v-1h-1l-1-1v-3h-1l-1-1v-1l1-1h1v-1l1-1h9v-1l1-1h5v-1l1-1h1v-1l1-1h3zM1011,588l1-1h1l1,1v3l-1,1h-1l-1-1zM1019,586l1-1h1l1,1v1l-1,1h-1l-1-1zM1213,578l1-1h1l1,1v3h3l1,1v5l-1,1h-7v1l-1,1h-1l-1-1v-1h-1l-1-1v-1l1-1h1v-1l1-1h1v-1l1-1h1zM1221,576l1-1h1l1,1v1h3l1,1v1h1l1,1v1l-1,1h-5l-1-1v-1h-1l-1-1zM1195,574l1-1h3l1,1v1l-1,1h-1v1l-1,1h-1l-1-1zM669,574l1-1h1l1,1v1h1l1,1v3l-1,1h-5l-1-1v-3l1-1h1zM1235,570l1-1h1l1,1v1l-1,1h-1l-1-1zM1195,570l1-1h1l1,1v1l-1,1h-1l-1-1zM1207,568l1-1h1l1,1v1l-1,1h-1l-1-1zM919,568l1-1h1l1,1v1l-1,1h-1l-1-1zM1015,566l1-1h1l1,1v1l-1,1h-1l-1-1zM1093,564l1-1h1l1,1v1l-1,1h-1l-1-1zM1021,562l1-1h1l1,1v1l-1,1h-1l-1-1zM1007,562l1-1h3l1,1v1l-1,1h-1v3l-1,1h-1v1l-1,1h-1v1h3l1,1v1h3l1,1v1h3l1,1v9l-1,1h-1l-1-1v-3h-1v1l-1,1h-1v1l-1,1h-1v1l-1,1h-1v1l-1,1h-1v5l-1,1h-1v1l-1,1h-7v1l-1,1h-5v1l-1,1h-3v1l-1,1h-5l-1-1v-1h-9l-1-1v-1h-11v1l-1,1h-9l-1-1v-1h-3l-1-1v-1h-1l-1-1v-1h-7v1l-1,1h-7v1l-1,1h-1v1l-1,1h-1v1l-1,1h-5l-1-1v-1h-3l-1-1v-1h-5l-1-1v-1h-1l-1-1v-3h-1l-1-1v-1h-3v5l-1,1h-1v1l-1,1h-1v1l-1,1h-7v3h7l1,1v1h3l1,1v5l-1,1h-1v1l-1,1h-1v1l-1,1h-1v7h1l1,1v1l-1,1h-1v1l-1,1h-5v1l-1,1h-7l-1-1v-1h-7l-1-1v-7l1-1h3v-1l1-1h3l1,1v1h5v-3h-1l-1-1v-1h-1l-1-1v-3h-1l-1-1v-1l1-1h1v-1l1-1h1v-1l1-1h1v-5l1-1h1v-5l1-1h7v-1l1-1h1v-1h-1l-1-1v-5l1-1h1v-3l1-1h5v-1l1-1h1l1,1v1h7v-1l1-1h5v-1l1-1h1v-1l1-1h1v-1l1-1h11v-1l1-1h1v-1l1-1h1v-1l1-1h1v-1l1-1h5l1,1v5h1v-1l1-1h3v-1l1-1h3l1,1v1h1l1,1v1h23l1,1v1h1v-1l1-1h9l1,1v1h5v-1l1-1h1v-3l1-1h1v-1l1-1h3zM1025,560l1-1h1l1,1v1l-1,1h-1l-1-1zM883,560l1-1h1l1,1v1l-1,1h-1l-1-1zM1205,556l1-1h3l1,1v7l-1,1h-1v1l-1,1h-1v3l-1,1h-3l-1-1v-1h-1v1l-1,1h-1l-1-1v-3l1-1h1v-1l1-1h1v-5l1-1h3zM909,556l1-1h3l1,1v1l-1,1h-3l-1-1zM1221,554l1-1h3l1,1v1l-1,1h-3l-1-1zM979,554l1-1h3l1,1v1l-1,1h-1v1l-1,1h-1v1l-1,1h-5l-1-1v-1l1-1h1v-1l1-1h3zM913,554l1-1h1l1,1v1l-1,1h-1l-1-1zM1213,552l1-1h3l1,1v1l-1,1h-3l-1-1zM1053,552l1-1h1l1,1v5l-1,1h-1v1h3v-1l1-1h1l1,1v3l-1,1h-1v1l-1,1h-5l-1-1v-3h-3v1l-1,1h-1l-1-1v-5l1-1h1v-1l1-1h5zM895,552l1-1h5l1,1v1l-1,1h-1v1l-1,1h-7l-1-1v-1l1-1h3zM887,552l1-1h3l1,1v1l-1,1h-3l-1-1zM1059,550l1-1h1l1,1v1l-1,1h-1l-1-1zM941,548l1-1h3l1,1v1l-1,1h-3l-1-1zM945,546l1-1h1l1,1v1l-1,1h-1l-1-1zM1055,544l1-1h3l1,1v3l-1,1h-1l-1-1v-1h-1l-1-1zM949,544l1-1h1l1,1v1l-1,1h-1l-1-1zM1067,540l1-1h1l1,1v3l-1,1h-3l-1-1v-1l1-1h1zM981,538l1-1h3l1,1v1l-1,1h-1v1l-1,1h-1v1l-1,1h-3l-1-1v-1l1-1h1v-1l1-1h1zM1059,528l1-1h3l1,1v1l-1,1h-1v1l-1,1h-1l-1-1zM989,528l1-1h1l1,1v1l-1,1h-1l-1-1zM1113,522l1-1h1l1,1v3l-1,1h-3l-1-1v-1l1-1h1zM1139,510l1-1h3l1,1v1h1l1,1v1l-1,1h-3l-1-1v-1h-1l-1-1zM1133,506l1-1h1l1,1v1l-1,1h-1l-1-1zM1135,504l1-1h1l1,1v1l-1,1h-1l-1-1zM1167,496l1-1h1l1,1v1h1l1,1v3h1l1,1v3l-1,1h-5v1l-1,1h-1l-1-1v-1h-1v1l-1,1h-3l-1-1v-7l1-1h1v-1l1-1h5zM1147,490l1-1h3l1,1v1l-1,1h-3l-1-1zM1198,416v3h1v-3zM1200,408v3h1l1,1v1h1v-1l1-1h1v-1h-1l-1-1v-1zM940,408v1h3v-1zM372,408v1l-1,1h-1v1l-1,1h-1l-1-1v-1h-3v1l-1,1h-1v5h1l1,1v1h3v-1l1-1h1l1,1v1h9v-1l1-1h1v-3h-1l-1-1v-3h-1l-1-1v-1zM982,398v1l-1,1h-5v1h5v-1l1-1h1v-1zM954,398v1l-1,1h-1v1l-1,1h-1v1l-1,1h-1v3h1l1,1v1l-1,1h-1v1h1l1,1v1h1l1,1v1h5v-1l1-1h1v-1h-1l-1-1v-5h-1l-1-1v-1l1-1h1v-1h-1l-1-1v-3zM949,406l1-1h1l1,1v1l-1,1h-1l-1-1zM1060,396v1l-1,1h-4l-2,2h-2l-1,1h-2l-1,1h-3l-1,1h-3l-1,1h-2l-1,1h-4l-1,1h-3v1l-1,1h-1v1l-1,1h-1v1l-1,1h-1v1l-1,1h-1v1l-1,1h-1v1l-1,1h-3v1l-1,1h-1v1l-1,1h-1v3l-1,1h-3v1l-1,1h-3v1l-1,1h-1v1l-1,1h-3v1l-1,1h-3v1l-1,1h-7l-1-1v-1h-1v1l-1,1h-5v1l-1,1h-9v1l-1,1h-1v1l-1,1h-3v1l-1,1h-1v3h1l1,1v1h1l1,1v1h1l1,1v3h1v-1l1-1h3v-1l1-1h1v-1l1-1h1v-1l1-1h1v-1l1-1h3l1,1v1h1l1,1v1l-1,1h-1v1h1l1,1v5h1l1,1v1h1l1,1v1h1l1,1v1h5v-1l1-1h1l1,1v1h3l1,1v1h5l1,1v1h1v-1l1-1h7v-1l1-1h1v-5l1-1h1v-1l1-1h1v-3l1-1h1v-1l1-1h13v-1l1-1h3v-1l1-1h1v-3l1-1h1v-1l1-1h1v-9l1-1h3v-1l1-1h1v-5h-1l-1-1v-3l1-1h1v-3l1-1h1v-5l1-1h11l1,1v3h1l1,1v1h1l1,1v5h3v-1h-1l-1-1v-3l1-1h3l1,1v3h1v-3h-1l-1-1v-3l1-1h1v-3h-5v1l-1,1h-5l-1-1v-1l1-1h1v-1l1-1h3v-1l1-1h1v-1h-3v1l-1,1h-1v1l-1,1h-1l-1-1v-3h-1l-1-1v-1h-3l-1-1v-1zM977,438l1-1h1l1,1v1l-1,1h-1l-1-1zM1029,436l1-1h1l1,1v1l-1,1h-1l-1-1zM1007,434l1-1h3l1,1v1l-1,1h-3l-1-1zM1222,386v1l-1,1h-1v3h3l1,1v5h1l1,1v5l-1,1h-1v3h1l1,1v1h1l1,1v3h1v-1l1-1h3v-1l1-1h1v-1l1-1h3v-1l1-1h1v-7h-1l-1-1v-1h-3l-1-1v-1h-1l-1-1v-1h-1l-1-1v-3h-1l-1-1v-1zM1225,396l1-1h3l1,1v1l-1,1h-3l-1-1zM1080,386v3l-1,1h-3v3h3v-3l1-1h1v-3zM970,376v1l-1,1h-1v1l-1,1h-1v3h1l1,1v5h1v-1l1-1h7v-1l1-1h1v-1h-1l-1-1v-1h-1l-1-1v-1h-1l-1-1v-1h-1l-1-1v-1zM768,368v3h3v-1l1-1h1v-1zM754,364v1l-1,1h-1v3h3l1,1v1h1v-7zM998,350v1l-1,1h-3v1l-1,1h-1v1l-1,1h-1l-1-1v-1h-1v1l-1,1h-1v1h1l1,1v1h1v-1l1-1h1l1,1v11h1l1,1v1h3v-5l1-1h1v-3l1-1h3v-1l1-1h1v-3h-7l-1-1v-1l1-1h1v-1l1-1h1v-1zM952,350v3h3v-3zM1240,342v5h1l1,1v1h1l1,1v1h1v-1l1-1h1v-3h-1l-1-1v-1h-1l-1-1v-1zM848,342v1h3v-1zM480,340v1l-1,1h-1v3l-1,1h-1l-1-1v-1h-1v1l-1,1h-1l-1-1v-1h-3v3l-1,1h-1v3h3l1,1v3h1l1,1v7h1l1,1v1h1l1,1v1h1l1,1v1l-1,1h-5v7h1l1,1v3h1l1,1v5h1l1,1v1h1l1,1v5h1l1,1v1h1l1,1v1h1l1,1v3h3l1,1v3h1l1,1v1h1l1,1v1h5l1,1v1h13v-1l1-1h3l1,1v1h1v-1l1-1h1v-3h-1l-1-1v-3h-1l-1-1v-3l1-1h1v-7h-1l-1-1v-1l1-1h1v-1h-1l-1-1v-3l1-1h1v-3h-1l-1-1v-1h-1l-1-1v-9h-1l-1-1v-1h-3l-1-1v-1h-3l-1-1v-1h-1l-1-1v-5h-3l-1-1v-1h-3v1l-1,1h-1l-1-1v-1h-5l-1-1v-1h-1l-1-1v-11zM513,380l1-1h1l1,1v3l-1,1h-1l-1-1zM479,352l1-1h1l1,1v3l-1,1h-1l-1-1zM469,346l1-1h1l1,1v1l-1,1h-1l-1-1zM748,338v1l-1,1h-1v1h1l1,1v1h5v-1h-1l-1-1v-1h-1l-1-1v-1zM931,334v1h2l1,1v1h1v-3zM472,334v5h5v-1h-1l-1-1v-3zM948,330v1l-1,1h-3v1l-1,1h-1v1h1v-1l1-1h1l1,1v1h1l1,1v1h1v-1l1-1h1v-1l1-1h1v-1h-3l-1-1v-1zM1232,328v1l-1,1h-1v7h3v-1h-1l-1-1v-3l1-1h1v-1l1-1h1v-1zM482,324v3h1l1,1v1h1v-3h-1l-1-1v-1zM1226,320v1l-1,1h-1v1l-1,1h-1v1h1l1,1v1h3v-1l1-1h1v-5zM738,320v3l-1,1h-5v1l-1,1h-5v1l-1,1h-1v1h1l1,1v3h7v-1l1-1h3v-1l1-1h1l1,1v1h1l1,1v1h1l1,1v1h5v-1l1-1h1v-1l1-1h5v-1l1-1h3l1,1v3l-1,1h-5v3l-1,1h-1v1h1v-1l1-1h1l1,1v1h1l1,1v3l-1,1h-3v1h3l1,1v1h3l1,1v1h1l1,1v1h5v-1l1-1h3v-1l1-1h3v-1l1-1h1l1,1v1h5l1,1v1h1l1,1v3h7v-1l1-1h3v-1l1-1h3v-1l1-1h1v-3h-5l-1-1v-1h-5v1l-1,1h-3l-1-1v-1l1-1h1v-1h-1l-1-1v-1h-9v1l-1,1h-1l-1-1v-1h-1v1l-1,1h-1l-1-1v-3h-3l-1-1v-3h-5l-1-1v-1h-3l-1-1v-3h-5l-1-1v-1h-3l-1-1v-1h-1l-1-1v-1zM765,338l1-1h1l1,1v1l-1,1h-1l-1-1zM759,338l1-1h1l1,1v1l-1,1h-1l-1-1zM761,336l1-1h3l1,1v1l-1,1h-3l-1-1zM538,320v1l-1,1h-1v3l-1,1h-1v1h1l1,1v1l-1,1h-1v1h1l1,1v3h1l1,1v7h1v-5l1-1h3l1,1v1h1v-3h-1l-1-1v-1l1-1h1v-1h-1l-1-1v-1h-1v1l-1,1h-1l-1-1v-3l1-1h3v-3h-1v1l-1,1h-3l-1-1v-3l1-1h1v-1zM372,320v1h1l1,1v1l-1,1h-1v1l-1,1h-1v3h3v-1l1-1h1v-1l1-1h1v-3h-3l-1-1v-1zM402,316v3h1v-1l1-1h1v-1zM336,316v1l-1,1h-1v1l-1,1h-1v3h5v-7zM874,314v1l-1,1h-3v1l-1,1h-7v13l-1,1h-1v1l-1,1h-1v7h1l1,1v3l-1,1h-7v3l-1,1h-1v1l-1,1h-3v1l-1,1h-1l-1-1v-1h-1l-1-1v-1h-3l-1-1v-1h-15l-1-1v-1h-3v1l-1,1h-1v1l-1,1h-3v1l-1,1h-1v1l-1,1h-1v3l-1,1h-9v1l-1,1h-3v1l-1,1h-3v1l-1,1h-1v3l-1,1h-1v3l-1,1h-1v1l-1,1h-3v1l-1,1h-1v1l-1,1h-1v3l-1,1h-1v1l-1,1h-3v1l-1,1h-1v1l-1,1h-1v1l-1,1h-1v1l-1,1h-1v1l-1,1h-1v1l-1,1h-7l-1-1v-1h-1l-1-1v-1h-1l-1-1v-1h-1v1l-1,1h-5v1l-1,1h-1v1l-1,1h-5l-1-1v-1h-1v1l-1,1h-1v1l-1,1h-1v3l-1,1h-1v1l-1,1h-1v1h1v-1l1-1h1l1,1v5h1l1,1v5l-1,1h-1v1l-1,1h-1v5h1l1,1v5h1v-1l1-1h1v-1l1-1h5v-1l1-1h3v-3l1-1h3l1,1v3l-1,1h-1v1l-1,1h-1v1h1l1,1v1h1l1,1v1h3l1,1v7l-1,1h-3l-1-1v-1h-1l-1-1v-3h-3l-1-1v-1h-3v1l-1,1h-3v1l-1,1h-3l-1-1v-3h-3l-1-1v-1h-3l-1-1v-1h-1l-1-1v-1h-1v1l-1,1h-7v1l-1,1h-3v3h1l1,1v1h1l1,1v3h1l1,1v3l-1,1h-1v3l-1,1h-1v3l-1,1h-1v1l-1,1h-1v1l-1,1h-3v1l-1,1h-1v1l-1,1h-1v1h3v-1l1-1h5v-1l1-1h1v-1l1-1h23l1,1v1h5v-1l1-1h3l1,1v1h1l1,1v1h1l1,1v3h1l1,1v3h1l1,1v3l-1,1h-1v3l-1,1h-1v5h3l1,1v5h1l1,1v9l-1,1h-1v1l-1,1h-1v5h11v-1l1-1h5l1,1v3l-1,1h-1v3h1l1,1v1h1l1,1v1h1l1,1v3h5l1,1v3h1l1,1v5h3l1,1v1l-1,1h-1v1l-1,1h-1v1h3l1,1v1h3v-1l1-1h3v-1l1-1h7v-1l1-1h7l1,1v1l-1,1h-1v1l-1,1h-1v1l-1,1h-5v3h1l1,1v1h13v-1l1-1h5v-1l1-1h1v-1h-1l-1-1v-3l1-1h1v-1l1-1h1v-1l1-1h1v-1l1-1h3v-1l1-1h11v-1l1-1h1v-3l1-1h1v-1l1-1h1v-5l1-1h1v-3l1-1h1v-1h-1l-1-1v-1l1-1h1v-9h-3v1l-1,1h-1l-1-1v-3h-1v1l-1,1h-3v1l-1,1h-5l-1-1v-1l1-1h1v-1l1-1h1v-3h-1l-1-1v-1h-3v1l-1,1h-3l-1-1v-1l1-1h1v-1l1-1h1v-7h-1l-1-1v-1l1-1h1v-1h-1l-1-1v-1h-1l-1-1v-5l1-1h1l1,1v1h3v-1l1-1h1v-1l1-1h3v-1l1-1h5l1,1v1l-1,1h-1v1l-1,1h-1v1l-1,1h-3v3h5v-1l1-1h7v-1l1-1h3v-1l1-1h3l1,1v1h7l1,1v1h17v-1l1-1h3v-1l1-1h13v-1l1-1h1v-1l1-1h5v-5l1-1h3v-1l1-1h1v-5l1-1h1v-3l1-1h1v-3h-1l-1-1v-11h-1l-1-1v-3h-1l-1-1v-9h-1l-1-1v-1h-3l-1-1v-1l1-1h1v-5h-1l-1-1v-7l1-1h1v-3h-1l-1-1v-3h-1l-1-1v-5l1-1h1v-3h-1l-1-1v-1h-3l-1-1v-1l1-1h1v-3h-9l-1-1v-3l1-1h1v-1l1-1h3v-5h-1l-1-1v-3h-1v9l-1,1h-1l-1-1v-1h-1l-1-1v-1h-3v1l-1,1h-3l-1-1v-7h-1l-1-1v-1h-1l-1-1v-1h-5v1l-1,1h-1l-1-1v-7l1-1h1v-1l1-1h1v-1l1-1h1v-1l1-1h1v-1l1-1h1v-3l1-1h1v-1l1-1h1v-3h-1l-1-1v-1h-1l-1-1v-5h-1l-1-1v-1zM803,536l1-1h1l1,1v1l-1,1h-1l-1-1zM813,526l1-1h3l1,1v1l-1,1h-3l-1-1zM783,522l1-1h3l1,1v1l-1,1h-3l-1-1zM779,518l1-1h3l1,1v1l-1,1h-3l-1-1zM773,516l1-1h1l1,1v1l-1,1h-1l-1-1zM777,514l1-1h1l1,1v1l-1,1h-1l-1-1zM803,502l1-1h3l1,1v1l-1,1h-1v1l-1,1h-3l-1-1v-1l1-1h1zM791,502l1-1h1l1,1v3l-1,1h-1l-1-1zM783,500l1-1h1l1,1v1l-1,1h-1l-1-1zM777,492l1-1h3l1,1v1l-1,1h-3l-1-1zM815,484l1-1h3l1,1v3l-1,1h-3l-1-1zM815,476l1-1h3l1,1v1l-1,1h-3l-1-1zM761,472l1-1h1l1,1v1l-1,1h-1l-1-1zM753,472l1-1h1l1,1v1h5l1,1v1l-1,1h-3v1l-1,1h-3v1l-1,1h-3l-1-1v-5l1-1h3zM803,468l1-1h1l1,1v5h3l1,1v3h1l1,1v1h1l1,1v1l-1,1h-3v1l-1,1h-1v1h1v-1l1-1h3l1,1v1l-1,1h-1v3l-1,1h-5v1l-1,1h-1v1l-1,1h-1l-1-1v-1h-3v1l-1,1h-1l-1-1v-1h-1l-1-1v-1h-1l-1-1v-13l1-1h1v-1l1-1h3v-1l1-1h3v-1l1-1h1zM757,462l1-1h3l1,1v1l-1,1h-3l-1-1zM763,460l1-1h1l1,1v1l-1,1h-1l-1-1zM869,458l1-1h1l1,1v3l-1,1h-3l-1-1v-1l1-1h1zM807,458l1-1h1l1,1v1l-1,1h-1l-1-1zM801,458l1-1h3l1,1v1l-1,1h-3l-1-1zM767,456l1-1h1l1,1v3l-1,1h-1l-1-1zM861,454l1-1h1l1,1v1l-1,1h-1l-1-1zM849,452l1-1h3l1,1v1l-1,1h-1v1l-1,1h-3l-1-1v-1l1-1h1zM747,450l1-1h1l1,1v1l-1,1h-1l-1-1zM745,444l1-1h1l1,1v1l-1,1h-1l-1-1zM733,412l1-1h5l1,1v3l-1,1h-1v3l-1,1h-1l-1-1v-1h-3l-1-1v-3l1-1h1zM901,410l1-1h1l1,1v1l-1,1h-1l-1-1zM761,410l1-1h1l1,1v1h1l1,1v1h5l1,1v1h1v-1l1-1h3v-3l1-1h5l1,1v3l-1,1h-1v1l-1,1h-3v1l-1,1h-3v1l-1,1h-3l-1-1v-3h-5l-1-1v-1h-1l-1-1zM733,406l1-1h1l1,1v1l-1,1h-1l-1-1zM751,404l1-1h3l1,1v1l-1,1h-3l-1-1zM757,402l1-1h1l1,1v1l-1,1h-1l-1-1zM396,314v1l-1,1h-5v3h1l1,1v1h3l1,1v1l-1,1h-9v1l-1,1h-1v1l-1,1h-3v3l-1,1h-1v1l-1,1h-7l-1-1v-1h-1v1l-1,1h-1v1l-1,1h-5v1l-1,1h-1v1l-1,1h-1v1h1l1,1v1h7l1,1v1h1v-1l1-1h5l1,1v1h3l1,1v1h7l1,1v3h3l1,1v1h1l1,1v1h1l1,1v1h11l1,1v1h1l1,1v1h1l1,1v1h9l1,1v5h1l1,1v3h1v-1l1-1h7v-7h-1l-1-1v-1h-1l-1-1v-3h-3l-1-1v-1h-1l-1-1v-1h-1l-1-1v-1h-9l-1-1v-1h-1v1l-1,1h-1l-1-1v-1h-3v1h1l1,1v1l-1,1h-7l-1-1v-1l1-1h1v-3l1-1h1v-1l1-1h5v-5l1-1h1v-1l1-1h1v-1l1-1h1v-3h-1l-1-1v-1h-1l-1-1v-1h-1l-1-1v-1h-1l-1-1v-1h-1l-1-1v-1h-1l-1-1v-1h-3l-1-1v-3l1-1h1v-1zM378,314v1l-1,1h-1v1h3v-1l1-1h1v-1zM384,310v1h1l1,1v1h5v-1h-3l-1-1v-1zM860,306v1l-1,1h-1v3h5v-5zM880,300v1l-1,1h-3v1h3l1,1v3l-1,1h-1v1l-1,1h-1v1h3l1,1v1h1v-1l1-1h1v-1l1-1h3v-3l1-1h1v-1l1-1h3v-1h-3l-1-1v-1zM456,300v3h5v-1l1-1h3v-1zM546,286v7h3v-1l1-1h1v-1l1-1h1v-1l1-1h1v-1h-5v1l-1,1h-1l-1-1v-1zM394,284v1h1l1,1v1h1v-3zM1226,282v1l-1,1h-3v1l-1,1h-1v5h1l1,1v3h1l1,1v1h3v-7l1-1h1v-5h-1l-1-1v-1zM960,276l-4,4v7h3l1,1v3h1l1,1v1l-1,1h-7v1l-1,1h-3v1l-1,1h-4l-1,1v1l-1,1v1l-1,1v1l-4,4v5h1l1,1v1l-1,1h-1v3h3v-1l1-1h1v-1l1-1h1v-1l1-1h1l1,1v1h1v-1l1-1h1v-5l1-1h1v-3l1-1h5l1,1v3l-1,1h-1v1h1v-1l1-1h1l1,1v1h1v-1l1-1h1l1,1v1h3v-5h-1l-1-1v-3l1-1h3v-1h-1l-1-1v-1h-1l-1-1v-1l1-1h7l1,1v1h3v-1l1-1h5l1,1v3l-1,1h-1l-1-1v-1h-1v1l-1,1h-1v1l-1,1h-3v1l-1,1h-1v3h3l1,1v1h1v-1l1-1h1v-1l1-1h3l1,1v3h1l1,1v3h5v-3l1-1h1l1,1v3h3v-1l1-1h3v-9h-1l-1-1v-1h-3l-1-1v-1h-1l-1-1v-1h-3l-1-1v-1h-1v1l-1,1h-1l-1-1v-5h-1l-1-1v-1h-1l-1-1v-1h-9l-1-1v-1h-3l-1-1v-1h-1l-1-1v-2h-2l-1-1zM949,306l1-1h1l1,1v1l-1,1h-1l-1-1zM943,304l1-1h3l1,1v1l-1,1h-1v1l-1,1h-1l-1-1zM947,302l1-1h1l1,1v1l-1,1h-1l-1-1zM987,296l1-1h1l1,1v1l-1,1h-1l-1-1zM967,290l1-1h1l1,1v1l-1,1h-1l-1-1zM975,288l1-1h1l1,1v3l-1,1h-1l-1-1zM732,276v5h9v-1h-1l-1-1v-1h-1l-1-1v-1zM586,274v9h3l1,1v1h1v-1l1-1h1v-1h-1l-1-1v-1h-1l-1-1v-1h-1l-1-1v-3zM358,270v11h1v-1l1-1h1v-7h-1l-1-1v-1zM830,268v1l-1,1h-1v5h1v-1l1-1h1v-5zM324,262v1l-1,1h-1v3h1l1,1v1h1l1,1v1h1l1,1v3l-1,1h-1v3h3l1,1v3l-1,1h-1v1h5v-1l1-1h5v-1l1-1h1v-1l1-1h1v-3h-1v1l-1,1h-1v1l-1,1h-1l-1-1v-1h-1l-1-1v-1h-1v1l-1,1h-1l-1-1v-3h-1l-1-1v-3h-3l-1-1v-7zM552,256v1l-1,1h-3v1h5v-3zM925,250l-1,1h1l1,1v3h1v-1l1-1h1v-1h-1l-1-1v-1zM326,250v1l-1,1h-1v3h3v-5zM480,244v1l-1,1h-1v1h1l1,1v3h1v-1l1-1h1v-1h-1l-1-1v-3zM888,234v1l-1,1h-1v1l-1,1h-5v1l-1,1h-3v1l-1,1h-3v1l-1,1h-1v1l-1,1h-3v1l-1,1h-1v3l-1,1h-7v3l-1,1h-1v1l-1,1h-1v1h1l1,1v1l-1,1h-1v3l-1,1h-5v3l-1,1h-3v3l-1,1h-1l-1-1v-1h-1v7h1l1,1v1l-1,1h-1v3h5l1,1v1h3l1,1v1h1v-1l1-1h1v-3h-1l-1-1v-3l1-1h5l1,1v1h1l1,1v1h3v-1l1-1h7v-1l1-1h9l1,1v1h5l1,1v3h3l1,1v1h1l1,1v1h1l1,1v3h1l1,1v1h3l1,1v3l-1,1h-1v1h3v-1l1-1h5v-3l1-1h4v-2l1-1v-1l1-1v-1l1-1v-5l1-1h1l1,1v1l1,1v1l1,1h1v-1l1-1h3v-1l1-1h1v-1l1-1h1v-1l1-1h3v-3l1-1h1v-1l1-1h3l1,1v1l1-1h1l1-1h1l1-1h1l1-1h4l1-1h2l1,1h1l1,1h2l1,1h1l1,1h4l1-1h1l2-2h16l1-1h3h-2l-1-1v-1h-1l-1-1v-1h-1l-1-1v-1h-3v3l-1,1h-3l-1-1v-1h-1l-1-1v-5h-1l-1-1v-1h-1l-1-1v-1h-1l-1-1v-3h-11l-1-1v-1h-1l-1-1v-3h-3l-1-1v-1h-1l-1,1h-2l-1,1v1l-1,1h-1l-1-1h-1l-1,1h-1v1l-1,1h-1l-1-1v-1h-1l-1,1h-1v6h1l1,1v1h1v-1l1-1h1l1,1v1h1v-1l1-1h3v-1l1-1h1v-3l1-1h1v-1l1-1h1l1,1v3h3l1,1v13l-1,1h-1v1l-1,1h-1l-1-1v-1h-3v1l-1,1h-5l-1-1v-1h-3v1l-1,1h-1v1l-1,1h-9v1l-1,1h-3v1l-1,1h-1v1l-1,1h-1l-1-1v-1h-7l-1-1v-1h-3l-1-1v-3h-5l-1-1v-1h-1l-1-1v-3l1-1h1v-1l1-1h1v-3h-1l-1-1v-1l1-1h4l-6-6h-4h3l1,1v1h1l1,1v1l-1,1h-3v1l-1,1h-3l-1-1v-1h-1l-1-1v-1h-1v1l-1,1h-1l-1-1v-7l1-1h2l6-6v-1l-1-1v-1zM931,272l1-1h1l1,1v3l-1,1h-3l-1-1v-1l1-1h1zM851,266l1-1h1l1,1v1l-1,1h-1l-1-1zM236,232v3l-1,1h-1v3h1v-1l1-1h3v-3h-1l-1-1v-1zM222,232v1h1l1,1v1h3l1,1v1h3v-3h-3l-1-1v-1zM208,224v1l-1,1h-1v1l-1,1h-1v1l-1,1h-1v3h1l1,1v1l-1,1h-3v1h1l1,1v3l-1,1h-1v1l-1,1h-1v1l-1,1h-1v1h1l1,1v7l-1,1h-3l-1-1v-1l1-1h1v-1h-3l-1-1v-1l1-1h1v-1h-3v3h1l1,1v1l-1,1h-1v5h3l1,1v1h3v-1l1-1h1v-1h-1l-1-1v-1l1-1h1v-1l1-1h5l1,1v1h5v-1h-1l-1-1v-3l1-1h5v-1h-1l-1-1v-3h-1l-1-1v-7l1-1h1v-1l1-1h1v-3h-1l-1-1v-3h-1l-1-1v-1zM272,210v3l-1,1h-1v1l-1,1h-7l-1-1v-1h-1v1l-1,1h-1v1h1l1,1v3l-1,1h-5v1l-1,1h-1v1h3l1,1v1h1l1,1v1l-1,1h-1v3h5l1,1v1h1l1,1v1h3v-1l1-1h1v-1l1-1h1l1,1v3h5l1,1v1h1l1,1v1l-1,1h-1v1h3v-7l1-1h1v-1l1-1h1v-1l1-1h1v-1l1-1h7l1,1v1h1l1,1v1h1l1,1v1h3v-1l1-1h1v-1l1-1h1v-1h-1l-1-1v-5h-1l-1-1v-1h-3v1l-1,1h-1l-1-1v-3l1-1h1v-1h-3l-1-1v-3h-7v5l-1,1h-5v1h1l1,1v1l-1,1h-1v1l-1,1h-1v1l-1,1h-1l-1-1v-3h-1l-1-1v-3l1-1h1v-1h-1l-1-1v-3l1-1h1v-1h-3l-1-1v-1zM259,228l1-1h1l1,1v3l-1,1h-1l-1-1zM426,208v1l-1,1h-1v1h5v-3zM372,158v1l-1,1h-1v1h1l1,1v1h1l1,1v5h3l1,1v15h1v-1l1-1h5l1,1v1h1l1,1v1h1l1,1v1h3l1,1v1h1l1,1v1h1l1,1v3h1l1,1v1h15l1,1v1h1l1,1v3h1l1,1v1h1v-1l1-1h7v-1l1-1h3v-3l1-1h3l1,1v1h3l1,1v5h1l1,1v3h3l1,1v1h1l1,1v1h3l1,1v1l-1,1h-1v1h3v-3l1-1h7v-3l1-1h1v-1l1-1h3l1,1v3l-1,1h-1v3h1l1,1v1l-1,1h-9v1l-1,1h-1v1l-1,1h-1v3l-1,1h-1v1l-1,1h-3v1h1l1,1v1h7l1,1v1h1v-1l1-1h1l1,1v1h3v-1l1-1h7v-1l1-1h5v-1l1-1h7l1,1v3l-1,1h-3v5h1l1,1v3h1l1,1v1h5l1,1v1h3v-1l1-1h3v-3l1-1h1l1,1v3h3l1,1v1h3l1,1v5h1l1,1v3h1l1,1v1h9l1,1v3h1v-1l1-1h1v-3l1-1h1v-1l1-1h1l1,1v1h3v-1h-1l-1-1v-5h-9v1h1l1,1v1h1l1,1v1l-1,1h-5l-1-1v-7l1-1h1v-3h-1l-1-1v-1h-1l-1-1v-1l1-1h1v-1h-1l-1-1v-1h-7l-1-1v-1h-1l-1-1v-1h-3l-1-1v-7l1-1h1v-3l1-1h1v-1l1-1h1v-1h-1l-1-1v-1h-1v1l-1,1h-1v1h1l1,1v1l-1,1h-1v1l-1,1h-1l-1-1v-3h-1l-1-1v-1h-1l-1-1v-1h-3l-1-1v-3l1-1h1v-3h-5l-1-1v-1h-5l-1-1v-1h-1l-1-1v-1l1-1h1v-3h-9l-1-1v-1h-7l-1-1v-1h-3v7l-1,1h-3v1l-1,1h-1v1l-1,1h-1l-1-1v-5l1-1h1v-1h-1l-1-1v-5h-1l-1-1v-3h-1l-1-1v-5l1-1h5v-1h-1l-1-1v-1h-3l-1-1v-1h-3l-1-1v-1h-9v1l-1,1h-1v1l-1,1h-1l-1-1v-1h-5l-1-1v-1h-7l-1-1v-1h-7l-1-1v-1h-1l-1-1v-1h-1l-1-1v-1h-1l-1-1v-1h-3l-1-1h-6l-1-1h-5l-1-1h-4l-1,1h-3l-1-1v-1zM505,238l1-1h1l1,1v1l-1,1h-1l-1-1zM497,236l1-1h3l1,1v3l-1,1h-3l-1-1zM507,234l1-1h3l1,1v1l-1,1h-3l-1-1zM505,232l1-1h1l1,1v1l-1,1h-1l-1-1zM503,228l1-1h1l1,1v3l-1,1h-1l-1-1zM469,220l1-1h3l1,1v1l-1,1h-3l-1-1zM449,208l1-1h1l1,1v1l-1,1h-1l-1-1zM467,204l1-1h1l1,1v1l-1,1h-1l-1-1zM419,200l1-1h5l1,1v1l-1,1h-1v1l-1,1h-3l-1-1zM447,198l1-1h3l1,1v3l-1,1h-3l-1-1zM425,196l1-1h7l1,1v3l-1,1h-7l-1-1zM453,194l1-1h3l1,1v3l-1,1h-3l-1-1zM443,190l1-1h3l1,1v1l-1,1h-3l-1-1zM427,190l1-1h3l1,1v3l-1,1h-3l-1-1zM453,188l1-1h1l1,1v1l-1,1h-1l-1-1zM439,182l1-1h1l1,1v1l-1,1h-1l-1-1zM447,180l1-1h1l1,1v3h1l1,1v1h1l1,1v1l-1,1h-1v1l-1,1h-1l-1-1v-1h-1l-1-1zM268,156v1l-1,1h-1v3h1l1,1v5h1l1,1v1l-1,1h-1v1l-1,1h-1v1h1l1,1v1h1l1,1v3h3l1,1v3h3l1,1v3h1v-1l1-1h1v-1h-1l-1-1v-3l1-1h1v-5h-1l-1-1v-1l1-1h1v-3l1-1h1v-3h-1l-1-1v-1h-3l-1-1v-1h-1l-1-1v-3h-1v1l-1,1h-3l-1-1v-1zM273,178l1-1h1l1,1v1l-1,1h-1l-1-1zM278,154v1h3v-1zM136,102v1l-1,1h-1v5h4l1,1l-1,1h-3l-1,1h-2l-1,1h-3v9l1,1v1l-3,3l-1-1h-1l-1-1h-1l-2-2h-1l-1-1h-1l-1-1h-1l-1-1h-1l-1-1h-1l-2-2h-1l-1-1h-1l-2-2h-1l-2-2h-3v3l-1,1h-1v3l-1,1h-1v1l-1,1h-1v16l1,1v8l1,1v11l-1,1v3l-1,1v3l-1,1v3l-1,1v5l-1,1v5l-1,1v7l-1,1v2l-1,1v5l-1,1v3l-1,1v2l-1,1v2l-1,1v2l-1,1v2l-1,1v2l-1,1v1l-1,1v1l-1,1v1l-1,1v1l-1,1v1l-1,1v1l-1,1v2l-1,1v1l-1,1v2l-1,1v1l-1,1v2l-1,1v1l-1,1v2l-1,1v1l-1,1v1l-1,1v1l-1,1v1l-2,2v1l-1,1v1l-1,1v1l-2,2v1l-1,1v1l-2,2v1l-2,2v1l-1,1v1l-2,2v1l-2,2v1l-1,1v3l-1,1v6l-1,1v9l-1,1v9l-1,1h1l1,1v1h5v-3l1-1h11v-1l1-1h1v-1l1-1h1v-3l1-1h1v-5l1-1h1v-1l1-1h3v-1l1-1h1l1,1v1h5l1,1v1h1l1,1v1h1l1,1v1h7v-1l1-1h5v-1l1-1h1v-1l1-1h1v-3l1-1h11v-1l1-1h1v-3l1-1h1v-1l1-1h1v-5l1-1h1v-13l1-1h1v-9h-1l-1-1v-19l1-1h1v-3l1-1h1v-5l1-1h1v-1l1-1h1v-1l1-1h1v-9l1-1h1v-1l1-1h1v-9h-1l-1-1v-1l1-1h3v-1l1-1h1v-1l1-1h1v-1l1-1h1v-3l1-1h1v-1l1-1h1v-1l1-1h5v-1l1-1h15v-1l1-1h25v-1l1-1h7l1,1v1h1v-3l1-1h1l1,1v1h5l1,1v1h3l1,1v1h1v-1l1-1h1v-3l1-1h3v-1l1-1h1l1,1v1h5v-3l1-1h3v-1h-7l-1-1v-1h-1v1l-1,1h-1l-1-1v-1h-1l-1-1v-1h-1l-1-1v-1h-7l-1-1v-1h-1l-1-1v-1h-1l-1-1v-1h-1l-1-1v-3h-1l-1-1v-1h-1l-1-1v-1h-1l-1-1v-5h-1l-1-1v-3l1-1h1v-3h-3l-1-1v-3h-1l-1-1v-5h-1l-1-1v-1h-1l-1-1v-1h-3l-1-1v-1h-3l-1-1v-2l-1-1h-3l-1-1h-2l-1-1h-3l-1-1h-3l-1-1h-2l-1-1h-3l-1-1h-4l-1-1h-1l-1-1h-3l-1-1h-2l-1-1h-3l-1-1h-3l-1-1h-2l-1-1v-1zM83,282l1-1h1l1,1v1l-1,1h-1l-1-1zM93,276l1-1h1l1,1v5h3l1,1v3l-1,1h-3l-1-1v-1h-1l-1-1v-1h-1l-1-1v-1h-1l-1-1v-1l1-1h3zM99,256l1-1h3l1,1v1l-1,1h-3l-1-1zM95,244l1-1h3l1,1v1h1l1,1v5l-1,1h-3l-1-1v-5h-1l-1-1zM125,198l1-1h1l1,1v3l-1,1h-1l-1-1zM135,130l1-1h3l1,1v1l-1,1h-3l-1-1z"/>
<path fill="#c0ffb0" fill-rule="evenodd" d="M617,914v1l1,1v1h1l1,1h2l1,1v-1h-1l-1-1v-3zM616,896v3h3v-3zM674,878v1l-1,1h-1v1l-1,1h-1v7h3v-3h-1l-1-1v-3l1-1h1v-1l1-1h1v-1zM1160,870v1h3v-1zM1168,864v7l-1,1h-1v5l-1,1h-1v1h5l1,1v5h5l1,1v1h2v-3l-1-1v-3h-1l-1-1v-5h-1l-1-1v-1h-1l-1-1v-7zM728,830v3h3l1,1l-1-1v-3zM902,798v3h1l1,1v5l-1,1h-1v5l-1,1h-1v1l-1,1h-1v1l-1,1h-3v1l-1,1h-1h11v-1l1-1v-3l1-1v-3l1-1v-6l-1-1v-1l-1-1v-1l-1-1v-1zM810,798v3h5v-1h-1l-1-1v-1zM830,796v3l-1,1h-1v1l-1,1h-1v3l-1,1h-1l-1-1v-1h-1l-1-1v-1h-3v3h1l1,1v1l-1,1h-1v1l-1,1h-1v1l-1,1h-5v1l-1,1h-5l-1-1v-1h-5v1l-1,1h-3l-1-1v-1h-3l-1-1v-1h-7v1l-1,1h-5h12l1,1h3l1,1h4l1,1h3l1,1h4l1-1h9l1-1h1l1-1h2l1,1h1l2,2h1l1,1h4l1-1h4l1-1l1,1v1l3,3v1l1,1h1l2,2h1l2,2h1l2,2h1l2,2h4l1-1v-1h-7l-1-1v-9h-1l-1-1v-1h-3l-1-1v-1h-5l-1-1v-13h-1v3l-1,1h-1l-1-1v-1h-3l-1-1v-1l1-1h1v-3zM827,806l1-1h3l1,1v3l-1,1h-1l-1-1v-1h-1l-1-1zM480,770v3l-1,1h-1v1h1l1,1v1h3v-5h-1l-1-1v-1zM476,768v3h1v-3zM388,700v5h1l1,1v1l-1,1h-1v5h7v-1l1-1h3v-3l1-1h1v-1l1-1h1v-3h-3l-1-1v-1zM428,684v3l-1,1h-1v1l-1,1h-1v1h3l1,1v1h1l1,1v1h1l1,1v1h3l1,1v3h5v-11h-1l-1-1v-1h-1l-1-1v-1h-3l-1-1v-1zM682,656v5h1v-1l1-1h1v-3zM626,650v3h5v-3zM630,626v1h1l1,1v5h1v-3l1-1h1v-1h-3l-1-1v-1zM874,612v1l-1,1h-1v1l-1,1h-1v3h7v-7zM1224,586v3h1v-3zM676,580v3h1v-3zM1236,574v1l-1,1h-1v3h1l1,1v1h1v-1l1-1h1v-1l1-1h5v-3h-5v1l-1,1h-1l-1-1v-1zM1204,574v1l-1,1h-1v1h3v-3zM1028,564v1h1l1,1v1h1v-3zM692,556v1h3v-1zM892,546v1h3v-1zM804,540v1l-1,1h-1v1h1v-1l1-1h3v-1zM472,538v3h5v-3zM454,538v1l-1,1h-3v1l-1,1h-5v9h1l1,1v1h5l1,1v1h1l1,1v3h7v-1l1-1h1v-1l1-1h1v-9h-1l-1-1v-1h-1l-1-1v-1h-1l-1-1v-1h-1l-1-1v-1zM514,532v1h1l1,1v1h1l1,1v3h5v-5h-1v1l-1,1h-3l-1-1v-1h-1l-1-1v-1zM486,532v1l-1,1h-1v1l-1,1h-1v1h3v-3l1-1h1v-1zM460,532v1h3v-1zM588,530v5h5l1,1v1h3v-3h-1l-1-1v-1h-3l-1-1v-1zM510,528v1h3v-1zM488,528v1h1l1,1v1h1l1,1v1l-1,1h-1v1l-1,1h-1v1h7v-5h-1l-1-1v-1h-1l-1-1v-1zM790,526v1l-1,1h-5v3l-1,1h-5v1l-1,1h-1v1h5v-1l1-1h3v-1l1-1h3v-1l1-1h1v-3zM990,514v1l-1,1h-1v1l-1,1h-1v5h1v-3l1-1h1v-3l1-1h1v-1zM782,506v1l-1,1h-1v1l-1,1h-3v1h5v-3l1-1h1v-1zM748,498v1l-1,1h-1v3h7v-1h-1l-1-1v-1h-1l-1-1v-1zM838,496v1l-1,1h-5v1l-1,1h-3v1l-1,1h-1l-1-1v-1h-1l-1-1v-1h-1v1l-1,1h-1v3l-1,1h-1v1l-1,1h-5l-1-1v-1h-3v1l-1,1h-1v1l-1,1h-5v1h1l1,1v1l-1,1h-9l-1-1v-1l1-1h1v-1l1-1h1v-1h-1v1l-1,1h-1v1l-1,1h-3v1l-1,1h-1v1h1v-1l1-1h1l1,1v5h3l1,1v3h3l1,1v1h1l1,1v1l-1,1h-1v1l-1,1h-1v1h1l1,1v1h5l1,1v1h5l1,1v1h1v-1l1-1h1v-3h-5l-1-1v-1l1-1h1v-1l1-1h5v-1l1-1h3v-1l1-1h1l1,1v1h7v-1l1-1h3l1,1v1h1v-1l1-1h1v-3l1-1h1v-5l1-1h1v-1l1-1h1v-1h-3v1l-1,1h-7v1l-1,1h-3v1l-1,1h-1v1l-1,1h-3l-1-1v-3l1-1h1v-1l1-1h3v-1l1-1h1v-3l1-1h1l1,1v1h3v-3l1-1h3v-1l1-1h3v-3zM821,520l1-1h3l1,1v1l-1,1h-3l-1-1zM827,516l1-1h1l1,1v1h1l1,1v1l-1,1h-3l-1-1zM797,514l1-1h3l1,1v1l-1,1h-3l-1-1zM817,506l1-1h1l1,1v1l-1,1h-1l-1-1zM462,496v1l-1,1h-1v5l-1,1h-1v7h1l1,1v5h3v-1l1-1h5v-5h-3l-1-1v-1h-1l-1-1v-7l1-1h1v-1h-1l-1-1v-1zM1120,494v7h11v-3h-3l-1-1v-1h-1l-1-1v-1zM816,490v1l-1,1h-5v1l-1,1h-3v1l-1,1h-1v1l-1,1h-1v1l-1,1h-1v1h3v-1l1-1h3v-1l1-1h3l1,1v1h3v-1l1-1h3v-1l1-1h3v-1l1-1h1v-1h-3v1l-1,1h-1v1l-1,1h-3v1l-1,1h-3l-1-1v-1l1-1h1v-1l1-1h1v-1l1-1h3v-1zM1060,478v1l-1,1h-1v3h3v-1l1-1h5v-3zM1070,474v3h1v-3zM526,474v1l-1,1h-1v1h1l1,1v3h1l1,1v1h3v-1l1-1h1v-3h-1l-1-1v-3zM1062,460v5h1l1,1v3h5v-3l1-1h1v-3h-7l-1-1v-1zM854,460v1h3l1,1v1h3v-1l1-1h3v-1h-3v1l-1,1h-3l-1-1v-1zM972,440v1l-1,1h-1v1l-1,1h-3v1l-1,1h-1v1h1l1,1v1h1l1,1v1h1v-1l1-1h1v-1l1-1h3v-7zM1232,424v1l-1,1h-5v1l-1,1h-5v1l-1,1h-1v5h1l1,1v3h1l1,1v3l-1,1h-1l-1-1v-1h-1l-1-1v-1h-1l-1-1v-3h-5v1l-1,1h-3v1l-1,1h-1v5l-1,1h-3v1l-1,1h-7v1l-1,1h-3v1l-1,1h-3v1l-1,1h-1v1l-1,1h-3v3l-1,1h-1v3l-1,1h-1v3l-1,1h-3v3h1l1,1v1l-1,1h-3l-1-1v-1h-7v1l-1,1h-7v3l-1,1h-3v1h1l1,1v5h7l1,1v1l-1,1h-1v1l-1,1h-1v1l-1,1h-3v1l-1,1h-3v1l-1,1h-1v3l-1,1h-1l-1-1v-1h-1l-1-1v-1l1-1h1v-3h-3v3l-1,1h-1v1l-1,1h-1v1h1l1,1v1h3l1,1v1h1l1,1v1l-1,1h-1v1h3l1,1v1h3l1,1v5l-1,1h-5l-1-1v-1h-5v5l-1,1h-3l-1-1v-1h-1l-1-1v-1h-3l-1-1v-1h-1l-1-1v-1h-3v9l-1,1h-1v5l-1,1h-3v1l-1,1h-9v1l-1,1h-3v1l-1,1h-3v1l-1,1h-5v1l-1,1h-3l-1-1v-1h-3l-1-1v-1h-7l-1-1v-1h-1l-1-1v-3h-5v1l-1,1h-1v1l-1,1h-3l-1-1v-5l1-1h3v-3h-1l-1-1v-3h-1l-1-1v-5h-5l-1-1v-9l1-1h1v-1h-1l-1-1v-1h-15l-1-1v-1h-1v1l-1,1h-5v1l-1,1h-1v1l-1,1h-1v1l-1,1h-3v5l-1,1h-3l-1-1v-1h-5v1l-1,1h-5l-1-1v-1h-11v1h1l1,1v1l-1,1h-1v9l-1,1h-1v3l-1,1h-3v1h3v-1l1-1h3l1,1v1l-1,1h-1v1l-1,1h-1v3l-1,1h-1v3l-1,1h-1v1l-1,1h-1v1l-1,1h-1v1l-1,1h-1v1l-1,1h-1v5h3l1,1v5l-1,1h-1v1l-1,1h-1v1l-1,1h-1v1h3v-1l1-1h5l1,1v1h1l1,1v1h5v-1l1-1h9v-1l1-1h3v-1l1-1h3l1,1v1h1l1,1v1h1v-1l1-1h1v-1l1-1h5v-1l1-1h3l1,1v1h3l1,1v1h7v-1l1-1h1v-5l1-1h1v-1l1-1h1v-1l1-1h1v-1l1-1h5v-5l1-1h5v-1l1-1h1v-1l1-1h5v-1l1-1h1l1,1v1h1l1,1v5h1l1,1v5l-1,1h-1v1l-1,1h-9v1l-1,1h-3v3h1l1,1v3l-1,1h-1v1l-1,1h-1v1l-1,1h-3v1l-1,1h-3v1l-1,1h-5l-1-1v-3h-1v1l-1,1h-1v1h3l1,1v1l-1,1h-1v1l-1,1h-7l-1-1v-1h-5l-1-1v-1h-3v3l-1,1h-3v5h1l1,1v3h3l1,1v3l-1,1h-1v3l-1,1h-1v1l-1,1h-1v1l-1,1h-9v1l-1,1h-1v1l-1,1h-11v1l-1,1h-5v1l-1,1h-5v1l-1,1h-1l-1-1v-1h-1v1l-1,1h-3l-1-1v-3h-7l-1-1v-1h-3v1l-1,1h-9v1l-1,1h-3l-1-1v-1h-3l-1-1v-1h-3l-1-1v-1h-7v1l-1,1h-1v1l-1,1h-1l-1-1v-1h-3v3l-1,1h-3v1l-1,1h-5l-1-1v-1h-1l-1-1v-1h-7l-1-1v-1h-9v1l-1,1h-3v1h3l1,1v1h1l1,1v1h1l1,1v5l-1,1h-3v1l-1,1h-1v7h1l1,1v3l-1,1h-1v1l-1,1h-3v1l-1,1h-1v1l-1,1h-3l-1-1v-1h-5v1h1l1,1v1h3l1,1v1h1v-1l1-1h3v-1l1-1h5v-1l1-1h1l1,1v1h5l1,1v1h1l1,1v3h1l1,1v3l-1,1h-5l-1-1v-1h-5v3l-1,1h-13l-1-1v-1h-3v1l-1,1h-5v3h1l1,1v11l-1,1h-9l-1-1v-5h-1l-1-1v-3l1-1h1v-3h-1v1l-1,1h-5l-1-1v-3l1-1h1v-1l1-1h3v-1h-3l-1-1v-1l1-1h1v-1l1-1h1v-1l1-1h1v-1l1-1h3v-1l1-1h1v-1h-1l-1-1v-7h-9v1l-1,1h-5l-1-1v-1h-1l-1-1v-1h-1l-1-1v-1h-1l-1-1v-1l1-1h1v-1l1-1h3v-1l1-1h11v-1l1-1h1v-1l1-1h3v-1l1-1h5l1,1v1h3v-1l1-1h1v-5h-7l-1-1v-1l1-1h3v-1l1-1h5v-1l1-1h1v-1l1-1h3v-3l1-1h1v-1l1-1h1v-5l1-1h5v-1l1-1h5v-1l1-1h1v-1l1-1h1l1,1v3h5v-1l1-1h1v-1l1-1h1v-1l1-1h1v-1h-1l-1-1v-1l1-1h5l1,1v1h7v-1l1-1h1v-7l1-1h3v-1l1-1h1l1,1v3h9l1,1v1h3l1,1v1h1v-5l1-1h1l1,1v1h1l1,1v1h1l1,1v1l-1,1h-1v3h1v-1l1-1h1v-1l1-1h1l1,1v1h3v-1h-1l-1-1v-5l1-1h1v-1l1-1h1v-3h-1l-1-1v-3l1-1h1l1,1v1h1v-5h-1l-1-1v-1l1-1h1v-3h-1v3l-1,1h-3l-1-1v-3h-5v1l-1,1h-1v1l-1,1h-1v1l-1,1h-3v1l-1,1h-1l-1-1v-1h-3v1l-1,1h-1v1l-1,1h-3v1l-1,1h-3v1l-1,1h-3l-1-1v-3h-9v1l-1,1h-1v1l-1,1h-5v3l-1,1h-5v1l-1,1h-7l-1-1v-1h-1l-1-1v-1h-1v1l-1,1h-7v1l-1,1h-1v1l-1,1h-1v1l-1,1h-1v1l-1,1h-1v1l-1,1h-1v1l-1,1h-1v1l-1,1h-1v1l-1,1h-3v1l-1,1h-1v1l-1,1h-1v3l-1,1h-5v1l-1,1h-3v1l-1,1h-1v1l-1,1h-1v3h1l1,1v1h1l1,1v3l-1,1h-1v1l-1,1h-17v3l-1,1h-13v1l-1,1h-1v1l-1,1h-1v1l-1,1h-1v1l-1,1h-3v1l-1,1h-7v1l-1,1h-5v1l-1,1h-1v1l-1,1h-9l-1-1v-1h-3v1h1l1,1v3l-1,1h-5l-1-1v-1h-1l-1-1v-1h-1v3h3l1,1v1l-1,1h-1v1l-1,1h-1v1l-1,1h-5l-1-1v-3h-1l-1-1v-1h-1l-1-1v-3h-17l-1-1v-1h-1v1l-1,1h-3v1l-1,1h-1v3l-1,1h-7v1l-1,1h-7v1l-1,1h-1v1l-1,1h-5v1l-1,1h-5l-1-1v-1h-3l-1-1v-1h-3l-1-1v-3h-1l-1-1v-3h-1l-1-1v-1h-3l-1-1v-1l1-1h1v-1l1-1h3v-3h-1v1l-1,1h-1v1l-1,1h-1v1l-1,1h-3l-1-1v-3h-1l-1-1v-1l1-1h3v-1l1-1h1l1,1v1h1v-1l1-1h1v-5h-1l-1-1v-7l1-1h1v-3l1-1h1v-11l1-1h1v-3l1-1h1v-5h-1l-1-1v-3l1-1h1v-3h-1l-1-1v-1h-3v1l-1,1h-5v1l-1,1h-1l-1-1v-1h-5v1l-1,1h-5l-1-1v-5h-3l-1-1v-3h-1v1l-1,1h-1v1h1l1,1v1l-1,1h-3v1l-1,1h-1l-1-1v-1h-1v1l-1,1h-3v3h1l1,1v1h1l1,1v1h3v-1l1-1h1v-1l1-1h3l1,1v3l-1,1h-1v1h5l1,1v1l-1,1h-1v3h3l1,1v7l-1,1h-1v3h3l1,1v1l-1,1h-1v3h1l1,1v1l-1,1h-1v3h5l1,1v1l-1,1h-1v1l-1,1h-7l-1-1v-3h-19v1l-1,1h-5v1l-1,1h-1v1l-1,1h-3v1l-1,1h-3v1l-1,1h-1v1h1l1,1v1h3l1,1v3h1l1,1v1h1l1,1v3h1l1,1v1l-1,1h-3v3l-1,1h-1v3h1l1,1v1l-1,1h-3l-1-1v-1h-1v1l-1,1h-7l-1-1v-1h-3v1l-1,1h-1v5h1l1,1v1l-1,1h-1v1h5l1,1v1h1l1,1v5l-1,1h-1v1l-1,1h-1v1l-1,1h-3v1l-1,1h-1v1l-1,1h-1v1l-1,1h-5v1l-1,1h-3v1l-1,1h-1v1l-1,1h-3v3l-1,1h-3v5l-1,1h-1v3l-1,1h-1v1l-1,1h-1v1l-1,1h-1v3l-1,1h-1v1l-1,1h-1v1l-1,1h-1v9l-1,1h-1v5l-1,1h-1v1l-1,1h-1v1l-1,1h-1v1l-1,1h-1v3l-1,1h-1v1l-1,1h-1v1l-1,1h-1v1l-1,1h-1v3l-1,1h-1v5l-1,1h-1v1l-1,1h-3v3l-1,1h-5v5l-1,1h-1v1l-1,1h-1l-1-1v-1h-1v1l-1,1h-1l-1-1v-3h-1v1l-1,1h-1v3l-1,1h-1v1l-1,1h-1v1l-1,1h-3v1l-1,1h-1v3l-1,1h-1v1l-1,1h-7v1l-1,1h-1v3l-1,1h-1v1l-1,1h-3v1l-1,1h-3v3l-1,1h-3v1l-1,1h-1v1l-1,1h-1v5l-1,1h-1v1l-1,1h-1v3l-1,1h-3v1l-1,1h-5v1l-1,1h-1v1l-1,1h-3v7h1l1,1v3h1l1,1v5l2,2h3v-1l1-1h5v-1l1-1h3v-3l1-1h5v-1l1-1h1v-1l1-1h1v-1l1-1h1v-3l1-1h1v-5h-1l-1-1v-9l1-1h3v-1l1-1h1l1,1v3l-1,1h-1v5h1l1,1v1h7v-1h-3l-1-1v-7l1-1h1v-1l1-1h1v-7l1-1h7l1,1v3h1l1,1v1l-1,1h-1v9h1l1,1v7h1l1,1v1h3l1,1v1h2l1,1l1-1h9v-1h-1l-1-1v-1l1-1h1v-1l1-1h1l1,1v3h1l1,1v3h1l1,1v3h1l1,1v1h3l1,1v3h1l1,1v1h1l1,1v1h1l1,1v1h3l1,1v1h3l1,1v3h3v-1l1-1h1v-9l1-1h3l1,1v1h1v-1l1-1h7v-1l1-1h15v-1l1-1h3l1,1v1h3l1,1v1h11l1,1v1h3l1,1v1h1l1,1v1h3l1,1v3l-1,1h-1v3l-1,1h-1v1l-1,1h-5v1l-1,1h-5v1l-1,1h-5v1l-1,1h-1v1l-1,1h-5v1l-1,1h-3v1l-1,1h-5l-1-1v-1h-11v1l-1,1h-3v1l-1,1h-1l-1-1v-1h-1l-1-1v-7h-3v3l-1,1h-1v5h1l1,1v1h1l1,1v1h3l1,1v7h1l1,1v1h1l1,1v1h3l1,1v1h1l1,1v3h1l1,1v9h5l1,1v1h3v-1l1-1h9l1,1v1h1l1,1v3h1l1,1v9h1l1,1v1h1l1,1v5l-1,1h-3v5h5v-1l1-1h1v-1l1-1h1v-1h-1l-1-1v-1l1-1h1v-1l1-1h5l1,1v1h1l1,1v3h1l1,1v5l-1,1h-1v1l-1,1h-1v3h3v-1l1-1h1v-1l1-1h3l1,1v9l-1,1h-1v1l-1,1h-1v1h1v-1l1-1h1l1,1v3h3l1,1v1h3v-9l1-1h1v-3h-1l-1-1v-5h-3l-1-1v-1h-1l-1-1v-3l1-1h1v-1h-1l-1-1v-3h-1l-1-1v-9h-1v1l-1,1h-1l-1-1v-7h-1l-1-1v-1h-1l-1-1v-5l1-1h1v-1l1-1h1v-5l1-1h1v-3h-1l-1-1v-5l1-1h3v-1l1-1h5v-1l1-1h1v-1l1-1h3v-11h-1l-1-1v-1l1-1h1v-7l1-1h15l1,1v1h3l1,1v1h5l1,1v1h1l1,1v1h1l1,1v1h5l1,1v5h1l1,1v1h3l1-1h1l2-2h1l2-2h1l2-2h1l2-2h1l2-2v-2h-5v1l-1,1h-1v1l-1,1h-3v1l-1,1h-3l-1-1v-1h-1l-1-1v-1l1-1h3v-1l1-1h1v-1l1-1h5v-1l1-1h1v-3l1-1h3v-1l1-1h5v-1l1-1h5v-1l1-1h1v-1l1-1h3v-1l1-1h11v-1l1-1h1v-1l1-1h1v-15l1-1h1v-1l1-1h1v-1l1-1h3v-1l1-1h3v-1l1-1h1v-1l1-1h3v-1l1-1h7v-1l1-1h5v-1l1-1h3v-1l1-1h3v-1l1-1h3v-1l1-1h3v-1l1-1h1v-1l1-1h1v-3l1-1h1v-1l1-1h1v-1l1-1h1v-1l1-1h1v-1l1-1h1v-1l1-1h1v-1l1-1h1v-1l1-1h5v-1l1-1h1l1,1v1h5l1,1v1h1l1,1v3h3l1,1v1h21l1,1v1h5v-1l1-1h1v-3h-3l-1-1v-1h-3l-1-1v-1h-1l-1-1v-3l1-1h1v-3l1-1h1v-1l1-1h1v-1h-1l-1-1v-5l1-1h1v-1l1-1h1v-5l1-1h1v-5l1-1h3v-1l1-1h1v-1l1-1h1v-3l1-1h1v-1l1-1h1v-1l1-1h1v-1l1-1h1v-1l1-1h1v-1l1-1h1v-1l1-1h1v-3l1-1h1v-1l1-1h1v-1l1-1h1v-1l1-1h1v-5l1-1h1v-5l1-1h1v-5l1-1h1v-1l1-1h7v-1l1-1h3v-1l1-1h11v-1l1-1h1v-1l1-1h1v-1l1-1h3v-1l1-1h1v-5l1-1h3l1,1v3h3l1,1v1h1l1,1v1h1l1,1v1h1v-1l1-1h3v-1l1-1h1l1,1v1h3l1,1v3h3l1,1v3l-1,1h-1v5l-1,1h-1v5l-1,1h-1v3l-1,1h-1v1h1v-1l1-1h1l1,1v1h3l1,1v17l-1,1h-1v1l-1,1h-1v1l-1,1h-5l-1-1v-1h-3l-1-1v-1h-1l-1-1v-3h-1v1l-1,1h-1v1l-1,1h-1v1l-1,1h-1v7l-1,1h-1v3l-1,1h-1v11l-1,1h-1v1l-1,1h-1v1l-1,1h-5v3l-1,1h-1v1h1l1,1v3l-1,1h-1v3l-1,1h-1v1l-1,1h-1v1l-1,1h-1v21l-1,1h-1v1l-1,1h-1v1l-1,1h-1v1l-1,1h-9v1l-1,1h-7v1l-1,1h-1l-1-1v-1h-3l-1-1v-3h-1l-1-1v-1h-3v5h1l1,1v3h1l1,1l1-1h7l1-1h19l6-6v-1l1-1l1,1v1l1,1h6l1,1h5l1,1h4l1-1h5l1-1h5l1-1h19l1,1h2l1,1h3l1,1h2l1,1h2l3,3v1l3,3v1l3,3h1l3,3h4l1-1h9l1-1h1l1-1h1l1-1h1l2-2h1l1-1h1l1-1h1l1-1v-1l1-1v-1l2-2v-1l1-1h5l2,2h1l3,3h1l3,3h1l13,13h1l1,1v-2l1-1h1l1,1v1h1l1,1v1h1l1,1v1l-1,1h-1l2,2v1l3,3v1l2,2v2l1,1v8l-1,1v2l-1,1v9l1,1v5l1,1v1l2,2v1l2,2v1h1l1,1v1h1l1,1v1l3,3v1l4,4v1l3,3v1l1,1h2l1,1v1h3l1,1v1h1l1,1v1h1l1,1v3l-1,1h-1v3h1l1,1v1h1l2,2v1l1,1h1l1,1v1h1l1,1v2l1,1h4l1,1v3h1l1,1v2h1l1,1h1l1,1h1l1,1h1l2,2v1l2,2v1h4l1,1v1h1l1,1v3h3l1,1v1l-1,1h-1v2l1,1h1l1,1h1l2,2l-1,1h-2l-2,2h-1l-2,2h-5l-1,1h-6l-2,2h-1l-3,3h-1l-1,1v1h1l1,1v4l1,1h4l1-1h1l2-2h1l1-1h1l2-2v-1l3-3l1,1v1h1v-1l1-1h1v-1l1-1h3v-1l1-1h3v-1l1-1h3v-1l1-1h3v-1l1-1v-1l3-3v-1l2-2v-1l1-1v-3l1-1v-2l1-1v-19h-6v7l-1,1h-1v1l-1,1h-1v1l-1,1h-1l-1-1v-1h-1l-1-1v-7l1-1h1v-3h-3v3l-1,1h-7l-1-1v-1h-11v1l-1,1h-1l-1-1v-1h-1l-1-1v-11h-1l-1-1v-5l1-1h1v-5l1-1h1v-1l1-1h15l1,1v1h1v-1l1-1h1v-3h-5l-1-1v-3h-1l-1-1v-9h-7l-1-1v-1h-1l-1-1v-1h-13l-1-1v-1h-1l-1-1v-3h-1l-1-1v-3l1-1h1v-3l1-1h1v-1l1-1h1v-1l1-1h9v-1l1-1h1v-1l1-1h1l1,1v3h1l1,1v1h1l1,1v5h9l1,1v1h1v-1l-1-1v-1l-1-1v-1l-1-1v-1l-1-1v-2l-1-1v-1l-1-1v-2l-1-1v-1l-1-1v-2l-1-1v-1l-1-1v-1l-1-1v-1l-2-2v-1l-3-3v-1l-2-2v-1l-2-2v-1l-1-1v-1l-2-2v-1l-1-1v-1l-1-1v-1l-2-2v-1l-1-1v-1l-2-2v-1l-1-1v-1l-2-2v-1l-1-1v-1l-2-2v-1l-1-1v-1l-1-1v-1l-1-1v-2v3l-1,1h-3v1l-1,1h-1v1l-1,1h-3v7l-1,1h-1v3l-1,1h-1v1l-1,1h-1v5l-1,1h-3l-1-1v-3h-1l-1-1v-1h-1v5l-1,1h-3v1l-1,1h-1v1l-1,1h-1v3l-1,1h-9l-1-1v-5l1-1h1v-5l1-1h1v-1l1-1h1v-1l1-1h7l1,1v1h1v-3l1-1h1v-1l1-1h1v-3l1-1h5v-1l1-1h1v-5h-1l-1-1v-3h-1l-1-1v-1h-1l-1-1v-1l1-1h1v-1l1-1h1v-1l1-1h3v-1l1-1h8v-3l-1-1v-3l-1-1v-4l-1-1v-1l1-1v-7l1-1v-5l1-1v-3l1-1v-3l1-1v-2l1-1v-1l2-2v-1l3-3v-1l1-1v-1l1-1v-1l1-1v-1l1-1v-1l1-1v-1l33-33v-1l1-1v-2l1-1v-1l1-1v-2l1-1v-1l1-1v-1l1-1v-1l1-1v-1l3-3h1l2-2h1l2-2h1l2-2h3l1-1h3l1-1h3v-9l1-1v-1l2-2v-1l1-1v-1l3-3h1l4-4h1l3-3h1l2-2h2l1-1h2l1-1h2l1-1h1v-1h-3l-1-1v-3h-1l-1-1v-1h-1v5l-1,1h-1l-1-1v-1h-3l-1-1v-3h-1l-1-1v-3h-1l-1-1v-3h-1l-1-1v-1l1-1h1v-1h-1l-1-1v-1h-1l-1-1v-3h-1v5l-1,1h-3l-1-1v-5h-1l-1-1v-1l1-1h1v-5l1-1h1v-3l1-1h1v-3l1-1h1v-1l1-1h1v-1h-1l-1-1v-1l1-1h5v-1l1-1h1v-1l1-1h1v-1l1-1h5v-5l1-1h1v-1l1-1h3l1,1v1l-1,1h-1v1l-1,1h-1v3h1l1,1v1h5v-3l1-1h1v-3l1-1h1v-3l1-1h1l-3-3v-1l-1-1v-1l-1-1v-2l-1-1v-3l-1-1v-7l1-1v-4l1-1v-3l1-1v-2l1-1v-3l1-1v-2l1-1v-2l1-1v-1l1-1v-4l1-1v-4l1-1v-1l-1-1v-1l1-1h1v-8l-1-1v-4l-1-1v-5l1-1v-2l3-3v-1l1-1v-1l1-1v-1l1-1v-1l1-1v-2l1-1v-1l1-1v-7h-1l-1-1v-3h-1l-1-1v-3h-3l-1-1v-1zM641,880l1-1h3l1,1v3l-1,1h-3l-1-1zM707,840l1-1h1l1,1v1l-1,1h-1l-1-1zM1087,820l1-1h3l1,1v1h5l1,1v1h3l1,1v3l-1,1h-1v3h3v-1l1-1h1l1,1v1h1l1,1v1h1l1,1v3h5l1,1v3l-1,1h-3v1h1l1,1v1h1l1,1v7l-1,1h-1v1l-1,1h-7v1l-1,1h-1l-1-1v-1h-5l-1-1v-3h-1l-1-1v-1h-1l-1-1v-1h-1l-1-1v-13h-1l-1-1v-1h-1l-1-1zM669,802l1-1h9l1,1v3h1l1,1v5l-1,1h-3v1l-1,1h-5l-1-1v-1h-1l-1-1zM509,786l1-1h7l1,1v1l-1,1h-1v1l-1,1h-3l-1-1v-1h-1l-1-1zM713,776l1-1h1l1,1v1l-1,1h-1l-1-1zM723,772l1-1h1l1,1v1l-1,1h-1l-1-1zM1053,756l1-1h1l1,1v1l-1,1h-1l-1-1zM619,748l1-1h1l1,1v3l-1,1h-1l-1-1zM749,744l1-1h1l1,1v1h1l1,1v1h1l1,1v7l-1,1h-1v3l-1,1h-1v1l-1,1h-3l-1-1v-3h-1l-1-1v-5h-1l-1-1v-1h-1v7h1l1,1v5l-1,1h-3v1l-1,1h-5l-1-1v-1h-1v1l-1,1h-1v1h1v-1l1-1h1l1,1v1h1l1,1v1h1l1,1v1h1l1,1v5l-1,1h-1v3l-1,1h-1v1l-1,1h-5l-1-1v-1h-3v1l-1,1h-5v3l-1,1h-7l-1-1v-1h-1l-1-1v-5l1-1h5v-1l1-1h5l1,1v3h1v-3l1-1h3v-1l1-1h1v-3h-1l-1-1v-1h-1l-1-1v-1h-1l-1-1v-5l1-1h1v-3l1-1h1v-3l1-1h1v-1l1-1h3v-1l1-1h5v-1l1-1h5v-1l1-1h3zM1075,738l1-1h1l1,1v1h1l1,1v1h1l1,1v5h1l1,1v3l-1,1h-5v3h1l1,1v3h1l1,1v7h1l1,1v1l-1,1h-1v1l-1,1h-7l-1-1v-1h-1l-1-1v-3l1-1h3v-1h-3v1l-1,1h-1l-1-1v-1h-3l-1-1v-1h-3l-1-1v-1h-3l-1-1v-3h-1l-1-1v-3h-1l-1-1v-3l1-1h3l1,1v1h3l1,1v3h1l1,1v1h3v-1l1-1h1v-1l1-1h1v-1l1-1h1v-9l1-1h1zM611,738l1-1h5l1,1v1h1l1,1v1l-1,1h-1v9h1l1,1v1h7l1,1v1h5v-1l1-1h1l1,1v3l-1,1h-1v1l-1,1h-3v3h1l1,1v3l-1,1h-3v3l-1,1h-1v1l-1,1h-1v1l-1,1h-5v1l-1,1h-5v1l-1,1h-3l-1-1v-1h-1l-1-1v-3h-1l-1-1v-1h-1l-1-1v-1h-1l-1-1v-1h-1l-1-1v-5h-1l-1-1v-1l1-1h1v-3l1-1h1v-3l1-1h1l1,1v3h1v-1l1-1h1v-7l1-1h1v-1l1-1h1v-3l1-1h1zM803,734l1-1h3l1,1v1h7l1,1v3h1l1,1v3l-1,1h-1v1l-1,1h-1l-1-1v-1h-3l-1-1v-1h-1l-1-1v-1h-1l-1-1v-1h-1l-1-1zM749,730l1-1h1l1,1v3l-1,1h-1l-1-1zM673,712l1-1h3l1,1v7l-1,1h-5l-1-1v-1l1-1h1v-1h-1l-1-1v-1l1-1h1zM1093,694l1-1h1l1,1v7l-1,1h-1v7h1l1,1v5h1l1,1v5h1l1,1v1l-1,1h-3l-1-1v-5h-1l-1-1v-1h-1v7l-1,1h-1l-1-1v-1h-1v1l-1,1h-1v1h1l1,1v3l-1,1h-1v3l-1,1h-1v1l-1,1h-7v1l-1,1h-1l-1-1v-1h-3l-1-1v-1h-3l-1-1v-5h-1l-1-1v-5l1-1h1v-5l1-1h1v-1h-1l-1-1v-3l1-1h1v-1l1-1h1v-1l1-1h1v-1l1-1h1l1,1v1h3v-1l1-1h1v-1l1-1h3v-1l1-1h1v-1l1-1h3v-1l1-1h3zM975,682l1-1h1l1,1v5l-1,1h-1l-1-1zM737,682l1-1h9l1,1v1h1l1,1v3l-1,1h-1v3l-1,1h-1v1h1v-1l1-1h1v-1l1-1h1l1,1v1h3l1,1v1l-1,1h-1v3l-1,1h-1v1l-1,1h-1v1l-1,1h-5l-1-1v-3h-3l-1-1v-3h-1l-1-1v-1l1-1h3v-1h-3l-1-1zM1079,678l1-1h21l1,1v1h7l1,1v1h1l1,1v1h3l1,1v3h1l1,1v3l-1,1h-5l-1-1v-1h-7l-1-1v-3h-3v1l-1,1h-3v1l-1,1h-7v1l-1,1h-1v1l-1,1h-3v3l-1,1h-1v1l-1,1h-1v1l-1,1h-1v1l-1,1h-1l-1-1v-1h-1l-1-1v-3h-1l-1-1v-7l1-1h1v-1l1-1h3v-1l1-1h1v-3l1-1h1zM869,676l1-1h7l1,1v7l-1,1h-1v1l-1,1h-1v1l-1,1h-5l-1-1v-1h-1l-1-1v-1h-1l-1-1v-3l1-1h1v-1l1-1h3zM1157,654l1-1h1l1,1v1h1l1,1v1l-1,1h-1v3l-1,1h-1l-1-1v-1h-1l-1-1v-3l1-1h1zM1091,646l1-1h1l1,1v1h1l1,1v1h1l1,1v1l-1,1h-1v1l-1,1h-1l-1-1v-1h-1l-1-1zM909,646l1-1h1l1,1v1l-1,1h-1l-1-1zM807,644l1-1h1l1,1v1l-1,1h-1l-1-1zM817,638l1-1h3l1,1v1l-1,1h-1v1l-1,1h-3v1l-1,1h-5l-1-1v-1l1-1h1v-1l1-1h5zM821,636l1-1h3l1,1v1l-1,1h-3l-1-1zM1141,634l1-1h9l1,1v1h1l1,1v1l-1,1h-1v3l-1,1h-3v1l-1,1h-5v1l-1,1h-5l-1-1v-5l1-1h1v-1l1-1h1v-1l1-1h1zM1045,634l1-1h3l1,1v7h1l1,1v1l-1,1h-1v3l-1,1h-5l-1-1v-1h-5l-1-1v-5l1-1h3v-1l1-1h1v-1l1-1h1zM785,634l1-1h1l1,1v1l-1,1h-1l-1-1zM1003,632l1-1h1l1,1v3h1l1,1v1h1l1,1v3h1l1,1v1h3l1,1v3h1l1,1v1h3l1,1v3l-1,1h-3v1l-1,1h-1v1l-1,1h-3v1h1l1,1v3l-1,1h-1l-1-1v-1h-9l-1-1v-1h-1l-1-1v-1h-1l-1-1v-5l1-1h7l1,1v1h1v-1l1-1h1v-1h-11v1l-1,1h-3l-1-1v-1l1-1h1v-1l1-1h1v-1h-1l-1-1v-3h-1l-1-1v-1l1-1h1v-3l1-1h5v-1l1-1h1zM1037,630l1-1h1l1,1v3h1l1,1v1l-1,1h-1v1l-1,1h-1l-1-1zM675,630l1-1h1l1,1v3l-1,1h-1l-1-1zM671,626l1-1h1l1,1v1l-1,1h-1l-1-1zM663,626l1-1h3l1,1v11h1l1,1v1h1l1,1v3l-1,1h-1v1l-1,1h-1v1l-1,1h-1v1h1l1,1v1l-1,1h-1v1h1l1,1v3h1l1,1v1h1v-1l1-1h1l1,1v1h3v-3h-3l-1-1v-7l1-1h1v-5l1-1h1v-1h-1l-1-1v-1l1-1h5l1,1v3h1l1,1v3h1l1,1v3h3l1,1v5h1v-1l1-1h5l1,1v1h7l1,1v1h1l1,1v1h7l1,1v1h1l1,1v1h1l1,1v1l-1,1h-1v3l-1,1h-3v1l-1,1h-17l-1-1v-1h-1l-1-1v-3h-1l-1-1v-1h-1v1h1l1,1v5h1l1,1v1l-1,1h-3v1l-1,1h-5l-1-1v-1h-1v1l-1,1h-11l-1-1v-7h-1v1l-1,1h-3l-1-1v-1h-3l-1-1v-5l1-1h5v-3h-1l-1-1v-1h-7l-1-1v-1h-1l-1-1v-1l1-1h3v-1l1-1h1v-1l1-1h3v-3h-5l-1-1v-1l1-1h1v-3h-1l-1-1v-9l1-1h5zM1049,622l1-1h5l1,1v1l-1,1h-3v1l-1,1h-1v1h1l1,1v1l-1,1h-7l-1-1v-1l1-1h1v-1l1-1h1v-1l1-1h1zM1015,622l1-1h3l1,1v1l-1,1h-3l-1-1zM981,620l1-1h1l1,1v1l-1,1h-1l-1-1zM687,620l1-1h3l1,1v1l-1,1h-3l-1-1zM1101,618l1-1h1l1,1v1h1l1,1v1h1l1,1v3h1l1,1v1l-1,1h-3v1l-1,1h-1l-1-1v-1h-3l-1-1v-7l1-1h1zM959,614l1-1h7l1,1v1h1l1,1v3h3l1,1v1h1l1,1v1h1l1,1v1l-1,1h-1v1l-1,1h-1v1l-1,1h-3v7h3v-1l1-1h3v-1l1-1h1v-1l1-1h5l1,1v1l-1,1h-3v1h1l1,1v5l-1,1h-5l-1-1v-1h-1v1l-1,1h-1v1h1l1,1v1h3l1,1v3l-1,1h-3l-1-1v-1h-1l-1-1v-1h-1l-1-1v-1h-5v1l-1,1h-3v1l-1,1h-1v1l-1,1h-1l-1-1v-3h-1v1l-1,1h-1l-1-1v-1h-1v1l-1,1h-1v1l-1,1h-1v1l-1,1h-3l-1-1v-3l1-1h1v-3l1-1h3v-1h-3l-1-1v-1l1-1h1v-1l1-1h1v-1l1-1h1v-1l1-1h3v-1h-1l-1-1v-1h-1l-1-1v-1h-1l-1-1v-1h-3l-1-1v-1h-1l-1-1v-1h-1l-1-1v-5l1-1h17zM1175,612l1-1h1l1,1v1h11l1,1v1h1l1,1v3l-1,1h-1v3l-1,1h-1v1l-1,1h-1v1l-1,1h-5l-1-1v-1h-11v1l-1,1h-3l-1-1v-3l1-1h1v-3h-1l-1-1v-1l1-1h1v-1l1-1h1v-1l1-1h7zM663,612l1-1h5l1,1v1l-1,1h-1v3l-1,1h-1l-1-1v-3h-1l-1-1zM1125,608l1-1h1l1,1v1l-1,1h-1l-1-1zM1051,608l1-1h1l1,1v3l-1,1h-3v1l-1,1h-3l-1-1v-1l1-1h1v-1l1-1h3zM927,608l1-1h9l1,1v1l-1,1h-3v1l-1,1h-5v3l-1,1h-1l-1-1v-5l1-1h1zM657,606l1-1h1l1,1v1l-1,1h-1l-1-1zM1031,604l1-1h1l1,1v1l-1,1h-1l-1-1zM661,604l1-1h1l1,1v1h1l1,1v3l-1,1h-3l-1-1zM1033,602l1-1h3l1,1v1l-1,1h-3l-1-1zM1019,600l1-1h1l1,1v1l-1,1h-1l-1-1zM1131,594l1-1h3l1,1v1l-1,1h-1v1l-1,1h-1l-1-1zM1137,592l1-1h5l1,1v5l-1,1h-3l-1-1v-3h-1l-1-1zM1129,592l1-1h1l1,1v1l-1,1h-1l-1-1zM1141,582l1-1h1l1,1v7l-1,1h-5l-1-1v-1l1-1h1v-1l1-1h1zM1087,568l1-1h1l1,1v1l-1,1h-1l-1-1zM925,566l1-1h1l1,1v1l-1,1h-1l-1-1zM1133,560l1-1h1l1,1v1h1l1,1v1l-1,1h-1v1l-1,1h-3v3l-1,1h-5l-1-1v-5l1-1h5v-1l1-1h1zM1103,558l1-1h1l1,1v3l-1,1h-1v1l-1,1h-3v1l-1,1h-1v1l-1,1h-7l-1-1v-1l1-1h1v-1l1-1h1v-1l1-1h5v-1l1-1h3zM1113,556l1-1h3l1,1v1l-1,1h-3l-1-1zM1031,556l1-1h1l1,1v1l-1,1h-1l-1-1zM1091,552l1-1h3l1,1v1l-1,1h-3l-1-1zM1095,550l1-1h1l1,1v1l-1,1h-1l-1-1zM959,548l1-1h3l1,1v1l-1,1h-3l-1-1zM1173,528l1-1h1l1,1v1l-1,1h-1l-1-1zM1045,516l1-1h1l1,1v1l-1,1h-1l-1-1zM1047,510l1-1h1l1,1v1h1l1,1v3l-1,1h-3l-1-1zM1143,500l1-1h1l1,1v1l-1,1h-1l-1-1zM1165,494l1-1h3l1,1v1h1l1,1v3h1l1,1v3h1l1,1v1l-1,1h-1v1l-1,1h-9v1l-1,1h-1v1l-1,1h-1l-1-1v-3h-3l-1-1v-1l1-1h1v-7l1-1h5v-1l1-1h1zM1165,480l1-1h1l1,1v1l-1,1h-1l-1-1zM1161,480l1-1h1l1,1v1h1l1,1v1l-1,1h-3l-1-1zM1167,478l1-1h1l1,1v1l-1,1h-1l-1-1zM1225,476l1-1h1l1,1v1h1l1,1v1h1l1,1v3l-1,1h-3l-1-1v-1h-1l-1-1zM1058,398v1l-1,1h-5v1l-1,1h-7v1l-1,1h-6l-2,2h-7v1l-1,1h-1v3l-1,1h-1v1l-1,1h-3v1h7l1,1v1l-1,1h-5v1l-1,1h-1v1l-1,1h-5v1l-1,1h-1v1l-1,1h-1v1l-1,1h-3v1l-1,1h-3v1l-1,1h-1v1l-1,1h-5v1l-1,1h-1v1l-1,1h-9v5l-1,1h-1v1h1l1,1v7h1l1,1v3h5l1,1v1h1v-1l1-1h3l1,1v1h1l1,1v1h3l1,1v1h3l1,1v1h7v-1l1-1h1v-5l1-1h1v-3h-1l-1-1v-5l1-1h3v-1l1-1h5v-1l1-1h3v-3h-1l-1-1v-3l1-1h1v-1l1-1h1l1,1v9h1l1,1v1l-1,1h-1v1h5v-1l1-1h3v-1l1-1h1v-1l1-1h1v-3l1-1h1v-3h-1l-1-1v-1l1-1h1v-3l1-1h3v-5h-3v1l-1,1h-1l-1-1v-3l1-1h3v-1l1-1h1v-3l1-1h1v-3l1-1h1v-1l1-1h3v-1l1-1h5v-5h-3l-1-1v-1zM1009,432l1-1h3l1,1v3l-1,1h-1v1l-1,1h-7l-1-1v-1l1-1h1v-1l1-1h3zM1013,430l1-1h1l1,1v1l-1,1h-1l-1-1zM1015,428l1-1h3l1,1v1l-1,1h-3l-1-1zM1019,426l1-1h1l1,1v1l-1,1h-1l-1-1zM1027,418l1-1h1l1,1v1l-1,1h-1l-1-1zM1232,396v1l-1,1h-1v1l-1,1h-1v5h1l1,1v1l-1,1h-1v1h3v-3l1-1h5v-1l1-1h1v-3h-1l-1-1v-1h-3l-1-1v-1zM758,396v1l-1,1h-1v3h1v-1l1-1h1v-1l1-1h1v-1zM994,364v5h1v-3l1-1h1v-1zM420,362v1h1l1,1v3h1v-1l1-1h1v-1h-1l-1-1v-1zM480,358v7h1l1,1v1l-1,1h-1v1l-1,1h-1v1l-1,1h-3v3h1l1,1v5h1l1,1v1h1l1,1v5h1l1,1v5h1l1,1v1h1l1,1v1h1l1,1v1h3l1,1v1h1l1,1v3h1l1,1v1h3l1,1v1h13v-1h-1l-1-1v-7l1-1h1v-7h-1l-1-1v-1l1-1h1v-1h-1l-1-1v-1h-1v3l-1,1h-1l-1-1v-7l1-1h3v-3h-1l-1-1v-1h-9v1l-1,1h-1l-1-1v-7l1-1h1v-1l1-1h5v-3h-1l-1-1v-1h-3l-1-1v-1h-1l-1-1v-1h-1v1l-1,1h-3l-1-1v-1h-1l-1-1v-1zM501,386l1-1h3l1,1v1l-1,1h-1v1l-1,1h-1l-1-1zM499,384l1-1h1l1,1v1l-1,1h-1l-1-1zM408,352v1l-1,1h-1v1h1l1,1v1h3l1,1v1h1l1,1v1h3v-1l1-1h1v-1h-1l-1-1v-3h-5l-1-1v-1zM818,348v1l-1,1h-3v1l-1,1h-1v1l-1,1h-1v3l-1,1h-3v1l-1,1h-9v1l-1,1h-3v1l-1,1h-1v3l-1,1h-1v3l-1,1h-1v1l-1,1h-1v1l-1,1h-1v1h1l1,1v1l-1,1h-5v1l-1,1h-1v1l-1,1h-3v1l-1,1h-1v3l-1,1h-1v1l-1,1h-1l-1-1v-1h-1v1h1l1,1v1l-1,1h-1v1h7l1,1v1h1v-1l1-1h5l1,1v3l-1,1h-11l-1-1v-1h-1v1l-1,1h-1v1l-1,1h-1v1l-1,1h-1v1l-1,1h-1v3h1v-1l1-1h3v-1l1-1h5v-1l1-1h3v-1l1-1h3l1,1v1l-1,1h-1v1l-1,1h-1v1l-1,1h-3v3h5v-1l1-1h1v-1l1-1h1v-1l1-1h3l1,1v1h1l1,1v3l-1,1h-1v3l-1,1h-3v1l-1,1h-3v1l-1,1h-5v1l-1,1h-1v1l-1,1h-1v1l-1,1h-3v1l-1,1h-1l-1-1v-3h-3l-1-1v-9h-1l-1-1v-1l1-1h1v-1h-1l-1-1v-1h-3v1l-1,1h-1v1l-1,1h-3v3h3l1,1v5l-1,1h-1v1h3v-1l1-1h1l1,1v3h1l1,1v1h1l1,1v1h1l1,1v1l-1,1h-1v1l-1,1h-5v5l-1,1h-3v1h1l1,1v5l-1,1h-3l-1-1v-3h-1l-1-1v-1h-1l-1-1v-1h-1l-1-1v-1h-1l-1-1v-1h-3v1l-1,1h-7v1l-1,1h-1l-1-1v-1h-3v1l-1,1h-3v1l-1,1h-3v3l-1,1h-1v1l-1,1h-1v3l-1,1h-1v1h23l1,1v1h11l1,1v1h1l1,1v1h1l1,1v1h1l1,1v3h1l1,1v3h1v-1l1-1h3v-1l1-1h1v-3l1-1h1v-1l1-1h1v-1l1-1h5v-1l1-1h1v-1l1-1h5l1,1v3h3v-1l1-1h3l1,1v3h5l1,1v1l-1,1h-3v1l-1,1h-7l-1-1v-1h-1v1h1l1,1v1l-1,1h-1v1l-1,1h-3l-1-1v-5h-1v3l-1,1h-1v1h1l1,1v1l-1,1h-1v3l-1,1h-1v1l-1,1h-1v1h1l1,1v1l-1,1h-1v1l-1,1h-3v3l-1,1h-1v1h1l1,1v3l-1,1h-3v1l-1,1h-1v1h3l1,1v1h1l1,1v1l-1,1h-1v1h3l1,1v1h3l1,1v7h3v-1l1-1h3v-1l1-1h3v-1l1-1h1v-3l1-1h1v-1h-3l-1-1v-1h-1l-1-1v-1l1-1h1v-1l1-1h1v-1l1-1h1v-1l1-1h5l1,1v1l-1,1h-3v5h5v-1l1-1h3v-3h-1l-1-1v-1l1-1h1v-1h-1l-1-1v-3l1-1h1v-3h-1l-1-1v-3l1-1h1v-1l1-1h3v-1l1-1h3v-1l1-1h1v-1l1-1h1v-1l1-1h1l1,1v1h1l1,1v3h1v-1l1-1h1v-1l1-1h5v-3l1-1h3v-1l1-1h1l1,1v1h3v-1l1-1h1v-1l1-1h1v-1l1-1h5l1,1v1h3l1,1v1l-1,1h-1v1l-1,1h-1v1h7v-3l1-1h5v-3h-3l-1-1v-3l1-1h1v-1l1-1h3l1,1v3h3v-1l1-1h3v-1l1-1h3l1,1v1h3l1,1v1h1l1,1v1h3l1,1v1l-1,1h-1v1l-1,1h-1v1l-1,1h-1v1h3l1,1v1h1v-1l1-1h5v-3l1-1h9l1,1v1h1v-1l1-1h3v-1l1-1h3v-1l1-1h1v-1l1-1h1v-1l1-1h1v-1l1-1h1v-1l1-1h1v-5l1-1h1v-5h-1l-1-1v-3l1-1h1v-3h-1l-1-1v-5h-1l-1-1v-5h-1l-1-1v-3h-1l-1-1v-1h-5l-1-1v-1l1-1h1v-1l1-1h1v-17h-1l-1-1v-3h-1l-1-1v-1h-3l-1-1v-1l1-1h1v-1l1-1h3v-3h-3v1l-1,1h-3l-1-1v-1l1-1h1v-3l1-1h1v-1h-5l-1-1v-1h-3l-1-1v-1h-1l-1-1v-1h-1l-1-1v-1h-5l-1-1v-7h-1l-1-1v-3h-5v1l-1,1h-7l-1-1v-1h-9v1l-1,1h-3v1l-1,1h-5l-1-1v-1h-1l-1-1v-1h-9l-1-1v-1h-5v1l-1,1h-3l-1-1v-1zM771,482l1-1h1l1,1v1h1l1,1v1l-1,1h-1v1l-1,1h-1l-1-1zM749,464l1-1h1l1,1v1l-1,1h-1l-1-1zM747,448l1-1h3l1,1v3l-1,1h-1v1l-1,1h-5v1l-1,1h-1l-1-1v-3l1-1h3v-1l1-1h1zM739,448l1-1h1l1,1v1l-1,1h-1l-1-1zM731,448l1-1h1l1,1v1l-1,1h-1l-1-1zM715,448l1-1h3l1,1v1l-1,1h-3l-1-1zM735,446l1-1h3l1,1v1l-1,1h-3l-1-1zM719,446l1-1h1l1,1v1l-1,1h-1l-1-1zM799,444l1-1h5l1,1v1h1l1,1v3l-1,1h-3v1l-1,1h-1v1l-1,1h-1v1h3v-1l1-1h1l1,1v1h5v-1l1-1h3l1,1v1l-1,1h-1v1l-1,1h-1v1l-1,1h-3v1l-1,1h-11l-1-1v-9l1-1h3v-3h-1l-1-1v-1l1-1h1zM759,440l1-1h3l1,1v1l-1,1h-3l-1-1zM763,436l1-1h1l1,1v3l-1,1h-1l-1-1zM753,424l1-1h1l1,1v1l-1,1h-1l-1-1zM779,400l1-1h1l1,1v1l-1,1h-1l-1-1zM781,398l1-1h5l1,1v1l-1,1h-5l-1-1zM881,396l1-1h1l1,1v1l-1,1h-1l-1-1zM885,394l1-1h1l1,1v1l-1,1h-1l-1-1zM771,394l1-1h1l1,1v1l-1,1h-1l-1-1zM787,382l1-1h1l1,1v1l-1,1h-1l-1-1zM791,374l1-1h3l1,1v1l-1,1h-3l-1-1zM795,370l1-1h1l1,1v3l-1,1h-1l-1-1zM837,368l1-1h1l1,1v1l-1,1h-1l-1-1zM871,356l1-1h1l1,1v1l-1,1h-1l-1-1zM788,340v3l-1,1h-3v1h1l1,1v1h5l1,1v3h7v-1l1-1h3v-3h-1l-1-1v-1h-5v1l-1,1h-3l-1-1v-1h-1l-1-1v-3zM768,340v1l-1,1h-3v1l-1,1h-1v3h5v-1l1-1h3l1,1v1l-1,1h-1v1h3v-1l1-1h1v-1l1-1h1v-1l1-1h1v-1h-3v1l-1,1h-5l-1-1v-3zM366,336v7h1v-1l1-1h3v-3h-1l-1-1v-1zM754,328v1h5v-1zM390,326v3l-1,1h-1v7l-1,1h-1v1h1v-1l1-1h1l1,1v1h1l1,1v3h1v-3l1-1h1l1,1v3h3v-3l1-1h1v-1l1-1h1v-3l1-1h1v-3h-1l-1-1v-1h-7l-1-1v-1zM874,324v1l-1,1h-3v1l-1,1h-3v1l-1,1h-1v3l-1,1h-1v3h1l1,1v3l-1,1h-1v1h3v-1l1-1h1v-1l1-1h1v-1l1-1h3v-1l1-1h1v-1h-1l-1-1v-1l1-1h3v-3l1-1h1v-1h-1l-1-1v-1zM867,336l1-1h1l1,1v1l-1,1h-1l-1-1zM742,322v1l-1,1h-1v1h5v-3zM998,300v1l-1,1h-1v1h3l1,1v1h1v-5zM980,300v1h3v-1zM956,300v1h3v-1zM920,280v1l-1,1h-1v1h5v-3zM960,276l-4,4v1h1l1,1v3h1l1,1v1h1v-3l1-1h1l1,1v1h1l1,1v1h5v-3h-1l-1-1v-1h-3l-1-1v-1h-1l-1-1v-3zM982,268v3h1v-3zM964,262v1l-1,1h-1v1l-1,1h-5v1l-1,1h-3v2h2l1,1h10l1,1v1h1v-1l1-1h7v-3h-1v1l-1,1h-3l-1-1v-3h-1l-1-1v-1h-1l-1-1v-1zM958,254v5l-1,1h-1v3h1v-1l1-1h1v-3l1-1h5l1,1v1h1v-1h-1l-1-1v-1h-1l-1-1v-1zM870,246v1l-1,1h-1v1h1l1,1v1l-1,1h-3v1l-1,1h-7v3l-1,1h-1v5h1l1,1v1l-1,1h-1v3l-1,1h-5v1h1l1,1v1h1l1,1v3h1l1,1v1h1l1,1v1h3v-1l1-1h5v-1l1-1h1l1,1v1h1v-1l1-1h13v-1l1-1h1l1,1v1h1l1,1v1h3v-3l1-1h1l1,1v1h1l1,1v3l-1,1h-1v1h1l1,1v3h1l1,1v3h1l1,1v1h9v-1h-1l-1-1v-1h-1l-1-1v-1h-1l-1-1v-7l1-1h1l1,1v1h3v-1h-1l-1-1v-1h-1l-1-1v-1h-3l-1-1v-1h-3v1l-1,1h-1l-1-1v-1h-3l-1-1v-3l1-1h1v-3h-3l-1-1v-5h-1l-1-1v-1h-3l-1-1v-1h-3l-1-1v-3h-1l-1-1v-1h-3l-1-1v-1h-1v1l-1,1h-3l-1-1v-1l1-1h1v-1zM876,242v3h3v-1h-1l-1-1v-1zM512,238v1l-1,1h-1v1h1l1,1v3h1v-1l1-1h1l1,1v3h1v-1l1-1h1v-3h-1l-1-1v-1h-3l-1-1v-1zM492,236v1l-1,1h-1v3h1l1,1v1h1v-1h-1l-1-1v-3l1-1h1v-1zM264,228v1h3v-1zM300,224v3l-1,1h-1v5h5v-1l1-1h1v-5h-1l-1-1v-1zM498,220v3l-1,1h-1v9h3v-5l1-1h1v-3h-1l-1-1v-1l1-1h1v-1zM476,220v1h1l1,1v1l-1,1h-1v1l-1,1h-1v1l-1,1h-3v3h1v-1l1-1h3v-1l1-1h1l1,1v1h3v-1h-1l-1-1v-1l1-1h1v-1l1-1h3l1,1v1h1l1,1v1h1v-3h-1l-1-1v-1h-3l-1-1v-1h-1v1l-1,1h-3l-1-1v-1zM290,216v1l-1,1h-1v5h1l1,1v1h3v-3l1-1h1v-3h-3l-1-1v-1zM486,208v5h1l1,1v1h3v-1l1-1h1v-1h-1l-1-1v-3zM480,206v7h1v-7zM476,198v1h1l1,1v1h1l1,1v1h1v-1l1-1h1v-1h-3l-1-1v-1zM430,180v5h1l1,1v1h1l1,1v3h1v-1l1-1h1v-9zM216,166v1h3l1,1v1h3v-3zM390,160v1l-1,1h-9v11h1l1,1v3h1l1,1v5h7l1,1v3h5v-1h-1l-1-1v-1h-3l-1-1v-1l1-1h7v-1l1-1h1l1,1v1h1l1,1v1h3l1,1v3l-1,1h-1l-1-1v-1h-3v1l-1,1h-1v1l-1,1h-3v1h3l1,1v3h1v-1l1-1h5l1,1v1h1v-1l1-1h1v-3l1-1h1l1,1v5h5v-1l1-1h1v-1h-1l-1-1v-3l1-1h1v-1l1-1h1v-1l1-1h1v-1h-1l-1-1v-1h-1l-1-1v-3h-1l-1-1v-1h-1l-1-1v-1h-1l-1-1v-1h-1l-1-1v-1h-1l-1-1v-1h-1l-1-1v-1h-3l-1-1v-1h-1l-1-1h-4l-1-1zM208,160v1l-1,1h-1v7h1l1,1v1h1v-1l1-1h3l1,1v5h3v-3h-1l-1-1v-1h-1l-1-1v-3h-1l-1-1v-3h-1l-1-1v-1zM134,104v5h4l1,1l-1,1h-3l-1,1h-2l-1,1h-3v9l1,1v1l-3,3l-1-1h-1l-1-1h-1l-2-2h-1l-1-1h-1l-1-1h-1l-1-1h-1l-1-1h-1l-2-2h-1l-1-1h-1l-2-2h-1l-2-2h-1v1l-1,1h-1v3l-1,1h-1v3l-1,1h-1v1l-1,1h-1v14l1,1v8l1,1v11l-1,1v3l-1,1v3l-1,1v3l-1,1v5l-1,1v5l-1,1v5h1l1,1v1l-1,1h-1v1l-2,2v5l-1,1v3l-1,1v2l-1,1v2l-1,1v6l-1,1h-1v3l-1,1h-1v1l-1,1v1l-1,1v1l-1,1v1l-1,1v1l-1,1v2l-1,1v1l-1,1v2l-1,1v1l-1,1v2l-1,1v1l-1,1v2l-1,1v1l-1,1v1l-1,1v1l-1,1v1l-2,2v1l-1,1v1l-1,1v1l-2,2v1l-1,1v1l-2,2v1l-2,2v1l-1,1v1l-2,2v1l-2,2v1l-1,1v7l-1,1v2l-1,1v9l-1,1l1,1v9h5v-3l1-1h11v-1l1-1h1v-1l1-1h1v-7l1-1h1v-1l1-1h1v-1l1-1h7l1,1v1h3l1,1v1h3l1,1v1h9v-1l1-1h1v-1l1-1h1v-1l1-1h1v-3l1-1h13v-3l1-1h1v-9l1-1h1v-3l1-1h1v-5h-1l-1-1v-3l1-1h1v-1h-1l-1-1v-1l1-1h1v-1l1-1h1v-3h-1l-1-1v-1l1-1h1v-1h-1l-1-1v-15l1-1h1v-5l1-1h1v-5l1-1h1v-1l1-1h1v-3h-1l-1-1v-1h-1l-1-1v-1h-1l-1-1v-1h-3l-1-1v-3h-1l-1-1v-1l1-1h1v-3l1-1h1v-1l1-1h1v-3l1-1h1v-1h-1l-1-1v-1l1-1h1v-3l1-1h1v-1l1-1h5l1,1v1h3l1,1v1h5v-3l1-1h1v-1h-3l-1-1v-1l1-1h1v-3l1-1h1v-1l1-1h3l1,1v1h19v-1l1-1h1l1,1v1h5v-1l1-1h5l1,1v1h3v-1l1-1h1v-1l1-1h1v-1l1-1h1v-1h-1l-1-1v-1l1-1h1v-3l1-1h1v-1l1-1h5l1,1v1h1v-3h-1l-1-1v-7h-1l-1-1v-3h-3v1l-1,1h-3l-1-1v-1h-3l-1-1v-1l1-1h1v-1l1-1h1v-1l1-1h9v-1h-7l-1-1v-5l1-1h1v-7h-3l-1-1v-1h-3l-1-1v-1h-3l-1-1v-3h-2l-1-1h-2l-1-1h-3l-1-1h-3l-1-1h-2l-1-1l-1,1h-7l-1-1v-1h-1l-1-1v-1h-3l-1-1h-2l-1-1h-3l-1-1h-3l-1-1zM95,272l1-1h1l1,1v5h1l1,1v1h1l1,1v9l-1,1h-1l-1-1v-1h-3l-1-1v-1h-3l-1-1v-1h-5v1l-1,1h-5l-1-1v-5l1-1h1v-1l1-1h5v-1l1-1h5v-1l1-1h1zM95,242l1-1h5l1,1v1h9l1,1v5h1l1,1v3h3l1,1v7l-1,1h-5v1l-1,1h-3l-1-1v-1h-1v1l-1,1h-3l-1-1v-1h-1l-1-1v-1h-1l-1-1v-3l1-1h1v-1h-3l-1-1v-5h-1l-1-1v-3l1-1h1zM111,226l1-1h1l1,1v3l-1,1h-1l-1-1zM121,216l1-1h1l1,1v3l-1,1h-1l-1-1zM197,156l1-1h1l1,1v1l-1,1h-1l-1-1zM135,128l1-1h11l1,1v5l-1,1h-9l-1-1v-1h-1l-1-1z"/>
<path fill="#90e078" fill-rule="evenodd" d="M660,920v1l-1,1h-1v3h1l1,1v3h1l1,1v1h1v-3h-1l-1-1v-5l1-1h1v-1zM650,902v1h1l1,1v3h1l1,1v1h3v-3h-1l-1-1v-3zM1168,874v3h3l1,1v1h1v-5zM1118,840v1h1l1,1v3l-1,1h-1v3h1v-1l1-1h3l1,1v1l-1,1h-1v1l-1,1h-1v1l-1,1h-1v1l-1,1h-3v1l-1,1h-1v1h1l1,1v3l-1,1h-1l-1-1v-1h-1l-1-1v-1h-3l-1-1v-1h-3l-1-1v-1h-7v3h1l1,1v1h1l1,1v2l1,1h2l1,1v1h1l1,1v1l-1,1l1,1h1l1,1v1h3l1,1v1h3l1,1v1h3l1,1v5l-1,1h-1v3h1l1,1v2l1,1h2l1,1v1h1v-1l1-1h5l1,1v1h1l1,1v11h1l1,1v1h1l1,1h1l1,1h1l2,2h4l1,1v1h1l1,1v1h1l1,1v3h3l1,1v1h1l1,1v3l-1,1h-3l1,1h1l1,1h1l2,2l-1,1h-2l-2,2h-1l-2,2h-5l-1,1h-6v1l-1,1h-2l-3,3v6h1l1,1v1h3l1-1h1l2-2h1l1-1h1l2-2v-1l3-3l1,1v1h1v-1l1-1h1v-1l1-1h1v-1l1-1h3v-1l1-1h3v-1l1-1h3v-1l1-1h2v-1l3-3v-1l2-2v-1l1-1v-3l1-1v-2l1-1v-15l-1-1v-1h-3v7l-1,1h-1v1l-1,1h-7l-1-1v-1h-1l-1-1v-3h-1l-1-1v-1h-5l-1-1v-1h-9v1l-1,1h-3l-1-1v-1h-3l-1-1v-1h-1l-1-1v-1l1-1h1v-5h-1l-1-1v-9l1-1h1v-3h-1l-1-1v-1h-3v1l-1,1h-7l-1-1v-1l1-1h1v-1l1-1h7v-1l1-1h3l1,1v1h1v-1l1-1h5l1,1v1h1v-3l1-1h1v-1l1-1h1v-5h-1l-1-1v-3h-3l-1-1v-1h-5l-1-1v-1h-5l-1-1v-1h-1v1l-1,1h-1l-1-1v-1h-1l-1-1v-3h-1l-1-1v-1zM1173,908l1-1h1l1,1v1l-1,1h-1l-1-1zM1133,900l1-1h1l1,1v1l-1,1h-1l-1-1zM722,838v1l-1,1h-3v1l-1,1h-1v1l-1,1h-9v3h5l1,1h1l2-2h1l2-2h1l2-2h1l2-2h1l2-2zM1084,836v5l1,1v5l1,1v1l2,2h3v-3h-1l-1-1v-1h-1l-1-1v-9zM838,814v3l3,3v1l1,1h1l2,2h1l2,2h1l2,2h1l2,2h4h-4l-1-1v-1h-1l-1-1v-1h-1l-1-1v-7h-1l-1-1v-1h-7l-1-1v-1zM814,812v1l-1,1h-20h4l1,1h3l1,1h4l1-1h9l1-1h1l1-1h2l1,1h1l2,2h1l1,1h4l1-1h4l-1-1v-1h-1v1l-1,1h-7l-1-1v-1h-3l-1-1v-1zM906,804v5l-1,1h-1v1l-1,1h-1v3l-1,1h-1v1l-1,1h-3v1l-1,1h-1h9v-1l1-1v-3l1-1v-3l1-1zM506,794v1l-1,1h-3v3l-1,1h-3v3l-1,1h-1l-1-1v-1h-3v3l-1,1h-1v3l-1,1h-1v3h1l1,1v1h1l1,1v5h1v-1l1-1h1l1,1v1h3v-3l1-1h3v-1l1-1h1v-1l1-1h5v-3h-1l-1-1v-3l1-1h3v-1l1-1h1v-5h-1v1l-1,1h-3l-1-1v-1h-1l-1-1v-3zM526,784v3h3v-3zM516,780v3h1v-3zM1116,770v7l-1,1h-1v1l-1,1h-3v5l-1,1h-1v1l-1,1h-1v3h1l1,1v1l-1,1h-15v1l-1,1h-1v3l-1,1h-1v3l-1,1h-5v3h1l1,1v1l-1,1h-3v1h1l1,1v1h1l1,1v2l1,1v2h10v-1l1-1h1v-1l1-1h1l1,1v1h1l1,1v5h1l1,1v5h3l1,1v1h1l1,1v1h1l1,1v1h5v-1l1-1h1l1,1v1h3v-3l1-1h1v-1l1-1h1v-1l1-1h1v-1l1-1h3v-1l1-1h1l1,1v1h3v-1l1-1h1v-1l1-1h3l1,1v5h1l1,1v1h3l1,1v3h5v-1l-1-1v-1l-1-1v-2l-1-1v-1l-1-1v-2l-1-1v-1l-1-1v-2l-1-1v-1l-1-1v-1l-1-1v-1l-2-2v-1l-3-3v-1l-2-2v-1l-2-2v-1l-1-1v-1v1l-1,1h-1l-1-1v-3l1-1l-1-1v-1l-1-1v-1l-2-2v-1l-1-1v-1h-3l-1-1v-1l1-1h1l-1-1v-1l-2-2v-1l-1-1v-1l-2-2v-1l-1-1zM1107,812l1-1h1l1,1v1l-1,1h-1l-1-1zM1127,788l1-1h1l1,1v1h3l1,1v1l-1,1h-1v1l-1,1h-3l-1-1zM1113,780l1-1h1l1,1v3h1l1,1v3l-1,1h-3l-1-1zM390,700v13h1v-1l1-1h5v-1l1-1h1v-1l1-1h1v-5h-3l-1-1v-1zM438,690v1l-1,1h-1v1l-1,1h-1v1h1l1,1v3h5v-1h-1l-1-1v-1l1-1h1v-3h-1l-1-1v-1zM430,686v5h1v-1l1-1h3v-1h-3l-1-1v-1zM962,648v3h3v-1l1-1h1v-1zM670,646v3h1v-3zM892,630v1l-1,1h-3v1l-1,1h-1v1h1v-1l1-1h5v-3zM654,620v1l-1,1h-1v3h1v-3l1-1h5v-1zM874,614v1l-1,1h-1v1h5v-3zM648,608v3h3l1,1v1h1v-3h-3l-1-1v-1zM876,602v1h1l1,1v1h1v-3zM690,584v1l-1,1h-3v5l-1,1h-1v1h1l1,1v1h1l1,1v1h1l1,1v1h1l1,1v3h1v-1l1-1h1v-1l1-1h1v-9l1-1h1v-1h-5l-1-1v-1h-1l-1-1v-1zM682,564v1l-1,1h-1v1h3l1,1v7h1l1,1v3l-1,1h-1v1h1v-1l1-1h5l1,1v1h3v-1l1-1h1v-1l1-1h3v-1l1-1h1v-3h-1l-1-1v-3l1-1h1v-3h-17v1l-1,1h-1l-1-1v-1zM1100,556v1h3v-1zM950,548v3l-1,1h-1v1l-1,1h-1l-1-1v-1h-3v1l-1,1h-5l-1-1v-1h-5l-1-1v-1h-1v1l-1,1h-1v1l-1,1h-1v1l-1,1h-1v1h1l1,1v5l-1,1h-1v1h3v-1l1-1h3l1,1v5h1v-1l1-1h1v-7l1-1h3v-1l1-1h5l1,1v3h1v-1l1-1h5l1,1v1h3v-1l1-1h3v-1l1-1h3l1,1v3h1v-1l1-1h3v-1l1-1h1v-1h-1l-1-1v-3h-3l-1-1v-1h-1v1l-1,1h-5l-1-1v-3h-1v1l-1,1h-1l-1-1v-1zM933,554l1-1h1l1,1v1l-1,1h-1l-1-1zM454,540v1l-1,1h-3v1l-1,1h-1v3l-1,1h-1v3h1l1,1v1h5l1,1v1h1l1,1v1h5v-1l1-1h1v-9h-1l-1-1v-1h-1l-1-1v-3zM520,536v3h1v-3zM792,514v3h1v-1l1-1h1v-1zM812,508v1l-1,1h-5v1l-1,1h-1v1l-1,1h-1v1l-1,1h-1v3h1l1,1v5l-1,1h-1v3h5v-1l1-1h1v-1l1-1h5v-1l1-1h3v-1l1-1h1v-1l1-1h3v-3h-3l-1-1v-3l1-1h3v-1l1-1h1v-1h-3v1l-1,1h-5l-1-1v-1zM809,520l1-1h3l1,1v1l-1,1h-1v1l-1,1h-1l-1-1zM815,516l1-1h1l1,1v3l-1,1h-3l-1-1v-1l1-1h1zM460,508v1h1l1,1v1h1v-3zM1032,498v1l-1,1h-1v1l-1,1h-1v1l-1,1h-3v1h1l1,1v1l-1,1h-1v1l-1,1h-1v1l-1,1h-5l-1-1v-1h-7v1l-1,1h-3l-1-1v-1h-3v1l-1,1h-1v1l-1,1h-1v3l-1,1h-1v5l-1,1h-1v1h3l1,1v1l-1,1h-1v5l-1,1h-1v1l-1,1h-1v1l-1,1h-1v1l-1,1h-1v3l-1,1h-1v1l-1,1h-1v5h3l1,1v3l-1,1h-1v1h1l1,1v1h1l1,1v1h3l1,1v1h11v-1l1-1h3v-1l1-1h9l1,1v1h1v-1l1-1h1v-1l1-1h5v-1l1-1h1v-1l1-1h13v-3l1-1h3v-1l1-1h3v-1l1-1h1v-1l1-1h1v-1l1-1h3v-1l1-1h1v-1l1-1h1v-1l1-1h3v-3l1-1h1v-3h-1v1l-1,1h-3v1l-1,1h-5l-1-1v-3h-3v3h3l1,1v1l-1,1h-5l-1-1v-1h-1l-1-1v-3l1-1h1v-1l1-1h1v-1l1-1h1v-1l1-1h3v-3h-1l-1-1v-1l1-1h1v-1h-1l-1-1v-1h-3v1l-1,1h-1v1l-1,1h-1v1l-1,1h-1v1l-1,1h-3l-1-1v-3l1-1h1v-1h-1l-1-1v-1l1-1h1v-1l1-1h1v-1l1-1h1v-1l1-1h3v-5h-7l-1-1v-1zM1001,550l1-1h1l1,1v1l-1,1h-1l-1-1zM1027,544l1-1h1l1,1v3l-1,1h-1v1l-1,1h-1l-1-1v-3l1-1h1zM1043,540l1-1h1l1,1v1l-1,1h-1l-1-1zM1047,538l1-1h1l1,1v1l-1,1h-1l-1-1zM993,538l1-1h3l1,1v1l-1,1h-1v1l-1,1h-3l-1-1v-1l1-1h1zM1001,534l1-1h1l1,1v3l-1,1h-1l-1-1zM1047,520l1-1h1l1,1v1l-1,1h-1l-1-1zM1033,510l1-1h1l1,1v1l-1,1h-1l-1-1zM526,478v1h3v-1zM1160,476v1l-1,1h-1v1l-1,1h-1v1l-1,1h-1v1h1v-1l1-1h3v-3l1-1h7v-1zM782,464v1l-1,1h-5v1l-1,1h-3v1l-1,1h-3v1l-1,1h-1v1h5l1,1v5h1l1,1v1h3v-1l1-1h1l1,1v3l-1,1h-1v1h1l1,1v1l-1,1h-1v1l-1,1h-3v1l-1,1h-1l-1-1v-1h-1l-1-1v-1h-1l-1-1v-1h-1l-1-1v-1l1-1h1v-1h-1l-1-1v-1h-1v1l-1,1h-3v1l-1,1h-1v17h5l1,1v5h1l1,1v1h3v-1l1-1h3v-1l1-1h1v-3h-1l-1-1v-3h-1l-1-1v-1l1-1h1v-1l1-1h1v-1l1-1h1v-1l1-1h3v-1l1-1h3v-1l1-1h3v-13l1-1h7v-1h-1l-1-1v-1h-7l-1-1v-1l1-1h1v-1zM802,462v1l-1,1h-3v1h3v-1l1-1h1v-1zM736,450v1l-1,1h-1v1h5v-1h-1l-1-1v-1zM708,450v1l-1,1h-1v1h5v-1l1-1h1v-1zM724,448v1l-1,1h-1v1h5v-1h-1l-1-1v-1zM1232,426v1l-1,1h-3v1l-1,1h-7v1l-1,1h-1v1h1l1,1v5h1l1,1v3l-1,1h-3l-1-1v-1h-3l-1-1v-3h-5v1l-1,1h-1v5l-1,1h-1v1l-1,1h-9v1l-1,1h-3v1l-1,1h-3v1l-1,1h-1v1l-1,1h-3v1l-1,1h-1v5l-1,1h-1v1l-1,1h-1v1l-1,1h-1v3h1l1,1v9h1l1,1v1l-1,1h-5v5l-1,1h-7v1l-1,1h-7v1l-1,1h-3v1l-1,1h-3v7l-1,1h-1v3h3l1,1v1h1l1,1v3l-1,1h-1v1h1l1,1v1h1l1,1v1l-1,1h-3l-1-1v-1h-3v1l-1,1h-1l-1-1v-3h-1l-1-1v-1h-1v5h1l1,1v1l-1,1h-9l-1-1v-3h-7v1l-1,1h-1v7l-1,1h-1v1l-1,1h-3v1l-1,1h-7v1l-1,1h-5v1l-1,1h-5v1l-1,1h-5v1l-1,1h-3l-1-1v-3h-5v1l-1,1h-1v1l-1,1h-1v1h1l1,1v1h1l1,1v3h1l1,1v1l-1,1h-1v1l-1,1h-7v1l-1,1h-5v11l-1,1h-1v1l-1,1h-3v1l-1,1h-9v1l-1,1h-3v1l-1,1h-1v1l-1,1h-7l-1-1v-1h-3l-1-1v-1h-3v1l-1,1h-1v1l-1,1h-1v3h1l1,1v1h3l1,1v5l-1,1h-1v1l-1,1h-1v5l-1,1h-1v1h5v-1l1-1h3l1,1v1l-1,1h-1v1l-1,1h-5v1l-1,1h-3v1l-1,1h-1l-1-1v-3h-1l-1-1v-1h-5v1l-1,1h-3v1l-1,1h-3l-1-1v-1h-1v1l-1,1h-5v1l-1,1h-7v1l-1,1h-3v1l-1,1h-3l-1-1v-1h-1l-1-1v-1h-7l-1-1v-1h-9v1l-1,1h-9l-1-1v-1h-3l-1-1v-1h-3l-1-1v-1h-3v1l-1,1h-3v1l-1,1h-1v1l-1,1h-1v1l-1,1h-5v1l-1,1h-5l-1-1v-1h-1l-1-1v-1h-5l-1-1v-1h-11v1h1l1,1v1h3l1,1v9l-1,1h-5v3l-1,1h-1v3h3l1,1v1l-1,1h-1v3h1l1,1v1h3l1,1v1h7l1,1v1h3l1,1v3l-1,1h-1v1h1l1,1v1h1l1,1v1l-1,1h-1v3l-1,1h-5l-1-1v-3h-1v1l-1,1h-3l-1-1v-1h-1l-1-1v-1h-1v1l-1,1h-1v1l-1,1h-7l-1-1v-1h-3v1l-1,1h-3v1l-1,1h-3v11l-1,1h-3v1l-1,1h-7l-1-1v-1h-1l-1-1v-3h-5l-1-1v-1h-1l-1-1v-1l1-1h3v-1h-3l-1-1v-7h-1l-1-1v-1l1-1h3v-1l1-1h1v-3l1-1h3v-1l1-1h5v-7h-1l-1-1v-1h-1l-1-1v-1h-1v1l-1,1h-7v1l-1,1h-3l-1-1v-5h-3l-1-1v-5l1-1h3v-1l1-1h5v-1l1-1h9v-3l1-1h1v-3l1-1h1v-1h-3l-1-1v-3l1-1h5l1,1v1h1v-1l1-1h3v-1h-5l-1-1v-1l1-1h1v-1l1-1h5l1,1v3h3v-1l1-1h3v-3l1-1h1v-1l1-1h1v-1l1-1h1v-1h-1l-1-1v-1l1-1h1v-1l1-1h7v-1l1-1h3v-1l1-1h3v-1l1-1h3l1,1v3h1v-1l1-1h3v-1h-3l-1-1v-1l1-1h1v-1h-1l-1-1v-1l1-1h1v-1l1-1h1v-1h-1l-1-1v-1h-9v1l-1,1h-3l-1-1v-1h-1v1l-1,1h-5l-1-1v-1h-1v1l-1,1h-3v1l-1,1h-1v3l-1,1h-3v1l-1,1h-1v1h1l1,1v1l-1,1h-1v1l-1,1h-3v1l-1,1h-3v1l-1,1h-3v1l-1,1h-3v1l-1,1h-1v1l-1,1h-5v1l-1,1h-1v1h1l1,1v1h5v-1l1-1h1l1,1v3l-1,1h-1v1l-1,1h-1v1l-1,1h-1v1l-1,1h-1v1l-1,1h-5l-1-1v-1h-5v1l-1,1h-3v1l-1,1h-1v1l-1,1h-3l-1-1v-1h-5v1l-1,1h-5v3l-1,1h-1v1l-1,1h-3v1l-1,1h-3v1l-1,1h-1l-1-1v-1h-1v1l-1,1h-5v1l-1,1h-1v1l-1,1h-1v1l-1,1h-9v1l-1,1h-1v1l-1,1h-3v1l-1,1h-1v3l-1,1h-1l-1-1v-1h-3v1l-1,1h-1l-1-1v-1h-3l-1-1v-3h-1l-1-1v-3h-17l-1-1v-1h-3v1l-1,1h-1v1h1l1,1v1l-1,1h-3v1l-1,1h-11v1l-1,1h-5v1l-1,1h-3v1l-1,1h-3v1l-1,1h-5l-1-1v-1h-1l-1-1v-1h-1l-1-1v-1h-1l-1-1v-1h-1l-1-1v-3h-1l-1-1v-1h-7v1l-1,1h-3l-1-1v-1h-3v1l-1,1h-1l-1-1v-3h-1l-1-1v-1h-1v1l-1,1h-1v1h1l1,1v7h1l1,1v5h3l1,1v5h1l1,1v3h1l1,1v1h1l1,1v1h3l1,1v1h1l1,1v1h7l1,1v1h3l1,1v1h7v-1l1-1h1l1,1v5h1l1,1v1h3l1,1v5h1l1,1v1l-1,1h-1v1l-1,1h-1l-1-1v-1h-1v3l-1,1h-5l-1-1v-1h-17v1l-1,1h-5v1l-1,1h-3l-1-1v-1h-3v1l-1,1h-11l-1-1v-1h-1l-1-1v-1h-1l-1-1v-1h-1l-1-1v-1h-3l-1-1v-1h-1l-1-1v-9h-1l-1-1v-1h-3l-1-1v-3l1-1h1v-1l1-1h3v-1l1-1h1v-3h-1l-1-1v-3h-1l-1-1v-3h-1l-1-1v-1h-1l-1-1v-1h-3v5l-1,1h-9v1l-1,1h-3v5h1l1,1v3h1l1,1v3h1l1,1v1l-1,1h-1v1l-1,1h-3v1l-1,1h-3v1l-1,1h-1v1l-1,1h-1v3l-1,1h-1v1l-1,1h-1v1l-1,1h-3l-1-1v-1h-3v1l-1,1h-1v1l-1,1h-3v1l-1,1h-1v1l-1,1h-1v5l-1,1h-1v1l-1,1h-1v1l-1,1h-1v3l-1,1h-1v1l-1,1h-1v1l-1,1h-1v3l-1,1h-1v1h1l1,1v3l-1,1h-1v5l-1,1h-1v3l-1,1h-1v1l-1,1h-1v1l-1,1h-1v1l-1,1h-1v3l-1,1h-1v1l-1,1h-1v1l-1,1h-1v1l-1,1h-1v3h1l1,1v1l-1,1h-1v1l-1,1h-1v1l-1,1h-1v3l-1,1h-3v1l-1,1h-1v1l-1,1h-1v1l-1,1h-1v1l-1,1h-3v5l-1,1h-3l-1-1v-1h-1v1l-1,1h-1v1l-1,1h-1v3l-1,1h-1v3l-1,1h-7v1l-1,1h-1l-1-1v-1h-5v1l-1,1h-1v3h1l1,1v1h13l1,1v1h1l1,1v15h1l1,1v1h1l1,1v1h1l1,1v1l-1,1h-1v3h3l1,1v1h1v-1l1-1h1l1,1v1h3v-3l1-1h1v-1h-1l-1-1v-1l1-1h5l1,1v1h5l1,1v1h1l1,1v1h1l1,1v5l-1,1h-1v1h1l1,1v1h1l1,1v3h1l1,1v1h3l1,1v1h1v-3l1-1h1v-1l1-1h1v-1l1-1h1l1,1v5h1v-1l1-1h1v-1l1-1h1l1,1v1h3v-1l1-1h1l1,1v1h1v-1l1-1h9v-1l1-1h3l1,1v1h1v-1l1-1h3v-3l1-1h1l1,1v1h1l1,1v1h3l1,1v1h11l1,1v1h3l1,1v1h3l1,1v1h3l1,1v3l-1,1h-1v3l-1,1h-1v3l-1,1h-5v1l-1,1h-3v1l-1,1h-7v1l-1,1h-1v1l-1,1h-1v1l-1,1h-1v1l-1,1h-9v1l-1,1h-1l-1-1v-1h-5l-1-1v-1h-5v1l-1,1h-1v7h1l1,1v3l-1,1h-3v3h7l1,1v7h3l1,1v7h3l1,1v1h1v-1l1-1h3v-1l1-1h1l1,1v1h3l1,1v1h1l1,1v1h1l1,1v1h1l1,1v9h1l1,1v1h3v-1h-1l-1-1v-1h-1l-1-1v-1l1-1h1v-1l1-1h1l1,1v1h1l1,1v3h1l1,1v1l-1,1h-1v1h7v-1l1-1h3v-1h-1l-1-1v-9h-3v1l-1,1h-1v1l-1,1h-3l-1-1v-1h-1l-1-1v-11l1-1h5l1,1v1h3v-1l1-1h1v-7l1-1h1v-5h-1l-1-1v-1l1-1h1v-1l1-1h5v-1l1-1h5v-5l1-1h1v-5h-1v1l-1,1h-1l-1-1v-3l1-1h1v-1l1-1h1v-1l1-1h1v-7l1-1h1l1,1v1h5v-1l1-1h7l1,1v3h5l1,1v1h5l1,1v1h1l1,1v1h5v-1l1-1h3v-1l1-1h5v-1l1-1h1v-1l1-1h3v-1l1-1h1v-3l1-1h5v-1l1-1h5v-1l1-1h3v-1l1-1h3v-1l1-1h11v-1l1-1h3v-15l1-1h1v-3l1-1h3v-1l1-1h1v-1l1-1h3v-1l1-1h1v-1l1-1h3v-1l1-1h5v-1l1-1h3v-1l1-1h7v-1l1-1h3v-1l1-1h3v-1l1-1h3v-1l1-1h3v-3l1-1h1v-3l1-1h1v-1l1-1h3v-1l1-1h1v-3l1-1h1v-1l1-1h1v-1l1-1h5v-1l1-1h5l1,1v1h7l1,1v5h21l1,1v1h7v-3h-3l-1-1v-1h-3l-1-1v-9l1-1h1v-1l1-1h1v-1h-1l-1-1v-5h-3l-1-1v-1l1-1h7v-1l1-1h1v-9l1-1h3v-1l1-1h1v-1l1-1h1v-1l1-1h1v-1l1-1h1v-3l1-1h3v-3l1-1h1v-1l1-1h3v-3l1-1h1v-3l1-1h1v-1l1-1h1v-1l1-1h1v-1l1-1h1v-5l1-1h1v-7l1-1h1v-3l1-1h5v-1l1-1h5v-1l1-1h7v-1l1-1h5v-1l1-1h1v-1l1-1h3v-1l1-1h1v-5h-7l-1-1v-1l1-1h1v-1l1-1h1v-3l1-1h1v-3l1-1h1v-5l1-1h3v-1l1-1h1v-1h-1l-1-1v-1l1-1h1v-1h-3l-1-1v-1h-3l-1-1v-1h-1l-1-1v-1h-1l-1-1v-3l1-1h1v-1l1-1h5v-1l1-1h13v-1l1-1h3l1,1v1h1l1,1v1h3l1,1v3h3l1,1v1h3v-5l1-1h3v-1l1-1h1l1,1v5l-1,1h-1v1l-1,1h-1v1l-1,1h-3v1l-1,1h-1v3l-1,1h-3v5h1v-1l1-1h3v-1l1-1h1v-1l1-1h5l1,1v3h1l1,1v9l-1,1h-1v3l-1,1h-1v1l-1,1h-1v1l-1,1h-5l-1-1v-1h-1v1l-1,1h-1v1l-1,1h-7v1l-1,1h-7v1h1l1,1v1h13l1,1v1h1l1,1v3h3l1,1v3l-1,1h-1v1l-1,1h-1v7h3l1,1v1h1l1,1v3l-1,1h-1v3l-1,1h-1v1h1l1,1v1l-1,1h-1v13l-1,1h-1v1l-1,1h-3v1l-1,1h-5l-1-1v-1h-1l-1-1v-1h-7v5l-1,1h-1v5l-1,1h-1v13l-1,1h-3v1l-1,1h-5v1l-1,1h-1v9l-1,1h-1v1l-1,1h-1v3l-1,1h-1v1l-1,1h-1v3h1l1,1v3l-1,1h-1v3h1l1,1v7l-1,1h-1v3l-1,1h-3v1l-1,1h-1v1l-1,1h-11v1l-1,1h-9l-1-1v-1h-3l-1-1v-3h-3v1h1l1,1v1h1l1,1v3h8l1-1h19l6-6v-1l1-1l1,1v1l1,1h6l1,1h5l1,1h4l1-1h5l1-1h5l1-1h19l1,1h2l1,1h3l1,1h2l1,1h2l3,3v1l3,3v1l3,3h1l3,3h4l1-1h9l1-1h1l1-1h1l1-1h1l2-2h1l1-1h1l1-1h1l1-1v-1l1-1v-1l2-2v-1l1-1h5l2,2h1l3,3h1l3,3h1l13,13v-1l1-1h1v-1l1-1h1v-3l1-1h1v-9l1-1h3v-1l1-1h1v-1h-1l-1-1v-1l1-1h3l1,1v1h1v-3l1-1h1l1,1v1h3v-1l1-1h1v-1l1-1h3v-1l1-1h3v-1l1-1h1v-1h-1l-1-1v-3h-1l-1-1v-1h-3l-1-1v-1h-1l-1-1v-1l1-1h1v-1l1-1h1v-1l1-1h5v-1l1-1h1v-1l1-1h8v-1l-1-1v-1h-1v1l-1,1h-1l-1-1v-7l1-1h2l-1-1v-1l1-1v-7l1-1v-5l1-1v-3l1-1v-3l1-1v-2l1-1v-1l2-2v-1l3-3v-1l1-1v-1l1-1v-1l1-1v-1l1-1v-1l1-1v-1l33-33v-1l1-1v-2l1-1v-1l1-1v-2l1-1v-1l1-1v-1l1-1v-1l1-1v-1l3-3h1l2-2h1l2-2h1l2-2h3l1-1h3l1-1h3v-9l1-1v-1l2-2v-1l1-1v-1l3-3h1l4-4h1l3-3h1l2-2h2l1-1h2l1-1h2h-3l-1-1v-1h-9l-1-1v-3h-3l-1-1v-3h-3v3h3l1,1v3l-1,1h-11l-1-1v-1h-1l-1-1v-1l1-1h1v-3l1-1h3v-1h-1l-1-1v-3l1-1h1v-1h-1l-1-1v-7h-1l-1-1v-1l1-1h1v-1h-1l-1-1v-3l1-1h3v-1l1-1h1v-7h-1l-1-1v-1l1-1h1v-1l1-1h3v-1l1-1h3v-1l1-1h3v-1l1-1h1v-1l1-1h1v-1l1-1h1v-1l1-1h1v-1l1-1h7l1,1v3h3v-5l1-1h1v-2l-1-1v-1l-1-1v-1l-1-1v-2l-1-1v-3l-1-1v-7l1-1v-4l1-1v-3l1-1v-2l1-1v-3l1-1v-2l1-1v-2l1-1v-1l1-1v-4l1-1v-4h-7l-1-1v-1h-1l-1-1v-5l1-1h5l1,1v1h5v-6l-1-1v-4l-1-1v-5l1-1v-2l3-3v-1l1-1v-1l1-1v-1l1-1v-1l1-1v-4l1-1h1v-1h-1l-1-1v-5h-1l-1-1v-5h-1l-1-1v-1zM647,896l1-1h1l1,1v1l-1,1h-1l-1-1zM645,892l1-1h1l1,1v1l-1,1h-1l-1-1zM627,860l1-1h1l1,1v1l-1,1h-1l-1-1zM629,858l1-1h1l1,1v1l-1,1h-1l-1-1zM663,824l1-1h1l1,1v1l-1,1h-1l-1-1zM669,800l1-1h5l1,1v1h3l1,1v1h1l1,1v7l-1,1h-1v1l-1,1h-3v1l-1,1h-1v1l-1,1h-1l-1-1v-1h-1l-1-1v-3h-1l-1-1v-7l1-1h1zM611,794l1-1h1l1,1v3l-1,1h-1l-1-1zM599,790l1-1h1l1,1v1h1l1,1v1l-1,1h-3l-1-1zM749,780l1-1h1l1,1v1l-1,1h-1l-1-1zM1079,778l1-1h1l1,1v1l-1,1h-1l-1-1zM745,778l1-1h1l1,1v1l-1,1h-1l-1-1zM1087,760l1-1h3l1,1v1h1l1,1v1l-1,1h-5l-1-1zM745,744l1-1h7l1,1v1h1l1,1v1h1l1,1v7l-1,1h-1v3l-1,1h-1v1l-1,1h-1v1l-1,1h-3v1l-1,1h-5v3h1l1,1v3l-1,1h-1v3l-1,1h-1v3l-1,1h-1v3l-1,1h-1v1l-1,1h-1l-1-1v-1h-1v1l-1,1h-1l-1-1v-1h-7v1l-1,1h-1v1l-1,1h-5l-1-1v-1h-3l-1-1v-1h-1l-1-1v-5h-1l-1-1v-3l1-1h1v-3l1-1h1v-1l1-1h7l1,1v1h3v-7l1-1h1v-3h-1l-1-1v-1l1-1h3v-3l1-1h1v-1l1-1h1v-1l1-1h5v-1l1-1h3v-1l1-1h5zM611,738l1-1h7l1,1v1h1l1,1v3h3l1,1v1l-1,1h-1v3h1l1,1v3h5v-1l1-1h5l1,1v5l-1,1h-1v1l-1,1h-1v7l-1,1h-3v1l-1,1h-1v3l-1,1h-3v3l-1,1h-5v1l-1,1h-5v1l-1,1h-3l-1-1v-1h-1l-1-1v-1h-1l-1-1v-3h-1l-1-1v-1h-1l-1-1v-1h-1l-1-1v-1h-1l-1-1v-3h-1l-1-1v-3l1-1h1v-1l1-1h1v-5l1-1h1v-3l1-1h3v-1l1-1h1v-1l1-1h1v-1l1-1h1v-1l1-1h1zM799,732l1-1h7l1,1v1h7l1,1v1h1l1,1v5h1l1,1v1l-1,1h-1v3l-1,1h-5l-1-1v-1h-5l-1-1v-5h-1l-1-1v-3h-1l-1-1v-1h-1l-1-1zM751,726l1-1h1l1,1v9l-1,1h-3l-1-1v-1h-1l-1-1v-3l1-1h1v-1l1-1h1zM843,712l1-1h1l1,1v1h3l1,1v3l-1,1h-5l-1-1zM675,710l1-1h3l1,1v7l-1,1h-1v1l-1,1h-1v1l-1,1h-5l-1-1v-7l1-1h1v-1l1-1h3zM1009,696l1-1h1l1,1v1l-1,1h-1l-1-1zM863,690l1-1h1l1,1v1l-1,1h-1l-1-1zM807,684l1-1h1l1,1v1l-1,1h-1l-1-1zM693,684l1-1h1l1,1v1h3l1,1v1l-1,1h-5l-1-1zM735,680l1-1h11l1,1v1h1l1,1v1h1l1,1v3h1l1,1v1h1l1,1v1h1l1,1v1l-1,1h-1v5l-1,1h-1v1l-1,1h-3v1l-1,1h-9l-1-1v-1h-1l-1-1v-3h-1l-1-1v-11l1-1h1v-1h-1l-1-1zM1081,676l1-1h1l1,1v1h3v-1l1-1h1l1,1v1h1v-1l1-1h1l1,1v1h7v-1l1-1h1l1,1v1h3v-1l1-1h1l1,1v1h1l1,1v1h1l1,1v1h1l1,1v1h1l1,1v1h3l1,1v5l-1,1h-1v3l-1,1h-5l-1-1v-1h-9l-1-1v-5h-5v1l-1,1h-1v1h1l1,1v9l-1,1h-1v9h1l1,1v3h1l1,1v1h1l1,1v5l-1,1h-1v1l-1,1h-5v1l-1,1h-3v1l-1,1h-1v3l-1,1h-1v1l-1,1h-1v1l-1,1h-3v1h1l1,1v5h1l1,1v5l-1,1h-1v1l-1,1h-1v3h1l1,1v1h1l1,1v5h1l1,1v9l-1,1h-3l-1-1v-1h-7l-1-1v-1h-1l-1-1v-3h-1l-1-1v-1h-1l-1-1v-1h-5l-1-1v-1h-3l-1-1v-1h-5l-1-1v-3l1-1h1v-1h-1l-1-1v-1h-1l-1-1v-3h-1l-1-1v-3l1-1h1v-1l1-1h1v-1l1-1h1l1,1v1h1l1,1v3h3l1,1v1h3l1,1v5h3v-1l1-1h1v-3l1-1h1v-3h-1l-1-1v-3l1-1h1v-3h-5l-1-1v-1h-1l-1-1v-7h-1l-1-1v-3l1-1h1v-3l1-1h1v-3h-1l-1-1v-5l1-1h3v-1l1-1h1v-1l1-1h1v-3h-1l-1-1v-3h-1l-1-1v-5l1-1h1v-1l1-1h3v-1l1-1h1v-1l1-1h1v-3l1-1h1v-1l1-1h1zM865,674l1-1h3l1,1v1h1v-1l1-1h5l1,1v1h1l1,1v5l-1,1h-1v3l-1,1h-1v1l-1,1h-3v1l-1,1h-3l-1-1v-1h-1l-1-1v-1h-1l-1-1v-3h-1l-1-1v-1l1-1h1v-3l1-1h1zM611,674l1-1h3l1,1v1l-1,1h-3l-1-1zM1011,670l1-1h3l1,1v1h1l1,1v1l-1,1h-1v3l-1,1h-1l-1-1v-5h-1l-1-1zM655,668l1-1h1l1,1v1l-1,1h-1l-1-1zM737,666l1-1h5l1,1v3l-1,1h-5l-1-1zM643,654l1-1h1l1,1v1l-1,1h-1l-1-1zM1157,652l1-1h3l1,1v9l-1,1h-5l-1-1v-7l1-1h1zM933,652l1-1h1l1,1v1h1l1,1v1l-1,1h-1v1l-1,1h-1l-1-1zM839,650l1-1h1l1,1v1h3l1,1v1l-1,1h-5v1l-1,1h-3l-1-1v-1l1-1h1v-1l1-1h1zM1091,644l1-1h5l1,1v9l-1,1h-1v1l-1,1h-5l-1-1v-9l1-1h1zM823,642l1-1h1l1,1v1l-1,1h-1l-1-1zM825,640l1-1h1l1,1v1l-1,1h-1l-1-1zM927,638l1-1h3l1,1v1l-1,1h-3l-1-1zM705,638l1-1h3l1,1v3l-1,1h-1l-1-1v-1h-1l-1-1zM831,636l1-1h3l1,1v1h1l1,1v1l-1,1h-7l-1-1v-1l1-1h1zM821,634l1-1h5l1,1v3l-1,1h-1v1l-1,1h-1v1l-1,1h-1v1h1l1,1v1l-1,1h-1v1l-1,1h-3l-1-1v-1h-11l-1-1v-1l1-1h1v-1l1-1h1v-1l1-1h3v-1l1-1h3v-1l1-1h3zM1139,632l1-1h1l1,1v1h1v-1l1-1h7l1,1v1h1l1,1v7l-1,1h-1v1l-1,1h-1v1l-1,1h-15l-1-1v-3l1-1h1v-7l1-1h3zM783,632l1-1h7l1,1v1l-1,1h-1v1l-1,1h-1v1l-1,1h-3l-1-1zM1003,630l1-1h3l1,1v5h1l1,1v1h1l1,1v1h1l1,1v1h1l1,1v1h1l1,1v1h1l1,1v3h1l1,1v3l-1,1h-1v1l-1,1h-3v7l-1,1h-1v1l-1,1h-7l-1-1v-1h-5l-1-1v-1h-1l-1-1v-3h-1l-1-1v-3h-5l-1-1v-1l1-1h3v-3l1-1h1v-1h-1l-1-1v-9l1-1h1v-1l1-1h5v-1l1-1h1zM1063,628l1-1h3l1,1v1l-1,1h-1v1l-1,1h-1l-1-1zM899,628l1-1h1l1,1v1l-1,1h-1l-1-1zM1005,626l1-1h1l1,1v1l-1,1h-1l-1-1zM901,626l1-1h3l1,1v1l-1,1h-3l-1-1zM993,624l1-1h1l1,1v1l-1,1h-1l-1-1zM1069,622l1-1h1l1,1v1l-1,1h-1l-1-1zM917,622l1-1h1l1,1v1l-1,1h-1l-1-1zM997,620l1-1h3l1,1v1l-1,1h-1v1l-1,1h-1l-1-1zM911,620l1-1h3l1,1v1l-1,1h-3l-1-1zM1099,618l1-1h7l1,1v5h1l1,1v3l-1,1h-1v1l-1,1h-3v1l-1,1h-1v3l-1,1h-1l-1-1v-1h-3l-1-1v-1l1-1h1v-1h-1l-1-1v-1l1-1h1v-1h-1l-1-1v-1l1-1h1v-1l1-1h1zM1051,616l1-1h1l1,1v3h3l1,1v1l-1,1h-1v3l-1,1h-1v5l-1,1h-1v7h1l1,1v1l-1,1h-1v7l-1,1h-5v1l-1,1h-1l-1-1v-1h-1l-1-1v-1h-3l-1-1v-1h-1l-1-1v-5h-1l-1-1v-3l1-1h1v-3l1-1h1v-1l1-1h1v-1l1-1h1v-1l1-1h1v-3l1-1h3v-1l1-1h3zM1135,614l1-1h3l1,1v1l-1,1h-3l-1-1zM1109,614l1-1h1l1,1v1l-1,1h-1l-1-1zM1093,614l1-1h3l1,1v1l-1,1h-3l-1-1zM1085,614l1-1h1l1,1v1l-1,1h-1l-1-1zM1053,614l1-1h1l1,1v1l-1,1h-1l-1-1zM1027,614l1-1h3l1,1v1l-1,1h-1v1l-1,1h-1v1l-1,1h-1v1l-1,1h-3v1l-1,1h-7l-1-1v-1h-3l-1-1v-1l1-1h1v-1l1-1h5l1,1v1h3v-1l1-1h3v-1l1-1h1zM1167,612l1-1h1l1,1v1h3v-1l1-1h15l1,1v1h1l1,1v7l-1,1h-1v3l-1,1h-1v1l-1,1h-1v1l-1,1h-5l-1-1v-1h-15l-1-1v-9h-1l-1-1v-1h-1l-1-1v-1l1-1h3l1,1v1h1v-1l1-1h1zM1113,612l1-1h1l1,1v1l-1,1h-1l-1-1zM1087,612l1-1h1l1,1v1l-1,1h-1l-1-1zM1015,612l1-1h1l1,1v1l-1,1h-1l-1-1zM1107,610l1-1h3l1,1v1l-1,1h-3l-1-1zM1069,610l1-1h1l1,1v1l-1,1h-1l-1-1zM1049,608l1-1h5l1,1v1l-1,1h-1v1l-1,1h-1v1l-1,1h-1v1l-1,1h-5l-1-1v-3l1-1h1v-1l1-1h3zM1123,606l1-1h5l1,1v1h1l1,1v3l-1,1h-3v1l-1,1h-3l-1-1v-1h-1l-1-1v-1l1-1h1zM1037,606l1-1h1l1,1v1l-1,1h-1l-1-1zM927,606l1-1h9l1,1v1h1l1,1v1l-1,1h-1v3l-1,1h-7v1l-1,1h-1v1l-1,1h-1l-1-1v-1h-1l-1-1v-3l1-1h1v-3l1-1h1zM1075,604l1-1h3l1,1v1l-1,1h-3l-1-1zM855,604l1-1h1l1,1v1l-1,1h-1l-1-1zM1131,602l1-1h3l1,1v1l-1,1h-3l-1-1zM1119,602l1-1h3l1,1v3l-1,1h-5v1l-1,1h-1v1l-1,1h-3l-1-1v-1l1-1h1v-1l1-1h1v-1l1-1h3zM857,602l1-1h1l1,1v1l-1,1h-1l-1-1zM1173,600l1-1h1l1,1v1l-1,1h-1l-1-1zM1035,600l1-1h3l1,1v1l-1,1h-1v3l-1,1h-5v1l-1,1h-5l-1-1v-1l1-1h1v-1l1-1h1v-1l1-1h5zM1183,592l1-1h1l1,1v3l-1,1h-1l-1-1zM865,588l1-1h1l1,1v1l-1,1h-1l-1-1zM1115,582l1-1h1l1,1v1h1l1,1v1l-1,1h-3l-1-1zM1139,580l1-1h3l1,1v1h1l1,1v1h1l1,1v1l-1,1h-1v5h1l1,1v3h1l1,1v1l-1,1h-5v1l-1,1h-5v1l-1,1h-1l-1-1v-3h-1v1l-1,1h-5l-1-1v-1l1-1h1v-1h-1l-1-1v-3l1-1h1v-7l1-1h3l1,1v1h3v-1l1-1h1zM1061,578l1-1h3l1,1v3l-1,1h-1v1l-1,1h-1v1l-1,1h-1l-1-1v-1h-1l-1-1v-3l1-1h3zM1073,576l1-1h3l1,1v5l-1,1h-3l-1-1zM1067,576l1-1h1l1,1v1l-1,1h-1l-1-1zM885,574l1-1h1l1,1v3l-1,1h-1l-1-1zM1059,570l1-1h1l1,1v3l-1,1h-1l-1-1zM893,570l1-1h1l1,1v1l-1,1h-1l-1-1zM895,568l1-1h1l1,1v1l-1,1h-1l-1-1zM1133,558l1-1h1l1,1v1h3l1,1v7l-1,1h-3v3l-1,1h-7l-1-1v-1h-3l-1-1v-7l1-1h7v-1l1-1h1zM1153,552l1-1h1l1,1v1h1l1,1v1l-1,1h-1v1l-1,1h-3l-1-1v-1l1-1h1zM1111,544l1-1h1l1,1v1h3l1,1v3l-1,1h-1v1h3l1,1v1h1l1,1v5l-1,1h-5v5l-1,1h-5v1l-1,1h-17v1l-1,1h-3l-1-1v-3l1-1h1v-3l1-1h7v-1h-1l-1-1v-1h-1l-1-1v-1h-3l-1-1v-3h-1l-1-1v-1l1-1h7v-1l1-1h3l1,1v5h7l1,1v1l-1,1h-1v1h1l1,1v5h1v-1l1-1h1v-1h-1l-1-1v-1l1-1h1v-3h-1l-1-1v-1h-3l-1-1v-1h-1l-1-1v-1l1-1h7zM1085,542l1-1h1l1,1v1l-1,1h-1l-1-1zM1171,526l1-1h3l1,1v1h1l1,1v3l-1,1h-3l-1-1v-1h-1l-1-1zM1157,524l1-1h3l1,1v1l-1,1h-3l-1-1zM1169,490l1-1h1l1,1v1h1l1,1v1l-1,1h-1v3h1l1,1v3h1l1,1v3h1l1,1v1l-1,1h-3v1l-1,1h-7v1l-1,1h-1v1l-1,1h-3l-1-1v-1h-1l-1-1v-1h-3l-1-1v-3l1-1h1v-7h-1l-1-1v-1l1-1h1v-1l1-1h1l1,1v1h5v-1l1-1h1v-1l1-1h3zM1018,422v1l-1,1h-1v1l-1,1h-3v1l-1,1h-1v1l-1,1h-3v3h1v-1l1-1h3v-1l1-1h3v-1l1-1h1v-1l1-1h1v-3zM1054,400v1l-1,1h-5v1l-1,1h-9v1l-1,1h-7v1l-1,1h-1v1l-1,1h-1v3h3l1,1v3h1v-1l1-1h5l1,1v3l-1,1h-5v1l-1,1h-5v1l-1,1h-1v1l-1,1h-1v1l-1,1h-1v3l-1,1h-3v5l-1,1h-5v1l-1,1h-9l-1-1v-1h-1l-1-1v-1h-3v1l-1,1h-5v1l-1,1h-3v15h9l1,1v1h1v-1l1-1h1v-1l1-1h3l1,1v1l-1,1h-1v3h3l1,1v1h3v-1l1-1h3l1,1v1l-1,1h-1v1h3v-5l1-1h1v-1h-3l-1-1v-1l1-1h1v-5l1-1h1v-1l1-1h3v-5l1-1h5l1,1v1l-1,1h-1v1h3v-3h-1l-1-1v-1h-3l-1-1v-1l1-1h1v-1l1-1h1l1,1v1h1v-1l1-1h7l1,1v1l-1,1h-1v3h1l1,1v3h1l1,1v1h1v-1l1-1h1v-1l1-1h1v-1l1-1h1v-3h-3l-1-1v-1l1-1h1v-1l1-1h1v-3l1-1h1v-1l1-1h1v-1h-1v1l-1,1h-3l-1-1v-1h-1l-1-1v-3l1-1h1v-1l1-1h3v-1l1-1h1v-3l1-1h1v-1l1-1h1v-1l1-1h3v-1l1-1h1v-1l1-1h3v-3zM1037,436l1-1h1l1,1v3l-1,1h-3l-1-1v-1l1-1h1zM1035,424l1-1h1l1,1v1l-1,1h-1l-1-1zM490,364v1l-1,1h-3v1l-1,1h-3v1l-1,1h-1v1l-1,1h-3v7h1l1,1v1h1l1,1v3h1l1,1v7h1l1,1v1h1l1,1v1h1l1,1v1h1l1,1v1h3l1,1v3h1l1,1v1h1l1,1v1h3l1,1v1h3v-1l1-1h3v-13h-7l-1-1v-3h-1l-1-1v-3h-1l-1-1v-1h-1l-1-1v-1l1-1h1v-1h-1l-1-1v-9l1-1h1v-3h-1l-1-1v-1h-1l-1-1v-1zM798,360v1l-1,1h-1v1l-1,1h-3v1l-1,1h-1v1h5v-1l1-1h3v-1l1-1h3v-1h-3l-1-1v-1zM482,360v1h3v-1zM872,352v1h3v-1zM822,350v1l-1,1h-5v1l-1,1h-3v1l-1,1h-1v1h3l1,1v1l-1,1h-1v3l-1,1h-5v5l-1,1h-5v3l-1,1h-1v1l-1,1h-1v3l-1,1h-3l-1-1v-1h-1l-1-1v-5h-1v1l-1,1h-1v1h1l1,1v3h3l1,1v1l-1,1h-1v1l-1,1h-1v1l-1,1h-5l-1-1v-1h-3v1l-1,1h-3v3l-1,1h-3v3h1v-1l1-1h3l1,1v1h7l1,1v3h3l1,1v5l-1,1h-1v3h1l1,1v3l-1,1h-1v1l-1,1h-1v7l-1,1h-3v1l-1,1h-3l-1-1v-1h-5v1l-1,1h-1v1l-1,1h-3v1l-1,1h-1v3l-1,1h-3v1l-1,1h-1v1l-1,1h-3v3h1l1,1v1l-1,1h-1v1l-1,1h-1v1h3v-1l1-1h3l1,1v1l-1,1h-1v1l-1,1h-1v5l-1,1h-1v1l-1,1h-5v1l-1,1h-1v1h7l1,1v1h1v-1l1-1h3v-1l1-1h3v-1l1-1h3v-1l1-1h1v-1l1-1h13l1,1v3h1l1,1v1h3v-1l1-1h1v-3l1-1h3v-3l1-1h3v-3l1-1h9l1,1v1h1l1,1v5l-1,1h-1v1h1v-1l1-1h5v-1l1-1h3v-3l1-1h1v-1l1-1h7l1,1v3l-1,1h-5v3l-1,1h-3v1l-1,1h-1v1l-1,1h-1v1l-1,1h-1v1l-1,1h-1v1l-1,1h-3v1l-1,1h-1v1h3v-1l1-1h1v-1l1-1h1v-1l1-1h7l1,1v1h5v-1l1-1h1v-1l1-1h1v-1l1-1h1l1,1v1h9v-1l1-1h1v-1l1-1h1v-1l1-1h3v-1l1-1h3l1,1v5h1v-1l1-1h1v-1l1-1h9l1,1v1h1l1,1v1h3l1,1v1h1l1,1v3l-1,1h-3v3h3v-1l1-1h1v-1l1-1h1v-1l1-1h1v-1l1-1h3l1,1v1l-1,1h-1v1h7v-1l1-1h1v-1l1-1h1v-1l1-1h5v-1l1-1h1v-1l1-1h1v-1l1-1h1v-1h-3l-1-1v-1h-1v1l-1,1h-3l-1-1v-1l1-1h1v-1l1-1h1v-1l1-1h3l1,1v3h1v-1l1-1h1v-1l1-1h1v-1h-1l-1-1v-11h-1v1l-1,1h-3l-1-1v-1l1-1h1v-1l1-1h1v-1h-1l-1-1v-3h-1v1l-1,1h-1v1l-1,1h-3l-1-1v-3l1-1h1v-1l1-1h3v-3h-7l-1-1v-1l1-1h1v-1l1-1h1v-1l1-1h1v-5h-1l-1-1v-3l1-1h1v-5h-1l-1-1v-1h-1l-1-1v-3h-5l-1-1v-3l1-1h1v-1h-1l-1-1v-1h-1l-1-1v-1l1-1h1v-1l1-1h1v-1h-3l-1-1v-1h-1l-1-1v-1h-3l-1-1v-3h-7l-1-1v-1h-1l-1-1v-1h-7l-1-1v-3h-1l-1-1v-1h-3l-1-1v-1h-7v1l-1,1h-13l-1-1v-1h-1l-1-1v-1h-5v1l-1,1h-1l-1-1v-1zM885,452l1-1h1l1,1v1l-1,1h-1l-1-1zM783,448l1-1h3l1,1v3l-1,1h-5l-1-1v-1l1-1h1zM791,444l1-1h1l1,1v1l-1,1h-1l-1-1zM831,442l1-1h1l1,1v1l-1,1h-1l-1-1zM871,438l1-1h3l1,1v1l-1,1h-1v1l-1,1h-3l-1-1v-1l1-1h1zM895,434l1-1h1l1,1v1l-1,1h-1l-1-1zM867,430l1-1h1l1,1v1l-1,1h-1l-1-1zM767,430l1-1h1l1,1v5h1l1,1v1h1l1,1v1l-1,1h-3l-1-1v-1h-1v1l-1,1h-1v1l-1,1h-3v1l-1,1h-3l-1-1v-3h-1l-1-1v-1l1-1h1v-1l1-1h3v-1l1-1h1v-1l1-1h3zM795,428l1-1h1l1,1v3l-1,1h-1l-1-1zM899,426l1-1h3l1,1v1l-1,1h-1v5l-1,1h-3l-1-1v-1l1-1h1zM903,424l1-1h1l1,1v1l-1,1h-1l-1-1zM785,424l1-1h1l1,1v1l-1,1h-1l-1-1zM791,422l1-1h1l1,1v1l-1,1h-1l-1-1zM867,420l1-1h3l1,1v1l-1,1h-3l-1-1zM793,420l1-1h1l1,1v1l-1,1h-1l-1-1zM895,414l1-1h1l1,1v1l-1,1h-1l-1-1zM875,400l1-1h1l1,1v1l-1,1h-1l-1-1zM889,390l1-1h1l1,1v1h1l1,1v1l-1,1h-1v1l-1,1h-3v1l-1,1h-3v1l-1,1h-5l-1-1v-1l1-1h1v-1l1-1h3v-1l1-1h1v-1l1-1h3zM879,388l1-1h9l1,1v1l-1,1h-3v1l-1,1h-3l-1-1v-1h-1l-1-1zM889,386l1-1h1l1,1v1l-1,1h-1l-1-1zM853,384l1-1h1l1,1v1l-1,1h-1l-1-1zM851,374l1-1h3l1,1v1l-1,1h-1v1l-1,1h-1v1l-1,1h-3l-1-1v-1l1-1h1v-1l1-1h1zM839,374l1-1h3l1,1v1l-1,1h-1v1l-1,1h-3l-1-1v-1l1-1h1zM877,372l1-1h1l1,1v1l-1,1h-1l-1-1zM855,372l1-1h1l1,1v1l-1,1h-1l-1-1zM837,366l1-1h1l1,1v1h1l1,1v3l-1,1h-7l-1-1v-1l1-1h1v-1l1-1h1zM800,346v1l-1,1h-1v1l-1,1h-3v1h3v-1l1-1h1v-1l1-1h1v-1zM872,328v1l-1,1h-1v1l-1,1h-1v1h3v-1l1-1h3v-1l1-1h1v-1zM392,328v7h1l1,1v1h3v-9zM102,266v1l-1,1h-1v5h1l1,1v1h1l1,1v11h9v-3l1-1h1v-3l1-1h1v-7l1-1h1v-3h-3l-1-1v-1zM96,262v3h1v-3zM120,254v3h1v-3zM870,252v1l-1,1h-1v1l-1,1h-1l-1-1v-1h-3v1l-1,1h-1v3l-1,1h-1v7l-1,1h-1v9h1l1,1v1h3v-1l1-1h1l1,1v1h1v-1l1-1h5v-1l1-1h7v-1l1-1h1l1,1v1h3v-1l1-1h5v-3l1-1h1v-1h-1l-1-1v-3h-1l-1-1v-1h-1l-1-1v-1h-3l-1-1v-1h-1l-1-1v-1h-1l-1-1v-3zM302,226v5h1v-5zM290,220v3h1v-1l1-1h1v-1zM414,184v1h1l1,1v1h1v-3zM392,160v1l-1,1h-1v1l-1,1h-3v1l-1,1h-1v3l-1,1h-1v1h3l1,1v5h1l1,1v1h3l1,1v1h1v-1l1-1h9v-1l1-1h9l1,1v1h3v-5h-1l-1-1v-1h-1l-1-1v-1h-3l-1-1v-3h-1l-1-1v-1h-3l-1-1v-1h-1l-1-1h-2l-1-1zM138,104v1l-1,1h-3v3h4l1,1l-1,1h-3l-1,1h-2l-1,1h-3v9l1,1v1l-3,3l-1-1h-1l-1-1h-1l-2-2h-1l-1-1h-1l-1-1h-1l-1-1h-1l-1-1h-1l-2-2h-1l-1-1h-1l-2-2h-1l-2-2h-1v3l-1,1h-1v3l-1,1h-1v1l-1,1h-1v3l-1,1h-1v12l1,1v8l1,1v11l-1,1v1l1,1v3l-1,1h-1v7l-1,1h-1v3l-1,1v5l1,1v9l-1,1h-1v3l-1,1h-1v2l-1,1v3l-1,1v14l-1,1h-1v1h1l1,1v3l-1,1h-3l-1-1v-1h-2v1l-1,1v1l-1,1v1l-1,1v1h3v-1l1-1h3l1,1v1l-1,1h-1v3l-1,1h-1l-1-1v-1h-4l-1,1v1l-1,1v2l-1,1v1l-1,1v1l1,1v1l-1,1h-1v1l-1,1v1l-1,1v1l-1,1v1l-1,1v1l-1,1v1l-2,2v1l-1,1v1l-1,1v1l-2,2v1l-1,1v1l-2,2v1l-2,2v1l-1,1v1l-2,2v1l-1,1v12l-1,1h-1v1l-1,1h-1v9h3l1,1v1h1l1,1v1h11v-1l1-1h1v-3l1-1h1v-3l1-1h1v-5l1-1h9l1,1v1h3l1,1v1h3l1,1v1h9v-3l1-1h3v-3h-1l-1-1v-3h-5l-1-1v-1h-5v1l-1,1h-5v1l-1,1h-1l-1-1v-7l1-1h1v-3l1-1h1v-1l1-1h3v-1l1-1h1v-1l1-1h1l1,1v1h1v-1l1-1h3v-3h-3v3l-1,1h-1l-1-1v-9l1-1h3v-3l1-1h1v-1h-1l-1-1v-1l1-1h1v-3h-1l-1-1v-5l1-1h1v-1l1-1h15l1,1v1h1l1,1v5h1l1,1v1h5v-3h-1l-1-1v-13l1-1h1v-1l1-1h1v-1h-1l-1-1v-1h-1v1l-1,1h-1v5l-1,1h-3l-1-1v-1h-3v3l-1,1h-1l-1-1v-7l1-1h1v-5l1-1h1v-1h-1l-1-1v-7l1-1h1v-3l1-1h1l1,1v5l-1,1h-1v1h1l1,1v1h5v-3l1-1h1v-3h-1l-1-1v-1h-1l-1-1v-1h-1l-1-1v-3l1-1h1v-3l1-1h1v-3l1-1h1v-5l1-1h1v-3l1-1h1v-3l1-1h1v-1l1-1h1l1,1v1h1l1,1v1h3v-1l1-1h3v-1l1-1h1v-3l1-1h1v-1l1-1h1v-1l1-1h1v-1l1-1h3l1,1v3h3l1,1v1h3v-1l1-1h9v-1l1-1h1l1,1v1h5v-1l1-1h7v-3l1-1h1v-1l1-1h3v-3l1-1h1v-1l1-1h1v-9h-3l-1-1v-1h-1l-1-1v-1h-3l-1-1v-1l1-1h1v-1l1-1h1v-1l1-1h1v-7l1-1h1v-1l1-1h1v-3h-1l-1-1v-1h-3l-1-1v-1h-3l-1-1v-1h-3l-1-1v-1l1-1h1v-1h-2l-1-1h-2l-1-1h-3l-1-1h-3l-1-1h-3v1l-1,1h-5l-1-1v-1h-3v1l-1,1h-3l-1-1v-1l1-1h1v-3h-1l-1-1h-2l-1-1h-8l-1-1v-1zM59,302l1-1h1l1,1v1l-1,1h-1l-1-1zM57,296l1-1h1l1,1v1l-1,1h-1l-1-1zM73,290l1-1h1l1,1v1l-1,1h-1l-1-1zM73,266l1-1h1l1,1v7l-1,1h-3l-1-1v-1l1-1h1zM67,266l1-1h1l1,1v1l-1,1h-1l-1-1zM67,260l1-1h3l1,1v3l-1,1h-1l-1-1v-1h-1l-1-1zM71,254l1-1h3l1,1v1l-1,1h-3l-1-1zM141,156l1-1h1l1,1v1l-1,1h-1l-1-1zM139,152l1-1h1l1,1v1l-1,1h-1l-1-1zM153,132l1-1h1l1,1v3l-1,1h-3l-1-1v-1l1-1h1zM155,130l1-1h1l1,1v1l-1,1h-1l-1-1zM145,124l1-1h5l1,1v1h1l1,1v5l-1,1h-1v1l-1,1h-3v1l-1,1h-9l-1-1v-1h-1l-1-1v-1h-1l-1-1v-3l1-1h5v-1l1-1h5z"/>
<path fill="#70c470" fill-rule="evenodd" d="M1170,912v1h5v-1zM1146,898v1l-1,1h-5v5h1l1,1v1l-1,1h-3v1h5v-1l1-1h3l1,1v3h1l1,1v1h1l1,1v3h1l1,1v1h1l1,1v1h1l1,1v1l-1,1h-1v1l-1,1h-1v1l1,1h1l2,2l-1,1h-2l-2,2h-1l-2,2h-5l-1,1h-4v1l-1,1h-3v1l-1,1h-2l-1,1v4h1l1,1v1h1l1,1v1h1l1-1h1l2-2h1l1-1h1l2-2v-1l3-3l1,1v1h1v-3l1-1h1v-1l1-1h3v-1l1-1h3v-1l1-1h1v-1l1-1h3v-1l1-1h3l2-2v-1h-1l-1-1v-1h-1l-1-1v-3h-3l-1-1v-1h-1l-1-1v-1l1-1h1v-3l1-1h1v-1h-1l-1-1v-1h-3l-1-1v-1h-1v1l-1,1h-1v1l-1,1h-1l-1-1v-3l1-1h1v-3h-3l-1-1v-1h-1v1l-1,1h-1l-1-1v-1zM1159,918l1-1h1l1,1v1l-1,1h-1l-1-1zM1130,888v3h3v-3zM1096,858v1h3l1,1v1h1l1,1v1h1l1,1v1h3v-5h-5l-1-1v-1zM1128,848v1l-1,1h-1v1l-1,1h-3v3l-1,1h-3v1l-1,1h-1v3h1l1,1v5l-1,1h-1l-1-1v-1h-3v1l-1,1h-3v3h1l1,1v1h1l1,1v1h3v-1l1-1h1l1,1v1h1l1,1v1h7l1,1v3l-1,1h-3v1l-1,1h-1v5l-1,1h-1v1h1v-1l1-1h3v-1h-1l-1-1v-3l1-1h3l1,1v1h1v-1l1-1h1v-3h-1l-1-1v-1l1-1h1v-1l1-1h1v-3h-3v3l-1,1h-1l-1-1v-1h-5l-1-1v-1h-1l-1-1v-1l1-1h1v-3l1-1h9v-1l1-1h9l1,1v1h3v-3l1-1h1v-5h-1l-1-1v-3h-1v1l-1,1h-1l-1-1v-1h-5l-1-1v-1h-3l-1-1v-1zM1086,848v1h3v-1zM718,842v2h1l2-2h1zM658,824v3l-1,1h-1v1l-1,1h-1v3l-1,1h-1v1l-1,1h-1v1l-1,1h-7v1l-1,1h-3v1l-1,1h-3v1l-1,1h-1v5l-1,1h-5l-1-1v-1h-5v1l-1,1h-7l-1-1v-1h-7v7h1l1,1v1h1l1,1v5h1l1,1v7h3l1,1v5h3v-1l1-1h3l1,1v1h5l1,1v1h1l1,1v1h1l1,1v1h5v-3l1-1h1v-1h-1l-1-1v-1l1-1h1v-1l1-1h1l1,1v1h1v-3l1-1h3v-1l1-1h1v-1l1-1h1v-3h-1l-1-1v-3l1-1h1v-1h-1l-1-1v-1l1-1h3v-1l1-1h1l1,1v1h3v-7l1-1h1v-5l1-1h1v-1l1-1h1v-1l1-1h1v-9h-3l-1-1v-1h-1l-1-1v-1zM635,860l1-1h1l1,1v3l-1,1h-1l-1-1zM647,858l1-1h1l1,1v1l-1,1h-1l-1-1zM625,852l1-1h13l1,1v1l-1,1h-7v3h1l1,1v1l-1,1h-1v5l-1,1h-1l-1-1v-1h-1v1l-1,1h-1v7l-1,1h-1l-1-1v-1h-1l-1-1v-5l1-1h1v-1h-1l-1-1v-1h-5l-1-1v-1h-5l-1-1v-3l1-1h1v-1l1-1h3l1,1v1h1l1,1v1h1l1,1v1h1v-1l1-1h1v-3l1-1h1zM635,846l1-1h1l1,1v3l-1,1h-1l-1-1zM1148,816v1l-1,1h-1v1h1l1,1v3h1v-1l1-1h1v-4l-1-1zM840,816v3l1,1v1l1,1h1l2,2h1l2,2h1v-6h-1l-1-1v-1h-3l-1-1v-1zM800,814v1h1l1,1h4h-2l-1-1v-1zM904,812v3l-1,1h-1v1l-1,1h-3v1l-1,1h-1h7v-1l1-1v-3l1-1v-2zM818,812v1l-1,1h-3v1h2l1-1h1l1-1v-1zM498,808v1l-1,1h-1v5h3v-7zM1070,792v3l-1,1h-1v1h1l1,1v1h3v-3l1-1h1v-3zM1110,790v1l-1,1h-1v1l-1,1h-1v1l-1,1h-13v7h3l1,1v3l-1,1h-1v1l-1,1h-3l-1-1v-1h-1l-1-1v-1h-1v9h3l1,1v1h5v-1l1-1h7v-1l1-1h1v-1l1-1h1v-3l1-1h5v-1l1-1h1l1,1v7l-1,1h-1v3l-1,1h-5v3l-1,1h-3v1h5l1,1v3l-1,1h-1v1h1l1,1v1h1l1,1v1h5v-1l1-1h5v-1l1-1h1v-1l1-1h1v-1l1-1h1v-1l1-1h7v-3l1-1h1v-1l1-1h1l1,1v1h1v-9l1-1h1v-1h-1l-1-1v-3h-1v3l-1,1h-5l-1-1v-3l1-1h3v-1h-3l-1-1v-1h-1l-1-1v-1h-1l-1-1v-1h-5v1l-1,1h-1l-1-1v-5h-1l-1-1v-1zM1127,818l1-1h3l1,1v3l-1,1h-1l-1-1v-1h-1l-1-1zM930,780v1l-1,1h-1v1l-1,1h-5v1l-1,1h-5h10l6-6zM1118,772v9h1l1,1v1h3v-1h-1l-1-1v-1l1-1h3l1,1v1h1v-1l1-1l-1-1h-1l-1-1v-3h-1v1l-1,1h-3l-1-1v-3zM1090,766v1l-1,1h-1v5h3l1,1v1h5v-1l1-1h3v-1l1-1h1v-1h-1l-1-1v-1h-5l-1-1v-1zM390,702v3h1l1,1v1l-1,1h-1v3h5v-1l1-1h1v-1l1-1h1v-1l1-1h1v-3zM1100,694v5h1v-5zM438,692v3h1v-3zM1100,688v3h1v-3zM942,654v1l-1,1h-1v5h1v-1l1-1h1v-5zM850,646v1l-1,1h-1v1h3v-3zM640,638v1l-1,1h-3v7h1l1,1v3h9v-1l1-1h9v-5h-1l-1-1v-3h-1l-1-1v-1h-3v1l-1,1h-5l-1-1v-1zM1194,618v3l-1,1h-1v3l-1,1h-1v1l-1,1h-1v5h1v-1l1-1h2v-6l1-1v-1l2-2v-1l1-1v-1zM1022,612v3h3v-3zM1116,608v1h3v-1zM904,604v5l-1,1h-1v3h1l1,1v1l-1,1h-1v1l-1,1h-3v1l-1,1h-1v3h1v-1l1-1h3l1,1v1l-1,1h-1v1l-1,1h-1v1h1v-1l1-1h3v-1l1-1h3v-1l1-1h1v-1l1-1h1v-1l1-1h5v-3l1-1h3v-1l1-1h1v-1l1-1h1v-1h-5v1l-1,1h-5l-1-1v-5zM862,604v1l-1,1h-3v1h1l1,1v1h3v-1l1-1h1v-1h-1l-1-1v-1zM846,602v1l-1,1h-3v1l-1,1h-1v1l-1,1h-1v1l-1,1h-1v1l-1,1h-3v1l-1,1h-1v1l-1,1h-3l-1-1v-3h-3v1l-1,1h-5v1l-1,1h-1v1l-1,1h-1v1l-1,1h-3l-1-1v-1l1-1h1v-1h-3v1l-1,1h-1v1h3l1,1v1l-1,1h-1v1l-1,1h-7l-1-1v-1h-3v1l-1,1h-1v1l-1,1h-5v3l-1,1h-1v1h3v-1l1-1h5v-1l1-1h3l1,1v3l-1,1h-3v3l-1,1h-3v1l-1,1h-1v1l-1,1h-5l-1-1v-1h-1l-1-1v-1l1-1h1v-1h-3l-1-1v-1h-7l-1-1v-1h-7l-1-1v-1l1-1h1v-1l1-1h1v-1h-3l-1-1v-1h-5v1l-1,1h-1v1l-1,1h-3v1l-1,1h-1v1l-1,1h-7l-1-1v-1h-7v1l-1,1h-5v1l-1,1h-1v1l-1,1h-3v1l-1,1h-5v1l-1,1h-1v3l-1,1h-1v1h1l1,1v3l-1,1h-1v1l-1,1h-3l-1-1v-3l1-1h1v-3h-3l-1-1v-1l1-1h1v-3l1-1h1v-1h-1l-1-1v-1h-1l-1-1v-1h-1l-1-1v-1h-1l-1-1v-5h-5v1l-1,1h-11v1l-1,1h-1v5h1l1,1v3h3l1,1v7h1l1,1v1h1l1,1v1h1l1,1v1h3l1,1v1h1l1,1v1h9l1,1v1h11l1,1v5h1v-1l1-1h3l1,1v7h3l1,1v3l-1,1h-3v1l-1,1h-1v1l-1,1h-1v1l-1,1h-7v1l-1,1h-1l-1-1v-1h-1l-1-1v-1h-5l-1-1v-1h-1v1l-1,1h-5v3l-1,1h-1l-1-1v-1h-1v1l-1,1h-1l-1-1v-1h-11v1l-1,1h-5l-1-1v-1h-5l-1-1v-3h-1l-1-1v-1h-11l-1-1v-3l1-1h3v-3l1-1h1v-1h-1v1l-1,1h-3l-1-1v-5h-1v1l-1,1h-3l-1-1v-1h-7v1l-1,1h-1v1l-1,1h-5v1l-1,1h-1v1l-1,1h-1v5l-1,1h-3v1l-1,1h-3v1l-1,1h-1v3l-1,1h-5l-1-1v-1h-3v3h1l1,1v1l-1,1h-3v1l-1,1h-1v1l-1,1h-1v1l-1,1h-1v1l-1,1h-1v3l-1,1h-1v1l-1,1h-1v13l-1,1h-1v3l-1,1h-3v3l-1,1h-1v1l-1,1h-1v1l-1,1h-1v3l-1,1h-1v5l-1,1h-1v1l-1,1h-1v3l-1,1h-1v3l-1,1h-1v1l-1,1h-1v1l-1,1h-3v1l-1,1h-1v1l-1,1h-1v3l-1,1h-3v3l-1,1h-5v1l-1,1h-3v7l-1,1h-3v1l-1,1h-1v1l-1,1h-5v1l-1,1h-1v1h3v-1l1-1h3l1,1v1h1l1,1v3h1l1,1v13h1l1,1v1h1l1,1v1h3v-1l1-1h5l1,1v1h9l1,1v1h3l1,1v1h1l1,1v3h1l1,1v1h1l1,1v5h3l1,1v1h3v-1l1-1h1v-1l1-1h3l1,1v1h3l1,1v1h7v-1l1-1h9v-1l1-1h1v-1l1-1h1v-1l1-1h3l1,1v1h1v-1l1-1h3l1,1v1h1v-1l1-1h1l1,1v5h3l1,1v1h1v-1l1-1h1l1,1v1h5l1,1v1h9l1,1v1h3v-1l1-1h1l1,1v1h3l1,1v1h7l1,1v1l-1,1h-1v3h13l1,1v1h1l1,1v1h7l1,1v1h1l1,1v1h1l1,1v1h5v-1l1-1h1v-1l1-1h5v-1l1-1h1v-1l1-1h3v-1l1-1h1v-1l1-1h1v-1l1-1h1v-1l1-1h7v-1l1-1h3v-1l1-1h1v-1l1-1h5v-1l1-1h11v-11l1-1h1v-1h-1l-1-1v-1l1-1h1v-3l1-1h3v-1l1-1h1v-1l1-1h3v-1l1-1h1v-1l1-1h3v-1l1-1h1v-3l1-1h1l1,1v1h3v-1l1-1h11v-1l1-1h1v-1l1-1h3v-1l1-1h5v-1l1-1h1v-1l1-1h1v-3l1-1h1v-1l1-1h1v-1l1-1h1v-1l1-1h1v-1l1-1h1v-1l1-1h1v-3l1-1h1v-1l1-1h5v-1l1-1h3v-3l1-1h1l1,1v1h7l1,1v1h1l1,1v1l-1,1h-1v3h1l1,1v3h11v-1l1-1h5l1,1v1h3l1,1v1h1v-1h-1l-1-1v-1h-1l-1-1v-1h-1l-1-1v-7l1-1h1v-9h-1l-1-1v-1h-1l-1-1v-1h-1l-1-1v-5h-1l-1-1v-3h-5l-1-1v-1l1-1h11l1,1v1l-1,1h-1v1h1l1,1v1h1l1,1v3h5v-3l1-1h1v-5l1-1h1v-1l1-1h1v-1l1-1h3v-1l1-1h1v-3l1-1h1v-1l1-1h1v-1l1-1h1v-1l1-1h1v-3l1-1h3v-3l1-1h1v-3l1-1h1v-1l1-1h1v-1l1-1h1v-5l1-1h1v-5l1-1h1v-3l1-1h1v-1l1-1h1v-1l1-1h3v-1l1-1h5v-1l1-1h11v-1l1-1h1v-1h-3l-1-1v-1h-1l-1-1v-5h-1l-1-1v-3l1-1h3l1,1v1h3v-1l1-1h1v-1l1-1h1v-3l1-1h1v-9l1-1h1l1,1v1h1v-3l1-1h1v-3h-3l-1-1v-1h-3l-1-1v-3h-3l-1-1v-3h-3l-1-1v-1h-3v1h1l1,1v1l-1,1h-1v1l-1,1h-3l-1-1v-1h-1l-1-1v-3h-1v1l-1,1h-1v1h1l1,1v3l-1,1h-1v1l-1,1h-3v1l-1,1h-3l-1-1v-1l1-1h1v-1l1-1h1v-1h-1v1l-1,1h-3v1l-1,1h-1v1l-1,1h-3v1l-1,1h-3v1h5v-1l1-1h1l1,1v1h1l1,1v1h3l1,1v1h1l1,1v3h9v-1l1-1h1v-1l1-1h5l1,1v3l-1,1h-1v3h1l1,1v1l-1,1h-3l-1-1v-3h-5v1l-1,1h-3v1l-1,1h-3v1l-1,1h-1v3l-1,1h-3l-1-1v-1h-3l-1-1v-1h-1v1l-1,1h-1v1h3l1,1v1h1l1,1v1l-1,1h-3l-1-1v-1h-1v1l-1,1h-5v1l-1,1h-3l-1-1v-1l1-1h1v-5l1-1h1v-1h-1v1l-1,1h-7l-1-1v-1h-3v1l-1,1h-1v1l-1,1h-1v1l-1,1h-1v5h1l1,1v1h1l1,1v1l-1,1h-15v1l-1,1h-3l-1-1v-3l1-1h1v-1h-7l-1-1v-1h-1v1l-1,1h-1v1h1l1,1v3l-1,1h-1v3l-1,1h-5l-1-1v-5l1-1h1v-1l1-1h1v-1h-1l-1-1v-1l1-1h1v-1l1-1h1v-1l1-1h1v-1h-1v1l-1,1h-3v1l-1,1h-5v1l-1,1h-7l-1-1v-5l1-1h5v-1l1-1h3v-1l1-1h3v-1l1-1h1v-1l1-1h1v-1l1-1h3v-1l1-1h1v-5l1-1h5v-1l1-1h5v-1h-1l-1-1v-5h-7v1l-1,1h-9l-1-1v-1l1-1h1v-1h-1l-1-1v-1h-3l-1-1v-1l1-1h1v-3h-1l-1-1v-1l1-1h9v-1l1-1h1v-1h-3l-1-1v-1h-1l-1-1v-1l1-1h1v-1zM751,808l1-1h1l1,1v3l-1,1h-1l-1-1zM649,806l1-1h5l1,1v3l-1,1h-1v1l-1,1h-1v3l-1,1h-1l-1-1v-5h-1l-1-1v-1l1-1h1zM635,804l1-1h1l1,1v3l-1,1h-1l-1-1zM743,802l1-1h3l1,1v3l-1,1h-1l-1-1v-1h-1l-1-1zM647,800l1-1h3l1,1v1l-1,1h-3l-1-1zM619,800l1-1h3l1,1v1l-1,1h-3l-1-1zM669,798l1-1h1l1,1v1h7l1,1v1h1l1,1v1h1l1,1v7l-1,1h-1v1l-1,1h-1v1l-1,1h-3v1l-1,1h-5l-1-1v-3h-5l-1-1v-1l1-1h1v-5l1-1h1v-3l1-1h1zM631,796l1-1h1l1,1v1h1l1,1v1h3l1,1v1l-1,1h-3v1l-1,1h-1v1l-1,1h-3l-1-1v-7l1-1h1zM623,796l1-1h1l1,1v1l-1,1h-1l-1-1zM555,794l1-1h1l1,1v1l-1,1h-1l-1-1zM757,792l1-1h3l1,1v1l-1,1h-1v1l-1,1h-1v1l-1,1h-1v5l-1,1h-3l-1-1v-9l1-1h5zM591,780l1-1h3l1,1v1h1l1,1v5h3v-3l1-1h3l1,1v1h1l1,1v1l-1,1h-1v1l-1,1h-1v1h3v-3l1-1h3l1,1v3h7l1,1v5l-1,1h-3v1l-1,1h-5l-1-1v-1h-1v7l-1,1h-1l-1-1v-1h-3l-1-1v-1h-3v1l-1,1h-3l-1-1v-3l1-1h3v-1l1-1h1l1,1v1h5v-3h-9v1l-1,1h-1l-1-1v-1h-1l-1-1v-3l1-1h3v-3h-5l-1-1v-5l1-1h1zM773,772l1-1h3l1,1v3l-1,1h-3l-1-1zM561,770l1-1h1l1,1v1h1l1,1v5l-1,1h-1v5l-1,1h-3l-1-1v-3l1-1h1zM653,740l1-1h1l1,1v5l-1,1h-3l-1-1v-3l1-1h1zM759,738l1-1h3l1,1v7l-1,1h-5v3h1l1,1v3l-1,1h-1v5l-1,1h-1v1l-1,1h-1v1l-1,1h-3v1l-1,1h-1v1h1l1,1v5l-1,1h-1v1h1l1,1v1h1l1,1v1h1l1,1v3h1l1,1v5l-1,1h-5l-1-1v-1h-1l-1-1v-3h-1l-1-1v-1h-1l-1-1v-1h-1v1l-1,1h-1v1l-1,1h-1v3l-1,1h-5v1l-1,1h-1l-1-1v-1h-1l-1-1v-1h-1v1l-1,1h-3v1l-1,1h-3v1l-1,1h-7l-1-1v-3h-1l-1-1v-3h-1l-1-1v-3h-1l-1-1v-3l1-1h1v-1l1-1h1v-3l1-1h1v-3l1-1h3l1,1v1h1l1,1v1h1v-3l1-1h1v-1l1-1h1v-7l1-1h3v-3l1-1h1v-1l1-1h1v-1l1-1h7v-3l1-1h1v-1l1-1h1l1,1v1h5v-1l1-1h3v-1l1-1h7zM609,738l1-1h11l1,1v3h5l1,1v3l-1,1h-1v3h3v-1h-1l-1-1v-1l1-1h3l1,1v1h1v-3l1-1h3l1,1v1h1l1,1v3h5l1,1v1l-1,1h-1v1l-1,1h-3v1l-1,1h-1v1l-1,1h-1v3l-1,1h-1v7l-1,1h-3v1l-1,1h-1v3l-1,1h-1v3l-1,1h-1v5l-1,1h-3v1l-1,1h-1l-1-1v-5h-1l-1-1v-1h-1v3l-1,1h-5l-1-1v-1h-1l-1-1v-1h-1l-1-1v-3h-1l-1-1v-1h-1l-1-1v-1h-1l-1-1v-1h-1l-1-1v-1h-1l-1-1v-9l1-1h1v-3l1-1h1v-5l1-1h1v-1l1-1h3v-1l1-1h1v-1l1-1h1v-1l1-1h1zM841,736l1-1h1l1,1v3l-1,1h-1l-1-1zM827,736l1-1h3l1,1v1l-1,1h-1v5l-1,1h-1l-1-1zM777,734l1-1h1l1,1v1l-1,1h-1l-1-1zM659,734l1-1h3l1,1v5l-1,1h-3l-1-1zM831,730l1-1h1l1,1v3l-1,1h-1l-1-1zM787,730l1-1h1l1,1v1h9v-1l1-1h1l1,1v1h7l1,1v1h1v-1l1-1h1l1,1v1h3l1,1v1h1l1,1v9l-1,1h-1v1l-1,1h-11l-1-1v-5h-1l-1-1v-3h-1l-1-1v-1h-3l-1-1v-1h-1v1l-1,1h-5v1l-1,1h-1l-1-1v-1h-3l-1-1v-3l1-1h3zM773,730l1-1h3l1,1v3l-1,1h-3l-1-1zM749,726l1-1h5l1,1v3h1l1,1v1h1l1,1v1l-1,1h-1v1l-1,1h-1v1l-1,1h-5l-1-1v-1h-1l-1-1v-7l1-1h1zM869,720l1-1h1l1,1v3l-1,1h-3l-1-1v-1l1-1h1zM757,710l1-1h1l1,1v3h1l1,1v3l-1,1h-1l-1-1v-1h-1l-1-1v-1h-1l-1-1v-1l1-1h1zM677,708l1-1h1l1,1v1h1l1,1v5l-1,1h-1v3l-1,1h-1v1l-1,1h-5v1l-1,1h-1l-1-1v-11l1-1h1v-1l1-1h5zM763,706l1-1h1l1,1v1l-1,1h-1l-1-1zM843,700l1-1h1l1,1v3h3l1,1v5l-1,1h-1v3h1l1,1v1h1l1,1v9l-1,1h-1v1l-1,1h-1l-1-1v-1h-3l-1-1v-1h-1l-1-1v-7h-1l-1-1v-1l1-1h1v-3h-1l-1-1v-1l1-1h1v-1l1-1h1zM667,700l1-1h1l1,1v1l-1,1h-1l-1-1zM825,698l1-1h3l1,1v3l-1,1h-3l-1-1zM793,696l1-1h3l1,1v3h1l1,1v1l-1,1h-1v1l-1,1h-3l-1-1zM809,694l1-1h3l1,1v3l-1,1h-1l-1-1v-1h-1l-1-1zM771,694l1-1h3l1,1v3h1v-3l1-1h1l1,1v1h1l1,1v1h3v-1l1-1h1l1,1v1h3l1,1v3l-1,1h-1v1l-1,1h-1l-1-1v-3h-1v1l-1,1h-3l-1-1v-1h-1v1l-1,1h-1v1l-1,1h-1l-1-1v-3h-3l-1-1v-1h-1l-1-1v-1l1-1h1zM761,694l1-1h1l1,1v1l-1,1h-1l-1-1zM849,692l1-1h3l1,1v1h3l1,1v1l-1,1h-7l-1-1zM695,692l1-1h3l1,1v5l-1,1h-1v1l-1,1h-3l-1-1v-1h-3l-1-1v-1l1-1h3v-1l1-1h1zM679,692l1-1h1l1,1v1h3v-1l1-1h1l1,1v1h1l1,1v1l-1,1h-3v1l-1,1h-1v1l-1,1h-1l-1-1v-1h-1l-1-1zM853,690l1-1h1l1,1v1l-1,1h-1l-1-1zM845,688l1-1h3l1,1v1l-1,1h-3l-1-1zM813,688l1-1h3l1,1v3l-1,1h-1l-1-1v-1h-1l-1-1zM779,688l1-1h1l1,1v1l-1,1h-1l-1-1zM679,688l1-1h1l1,1v1l-1,1h-1l-1-1zM661,688l1-1h3l1,1v1l-1,1h-1v1l-1,1h-3l-1-1v-1l1-1h1zM837,686l1-1h1l1,1v3l-1,1h-1l-1-1zM797,684l1-1h1l1,1v1l-1,1h-1l-1-1zM771,684l1-1h7l1,1v3l-1,1h-5v3l-1,1h-3v1l-1,1h-1l-1-1v-1h-1l-1-1v-5l1-1h5zM659,684l1-1h1l1,1v1l-1,1h-1l-1-1zM655,682l1-1h1l1,1v1l-1,1h-1l-1-1zM903,680l1-1h1l1,1v3l-1,1h-1l-1-1zM691,680l1-1h1l1,1v1h5v-1l1-1h1l1,1v3h1l1,1v3l-1,1h-1v1l-1,1h-7l-1-1v-1h-3l-1-1v-1l1-1h1zM651,680l1-1h3l1,1v1l-1,1h-3l-1-1zM647,678l1-1h1l1,1v3l-1,1h-1l-1-1zM809,676l1-1h3l1,1v3h1l1,1v3l-1,1h-1v3l-1,1h-3l-1-1v-1h-5l-1-1v-3h-1l-1-1v-1l1-1h1v-1l1-1h3l1,1v1h1zM727,676l1-1h1l1,1v3l-1,1h-3l-1-1v-1l1-1h1zM649,672l1-1h1l1,1v1l-1,1h-1l-1-1zM625,672l1-1h3l1,1v1l-1,1h-3l-1-1zM849,670l1-1h1l1,1v3l-1,1h-1l-1-1zM629,670l1-1h1l1,1v1l-1,1h-1l-1-1zM883,668l1-1h3l1,1v1l-1,1h-3l-1-1zM871,668l1-1h5l1,1v1l-1,1h-3v1h5v-1l1-1h3l1,1v1l-1,1h-1v1l-1,1h-1v3h1l1,1v1l-1,1h-1v5l-1,1h-1v1l-1,1h-1v1l-1,1h-3v1l-1,1h-5v1l-1,1h-3l-1-1v-5l1-1h1v-1h-1l-1-1v-9l1-1h1v-1h-1l-1-1v-1h-1l-1-1v-1l1-1h3l1,1v1h3v-1l1-1h3zM631,668l1-1h1l1,1v1l-1,1h-1l-1-1zM877,666l1-1h1l1,1v1l-1,1h-1l-1-1zM891,664l1-1h1l1,1v1l-1,1h-1l-1-1zM853,664l1-1h3l1,1v3l-1,1h-1v1l-1,1h-3l-1-1v-3l1-1h1zM739,660l1-1h1l1,1v1h1l1,1v1h1l1,1v3h1l1,1v1l-1,1h-1v1l-1,1h-1v3l-1,1h-1v3h1v-1l1-1h1l1,1v1h3l1,1v1h1l1,1v1h3l1,1v5h1l1,1v1h1l1,1v3l-1,1h-1v3l-1,1h-3v1l-1,1h-1v1l-1,1h-1v1l-1,1h-9l-1-1v-1h-3l-1-1v-7h-1l-1-1v-9h-1l-1-1v-3h-1l-1-1v-1l1-1h5v-1l1-1h3v-1h-1l-1-1v-1l1-1h1v-1h-1l-1-1v-1h-1l-1-1v-3h-1l-1-1v-3l1-1h5zM905,658l1-1h3l1,1v1l-1,1h-1v1l-1,1h-1l-1-1zM921,656l1-1h7l1,1v5l-1,1h-1l-1-1v-1h-1l-1-1v-1h-3l-1-1zM911,656l1-1h1l1,1v1l-1,1h-1l-1-1zM915,654l1-1h1l1,1v1l-1,1h-1l-1-1zM919,646l1-1h3l1,1v5l-1,1h-1v1l-1,1h-3l-1-1v-1l1-1h1zM701,644l1-1h1l1,1v1l-1,1h-1l-1-1zM791,640l1-1h3l1,1v1l-1,1h-1v1l-1,1h-1v1l-1,1h-3l-1-1v-3l1-1h3zM831,630l1-1h1l1,1v1l-1,1h-1l-1-1zM841,628l1-1h3l1,1v1l-1,1h-1v1l-1,1h-1v1h1l1,1v1h1l1,1v1l-1,1h-3v1l-1,1h-3v1l-1,1h-1v1l-1,1h-3l-1-1v-1h-3v1l-1,1h-3v3l-1,1h-15l-1-1v-1h-1l-1-1v-3h-1l-1-1v-1l1-1h3v-1l1-1h7v-1l1-1h1v-1l1-1h13l1,1v1h1v-1l1-1h3v-1l1-1h1v-1l1-1h1zM845,626l1-1h1l1,1v1l-1,1h-1l-1-1zM815,626l1-1h5l1,1v1l-1,1h-1v1l-1,1h-5l-1-1v-1l1-1h1zM931,622l1-1h3l1,1v1l-1,1h-3l-1-1zM835,616l1-1h3l1,1v1l-1,1h-3l-1-1zM821,616l1-1h1l1,1v1l-1,1h-1l-1-1zM841,610l1-1h1l1,1v1l-1,1h-1l-1-1zM938,598v1l-1,1h-3v1l-1,1h-1v1l-1,1h-1v1h9l1,1v9h1v-1l1-1h9v-1l1-1h3v-1l1-1h3l1,1v1h7l1,1v1h1l1,1v1h3l1,1v1h3v-1l1-1h3v-1l1-1h1v-1l1-1h3v-1l1-1h5l1,1v1h1v-1l1-1h1l1,1v3l-1,1h-1v3l-1,1h-5v1l-1,1h-3v1l-1,1h-1v1l-1,1h-3v1l-1,1h-1v1l-1,1h-1v1h3v-1l1-1h3v-1l1-1h1l1,1v1h3l1,1v3l-1,1h-1v1h1l1,1v5l-1,1h-1v9l-1,1h-1v1h5v-1l1-1h1v-5h-1l-1-1v-1l1-1h1v-3h-1l-1-1v-1l1-1h1v-1l1-1h1v-1l1-1h5v-3l1-1h1v-1h-1l-1-1v-1h-3v1l-1,1h-3v1l-1,1h-3l-1-1v-1h-3l-1-1v-1l1-1h1v-1l1-1h9v-1l1-1h1v-1l1-1h7l1,1v1l-1,1h-1v1h1v-1l1-1h1v-1l1-1h3v-3l1-1h1v-1l1-1h1v-3h-1l-1-1v-5h-1l-1-1v-3h-1v1l-1,1h-3v1l-1,1h-5v1l-1,1h-1l-1-1v-1h-3v1l-1,1h-1v1l-1,1h-5v1l-1,1h-1v1l-1,1h-1v1l-1,1h-5l-1-1v-1h-1l-1-1v-1h-5l-1-1v-1h-3l-1-1v-3h-5v1l-1,1h-5v1l-1,1h-5l-1-1v-1h-1l-1-1v-1h-1l-1-1v-1h-3l-1-1v-1zM959,608l1-1h1l1,1v1l-1,1h-1l-1-1zM993,606l1-1h1l1,1v1l-1,1h-1l-1-1zM860,586v1l-1,1h-1v1h5v-3zM880,576v1l-1,1h-5v3l-1,1h-3v1h3l1,1v1l-1,1h-1v3l-1,1h-3v3h1v-1l1-1h1v-1l1-1h1v-1l1-1h5v-3l1-1h1v-1l1-1h5l1,1v3l-1,1h-1v1l-1,1h-3v1l-1,1h-1v1h5v-1l1-1h1v-3l1-1h3v-9h-3v1l-1,1h-1v1l-1,1h-3l-1-1v-3zM873,582l1-1h1l1,1v1l-1,1h-1l-1-1zM688,566v1l-1,1h-1v5h1l1,1v1h1l1,1v1h1l1,1v1h3v-1l1-1h3v-1l1-1h1v-3h-1l-1-1v-1h-1l-1-1v-1l1-1h1v-1zM902,562v1h1l1,1v1l-1,1h-1v1l-1,1h-1v1l-1,1h-1v1l-1,1h-3v1h1l1,1v1h1l1,1v1h1v-1l1-1h5v-5l1-1h7v-3l1-1h1v-1h-5l-1-1v-1h-3v1l-1,1h-1l-1-1v-1zM894,562v1l-1,1h-3v7h1v-1l1-1h1v-1l1-1h1v-1l1-1h3v-1h-1l-1-1v-1zM964,552v1l-1,1h-3v1l-1,1h-1v1h3v-1l1-1h3v-3zM928,552v3h1l1,1v1l-1,1h-1v3l-1,1h-1v1h1v-1l1-1h5v-1l1-1h1v-1l1-1h3v-1h-7l-1-1v-1h-1l-1-1v-1zM952,550v1l-1,1h-1v3l-1,1h-1v1h1l1,1v1h1v-1l1-1h1v-1l1-1h1v-1l1-1h1v-1h-1l-1-1v-1zM1036,544v1l-1,1h-3v1l-1,1h-1v1l-1,1h-3v1l-1,1h-1v1l-1,1h-1v3h3v-1l1-1h3v-1l1-1h3v-1l1-1h7v-1l1-1h3v-1l1-1h1v-3zM452,542v1l-1,1h-1v1l-1,1h-1v5h5l1,1v3h3l1,1v1h1v-1l1-1h1v-1l1-1h1v-5h-1l-1-1v-3h-1l-1-1v-1zM1064,532v1l-1,1h-5v1l-1,1h-3v1l-1,1h-1v1l-1,1h-1v3h3v-1l1-1h3v-1l1-1h1v-1l1-1h1v-1l1-1h1v-1l1-1h1v-1zM818,518v1l-1,1h-1v1l-1,1h-1v1h3v-1l1-1h1v-1l1-1h1v-1zM810,510v1l-1,1h-3v1l-1,1h-1v1h3l1,1v1l-1,1h-1v3l-1,1h-1v1h3v-1l1-1h1v-1l1-1h3v-1l1-1h1v-1l1-1h3v-3h-3l-1-1v-1zM1148,500v3h1v-1l1-1h1v-1zM770,500v1l-1,1h-3v5h5v-1l1-1h1v-3h-1l-1-1v-1zM1034,498v1l-1,1h-3v3h1v-1l1-1h1v-1l1-1h3l1,1v1l-1,1h-1v1l-1,1h-1v1l-1,1h-3v1l-1,1h-3v1l-1,1h-1v1l-1,1h-1v1l-1,1h-5v1l-1,1h-3l-1-1v-1l1-1h1v-1h-7v1l-1,1h-1v1l-1,1h-3v1l-1,1h-3v3l-1,1h-1v1h3l1,1v3l-1,1h-1v1h3l1,1v1l-1,1h-1v1l-1,1h-1v1l-1,1h-3v1l-1,1h-1v1l-1,1h-1v1h1v-1l1-1h3v-1l1-1h1v-1l1-1h3v-1l1-1h5l1,1v3l-1,1h-5v1l-1,1h-3v1l-1,1h-3v1l-1,1h-5v1l-1,1h-1v1l-1,1h-1v1h1l1,1v1h3l1,1v1l-1,1h-1v3h1l1,1v1h1l1,1v1h7v-5l1-1h3v-1h-1l-1-1v-3l1-1h1v-1l1-1h3l1,1v3h1l1,1v1l-1,1h-1v1l-1,1h-1v1l-1,1h-1v1l-1,1h-1v1h3v-1l1-1h7v-1l1-1h3v-1l1-1h1v-1l1-1h1v-3l1-1h1v-1l1-1h3v-3l1-1h3v-1l1-1h3v-1l1-1h3v-3l1-1h1l1,1v5h1v-1l1-1h1v-1l1-1h3v-1h-3l-1-1v-1h-1l-1-1v-1l1-1h3v-1l1-1h1v-1l1-1h3v-1l1-1h1v-1l1-1h1v-7l1-1h1v-1h-5v1l-1,1h-1v1h1l1,1v3l-1,1h-1v1l-1,1h-1v1l-1,1h-5v1l-1,1h-1l-1-1v-7l1-1h1v-1l1-1h1v-5l1-1h1v-1h-7v1l-1,1h-1v1l-1,1h-1l-1-1v-1h-1v1l-1,1h-1v1l-1,1h-1l-1-1v-3l1-1h1v-1l1-1h3v-1l1-1h9v-1l1-1h3v-1l1-1h3v-1l1-1h1v-1h-15l-1-1v-1zM987,550l1-1h1l1,1v1l-1,1h-1l-1-1zM770,492v1l-1,1h-1v1l-1,1h-7v5h3v-1l1-1h1v-1l1-1h5v-1l1-1h1v-1l1-1h1v-1zM762,482v1l-1,1h-1v1h3v-1l1-1h1v-1zM780,466v1l-1,1h-3v3l-1,1h-1v1h1l1,1v3l-1,1h-1v1h7l1,1v3h1v-1l1-1h3v-7l1-1h1v-1l1-1h1v-1h-3l-1-1v-1h-1l-1-1v-1zM781,478l1-1h1l1,1v1l-1,1h-1l-1-1zM1008,452v3h1v-3zM902,450v1l-1,1h-3v1l-1,1h-1v1l-1,1h-3l-1-1v-1h-3v1h1l1,1v3h3v-1l1-1h1v-1l1-1h1v-1l1-1h5v-1l1-1h1v-1zM990,438v1l-1,1h-3v5l-1,1h-1v1h1l1,1v7h3v-1l1-1h3v-1l1-1h1v-1l1-1h1l1,1v1h5v-1l1-1h1v-1l1-1h3v-1l1-1h3v-1l1-1h1v-1l1-1h1v-1h-1l-1-1v-1h-1v1l-1,1h-3v1l-1,1h-1v1l-1,1h-3v1l-1,1h-1l-1-1v-3h-5l-1-1v-1l1-1h1v-1zM993,442l1-1h1l1,1v1l-1,1h-1l-1-1zM1042,436v1l-1,1h-1v1l-1,1h-1v3h3v-1l1-1h1v-5zM1232,428v3l-1,1h-1l-1-1v-1h-3v1l-1,1h-1l-1-1v-1h-3v5h1l1,1v5h1l1,1v3l-1,1h-13l-1-1v-1h-1v1l-1,1h-1v1l-1,1h-5v1l-1,1h-7v1l-1,1h-3v1l-1,1h-3v1l-1,1h-3v7l-1,1h-1v1l-1,1h-1v3l-1,1h-1v9h1l1,1v5l-1,1h-1v5h1l1,1v3l-1,1h-1v1h1l1,1v3h1l1,1v1h1l1,1v3l-1,1h-1v1l-1,1h-3v1l-1,1h-3l-1-1v-1h-1v1l-1,1h-1v1l-1,1h-9l-1-1v-1h-1l-1-1v-1h-1v3h3l1,1v7h1v-1l1-1h3l1,1v1h5l1,1v1h9l1,1v3h1l1,1v3h3l1,1v1l-1,1h-9l-1-1v-1h-1l-1-1v-3h-3v1l-1,1h-1l-1-1v-1h-3v3l-1,1h-1l-1-1v-1h-1l-1-1v-3h-1l-1-1v-1h-1l-1-1v-1h-3l-1-1v-1h-9v1l-1,1h-1v1l-1,1h-1v1l-1,1h-3l-1-1v-1h-1l-1-1v-1h-1l-1-1v-3h-3v1l-1,1h-1v5l-1,1h-1v3l-1,1h-3v1l-1,1h-3v1l-1,1h-5v1l-1,1h-1v1l-1,1h-13v1l-1,1h-1v1h1l1,1v3l-1,1h-5l-1-1v-3l1-1h1v-1h-1v1l-1,1h-3v9l-1,1h-3v1l-1,1h-7v1l-1,1h-1v3l-1,1h-1v1h3l1,1v1l-1,1h-1v1l-1,1h-1v1l-1,1h-1v1h3l1,1v1l-1,1h-1v1l-1,1h-1v1l-1,1h-5l-1-1v-3h-11v1l-1,1h-1v1l-1,1h-17v3h1l1,1v1h5l1,1v1l-1,1h-1v3l-1,1h-1v1l-1,1h-1v3l-1,1h-1v1h5v-1l1-1h5l1,1v1l-1,1h-1v1l-1,1h-1v1h5v-1l1-1h5l1,1v1l-1,1h-1v1l-1,1h-1v1h3l1,1v1l-1,1h-1v1l-1,1h-1v1l-1,1h-3v1l-1,1h-1v7l-1,1h-1l-1-1v-1h-3v1h1l1,1v1l-1,1h-3v1l-1,1h-5v1l-1,1h-9l-1-1v-1h-1v3h1l1,1v1l-1,1h-1v1h1l1,1v3h1l1,1v1h1l1,1v1h3l1,1v3h1l1,1v1h1l1,1v3h1l1,1v3l-1,1h-1v1l-1,1h-3v5l-1,1h-1v5h1l1,1v9l-1,1h-1v1l-1,1h-3v1l-1,1h-3v3l-1,1h-1v1l-1,1h-1l-1-1v-7l1-1h1v-3l1-1h1v-1l1-1h1v-3h-5l-1-1v-5h-5l-1-1v-1h-1l-1-1v-1h-3v1l-1,1h-1l-1-1v-3l1-1h1v-1h-3v1l-1,1h-3l-1-1v-1l1-1h1v-1h-5l-1-1v-1h-5v1l-1,1h-1v1l-1,1h-7v1h5l1,1v1h1v-1l1-1h1v-1l1-1h1l1,1v7h1l1,1v3h1l1,1v1l-1,1h-1v1l-1,1h-1v5h3l1,1v3h1l1,1v3l-1,1h-1v3l-1,1h-1v15l-1,1h-1v3l-1,1h-3v1l-1,1h-1v1l-1,1h-5l-1-1v-3h-3l-1-1v-1h-1v1l-1,1h-1v1l-1,1h-1v5l-1,1h-1v7l-1,1h-1v7l-1,1h-1v1l-1,1h-1v1l-1,1h-7v3h5l1,1v3h1l1,1v3l-1,1h-1l-1-1v-1h-1l-1-1v-1h-3v5l-1,1h-3v3l-1,1h-1v9h3l1,1v1l-1,1h-1v3l-1,1h-1v3h3l1,1v3l-1,1h-1l1,1h6l1,1h5l1,1h4l1-1h5l1-1h5l1-1h19l1,1h2l1,1h3l1,1h2l1,1h2l3,3v1l1,1h2l1,1v3l2,2h1l3,3h4l1-1h9l1-1h1l1-1h1l1-1h1l2-2h1l1-1h1l1-1h1l1-1v-1l1-1v-1l2-2v-1l1-1h5l2,2h1l3,3h1l3,3h1l5,5h2v-1l1-1h1v-3l1-1h1v-1l1-1h3v-1l1-1h3v-1h-1l-1-1v-1h-1l-1-1v-3h-1l-1-1v-5h-1l-1-1v-3h-1l-1-1v-1h-1l-1-1v-1h-1v1l-1,1h-3l-1-1v-1h-1l-1-1v-1h-1l-1-1v-1h-3l-1-1v-5h-1l-1-1v-1h-1l-1-1v-7l1-1h1v-3l1-1h5v-1l1-1h1l1,1v1h1l1,1v1l-1,1h-1v3h7l1,1v5h1v-1l1-1h1v-5h-1l-1-1v-3h-1l-1-1v-3h-1l-1-1v-1h-1l-1-1v-3l1-1h1v-1h-3l-1-1v-5l1-1h1v-1l1-1h1v-7h-1l-1-1v-3l1-1h3v-1l1-1h1v-5l1-1h1v-1h-1l-1-1v-1h-1l-1-1v-5l1-1h1v-1l1-1h3v-1l1-1h3v-3l1-1h1v-3l1-1h1v-1l1-1h19v-1l1-1h3l1,1v1h3v-1l1-1h1l1,1v1h1l1,1v1h1l1,1v1h1l1,1v1h1l1,1v1h5l1,1v7l-1,1h-1v5l-1,1h-7l-1-1v-1h-1l-1-1v-1h-3v1l-1,1h-1v1h1l1,1v1l-1,1h-3v3l-1,1h-1l-1-1v-1h-5v7h1l1,1v1h1l1,1v1h1l1,1v5h3l1,1v7l-1,1h-1v1l-1,1h-1l-1-1v-3h-1v1l-1,1h-3v1l-1,1h-1v1l-1,1h-3v1l-1,1h-1v1l-1,1h-1v1l-1,1h-1v7h1l1,1v5l-1,1h-1v5h7l1,1v1h3v-1l1-1h3v-1l1-1h1v-1l1-1h3v-1l1-1h3v-9h-1l-1-1v-1l1-1h5v-3l1-1v-3h-2l-1-1v-3l1-1h3v-2l1-1v-3l1-1v-2h-3l-1-1v-3l1-1h1l1,1v1h1l1,1v-2l1-1v-3l1-1h1l3-3v-1l1-1v-1l1-1v-1l1-1v-1l1-1v-1l1-1v-1l2-2v-3l1-1h3l2-2v-1l1-1h1l19-19l-1-1v-1h-3l-1-1v-7h-1l-1-1v-3l1-1h3v-1l1-1h5l1,1v3h1l1,1v3v-1l1-1v-2l1-1v-1l1-1v-1l1-1v-1l1-1v-1l3-3h1l2-2h1l2-2h1l2-2v-2l1-1h1l1,1v1h1v-3h-1l-1-1v-1h-1v1l-1,1h-1v1l-1,1h-1l-1-1v-1h-3l-1-1v-1h-3l-1-1v-1h-1v1l-1,1h-3l-1-1v-9h-1l-1-1v-1h-1l-1-1v-1h-5l-1-1v-3l1-1h3l1,1v1h1v-1l1-1h1v-1h-7l-1-1v-1l1-1h1v-5l1-1h1l1,1v1h1l1,1v1l-1,1h-1v1h1v-1l1-1h1l1,1v1h1l1,1v1h1v-1l1-1h3l1,1v3h3v-1l1-1h3l1,1v1h5v-1l1-1h5v-1l1-1h3l1,1v1l-1,1h-1v3h1l1,1v1h3l1,1l1-1h1l4-4h1l3-3h1l2-2h2l1-1h2l1-1h-11v1l-1,1h-5l-1-1v-1h-7l-1-1v-1h-7l-1-1v-1h-1v1l-1,1h-3v1l-1,1h-3l-1-1v-1h-1l-1-1v-3h-5l-1-1v-1l1-1h1v-1l1-1h1v-5l1-1h1v-1h-1l-1-1v-1l1-1h3l1,1v1h1l1,1v11h1v-1l1-1h1v-1l1-1h1v-1l1-1h1v-1l1-1h3v-3l1-1h1v-3h-1l-1-1v-1h-1l-1-1v-3l1-1h1v-5l1-1h1v-1l1-1h3v-1l1-1h1v-1h-1l-1-1v-1h-1l-1-1v-9l1-1h7v-1l1-1h7v-1l1-1h3v-3l1-1h1v-3l1-1h9v-3l1-1h3v-2l-1-1v-2l-1-1v-3l-1-1v-1l-1-1v-1l1-1v-3l1-1v-7l2-2v-2l1-1v-3l1-1v-3l1-1v-1l1-1v-3l1-1v-2l1-1v-2h-7l-1-1v-1h-1l-1-1v-5h-1l-1-1v-1l1-1h1v-1l1-1h3l1,1v1h7v-4l-1-1v-4l-1-1v-5l1-1v-2l3-3v-1l1-1v-1l1-1v-1l1-1l-1-1v-3l1-1h1v-7h-3v1l-1,1h-3l-1-1v-3l1-1h1v-1l1-1h1v-3zM1061,792l1-1h1l1,1v1l-1,1h-1l-1-1zM937,752l1-1h1l1,1v1l-1,1h-1l-1-1zM1005,732l1-1h5l1,1v1h1l1,1v3l-1,1h-1v3l-1,1h-3l-1-1v-1l1-1h1v-3h-1l-1-1v-1h-1l-1-1zM1017,722l1-1h1l1,1v3l-1,1h-1l-1-1zM1105,716l1-1h3l1,1v1l-1,1h-1v1l-1,1h-1l-1-1zM1005,714l1-1h1l1,1v1h1l1,1v1h1l1,1v1h1l1,1v5l-1,1h-3l-1-1v-3h-3l-1-1v-1h-1l-1-1v-1l1-1h1zM1015,712l1-1h1l1,1v1l-1,1h-1l-1-1zM1011,712l1-1h1l1,1v1l-1,1h-1l-1-1zM999,706l1-1h3l1,1v3l-1,1h-3l-1-1zM1105,702l1-1h1l1,1v3l-1,1h-1l-1-1zM1057,694l1-1h5l1,1v1h1l1,1v5l-1,1h-1v1l-1,1h-3v1l-1,1h-3l-1-1v-1h-1l-1-1v-1l1-1h3v-1h-1l-1-1v-3l1-1h1zM1001,694l1-1h1l1,1v1l-1,1h-1l-1-1zM987,694l1-1h3l1,1v1l-1,1h-1v5l-1,1h-1l-1-1zM1049,692l1-1h1l1,1v1l-1,1h-1l-1-1zM995,690l1-1h1l1,1v1l-1,1h-1l-1-1zM1009,688l1-1h3l1,1v11l-1,1h-3l-1-1v-1h-1l-1-1v-3l1-1h1zM999,676l1-1h3l1,1v1l-1,1h-1v3l-1,1h-3l-1-1v-3l1-1h1zM1051,674l1-1h1l1,1v1h1l1,1v5l-1,1h-3v1h1l1,1v1h3l1,1v3l-1,1h-1l-1-1v-1h-5l-1-1v-3h-1l-1-1v-1l1-1h1v-1l1-1h1v-1h-1l-1-1v-1l1-1h1zM979,664l1-1h9l1,1v1l-1,1h-5v1l-1,1h-3l-1-1zM1083,662l1-1h1l1,1v7l-1,1h-5l-1-1v-3l1-1h1v-1l1-1h1zM1139,660l1-1h3l1,1v3l-1,1h-1l-1-1v-1h-1l-1-1zM981,658l1-1h1l1,1v1l-1,1h-1l-1-1zM1067,656l1-1h3l1,1v1l-1,1h-3l-1-1zM1083,644l1-1h1l1,1v1l-1,1h-1l-1-1zM1157,642l1-1h1l1,1v3l-1,1h-3l-1-1v-1l1-1h1zM1093,640l1-1h1l1,1v1h1l1,1v1h1l1,1v1l-1,1h-1v1h1l1,1v1h1l1,1v3l-1,1h-1v1l-1,1h-1v3l-1,1h-1l-1-1v-1h-1l-1-1v-1h-1v1l-1,1h-5l-1-1v-1l1-1h1v-5l1-1h1v-7l1-1h3zM1071,636l1-1h3l1,1v1l-1,1h-3l-1-1zM1013,636l1-1h1l1,1v1l-1,1h-1l-1-1zM1085,634l1-1h1l1,1v1l-1,1h-1l-1-1zM1059,632l1-1h1l1,1v1l-1,1h-1l-1-1zM1147,630l1-1h5l1,1v5h1l1,1v3l-1,1h-1v3l-1,1h-1v1l-1,1h-5v1l-1,1h-9v1l-1,1h-1l-1-1v-3h-1l-1-1v-1l1-1h1v-7l1-1h1v-1l1-1h1v-1l1-1h9zM1023,628l1-1h1l1,1v1l-1,1h-1l-1-1zM1025,626l1-1h3l1,1v1l-1,1h-3l-1-1zM1067,622l1-1h5l1,1v1l-1,1h-1v1l-1,1h-1v3l-1,1h-1v1l-1,1h-5l-1-1v-3l1-1h1v-3l1-1h3zM1075,618l1-1h3l1,1v1l-1,1h-1v1l-1,1h-3l-1-1v-1l1-1h1zM1197,608l1-1h3l1,1v5l-1,1h-1l-1-1v-3h-1l-1-1zM1141,608l1-1h1l1,1v1h3l1,1v3l-1,1h-5v1l-1,1h-1v1l-1,1h-5l-1-1v-3l1-1h1v-1l1-1h3v-1l1-1h1zM1091,606l1-1h1l1,1v5l-1,1h-1v1l-1,1h-3v1l-1,1h-3l-1-1v-1l1-1h1v-1l1-1h1v-3l1-1h3zM1051,606l1-1h3l1,1v5h1l1,1v1l-1,1h-1v5h1l1,1v3l-1,1h-1v7l-1,1h-1v7h1l1,1v1l-1,1h-1v1l-1,1h-1v1h1l1,1v3l-1,1h-1v1l-1,1h-5v1l-1,1h-3v1l-1,1h-3l-1-1v-7h-3l-1-1v-5l1-1h1v-1h-3l-1-1v-3l1-1h1v-3l1-1h1v-3l1-1h3v-3l1-1h3v-3l1-1h5v-1h-5l-1-1v-1h-1l-1-1v-1l1-1h1v-3l1-1h5v-1l1-1h1zM1097,602l1-1h3l1,1v1h1l1,1v1l-1,1h-9l-1-1v-1l1-1h3zM1075,602l1-1h3l1,1v5l-1,1h-3v1l-1,1h-1v3l-1,1h-5v1l-1,1h-1v1l-1,1h-1l-1-1v-3l1-1h1v-3l1-1h3v-1l1-1h1v-1l1-1h3zM1055,600l1-1h1l1,1v1l-1,1h-1l-1-1zM1097,582l1-1h3l1,1v1l-1,1h-3l-1-1zM1101,580l1-1h1l1,1v1l-1,1h-1l-1-1zM1105,578l1-1h1l1,1v1l-1,1h-1l-1-1zM1175,574l1-1h1l1,1v1l-1,1h-1l-1-1zM1139,574l1-1h3l1,1v5h3l1,1v5h1l1,1v1h1l1,1v3l-1,1h-1v1h3v-1l1-1h1l1,1v3l-1,1h-1v3l-1,1h-13v1l-1,1h-1v3h1l1,1v1l-1,1h-1v1l-1,1h-1l-1-1v-3h-1v5l-1,1h-1v1l-1,1h-7v1l-1,1h-1v1l-1,1h-1l-1-1v-1h-7v1l-1,1h-1v1l-1,1h-1v1h1l1,1v7l-1,1h-3v1l-1,1h-1v3h1l1,1v5h1l1,1v3l-1,1h-3l-1-1v-3h-1l-1-1v-3h-1l-1-1v-1h-1v1l-1,1h-3l-1-1v-1h-1l-1-1v-1h-1l-1-1v-1h-1l-1-1v-3l1-1h5v-3h-3v1l-1,1h-1v1l-1,1h-3v3l-1,1h-1v1l-1,1h-1l-1-1v-3h-1l-1-1v-3l1-1h1v-1l1-1h1v-1l1-1h3v-1l1-1h1l1,1v1h1v-5l1-1h1v-1l1-1h1v-1l1-1h3l1,1v1h1l1,1v1h5v-1h-1l-1-1v-7l1-1h1l1,1v3h1v-1l1-1h3v-1l1-1h3v-5l1-1h1v-1l1-1h1v-1l1-1h1l1,1v3h1v-1l1-1h1v-1h-3l-1-1v-1l1-1h3v-3h-5l-1-1v-1h-3v1l-1,1h-1l-1-1v-5h-3l-1-1v-3l1-1h9l1,1v3h3l1,1v1h1l1,1v1h1v-5l1-1h5v-1l1-1h1v-1l1-1h1v-1l1-1h1zM1109,574l1-1h3l1,1v3l-1,1h-3l-1-1zM1073,574l1-1h7l1,1v1l-1,1h-1v1l-1,1h-1v1h1l1,1v1l-1,1h-7l-1-1v-1h-3v1l-1,1h-1v1l-1,1h-1v1l-1,1h-1v1l-1,1h-3l-1-1v-3h-1l-1-1v-3l1-1h1v-1l1-1h5v-1l1-1h9zM1103,572l1-1h3l1,1v1l-1,1h-3l-1-1zM1095,572l1-1h1l1,1v3l-1,1h-5l-1-1v-1l1-1h3zM1081,572l1-1h1l1,1v1l-1,1h-1l-1-1zM1177,570l1-1h3l1,1v1l-1,1h-1v1l-1,1h-1l-1-1zM1161,570l1-1h1l1,1v1l-1,1h-1l-1-1zM1171,568l1-1h1l1,1v1h1l1,1v3l-1,1h-3l-1-1zM1173,566l1-1h1l1,1v1l-1,1h-1l-1-1zM1155,566l1-1h1l1,1v1h1l1,1v1l-1,1h-1v1l-1,1h-3l-1-1v-3l1-1h1zM1069,566l1-1h3l1,1v1l-1,1h-3l-1-1zM1153,550l1-1h3l1,1v9l-1,1h-1v1l-1,1h-3l-1-1v-3h-1l-1-1v-3l1-1h3zM1099,542l1-1h1l1,1v1l-1,1h-1l-1-1zM1121,540l1-1h3l1,1v1h1l1,1v1l-1,1h-1v1l-1,1h-5v1l-1,1h-1v3h3l1,1v1h1l1,1v5h7v-1l1-1h7l1,1v1h1l1,1v7l-1,1h-1v1l-1,1h-1v1l-1,1h-3v3l-1,1h-1v1l-1,1h-1l-1-1v-3h-1l-1-1v-1h-3l-1-1v-5h-3l-1-1v-1h-1v1l-1,1h-1v1l-1,1h-9v1l-1,1h-1v1l-1,1h-1l-1-1v-3h-3v1l-1,1h-7v1l-1,1h-5l-1-1v-1l1-1h1v-1l1-1h1v-3l1-1h1v-1h-1l-1-1v-1l1-1h1v-3h-1l-1-1v-5l1-1h1v-1l1-1h1v-1l1-1h5l1,1v1h1v-1l1-1h3v-1l1-1h3v-1l1-1h3l1,1v1h7v-1l1-1h1zM1107,536l1-1h1l1,1v3l-1,1h-3l-1-1v-1l1-1h1zM1129,528l1-1h1l1,1v1l-1,1h-1l-1-1zM1183,496l1-1h1l1,1v5h1l1,1v1l-1,1h-1v1l-1,1h-1l-1-1v-3h-1l-1-1v-3l1-1h1zM1010,428v1h3v-1zM1040,426v1l-1,1h-5v1l-1,1h-3v1h7l1,1v3h1v-1l1-1h1v-1l1-1h1v-3l1-1h1v-1zM1026,424v1l-1,1h-1v1l-1,1h-1v1l-1,1h-1v3h3v-1l1-1h1v-1l1-1h1v-1h-1l-1-1v-1l1-1h3v-1zM770,422v3l-1,1h-1v1l-1,1h-3v3h1v-1l1-1h1v-1l1-1h1v-1l1-1h1v-1l1-1h1v-1zM1050,402v1l-1,1h-5v1l-1,1h-11v1l-1,1h-1v1l-1,1h-1v1h5l1,1v1h3l1,1v1h1l1,1v3h1v-5l1-1h1v-1l1-1h3v-1l1-1h5v-1l1-1h1v-1l1-1h1v-1l1-1h1v-1zM778,386v1l-1,1h-3v1h3v-1l1-1h1v-1zM490,366v1l-1,1h-3v1l-1,1h-3v1l-1,1h-1v1l-1,1h-1v5h1l1,1v3h1l1,1v3h1l1,1v5h1l1,1v1h1l1,1v3h5l1,1v3h1l1,1v3h3l1,1v1h5v-1h-1l-1-1v-1l1-1h1v-1l1-1h1v-3h-3l-1-1v-1h-3l-1-1v-3h-1l-1-1v-5h-1l-1-1v-1h-3l-1-1v-1l1-1h1v-1l1-1h1v-3h-1l-1-1v-7l1-1h1v-1h-1l-1-1v-1zM493,392l1-1h1l1,1v3l-1,1h-3l-1-1v-1l1-1h1zM824,350v1l-1,1h-3v1l-1,1h-1v1l-1,1h-1v3l-1,1h-1v3l-1,1h-3v1l-1,1h-1v1l-1,1h-1v5l-1,1h-1l-1-1v-1h-3v1h3l1,1v1l-1,1h-1v1l-1,1h-3v1l-1,1h-1v1l-1,1h-3v1l-1,1h-1v1l-1,1h-5v1l-1,1h-1v1l-1,1h-1v1h5l1,1v3h3l1,1v5l-1,1h-1v5h1l1,1v3l-1,1h-3v9h5v-1l1-1h5l1,1v1h5l1,1v1l-1,1h-1v1h3l1,1v5l-1,1h-3l-1-1v-1h-1v1l-1,1h-5l-1-1v-5l1-1h1v-1h-5v1l-1,1h-3v1l-1,1h-9v1l-1,1h-1v1h3l1,1v1h1l1,1v1h3l1,1v1l-1,1h-1v1h1l1,1v1l-1,1h-3v1l-1,1h-1l-1-1v-3h-3v1l-1,1h-5v1l-1,1h-5v1l-1,1h-3v1l-1,1h-1v5h1l1,1v1h5v-1l1-1h3v-1l1-1h1v-1l1-1h7l1,1v1h1v-1l1-1h3v-1l1-1h3v-1l1-1h1v-3l1-1h7v-1l1-1h1v-1l1-1h1v-1l1-1h3l1,1v1l-1,1h-1v1h1l1,1v1h1v-1l1-1h3l1,1v3h1l1,1v1l-1,1h-3v1h1l1,1v1h5v-3l1-1h1v-1l1-1h3v-1l1-1h3v-1l1-1h1v-1l1-1h1l1,1v1h1l1,1v1h1l1,1v3l-1,1h-3v1l-1,1h-1v1l-1,1h-3v1l-1,1h-1v1l-1,1h-3v1l-1,1h-1v1h3v-1l1-1h3v-1l1-1h1l1,1v1h3v-1l1-1h1l1,1v1h5l1,1v1h1v-1l1-1h3v-3l1-1h3v-1l1-1h5v-1l1-1h1v-1l1-1h1v-1l1-1h3v-1l1-1h1v-1l1-1h1v-1l1-1h3v-1l1-1h9l1,1v1l-1,1h-1v1l-1,1h-3v1l-1,1h-1v1l-1,1h-7v1l-1,1h-1v1l-1,1h-1v1l-1,1h-1v1h3v-1l1-1h5l1,1v1h7l1,1v3h3v-1l1-1h1v-1l1-1h3v-1l1-1h5v-1l1-1h3v-1l1-1h1v-5l1-1h9v-7h-5v1l-1,1h-1v1l-1,1h-5v1l-1,1h-1l-1-1v-3l1-1h1v-3l1-1h1v-11l1-1h3v-3h-1v1l-1,1h-1v1l-1,1h-3l-1-1v-3l1-1h1v-1l1-1h1v-1l1-1h1v-1l1-1h1v-13l1-1h1v-1h-5l-1-1v-3h-1v1l-1,1h-1v1h1l1,1v1l-1,1h-1v1l-1,1h-1v1l-1,1h-5v1l-1,1h-5v1l-1,1h-1v1l-1,1h-3v1l-1,1h-1v1l-1,1h-3l-1-1v-1l1-1h1v-3l1-1h3v-1l1-1h1v-1l1-1h3v-3h-1l-1-1v-1h-3l-1-1v-1l1-1h3v-1l1-1h1v-1l1-1h5v-5l1-1h1v-1l1-1h1l1,1v1h1v-7h-1l-1-1v-1h-5l-1-1v-3h-1l-1-1v-1h-3v1l-1,1h-1v1l-1,1h-1v1l-1,1h-1v1l-1,1h-1l-1-1v-5l1-1h1v-3h-5l-1-1v-7h-5l-1-1v-1h-3v1l-1,1h-1v1l-1,1h-15l-1-1v-3h-1l-1-1v-1h-1v1l-1,1h-5l-1-1v-1zM759,448l1-1h3l1,1v1l-1,1h-1v1l-1,1h-1l-1-1zM847,446l1-1h1l1,1v1l-1,1h-1l-1-1zM763,446l1-1h3l1,1v1l-1,1h-3l-1-1zM813,442l1-1h1l1,1v1l-1,1h-1l-1-1zM819,438l1-1h1l1,1v1l-1,1h-1l-1-1zM787,438l1-1h3l1,1v1l-1,1h-3l-1-1zM859,436l1-1h1l1,1v3l-1,1h-1l-1-1zM855,436l1-1h1l1,1v3l-1,1h-3l-1-1v-1l1-1h1zM885,432l1-1h3l1,1v1l-1,1h-3l-1-1zM889,430l1-1h1l1,1v1l-1,1h-1l-1-1zM789,430l1-1h1l1,1v1l-1,1h-1l-1-1zM867,428l1-1h3l1,1v3l-1,1h-1v3l-1,1h-5l-1-1v-3l1-1h1v-1l1-1h1zM813,428l1-1h1l1,1v1l-1,1h-1l-1-1zM819,418l1-1h3l1,1v1l-1,1h-1v1l-1,1h-3v1l-1,1h-1l-1-1v-3l1-1h3zM875,416l1-1h1l1,1v1l-1,1h-1l-1-1zM857,416l1-1h1l1,1v1h1l1,1v1h1l1,1v1h1v-1l1-1h3v-1l1-1h3l1,1v5l-1,1h-5v1l-1,1h-1l-1-1v-1h-1v1l-1,1h-1l-1-1v-1h-1l-1-1v-3h-1l-1-1zM823,416l1-1h3l1,1v1l-1,1h-3l-1-1zM843,404l1-1h1l1,1v3l-1,1h-1l-1-1zM893,402l1-1h1l1,1v1l-1,1h-1l-1-1zM839,396l1-1h1l1,1v1l-1,1h-1l-1-1zM869,394l1-1h1l1,1v1l-1,1h-1l-1-1zM847,394l1-1h3l1,1v1l-1,1h-1v1l-1,1h-3l-1-1v-1l1-1h1zM871,392l1-1h1l1,1v1l-1,1h-1l-1-1zM851,392l1-1h3l1,1v1l-1,1h-3l-1-1zM797,386l1-1h3l1,1v1l-1,1h-3l-1-1zM853,382l1-1h7l1,1v1l-1,1h-3v1l-1,1h-5v1l-1,1h-3v1l-1,1h-1l-1-1v-3l1-1h3v-1l1-1h3zM833,380l1-1h1l1,1v1l-1,1h-1l-1-1zM865,376l1-1h3l1,1v3l-1,1h-1v1l-1,1h-5l-1-1v-1l1-1h1v-1l1-1h1zM877,370l1-1h3l1,1v1l-1,1h-1v1l-1,1h-1v1l-1,1h-3l-1-1v-1l1-1h1v-1l1-1h1zM857,370l1-1h1l1,1v3l-1,1h-1v1l-1,1h-1v1l-1,1h-3v1l-1,1h-1v1l-1,1h-3l-1-1v-1h-1l-1-1v-1l1-1h3v-1l1-1h3v-1l1-1h1v-1l1-1h3zM829,366l1-1h3l1,1v1l-1,1h-3l-1-1zM841,364l1-1h1l1,1v1h1l1,1v3l-1,1h-1v1h3v-1l1-1h1v-1h-1l-1-1v-1l1-1h3v-1l1-1h1l1,1v1h3l1,1v1l-1,1h-1v1l-1,1h-3v1l-1,1h-1v1l-1,1h-3v1l-1,1h-1v1l-1,1h-3v1l-1,1h-3l-1-1v-1l1-1h1v-3h-7l-1-1v-1l1-1h1v-1l1-1h1v-1l1-1h1v-1l1-1h5zM863,362l1-1h1l1,1v1l-1,1h-1l-1-1zM837,362l1-1h1l1,1v1l-1,1h-1l-1-1zM843,358l1-1h1l1,1v1l-1,1h-1l-1-1zM835,356l1-1h1l1,1v1l-1,1h-1l-1-1zM394,330v3h1v-3zM64,296v1l-1,1h-1v1h3v-3zM80,290v1l-1,1h-1v1h1l1,1v1h5l1,1v1h3l1,1v1h1v-1h-1l-1-1v-3l1-1h1v-3h-3v3l-1,1h-3l-1-1v-3zM50,290v7l-1,1h-1v1l-1,1h-1v3h3l1,1v3h3v-1l1-1h1v-3h-1l-1-1v-3l1-1h1v-1h-3l-1-1v-5zM106,270v3h1l1,1v1l-1,1h-1v9h3v-1l1-1h3v-1l1-1h1v-7h-1l-1-1v-1h-1v1l-1,1h-1l-1-1v-1h-1l-1-1v-1zM107,282l1-1h1l1,1v1l-1,1h-1l-1-1zM80,268v1l-1,1h-1v3h3v-5zM61,260l-1,1v2l-3,3v1l-1,1v1l-2,2v1l-2,2v1l-1,1v1l-1,1v1l-2,2h1l1,1v3h1l1,1v1h1l1,1v1h3l1,1v1h1l1,1v1h1v-1l1-1h1v-1l1-1h3l1,1v1h3v-3l1-1h3v-5l1-1h1v-1h-1l-1-1v-3h-3v1l-1,1h-3l-1-1v-1l1-1h1v-1h-1l-1-1v-1h-1l-1-1v-5h-1l-1-1v-1h-1l-1-1zM57,284l1-1h1l1,1v1l-1,1h-1l-1-1zM57,274l1-1h1l1,1v1h5l1,1v5l-1,1h-1v1l-1,1h-3l-1-1v-5h-1l-1-1zM63,256v1h6v-1zM870,254v1l-1,1h-7v3l-1,1h-1v1h1v-1l1-1h1l1,1v1h1l1,1v3l-1,1h-3l-1-1v-1h-1v3l-1,1h-1v5l-1,1h-1v1h1l1,1v1h11v-1l1-1h9v-3l1-1h3l1,1v1h3v-1l1-1h3v-5h-1l-1-1v-1h-1l-1-1v-1h-5l-1-1v-1h-1l-1-1v-1h-1l-1-1v-3zM875,262l1-1h1l1,1v1l-1,1h-1l-1-1zM871,260l1-1h3l1,1v1l-1,1h-3l-1-1zM112,240v1h3v-1zM116,214v1h3v-1zM392,160v1l-1,1h-1v3l-1,1h-1v1l-1,1h-1v1h1l1,1v7h1l1,1v1h1v-1l1-1h1v-1l1-1h1l1,1v1h5v-3l1-1h1v-1l1-1h1v-1l1-1h1l1,1v1h1v-3h-1l-1-1v-1h-3l-1-1v-1h-1l-1-1v-1h-1l-2-2zM148,118v3h1v-1l1-1h1v-1zM134,106v3h4l1,1l-1,1h-3l-1,1h-2l-1,1h-3v9l1,1v1l-3,3l-1-1h-1l-1-1h-1l-2-2h-1l-1-1h-1l-1-1h-1l-1-1h-2l-2-2h-2l-1-1v-1h-1l-2-2h-2v1l-1,1h-1v1l-1,1h-1v3l-1,1h-1v1l-1,1h-1v1l-1,1h-1v11h1l1,1v1l-1,1v7l1,1v17h1l1,1v1h1l1,1v3l-1,1h-3v3l-1,1h-3v1l-1,1v1l1,1v7h1l1,1v5l-1,1h-1v1l-1,1h-1v3l-1,1h-1v19h3l1,1v1h3l1,1v1h7l1,1v1l-1,1h-1v1l-1,1h-3l-1-1v-1h-5v1l-1,1h-3v1l-1,1h-1v1l-1,1h-1v3l-1,1h-1v1l-1,1h-1v7l-1,1h-1l-1-1v-1h-1v3l-1,1h-3v3h5v-3l1-1h3l1,1v1h1l1,1v9h7v-5l1-1h1v-1l1-1h1v-3h-1l-1-1v-1l1-1h1v-3l1-1h5v-1l1-1h1v-7h-1l-1-1v-1l1-1h1v-1l1-1h1v-1l1-1h5v-3h-1l-1-1v-5l1-1h1v-7l1-1h3v-1l1-1h1v-1h-1l-1-1v-3l1-1h3v-3l1-1h1v-5l1-1h1v-1l1-1h1v-9l1-1h5l1,1v1h3l1,1v1h1v-1l1-1h1v-1l1-1h1v-1l1-1h1v-1l1-1h1v-1l1-1h1v-1l1-1h3v-1l1-1h5l1,1v5h5v-1l1-1h15v-1l1-1h3v-1h-1l-1-1v-1l1-1h9v-3l1-1h1v-1l1-1h1v-1l1-1h1v-3h-1l-1-1v-3h-3l-1-1v-1h-1l-1-1v-1h-1l-1-1v-3l1-1h1v-1l1-1h1v-3l1-1h1v-5l1-1h1v-5h-5l-1-1v-1h-5l-1-1v-1h-1l-1-1v-1l1-1h1v-1l-1-1h-2l-1-1h-7l-1-1v-1h-1v7l-1,1h-1v1l-1,1h-1l-1-1v-5h-3l-1-1v-1h-3v13h3l1,1v5l-1,1h-1v3l-1,1h-1v1l-1,1h-3v1l-1,1h-5l-1-1v-3h-7l-1-1v-1h-1l-1-1v-1h-1l-1-1v-1h-1l-1-1v-3l1-1h3v-1l1-1h3v-5l1-1h5v-3h-3l-1-1v-1l1-1h3v-1l1-1h1v-1l1-1h3v-1h-1l-2-2v1l-1,1h-3l-1-1v-1zM111,196l1-1h1l1,1v1l-1,1h-1l-1-1zM99,188l1-1h1l1,1v1l-1,1h-1l-1-1zM135,174l1-1h1l1,1v3l-1,1h-1l-1-1zM101,174l1-1h3l1,1v3l-1,1h-3l-1-1zM97,174l1-1h1l1,1v3l-1,1h-1l-1-1zM163,166l1-1h1l1,1v1l-1,1h-1l-1-1zM149,160l1-1h1l1,1v3l-1,1h-1l-1-1zM161,154l1-1h1l1,1v1l-1,1h-1l-1-1zM139,148l1-1h3l1,1v7h7v-1l1-1h1l1,1v3l-1,1h-5v1l-1,1h-1v1l-1,1h-3l-1-1v-3h-3l-1-1v-7l1-1h1zM163,132l1-1h3l1,1v5l-1,1h-1v1l-1,1h-1l-1-1zM137,116l1-1h1l1,1v1l-1,1h-1l-1-1z"/>
<path fill="#489040" fill-rule="evenodd" d="M1160,908v3l-1,1h-1v1l-1,1h-3v3h1l1,1v1h1l1,1v7l-1,1h-1l2,2l-1,1h-2l-1,1v1l-1,1h-2l-1,1h-5l-1,1h-4v1l-1,1h-1v1l-1,1h-3v7h1l1,1v1h1l1-1h1l2-2h1l1-1v-1l1-1h2v-1l3-3h2v-3l1-1h1v-1l1-1h5v-1l1-1h1v-1l1-1h3v-1l1-1h3v-5h-9l-1-1v-1h-1l-1-1v-1l1-1h1v-5l1-1h1v-3zM1144,902v1l-1,1h-1v1h5v-3zM630,878v1h1l1,1v1h1v-1l1-1h1v-1zM632,868v1h1l1,1v1h3v-1h-3l-1-1v-1zM612,866v5h3l1,1v1h1v-1l1-1h3v-1h-5l-1-1v-3zM1138,860v1h1l1,1v1h3v-3zM638,856v1h1l1,1v13h3v-7l1-1h1l1,1v1h3v-1h-1l-1-1v-3h-5l-1-1v-3zM620,854v3h1v-3zM1124,852v1l-1,1h-1v5h1l1,1v3h3v-1l1-1h1v-1l1-1h3v-5h-1l-1-1v-1zM608,850v1h3v-1zM660,826v1l-1,1h-1v1l-1,1h-1v1l-1,1h-1v3l-1,1h-1v1l-1,1h-7v1l-1,1h-3v9h3v-1l1-1h7l1,1v3h5v-5l1-1h1v-1l1-1h1v-1l1-1h1v-3l1-1h1v-1l1-1h1v-1h-1l-1-1v-5h-3l-1-1v-1zM676,822v3h1v-3zM846,820v1l-1,1h-3h1l2,2v-2l1-1h1v-1zM1094,810v1l-1,1h-1v5h3v-3l1-1h1v-3zM658,808v1l-1,1h-1v5h1l1,1v1h5v-3h-1l-1-1v-3h-1l-1-1v-1zM642,806v3l-1,1h-1v1l-1,1h-1l-1-1v-1h-3v1h1l1,1v3h1v-1l1-1h1v-1l1-1h1l1,1v1h5v-1h-1l-1-1v-5zM616,806v1h5v-1zM626,802v1l-1,1h-1v3h1v-3l1-1h1v-1zM1096,796v1l-1,1h-1v1h3v-3zM1070,796v1h3v-1zM626,792v1h1l1,1v1h1v-3zM1114,790v1l-1,1h-1v1l-1,1h-3v1l-1,1h-1v1l-1,1h-1v1l-1,1h-1v1l-1,1h-1v1l-1,1h-1v3h1l1,1v1h1l1,1v1h3v-3l1-1h1v-1l1-1h3v-1h-5l-1-1v-3l1-1h7l1,1v3h1l1,1v1h1l1,1v7l-1,1h-1v7l-1,1h-1v3l-1,1h-1v1l-1,1h-1v3h5v-1l1-1h5v-1l1-1h1v-3l1-1h1v-5l1-1h1v-1l1-1h3l1,1v1h1l1,1v3h3v-5l1-1h1v-3l1-1h1v-1h-3l-1-1v-1h-3l-1-1v-3l1-1h1v-1h-1l-1-1v-1h-1v1l-1,1h-5v1l-1,1h-5l-1-1v-7h-1l-1-1v-3h-1l-1-1v-1zM558,786v3h1v-1l1-1h1v-1zM548,762v1l-1,1h-1v1h1l1,1v1h3l1,1v1h1l1,1v1l-1,1h-1v1l-1,1h-1v3l-1,1h-1v1l-1,1h-3v1h1l1,1v3h1l1,1v3l-1,1h-1v5h1v-1l1-1h1l1,1v3h1v-1l1-1h1v-5l1-1h1v-5l1-1h1v-5l1-1h1v-7l1-1h3v-3h-5l-1-1v-1h-1l-1-1v-1zM547,784l1-1h1l1,1v1l-1,1h-1l-1-1zM776,736v1l-1,1h-1v1l-1,1h-3l-1-1v-1h-1v3h3l1,1v1l-1,1h-1v3h1l1,1v1l-1,1h-1v3l-1,1h-9v3l-1,1h-1v3l-1,1h-1v1l-1,1h-3v1l-1,1h-1v3h1l1,1v5h1l1,1v3h5l1,1v3l-1,1h-1v1h7l1,1v1h7v-1l1-1h1v-1h-1l-1-1v-7h-3l-1-1v-1l1-1h1v-1l1-1h1v-3l1-1h1l1,1v1h1l1,1v1h1l1,1v5h3l1,1v1h13v-1l1-1h1v-1l1-1h1v-1l1-1h5v-1l1-1h1v-1l1-1h1v-3l1-1h1v-1l1-1h1v-1l1-1h3v-3h-1l-1-1v-3h-3l-1-1v-1l1-1h3v-1l1-1h3l1,1v1h3v-1l1-1h1v-3h-1l-1-1v-7h-1v1l-1,1h-1v3l-1,1h-1v3l-1,1h-1v1l-1,1h-5l-1-1v-1h-7l-1-1v-7h-1l-1-1v-1h-1l-1-1v-1h-3v1l-1,1h-5v1l-1,1h-3l-1-1v-1h-7l-1-1v-1zM775,760l1-1h1l1,1v3l-1,1h-1l-1-1zM769,756l1-1h1l1,1v1l-1,1h-1l-1-1zM1094,732v3l-1,1h-3v3l-1,1h-3v13h1l1,1v1h1l1,1v1h7v-3l1-1h7v-1l1-1h1v-7h-7l-1-1v-1l1-1h5v-3l1-1h1v-1h-1l-1-1v-1h-3v1l-1,1h-1l-1-1v-1h-3l-1-1v-1zM1097,744l1-1h1l1,1v1l-1,1h-1l-1-1zM848,732v1h1l1,1v1l-1,1h-1v1l-1,1h-1v3l-1,1h-3v1h1l1,1v1h1l1,1v1h1l1,1v1h1l1,1v1l-1,1h-1v3h1l1,1v3h5v-1l1-1h5v-1l1-1h1v-5l1-1h1v-7h-3l-1-1v-1l1-1h3v-1h-1l-1-1v-1h-3l-1-1v-1h-5l-1-1v-1zM1112,724v1h1l1,1v1h1v-3zM1112,706v1l-1,1h-1v1h1l1,1v1h1v-1l1-1h1v-3zM1100,706v5h1l1,1v1h3v-5h-1l-1-1v-1zM392,702v3h1l1,1v1l-1,1h-1v3h1v-1l1-1h1v-1l1-1h1v-1l1-1h1v-1h-3l-1-1v-1zM1110,700v3h3v-3zM846,698v3h3v-3zM758,698v1l-1,1h-1v1l-1,1h-1v3h3v-1l1-1h5v-1h-1l-1-1v-1l1-1h3v-1zM1124,692v5l-1,1h-1v3h1v-1l1-1h1v-3l1-1h1v-3zM836,692v1l-1,1h-1v1h3l1,1v1l-1,1h-1v1h5v-1h-1l-1-1v-3l1-1h5v-1zM684,684v1h3v-1zM848,682v3h1v-3zM838,682v1h1l1,1v1h1v-3zM682,680v1h3v-1zM852,678v1h1l1,1v5l-1,1h-1v3h1v-1l1-1h3v-1l1-1h1v-1h-1l-1-1v-1h-1l-1-1v-1h-1l-1-1v-1zM702,676v1l-1,1h-3v1h9v-1h-1l-1-1v-1zM662,674v9h1v-1l1-1h1v-1h-1l-1-1v-5zM734,670v3h1v-3zM984,668v1l-1,1h-3v3l-1,1h-1v1h1v-1l1-1h1l1,1v7h1l1,1v1h1l1,1v3h1v-1l1-1h1l1,1v3l-1,1h-1v1h1v-1l1-1h3v-1l1-1h3v-3h-1l-1-1v-3h-1l-1-1v-5h-1l-1-1v-1h-1v1l-1,1h-5l-1-1v-1l1-1h1v-3zM994,666v3h3v-1l1-1h1v-1zM920,662v3h1v-3zM642,660v1l-1,1h-1v1l-1,1h-5v1h1l1,1v5l-1,1h-1v1h1v-1l1-1h3l1,1v1h3l1,1v1h1v-3l1-1h1v-1l1-1h1v-1h-1l-1-1v-3h-1l-1-1v-3zM986,658v3h1v-3zM914,658v1l-1,1h-3v1l-1,1h-1v1l-1,1h-1v1l-1,1h-1l-1-1v-1h-7v1l-1,1h-1v3l-1,1h-3v1h1l1,1v1l-1,1h-9v1h1l1,1v5l-1,1h-1v1l-1,1h-1v1h1l1,1v5l-1,1h-1l-1-1v-1h-3v1l-1,1h-3v1l-1,1h-7v1l-1,1h-1v1l-1,1h-3v1l-1,1h-1v1l-1,1h-1v3h1l1,1v3l-1,1h-3v3h3l1,1v3l-1,1h-3v3h3v-1l1-1h1v-1l1-1h1l1,1v1h1v-1l1-1h11l1,1v1h3v-1l1-1h3v-1l1-1h1v-1l1-1h1v-1l1-1h1v-3l1-1h1v-1l1-1h1v-1l1-1h1v-1l1-1h1v-1l1-1h1v-3l1-1h1v-3l1-1h1v-3l1-1h1v-1h-1l-1-1v-5l1-1h1v-1h-1l-1-1v-5l1-1h1v-1l1-1h3l1,1v1h3v-1l1-1h3v-7l1-1h1v-3zM857,710l1-1h1l1,1v1h1l1,1v1l-1,1h-3l-1-1zM893,692l1-1h1l1,1v1l-1,1h-1l-1-1zM899,686l1-1h1l1,1v1l-1,1h-1l-1-1zM907,666l1-1h1l1,1v1l-1,1h-1l-1-1zM894,658v1l-1,1h-3v1l-1,1h-3l-1-1v-1h-1v7h1v-1l1-1h1v-1l1-1h3v-1l1-1h5v-1l1-1h5v-1zM978,654v3l-1,1h-1v3h3v-7zM886,652v1l-1,1h-1v1l-1,1h-1v1h5v-1l1-1h1v-3zM914,650v1l-1,1h-1v1l-1,1h-1v1h1v-1l1-1h3v-1l1-1h1v-1zM928,648v1l-1,1h-1v3h1v-3l1-1h1v-1zM990,646v3h1v-3zM938,642v1l-1,1h-1v1l-1,1h-3v1h3l1,1v1h3v-7zM1098,638v3h1v-3zM990,638v3h1v-3zM650,638v1l-1,1h-1v1l-1,1h-1l-1-1v-1h-5v1l-1,1h-3v3h1l1,1v3h15v-1l1-1h1v-5h-1l-1-1v-1h-1l-1-1v-1zM641,644l1-1h1l1,1v1l-1,1h-1l-1-1zM1080,634v3h1v-1l1-1h1v-1zM996,626v1l-1,1h-1v1h5v-1h-1l-1-1v-1zM918,626v1l-1,1h-5v5h3v-1l1-1h5v-5zM850,626v1l-1,1h-1v1l-1,1h-3v3h3l1,1v1h1v-1l1-1h1l1,1v1h3v-1l1-1h1v-1l1-1h1v-1h-1l-1-1v-1h-1l-1-1v-1zM853,630l1-1h3l1,1v1l-1,1h-1v1l-1,1h-3l-1-1v-1l1-1h1zM980,624v1l-1,1h-1v1h3v-1l1-1h1v-1zM936,624v1l-1,1h-3v1l-1,1h-3v3l-1,1h-3v3h3v-1l1-1h3v-1l1-1h1l1,1v1h5l1,1v1h1v-1l1-1h1v-1l1-1h3v-1l1-1h1v-1h-7l-1-1v-3zM756,624v1l-1,1h-3v1l-1,1h-1v1l-1,1h-3v1l-1,1h-7v1l-1,1h-3l-1-1v-1l1-1h1v-1h-7v1l-1,1h-1v1l-1,1h-3v1l-1,1h-1v1l-1,1h-3v1l-1,1h-3v3h1l1,1v1l-1,1h-1v7h7l1,1v3h7v-1l1-1h5v-1l1-1h1l1,1v3h1l1,1v1h7l1,1v1h1l1,1v3h1l1,1v11h1l1,1v3h1l1,1v1h3l1,1v5h3v-1l1-1h1v-3l1-1h7v-1l1-1h7l1,1v1h1l1,1v1h1l1,1v5h1l1,1v1h1v-1l1-1h7l1,1v1h3l1,1v5h5l1,1v1l-1,1h-3v1l-1,1h-3v1l-1,1h-5l-1-1v-1h-1v1l-1,1h-1l-1-1v-1h-5l-1-1v-1h-1v1l-1,1h-3l-1-1v-1h-1l-1-1v-1h-3l-1-1v-1h-1v11h1l1,1v1h1l1,1v1l-1,1h-1v3l-1,1h-1l-1-1v-5h-1v5l-1,1h-1v1l-1,1h-1v1l-1,1h-1l-1-1v-1h-1l-1-1v-1h-1l-1-1v-9h-3l-1-1v-1h-1v1l-1,1h-5l-1-1v-1h-5l-1-1v-1h-3l-1-1v-1l1-1h1v-1h-1l-1-1v-7h-1l-1-1v-3h-3l-1-1v-1h-5l-1-1v-1h-1l-1-1v-1h-11v1h1l1,1v3l-1,1h-3v1l-1,1h-1v5l-1,1h-1v3l-1,1h-1v3l-1,1h-1v1l-1,1h-1l-1-1v-1h-5l-1-1v-5h-1v1l-1,1h-1v1l-1,1h-3v1l-1,1h-3l-1-1v-5h-1v1l-1,1h-3v1l-1,1h-5l-1-1v-3l1-1h3v-1l1-1h3v-3l1-1h3v-5h-1l-1-1v-1h-1l-1-1v-1h-1l-1-1v-1h-3v1h1l1,1v1l-1,1h-1v5l-1,1h-1v1l-1,1h-1v1h1l1,1v3l-1,1h-3l-1-1v-3h-1l-1-1v-1h-1l-1-1v-3h-1l-1-1v-1h-1l-1-1v-1h-7l-1-1v-1h-1l-1-1v-1h-1l-1-1v-3h-15l-1-1v-1h-5v1l-1,1h-1v3l-1,1h-3v1l-1,1h-3v1l-1,1h-1v1l-1,1h-3v3l-1,1h-3v1l-1,1h-1v1l-1,1h-1v1l-1,1h-1v3l-1,1h-1v1h1l1,1v7h1l1,1v1l-1,1h-1v1h5l1,1v3l-1,1h-3l-1-1v-1h-3l-1-1v-1h-1v1h1l1,1v1l-1,1h-5v3l-1,1h-3v3l-1,1h-1v7l-1,1h-1v1l-1,1h-1v3l-1,1h-1v3l-1,1h-1v3l-1,1h-1v1l-1,1h-3v1l-1,1h-1v3h3l1,1v1h1l1,1v3l-1,1h-1v5l-1,1h-1v17l-1,1h-1v1h1v-1l1-1h1l1,1v5l-1,1h-1v3h3l1,1v3h3l1,1v3h1l1,1v3h1l1,1v1h9l1,1v1h5l1,1v1h1l1,1v1h3v-1l1-1h1l1,1v1h1v-5h-1l-1-1v-1h-3l-1-1v-1h-5v3l-1,1h-3l-1-1v-5l1-1h1v-3h-3v1l-1,1h-1l-1-1v-1h-1l-1-1v-1l1-1h3v-5l1-1h1v-1l1-1h1v-9l1-1h1v-13l1-1h1v-1h-1l-1-1v-3l1-1h1v-3l1-1h1v-3l1-1h1v-5l1-1h3v-1l1-1h1v-1l1-1h1v-3l1-1h3v-1l1-1h5v-1l1-1h3l1,1v1h7l1,1v1h1l1,1v1h3l1,1v1h1l1,1v1h5l1,1v1h5v-1l1-1h1v-1l1-1h1v-1l1-1h1v-3l1-1h1v-3l1-1h1v-1l1-1h1l1,1v1h5l1,1v3h1l1,1v3l-1,1h-1v3l-1,1h-3l-1-1v-1h-3v3l-1,1h-3v1l-1,1h-1v1l-1,1h-3v1l-1,1h-1v1l-1,1h-3v1l-1,1h-1v1l-1,1h-3v13l-1,1h-1v1l-1,1h-3v3l-1,1h-1v1h3l1,1v9h1l1,1v3h1l1,1v3h3l1,1v1h3l1,1v1h1v-1l1-1h1v-1l1-1h3l1,1v1h1l1,1v1h1v-3l1-1h3l1,1v1h1l1,1v3h3v-1l1-1h1v-3l1-1h5l1,1v1h5l1,1v1h7l1,1v3l-1,1h-1v3l-1,1h-1v7l-1,1h-1l-1-1v-1h-1v1h1l1,1v3h1l1,1v1l-1,1h-1v1l-1,1h-1v1h5l1,1v1h1l1,1v1h3l1,1v1h5l1,1v1h1l1,1v1h5v-1l1-1h3v-1l1-1h1v-1l1-1h5v-1l1-1h1v-1l1-1h1v-1l1-1h1v-1l1-1h5v-1l1-1h5v-1l1-1h1v-1l1-1h1v-1l1-1h3v-1l1-1h1v-1l1-1h1v-3h-1v3l-1,1h-1l-1-1v-7h-1l-1-1v-3h-1l-1-1v-1l1-1h1v-1l1-1h1v-1h-1l-1-1v-1l1-1h5v-1h-1l-1-1v-1h-1l-1-1v-3h-3v1l-1,1h-1v3h1v-1l1-1h1l1,1v3l-1,1h-7l-1-1v-1h-5v1l-1,1h-1v1l-1,1h-1l-1-1v-1h-5v1l-1,1h-9l-1-1v-5h-1l-1-1v-1h-1l-1-1v-1l1-1h1v-1h-1l-1-1v-7l1-1h1v-1l1-1h1v-5l1-1h1v-3l1-1h1l1,1v1h3v-1l1-1h3v-5l1-1h1v-9l1-1h7v-1l1-1h1l1,1v1h1v-3l1-1h3v-1l1-1h7l1,1v1h1v-7h-1l-1-1v-3l1-1h1v-1l1-1h1v-1l1-1h1v-1l1-1h3v-1l1-1h3l1,1v1h1l1,1v1h3l1,1v1l-1,1h-1v1l-1,1h-1l-1-1v-1h-1v1h1l1,1v1h1v-1l1-1h1l1,1v5h1v-1l1-1h1v-3h-1l-1-1v-1l1-1h1v-1l1-1h1l1,1v1h9l1,1v1h27l1,1v1h7l1,1v1h1l1,1v1h5v-1l1-1h1v-1h-1l-1-1v-1l1-1h1v-1l1-1h5v-1l1-1h5v-11h-1l-1-1v-7h-1l-1-1v-1h-1l-1-1v-1h-3v1l-1,1h-1v1l-1,1h-15l-1-1v-3l1-1h1v-1l1-1h7v-1l1-1h1v-1l1-1h1v-1l1-1h1v-1h-1l-1-1v-1l1-1h1v-1l1-1h1l1,1v1h1v-3l1-1h1v-1l1-1h1v-1h-3l-1-1v-3l1-1h5v-1l1-1h3l1,1v3h3v-1h-1l-1-1v-1h-1l-1-1v-1l1-1h1v-3h-1l-1-1v-1h-1l-1-1v-1l1-1h1v-1l1-1h1v-1l1-1h1v-1h-1l-1-1v-1h-1v1l-1,1h-7l-1-1v-1h-3l-1-1v-7l1-1h1v-1l1-1h1l1,1v1h1v-3l1-1h5l1,1v1h1v-1h-1l-1-1v-3h-1v1l-1,1h-7v1l-1,1h-5v1l-1,1h-1v1l-1,1h-5l-1-1v-1h-7v1l-1,1h-1l-1-1v-1h-1l-1-1v-1h-1l-1-1v-1h-1l-1-1v-3h-3v1l-1,1h-1v1l-1,1h-1v1l-1,1h-1v1l-1,1h-7l-1-1v-3l1-1h1v-1h-1l-1-1v-1h-3v1l-1,1h-1v1l-1,1h-1l-1-1v-3l1-1h1v-3l1-1h1v-1h-5l-1-1v-1h-3v1l-1,1h-3v1l-1,1h-3l-1-1v-3h-1l-1-1v-1h-1l-1-1v-1l1-1h3v-1l1-1h1v-1zM579,804l1-1h1l1,1v3l-1,1h-1l-1-1zM571,752l1-1h1l1,1v5l-1,1h-3l-1-1v-1l1-1h1zM719,744l1-1h1l1,1v1l-1,1h-1l-1-1zM579,740l1-1h1l1,1v1l-1,1h-1l-1-1zM601,730l1-1h1l1,1v1l-1,1h-1l-1-1zM617,728l1-1h1l1,1v1l-1,1h-1l-1-1zM767,722l1-1h1l1,1v3l-1,1h-1l-1-1zM725,716l1-1h1l1,1v1l-1,1h-1l-1-1zM721,712l1-1h1l1,1v1l-1,1h-1l-1-1zM673,708l1-1h7l1,1v1h1l1,1v5l-1,1h-1v3l-1,1h-1v1l-1,1h-3v1l-1,1h-7l-1-1v-5l1-1h1v-5l1-1h1v-1l1-1h1zM647,698l1-1h3l1,1v1l-1,1h-3l-1-1zM823,684l1-1h3l1,1v3l-1,1h-1l-1-1v-1h-1l-1-1zM759,678l1-1h3l1,1v1l-1,1h-1v1l-1,1h-1l-1-1zM811,672l1-1h1l1,1v3h3l1,1v1h3v-1l1-1h1l1,1v1h3l1,1v1h1l1,1v1l-1,1h-3l-1-1v-1h-1v1l-1,1h-1v1l-1,1h-1v5h3l1,1v3l-1,1h-7v3l-1,1h-1v1l-1,1h-1l-1-1v-1h-1l-1-1v-1h-1l-1-1v-1h-1l-1-1v-3h-1v1l-1,1h-3l-1-1v-3h-3l-1-1v-7h-1l-1-1v-1l1-1h9v-1l1-1h3v-1l1-1h3zM753,672l1-1h1l1,1v3l-1,1h-1l-1-1zM829,668l1-1h1l1,1v1l-1,1h-1l-1-1zM829,662l1-1h1l1,1v1l-1,1h-1l-1-1zM739,648l1-1h1l1,1v3l-1,1h-1l-1-1zM723,644l1-1h1l1,1v1l-1,1h-1l-1-1zM753,636l1-1h3l1,1v1l-1,1h-1v1l-1,1h-3l-1-1v-1l1-1h1zM692,624v1l-1,1h-9v3h1l1,1v3h1l1,1v5h1l1,1v5h3l1,1v1h1l1,1v1h3l1,1v1h3v-5h-1l-1-1v-1l1-1h1v-3l1-1h1v-1l1-1h1v-3h-1l-1-1v-3h-1l-1-1v-1h-1l-1-1v-3zM844,622v3h1v-1l1-1h1v-1zM1060,620v1h5v-1zM1036,618v3l-1,1h-5v1h1l1,1v3l-1,1h-3v1l-1,1h-3v1l-1,1h-1l-1-1v-3l1-1h1v-1h-5v1l-1,1h-5v5h5v-1l1-1h1l1,1v3h1l1,1v1l-1,1h-1v7h1l1,1v1h1l1,1v5l-1,1h-1v1l-1,1h-1v5l-1,1h-1v3h3v-1l1-1h1v-1l1-1h1v-1l1-1h3l1,1v1l-1,1h-1v5l-1,1h-1v1l-1,1h-3l-1-1v-1h-1v11l-1,1h-1v1l-1,1h-1v1l-1,1h-5v1h3l1,1v1h1l1,1v9h1l1,1v3h1l1,1v3l-1,1h-1v1l-1,1h-7l-1-1v-1l1-1h1v-3h-5l-1-1v-1l1-1h1v-1h-3v5h1l1,1v3h3l1,1v1h13l1,1v1h1l1,1v3l-1,1h-1v3l-1,1h-1v5l-1,1h-1v1l-1,1h-3v13l-1,1h-1v1l-1,1h-3l-1-1v-1h-5l-1-1v-1l1-1h1v-5h-1l-1-1v-1h-1l-1-1v-1l1-1h3v-5h-1l-1-1v-11h-3l-1-1v-1h-1l-1-1v-1h-5l-1-1v-3h-3v1l-1,1h-1l-1-1v-3h-1l-1-1v-1h-1l-1-1v-1h-3v9l-1,1h-1v1l-1,1h-1v1l-1,1h-1v1l-1,1h-3v1l-1,1h-3l-1-1v-1h-1l-1-1v-1h-5v3l-1,1h-1v5h1v-1l1-1h3v-5l1-1h1l1,1v5h7l1,1v1l-1,1h-3v1l-1,1h-3l-1-1v-1h-1v1l-1,1h-5v1l-1,1h-1v9l-1,1h-3v1l-1,1h-1v5h1l1,1v1h1l1,1v3l-1,1h-1v1l-1,1h-1v3l-1,1h-1v7l-1,1h-3l-1-1v-1h-1l-1-1v-5h-3v3h1l1,1v3h1l1,1v1h1l1,1v1h3l1,1v1l-1,1h-1v1l-1,1h-1v7l-1,1h-1v1h3l1,1h5l1,1h4l1-1h5l1-1h5l1-1h12l1-1h1l1,1h4l1,1h2l1,1h3l1,1h2l1,1h2l3,3h3l1,1v1h1l1,1v5h1l2,2h2l1,1h2l1-1h9l1-1h1l1-1h1l1-1h1l2-2h1l1-1h1l1-1h1l1-1v-1l1-1v-1l2-2v-1l1-1h5l2,2h1l3,3h1l3,3h1l1,1h2v-1l1-1h1l1,1v1h1v-1l1-1h1v-1l1-1h1v-1l1-1h1v-11h-1l-1-1v-5h-1l-1-1v-1h-3v1l-1,1h-5l-1-1v-5h-7l-1-1v-7h-1l-1-1v-3h-1l-1-1v-5l1-1h1v-1l1-1h1v-1l1-1h1v-1l1-1h3v-5l1-1h1v-1h-1l-1-1v-3l1-1h1v-3l1-1h3v-1l1-1h1v-5h-1l-1-1v-3h-1l-1-1v-1h-3l-1-1v-1h-1l-1-1v-1h-1l-1-1v-1l1-1h1v-5h-3l-1-1v-1h-1l-1-1v-5h-5l-1-1v-3h-1l-1-1v-3h-3l-1-1v-3l1-1h1v-5l1-1h1v-1l1-1h1l1,1v1h1v-3l1-1h1l1,1v1h3l1,1v3l-1,1h-3v1l-1,1h-1v9h1v-5l1-1h1v-3l1-1h1v-1l1-1h1l1,1v1h3l1,1v3h1l1,1v5h1l1,1v5h5v-1l1-1h3v-1l1-1h1v-1l1-1h3v-3l1-1h1v-3l1-1h1v-1h-1l-1-1v-5l1-1h1v-3l1-1h1v-1h-5l-1-1v-1l1-1h1v-1h-7v1l-1,1h-7l-1-1v-1l1-1h3v-1l1-1h1v-1l1-1h1v-1l1-1h3v-1l1-1h3l1,1v1l-1,1h-1v1h1l1,1v1h5v-3h-1l-1-1v-1h-1l-1-1v-3l1-1h1v-1l1-1h3v-1l1-1h1v-1h-5v1l-1,1h-1v1l-1,1h-3l-1-1v-3h-3l-1-1v-7l1-1h1l1,1v1h3v-3h-1l-1-1v-1h-1l-1-1v-1h-1v1l-1,1h-1v1l-1,1h-1v1l-1,1h-1v1l-1,1h-3v1l-1,1h-3v1l-1,1h-1v3l-1,1h-1v3h3l1,1v1l-1,1h-1v1l-1,1h-1v1l-1,1h-1v1l-1,1h-7v1l-1,1h-3v1l-1,1h-3l-1-1v-3l1-1h1v-1h-1l-1-1v-1h-1l-1-1v-1h-3l-1-1v-3l1-1h3v-1h-3l-1-1v-7l1-1h3v-5l1-1h1v-1l1-1h3v-1l1-1h1v-5zM1015,794l1-1h1l1,1v1l-1,1h-1l-1-1zM955,760l1-1h3l1,1v1l-1,1h-3l-1-1zM993,746l1-1h1l1,1v1h3v-1l1-1h3l1,1v3l-1,1h-3v1l-1,1h-1v1l-1,1h-1l-1-1v-3h-1l-1-1zM951,746l1-1h3l1,1v1l-1,1h-3l-1-1zM1033,714l1-1h7l1,1v1l-1,1h-3v1l-1,1h-3l-1-1zM1047,710l1-1h1l1,1v1l-1,1h-1l-1-1zM1039,710l1-1h1l1,1v1l-1,1h-1l-1-1zM1023,702l1-1h1l1,1v1l-1,1h-1l-1-1zM1029,666l1-1h1l1,1v1l-1,1h-1l-1-1zM1037,662l1-1h3l1,1v1l-1,1h-1v1l-1,1h-1l-1-1zM1045,658l1-1h1l1,1v3l-1,1h-3l-1-1v-1l1-1h1zM1049,656l1-1h1l1,1v1l-1,1h-1l-1-1zM1051,654l1-1h1l1,1v1l-1,1h-1l-1-1zM1114,616v1l-1,1h-1v1l-1,1h-1v3h1l1,1v3l-1,1h-1v1l-1,1h-1v1l-1,1h-1v1h1l1,1v13h5l1,1v1l-1,1h-1v1l-1,1h-1l-1-1v-1h-3v1l-1,1h-1v1h3l1,1v3l-1,1h-1l-1-1v-1h-3v1l-1,1h-1v5l-1,1h-7v1l-1,1h-3v7h3v-1l1-1h1v-1l1-1h1v-1l1-1h1l1,1v1h1l1,1v1h3l1,1v1h1v-1l1-1h5l1,1v1h1l1,1v1h3l1,1v1l-1,1h-1v1h1l1,1v1h5v-1l1-1h3l1,1v1l-1,1h-1v3h3v-1l1-1h1v-1l1-1h7l1,1v1h1v-3l1-1h1v-1l1-1h3l1-1l-1-1v-1h-5l-1-1v-1l1-1h7l1,1v1h1l6-6v-1h-3l-1-1v-1h-1l-1-1v-3h-5v3l-1,1h-1v1l-1,1h-1v3l-1,1h-1l-1-1v-1h-1l-1-1v-1l1-1h1v-1h-1v1l-1,1h-1l-1-1v-5l1-1h1v-1l1-1h3v-1l1-1h1l1,1v1h3v-5l1-1h3v-3h-7v1l-1,1h-1l-1-1v-1h-3v3l-1,1h-3l-1-1v-3h-1l-1-1v-1h-1l-1-1v-1l1-1h1v-3l1-1h1v-5l1-1h1v-1l1-1h1v-1l1-1h11v-1l1-1h5v-1l1-1h1l1,1v5l-1,1h-1v3h3l1,1v1h1l1,1v1h3l1,1v1l-1,1h-3v9h1l1,1v1h1l1-1l-1-1v-1l1-1h1l1-1v-1l1-1v-1l3-3h1v-2h-1l-1-1v-1l1-1h1v-3h-1l-1-1v-1h-1l-1-1v-1h-1v1l-1,1h-1l-1-1v-1h-3l-1-1v-9h-1l-1-1v-1h-11l-1-1v-1h-5v3l-1,1h-1l-1-1v-1h-3v1l-1,1h-3l-1-1v-1h-3l-1-1v-1h-3v1l-1,1h-1v1l-1,1h-3l-1-1v-3zM1137,674l1-1h1l1,1v5l-1,1h-1l-1-1zM1129,674l1-1h1l1,1v1h1l1,1v1l-1,1h-1v1l-1,1h-1l-1-1zM1119,674l1-1h1l1,1v1l-1,1h-1l-1-1zM1113,666l1-1h1l1,1v1l-1,1h-1l-1-1zM1107,662l1-1h1l1,1v1h1l1,1v1l-1,1h-1v1l-1,1h-3l-1-1v-3l1-1h1zM1101,658l1-1h1l1,1v1l-1,1h-1l-1-1zM1167,640l1-1h1l1,1v1l-1,1h-1l-1-1zM1159,632l1-1h1l1,1v1l-1,1h-1l-1-1zM1086,616v1l-1,1h-3v3h1v-1l1-1h3v-3zM842,614v3l-1,1h-3v3l-1,1h-1v1l-1,1h-3v1l-1,1h-7v5h7v-1l1-1h1v-1l1-1h3v-1l1-1h1v-1l1-1h1v-3l1-1h1v-5zM832,614v1l-1,1h-5v1l-1,1h-3v1l-1,1h-1v1l-1,1h-3v1l-1,1h-3l-1-1v-1h-1v1l-1,1h-1v1l-1,1h-3v1l-1,1h-3v3l-1,1h-1v1l-1,1h-3v3h5v-1l1-1h1v-1l1-1h1l1,1v1h1l1,1v1h5v-1l1-1h1v-1l1-1h3v-1l1-1h1v-1h-1v1l-1,1h-3l-1-1v-5l1-1h1v-1l1-1h1l1,1v1h3v-1l1-1h3v-1l1-1h3v-1l1-1h3v-3l1-1h1v-1zM910,612v1l-1,1h-3v1l-1,1h-1v1l-1,1h-3v1l-1,1h-3v1h3v-1l1-1h5l1,1v1l-1,1h-1v1h1v-1l1-1h1v-1l1-1h3v-3l1-1h3v-1l1-1h3v-1zM970,610v1h1l1,1v1h3v-3zM838,608v5h1v-3l1-1h1v-1zM1046,606v1l-1,1h-3v1l-1,1h-3v1l-1,1h-1v3h1v-1l1-1h1v-1l1-1h1v-1l1-1h3v-1l1-1h3v-1zM1190,604v1h1l1,1v1h5v-1h-1l-1-1v-1zM1176,604v1h1l1,1v1h1l1,1v3h1v-1l1-1h5v-1h-1l-1-1v-3h-1v1l-1,1h-3l-1-1v-1zM1152,604v3h1v-3zM906,604v5l-1,1h-1v1h1v-1l1-1h3v-1l1-1h3v-1h-5l-1-1v-1zM1008,600v1l-1,1h-3v1l-1,1h-1v1l-1,1h-1v7l-1,1h-1v3h7v-1l1-1h5v-1l1-1h1v-1l1-1h1v-5h-1l-1-1v-5zM934,600v1l-1,1h-1v3h7l1,1v1h1l1,1v1l-1,1h-1v1h1l1,1v1h9v-1l1-1h1v-1l1-1h1v-1l1-1h3v-1l1-1h3v-1l1-1h1v-1h-1v1l-1,1h-5v1l-1,1h-5v1l-1,1h-1l-1-1v-1h-1l-1-1v-1h-3l-1-1v-1h-1l-1-1v-1zM945,608l1-1h3l1,1v1l-1,1h-3l-1-1zM1158,598v3h1l1,1v1h5v-3h-3l-1-1v-1zM1182,580v1l-1,1h-3v11h1v-1l1-1h1v-1l1-1h1v-5l1-1h3v-1h-1l-1-1v-1zM876,578v3h1v-1l1-1h1v-1zM1086,572v1l-1,1h-1v1l-1,1h-3v1h3l1,1v1h1v-1h-1l-1-1v-1l1-1h5v-1l1-1h1v-1zM1052,572v1l-1,1h-7v1l-1,1h-1v1l-1,1h-9v7l-1,1h-1v7h1v-1l1-1h7l1,1v1l-1,1h-1v1h3l1,1v1h3l1,1v1l-1,1h-1v1h1v-1l1-1h1v-1l1-1h3v-1l1-1h1l1,1v1h7l1,1v5l-1,1h-1v3l-1,1h-1v1h3l1,1v1l-1,1h-1v1l-1,1h-1v1l-1,1h-1v1h5v-3l1-1h1v-3h-1l-1-1v-1l1-1h3v-1l1-1h3v-3l1-1h1v-3l1-1h1v-1l1-1h1l1,1v5h3v-1l1-1h5l1,1v1h3l1,1v1l-1,1h-5v3l-1,1h-3v1l-1,1h-3v1l-1,1h-1v1l-1,1h-1v1l-1,1h-1v1l-1,1h-1v1h5v-1l1-1h3v-1l1-1h5v-3l1-1h1v-3l1-1h3v-1l1-1h1v-1l1-1h3v-1l1-1h5v-1l1-1h1l1,1v1h3l1,1v1h5v-3l1-1h1v-7h-7l-1-1v-1l1-1h3v-3h-5l-1-1v-1l1-1h1v-1h-3v1l-1,1h-3v1l-1,1h-3l-1-1v-1l1-1h1v-1l1-1h1v-1l1-1h1v-1l1-1h3v-1h-3l-1-1v-1h-1v3l-1,1h-7v1l-1,1h-1v1l-1,1h-1v3l-1,1h-1l-1-1v-1h-1l-1-1v-1h-3v1h3l1,1v1h1l1,1v1l-1,1h-1v5l-1,1h-1v1l-1,1h-1v1l-1,1h-1l-1-1v-3l1-1h1v-1l1-1h1v-3h-3l-1-1v-3h-5l-1-1v-1h-3v1l-1,1h-1v3l-1,1h-5v1l-1,1h-3l-1-1v-5h-1l-1-1v-3l1-1h1v-1h-3l-1-1v-1l1-1h1v-3zM1091,598l1-1h3l1,1v1l-1,1h-1v1l-1,1h-3l-1-1v-1l1-1h1zM1061,596l1-1h1l1,1v1l-1,1h-1l-1-1zM1049,588l1-1h3l1,1v1l-1,1h-1v1l-1,1h-1l-1-1zM1186,566v1l-1,1h-1v3l-1,1h-1v3h3v-7l1-1h1v-1zM1118,566v3l-1,1h-3v1h3l1,1v5h3v-9h-1l-1-1v-1zM908,566v1h3v-1zM690,566v1l-1,1h-1v5h1l1,1v3h1l1,1v1h1v-1l1-1h3v-1l1-1h1v-1h-1l-1-1v-7zM892,564v3h1v-1l1-1h1v-1zM1084,548v1l-1,1h-1v1l-1,1h-3v1l-1,1h-1v1l-1,1h-3v5l-1,1h-1v1h5v-1l1-1h1l1,1v3l-1,1h-1v1l-1,1h-3v1l-1,1h-3v1l-1,1h-3v3h1v-1l1-1h7v-1l1-1h7v-1l1-1h1v-1l1-1h1v-5l1-1h1v-7h-1l-1-1v-3l1-1h1v-1zM1034,546v1l-1,1h-1v1l-1,1h-3v1l-1,1h-3v3h3v-1l1-1h1v-1l1-1h3v-1l1-1h1v-3zM454,544v1l-1,1h-3v1l-1,1h-1v1h5l1,1v3h1l1,1v1h3v-1l1-1h1v-7h-1l-1-1v-1zM1104,540v3h1v-3zM1094,538v1l-1,1h-1v1h5v-1h-1l-1-1v-1zM1056,536v1l-1,1h-1v1l-1,1h-1v1h1v-1l1-1h5v-3zM1124,520v3h1v-3zM1054,520v1l-1,1h-1v1l-1,1h-1v1h1v-1l1-1h1v-1l1-1h1v-1zM1162,514v3h1l1,1v1h1v-1l1-1h1l1,1v1h3v-3h-1l-1-1v-1zM816,512v1l-1,1h-1v1l-1,1h-3v1l-1,1h-1v1l-1,1h-1v1h1v-1l1-1h3v-1l1-1h1v-1l1-1h3v-1l1-1h1v-1zM1026,510v1l-1,1h-1v1l-1,1h-5v1l-1,1h-1v1l-1,1h-3l-1-1v-1h-1l-1-1v-1l1-1h1v-1h-3v1l-1,1h-1v1l-1,1h-1v5l-1,1h-3l-1-1v-1h-3v3h1l1,1v3h1l1,1v5l-1,1h-1v1h1v-1l1-1h1v-1l1-1h3l1,1v1h1l1,1v1l-1,1h-1v1l-1,1h-1v1l-1,1h-3v1l-1,1h-5v1l-1,1h-3v1l-1,1h-3v1l-1,1h-1v1h5l1,1v3l-1,1h-1v3h1v-1l1-1h1l1,1v3h3v-1l1-1h1v-1h-1l-1-1v-1l1-1h1v-3l1-1h3v-1l1-1h1v-1l1-1h3v-1l1-1h3l1,1v1h1l1,1v3l-1,1h-3l-1-1v-1h-1v5l-1,1h-1v3l-1,1h-1v1h3v-1l1-1h5v-1l1-1h1v-3l1-1h1v-1l1-1h1v-1l1-1h3v-1l1-1h1v-1l1-1h1v-3l1-1h3v-1l1-1h1v-1l1-1h1v-1l1-1h3v-3h-1l-1-1v-5h-1l-1-1v-1l1-1h1v-1l1-1h1v-1l1-1h3v-1h-1l-1-1v-3h-3v1l-1,1h-5v1l-1,1h-7l-1-1v-1l1-1h1v-1l1-1h1v-1zM1015,538l1-1h1l1,1v1l-1,1h-1l-1-1zM1017,532l1-1h1l1,1v1l-1,1h-1l-1-1zM1019,528l1-1h5l1,1v1l-1,1h-1v1l-1,1h-3l-1-1zM770,502v1l-1,1h-1v1l-1,1h-1v1h5v-5zM1040,500v1l-1,1h-1v1h1l1,1v1h3v-1l1-1h5v-1l1-1h1v-1h-1v1l-1,1h-5l-1-1v-1zM768,494v1h3v-1zM782,470v1l-1,1h-3v5h7v-1l1-1h1v-1l1-1h1v-3zM900,452v1h3v-1zM764,450v1l-1,1h-3v3h1v-1l1-1h3v-1l1-1h1v-1zM988,446v3l-1,1h-1v1h1l1,1v1h3v-1l1-1h1v-1l1-1h5l1,1v1h1v-1h-1l-1-1v-1h-1l-1-1v-1zM868,444v1l-1,1h-1v1l-1,1h-1v1h3v-1l1-1h1v-1l1-1h1v-1zM1010,442v1h3v-1zM784,442v1l-1,1h-3v3h3v-1l1-1h3v-3zM772,442v3l-1,1h-1v1h5v-5zM990,440v1l-1,1h-1v1h3v-3zM862,440v1l-1,1h-3v3h1v-1l1-1h1v-1l1-1h1v-1zM822,440v1l-1,1h-3v1l-1,1h-1v1h1v-1l1-1h3v-1l1-1h1v-1zM784,436v3h1v-1l1-1h1v-1zM902,434v3h5v-3zM1220,432v1h1l1,1v5h1l1,1v1h1l1,1v3l-1,1h-1v1l-1,1h-5l-1-1v-1h-1v1l-1,1h-5l-1-1v-1h-3v3l-1,1h-9v1l-1,1h-7v1l-1,1h-1v1l-1,1h-1v1l-1,1h-1v5l-1,1h-1v1l-1,1h-1v1l-1,1h-1v11h1l1,1v3h3l1,1v3l-1,1h-1v3h1l1,1v1h1l1,1v1h3l1,1v5h1l1,1v3l-1,1h-3v1l-1,1h-1l-1-1v-1h-1v1l-1,1h-1v1l-1,1h-3v1l-1,1h-1v9h1v-1l1-1h1l1,1v1h3l1,1v1l-1,1h-1v1h3v-1l1-1h1l1,1v5l-1,1h-1v1h1l1,1v3l-1,1h-7v1l-1,1h-1v3l-1,1h-1v1l-1,1h-3l-1-1v-3h-1l-1-1v-1h-1v1l-1,1h-5l-1-1v-3h-1l-1-1v-5h-1l-1-1v-3h-1l-1-1v-1h-1l-1-1v-1h-3l-1-1v-1h-3v1l-1,1h-3v1l-1,1h-1v1l-1,1h-1v1l-1,1h-1v1l-1,1h-1v1l-1,1h-5v1l-1,1h-1l-1-1v-3l1-1h1v-1l1-1h1v-1l1-1h1v-1h-1v1l-1,1h-5v1l-1,1h-1v1l-1,1h-1v3h1l1,1v1l-1,1h-3v1l-1,1h-3v3h1l1,1v1h3v-1l1-1h1v-1l1-1h1v-1l1-1h5l1,1v7l-1,1h-1v11h1v-1l1-1h1v-1l1-1h1v-1l1-1h3l1,1v1l-1,1h-1v1h1v-1l1-1h1l1,1v1h3l1,1v3h1l1,1v3h1l1,1v1l-1,1h-1v1l-1,1h-1v1l-1,1h-1v1l-1,1h-3v3h1v-1l1-1h1v-1l1-1h3v-1l1-1h3l1,1v1l-1,1h-1v5h1v-3l1-1h1v-15h-1v1l-1,1h-1l-1-1v-5l1-1h5v-3l1-1h1v-1l1-1h3v-1l1-1h3l1,1v5l-1,1h-1v7l-1,1h-1v1l-1,1h-3v1l-1,1h-1v1h1v-1l1-1h3l1,1v1h1l1,1v1h3l1,1v1h3l1,1v1l-1,1h-1v1l-1,1h-3l-1-1v-1h-1v1l-1,1h-5v1h1l1,1v1l-1,1h-5v3h3l1,1v1l-1,1h-1v3h1l1,1v1h1l1,1v1h7l1,1v1h1v-3l1-1h1v-1l1-1h1v-1h-1l-1-1v-1l1-1h1v-5l1-1h1v-3h-1l-1-1v-5l1-1h1v-1l1-1h1v-3l1-1h3v-3l1-1h5v-3l1-1h1v-1l1-1h5v-1l1-1h1v-1l1-1h1l1,1v1h3v-1l1-1h3l1,1v1h1v-1l1-1h1v-1l1-1h1v-3l1-1h1v-1l1-1h1v-1l1-1h7v-1h-1l-1-1v-1l1-1h1v-1l1-1h4v-1l-1-1v-1h-1l-1-1v-15l1-1h1v-1h-1l-1-1v-1l1-1h3v-7l1-1h1v-7l1-1h1v-1l2-2v-2h-9l-1-1v-5h-1l-1-1v-5l1-1h5l1,1v1h5v-1l1-1h1v-2l-1-1v-4l-1-1v-5l1-1v-2l3-3v-1l1-1v-1l1-1v-2h-1l-1-1v-1h-5l-1-1v-1l1-1h5v-3h-3l-1-1v-3h-1l-1-1v-1h-1l-1-1v-1zM1177,552l1-1h1l1,1v1l-1,1h-1l-1-1zM1179,550l1-1h3l1,1v1l-1,1h-3l-1-1zM1135,550l1-1h1l1,1v1l-1,1h-1l-1-1zM1145,548l1-1h3l1,1v1l-1,1h-3l-1-1zM1177,546l1-1h1l1,1v1l-1,1h-1l-1-1zM1179,544l1-1h3l1,1v3l-1,1h-1l-1-1v-1h-1l-1-1zM1163,544l1-1h3l1,1v1h7l1,1v1h1l1,1v1l-1,1h-5l-1-1v-1h-7l-1-1zM1185,518l1-1h1l1,1v1l-1,1h-1l-1-1zM1183,516l1-1h1l1,1v1l-1,1h-1l-1-1zM1177,514l1-1h1l1,1v1l-1,1h-1l-1-1zM1179,512l1-1h1l1,1v1l-1,1h-1l-1-1zM1211,488l1-1h1l1,1v7l-1,1h-1l-1-1zM1193,482l1-1h1l1,1v1l-1,1h-1l-1-1zM1225,446l1-1h3l1,1v1h5l1,1v1h1l1,1v1l-1,1h-1v1l-1,1h-3l-1-1v-1h-3l-1-1v-1h-1l-1-1zM788,426v1l-1,1h-7v5h5v-1l1-1h1v-1l1-1h3v-3zM1030,408v1h3v-1zM1052,402v3l-1,1h-1l-1-1v-1h-1v1l-1,1h-5v1l-1,1h-3v3h1v-1l1-1h3v-1l1-1h5l1,1v1h1v-1l1-1h1v-1l1-1h1v-1h-1l-1-1v-1zM900,402v1l-1,1h-3v1l-1,1h-3v3h1l1,1v1h1v-1l1-1h1v-1l1-1h1v-3l1-1h1v-1zM496,400v5h1l1,1v1h1v-3h-1l-1-1v-1l1-1h1v-1zM840,392v1h3l1,1v1h1v-3zM484,386v7h1l1,1v1h1l1,1v1h1v-1l1-1h1v-5h-1l-1-1v-1h-3l-1-1v-1zM826,370v3h1v-1l1-1h1v-1zM488,368v1l-1,1h-3v1l-1,1h-1v1l-1,1h-1v1l-1,1h-1v1h1l1,1v1h1l1,1v3h5l1,1v1h1v-9l1-1h1v-7zM485,374l1-1h1l1,1v1l-1,1h-1l-1-1zM878,366v3h3v-1l1-1h1v-1zM860,354v1l-1,1h-3v1l-1,1h-3v1l-1,1h-1v3h3v-1l1-1h3l1,1v1h3v-1h-1l-1-1v-1l1-1h1v-1l1-1h1v-3zM824,354v1h5l1,1v1l-1,1h-1v1l-1,1h-7v3l-1,1h-3v1l-1,1h-7v7h1l1,1v1l-1,1h-1v1l-1,1h-1v1l-1,1h-7v1l-1,1h-5v1l-1,1h-1v1l-1,1h-1v1l-1,1h-3v1h1l1,1v1h1l1,1v3h1v-1l1-1h3l1,1v1h1l1,1v1l-1,1h-1v1h1l1,1v3l-1,1h-1v1h3l1,1v1h3l1,1v1l-1,1h-1v1l-1,1h-5l-1-1v-1h-3v1l-1,1h-1v1l-1,1h-1v1h1l1,1v3h7v-1l1-1h3l1,1v1h5v-1l1-1h5v-1l1-1h1l1,1v1h5v-1l1-1h5v-1l1-1h1l1,1v3l-1,1h-1v7l-1,1h-3v1l-1,1h-3v1l-1,1h-1v1l-1,1h-5v1l-1,1h-1l-1-1v-1h-3v1l-1,1h-5v1l-1,1h-1l-1-1v-1h-1v1h1l1,1v1h3v-1l1-1h3v-1l1-1h3l1,1v1l-1,1h-1v1h3l1,1v1h3v-1l1-1h1l1,1v1h1v-3l1-1h1l1,1v1h3v-1l1-1h11l1,1v5h1l1,1v1l-1,1h-1v1l-1,1h-3v1l-1,1h-1v1l-1,1h-1v1l-1,1h-1v1h5v-1l1-1h1l1,1v1h1l1,1v1h7v-1l1-1h1v-1l1-1h1v-5l1-1h1v-1l1-1h1v-3l1-1h1v-3l1-1h5v-1l1-1h1v-1l1-1h1v-1l1-1h1v-3h-5l-1-1v-3h-1l-1-1v-1h-1v1l-1,1h-1l-1-1v-3l1-1h1v-1l1-1h7v-1l1-1h1l1,1v1h1l1,1v1h3v-1l1-1h3v-1l1-1h1v-1l1-1h1l1,1v3l-1,1h-1v3l-1,1h-1v3h1l1,1v1l-1,1h-1v1l-1,1h-1v3l-1,1h-1v1h3v-3l1-1h3v-1l1-1h3v-1l1-1h5v-1l1-1h1l1,1v9l-1,1h-1v1l-1,1h-5v1l-1,1h-1v1l-1,1h-1v3l-1,1h-1v1l-1,1h-3v1l-1,1h-1v1h7v-1l1-1h3v-1l1-1h1l1,1v3h5v-1l1-1h3v-1l1-1h1v-7h-5l-1-1v-3l1-1h1v-1l1-1h1v-7h-3l-1-1v-1l1-1h3v-1h-5l-1-1v-3l1-1h1v-3h-3l-1-1v-1h-1l-1-1v-1l1-1h1v-3l1-1h3v-1l1-1h3v-1l1-1h3v-1l1-1h1v-5h-3v1l-1,1h-1v1l-1,1h-1v1l-1,1h-1v1l-1,1h-9v1l-1,1h-1v1l-1,1h-3v1l-1,1h-3v1l-1,1h-1v1l-1,1h-1v1l-1,1h-1l-1-1v-5l1-1h1v-3l1-1h1v-3h-3v1l-1,1h-3l-1-1v-1l1-1h1v-1l1-1h3v-1l1-1h1v-1l1-1h1v-1l1-1h3v-1l1-1h1v-1l1-1h1v-1l1-1h1v-1l1-1h1v-1l1-1h1v-1l1-1h3v-1l1-1h1v-1h-1l-1-1v-1h-1l-1-1v-1h-1v5l-1,1h-1v1l-1,1h-1v1l-1,1h-5v1l-1,1h-3v1l-1,1h-1v1l-1,1h-1v1l-1,1h-3l-1-1v-1l1-1h1v-1h-5v1l-1,1h-3v1l-1,1h-3v1l-1,1h-3v3h1v-1l1-1h3v-1l1-1h3l1,1v3l-1,1h-1v1l-1,1h-3v1l-1,1h-1v1h5l1,1v1l-1,1h-3v1l-1,1h-3v5h1l1,1v1h3l1,1v1l-1,1h-1v1l-1,1h-3l-1-1v-3h-1l-1-1v-1h-1l-1-1v-1h-1l-1-1v-1l1-1h1v-5h-3l-1-1v-1h-3v1l-1,1h-1l-1-1v-1h-7l-1-1v-1l1-1h5v-1l1-1h1v-1l1-1h3v-1l1-1h1v-1l1-1h1v-1l1-1h1v-1l1-1h7v-1l1-1h3v-1l1-1h5v-1l1-1h1v-1l1-1h1v-1l1-1h1v-5h-3l-1-1v-1h-3v1h3l1,1v1l-1,1h-1v1l-1,1h-1v1l-1,1h-1v1l-1,1h-1v1l-1,1h-1v1l-1,1h-1v1l-1,1h-9l-1-1v-1h-3v1l-1,1h-1v1l-1,1h-3l-1-1v-3l1-1h1v-1l1-1h1v-1h-7v1l-1,1h-5l-1-1v-1l1-1h1v-3h-5l-1-1v-1l1-1h3v-1l1-1h1v-1l1-1h3v-1l1-1h5v-1l1-1h3v-1l1-1h3v-1l1-1h1v-1h-3v1l-1,1h-5l-1-1v-1l1-1h1v-1zM817,432l1-1h1l1,1v1l-1,1h-1l-1-1zM845,426l1-1h1l1,1v1l-1,1h-1l-1-1zM799,416l1-1h1l1,1v1l-1,1h-1l-1-1zM817,412l1-1h3l1,1v1l-1,1h-1v1l-1,1h-5l-1-1v-1l1-1h3zM883,410l1-1h1l1,1v1l-1,1h-1l-1-1zM853,410l1-1h1l1,1v1l-1,1h-1l-1-1zM855,398l1-1h1l1,1v1l-1,1h-1l-1-1zM857,396l1-1h3l1,1v1l-1,1h-3l-1-1zM813,388l1-1h1l1,1v3l-1,1h-1v3l-1,1h-3v1l-1,1h-3l-1-1v-3l1-1h3v-1l1-1h1v-1l1-1h1zM787,388l1-1h3l1,1v3l-1,1h-1l-1-1v-1h-1l-1-1zM817,384l1-1h1l1,1v1l-1,1h-1l-1-1zM815,380l1-1h3l1,1v1l-1,1h-1v1l-1,1h-3v1l-1,1h-7v1l-1,1h-1v1l-1,1h-5l-1-1v-1h-1l-1-1v-1l1-1h1v-1l1-1h1l1,1v1h1v-1l1-1h3v-1l1-1h9zM819,378l1-1h1l1,1v1l-1,1h-1l-1-1zM813,372l1-1h1l1,1v1l-1,1h-1l-1-1zM831,358l1-1h1l1,1v1l-1,1h-1l-1-1zM62,286v3h1v-1l1-1h1v-1zM70,280v1l-1,1h-3v1h1l1,1v1h1v-1l1-1h3v-1h-1l-1-1v-1zM53,273l1,1v3l-1,1h-3v3h1l1,1v1h3v-9h-1zM57,266v1l-1,1v3h3l1,1v1h1v-1l1-1h1v-5h-3v1l-1,1h-1l-1-1zM880,262v1h1l1,1v3l-1,1h-1l-1-1v-1h-13v1l-1,1h-3v1l-1,1h-1v3l-1,1h-1v1h3l1,1v1h5v-1l1-1h9v-1l1-1h1v-3l1-1h3l1,1v1h3v-1l1-1h1v-3h-1l-1-1v-1h-3l-1-1v-1zM866,258v1h3v-1zM88,228v1l-1,1h-1v1l-1,1h-1v3l-1,1h-1v1l-1,1h-1v9h1l1,1v1h1l1,1v5h3v-1l1-1h1v-1l1-1h1v-7l1-1h1v-1l1-1h3v-1l1-1h1v-9h-1l-1-1v-1zM90,176v7h1l1,1v1h3v-3l1-1h1v-1h-3l-1-1v-1h-1l-1-1v-1zM398,170v5h1v-3l1-1h1v-1zM140,166v3h3v-3zM394,160v1l-1,1h-1v5h5v-1h-1l-1-1v-1l1-1h3v-1h-1l-1-1v-1zM152,142v1h1l1,1v1l-1,1h-3v3h1l1,1v1l-1,1h-1v1h5l1,1v3h1l1,1v5l-1,1h-3v1h1l1,1v1h5v-5l1-1h1v-3h-3l-1-1v-1h-1l-1-1v-1l1-1h1v-3h-3l-1-1v-5h-1l-1-1v-1zM160,136v1l-1,1h-1v1h3v-3zM170,124v1l-1,1h-1v5h1l1,1v5l-1,1h-1v3l-1,1h-1v3h1l1,1v5l-1,1h-1v1h1l1,1v1l-1,1h-1v3h1l1,1v3l-1,1h-1v3h1l1,1v1h11v-5l1-1h5v-1l1-1h1v-1l1-1h1v-1l1-1h3v-5h-3l-1-1v-1h-1l-1-1v-1h-1l-1-1v-1h-1l-1-1v-5l1-1h3v-1l1-1h1v-5l1-1h1v-1l1-1h1v-3h-1l-1-1v-1h-5v1l-1,1h-9l-1-1v-1zM118,122v1h1l1,1v1h3l1,1v1h3v-1l-1,1l-1-1h-1l-1-1h-1l-2-2h-1zM102,116v1l-1,1h-1v3l-1,1h-1v1l-1,1h-1v3l-1,1h-1v13l-1,1v5l1,1v1h1l1,1v9h1l1,1v1h1l1,1v1l-1,1h-1v3h7l1,1v3h1l1,1v13l-1,1h-1v3l-1,1h-1v3h1l1,1v7l-1,1h-7l-1-1v-3l1-1h3v-3h-3l-1-1v-1h-3v1l-1,1h-1v1l-1,1h-1v3h1l1,1v1l-1,1h-3v9l-1,1h-1v1h1l1,1v3h1l1,1v1h1l1,1v1h9l1,1v1h1v-1l1-1h1v-5l1-1h1v-5l1-1h1v-3l1-1h1v-5h-3l-1-1v-3l1-1h1v-1l1-1h3l1,1v1h1v-1l1-1h1v-9l1-1h3v-5l1-1h1v-1l1-1h5v-5l1-1h1l1,1v1h3v-5l1-1h1v-7h-1l-1-1v-1h-1l-1-1v-5l1-1h1v-1l1-1h1v-1l1-1h9v-1h-1l-1-1v-1h-1l-1-1v-1h-3l-1-1v-1h-3l-1-1v-1h-1l-1-1v-1h-1l-1-1v-3h-1v1l-1,1h-1l-1-1v-1h-5l-1-1v-1h-3v1l-1,1h-1l-1-1v-1h-1l-1-1v-3h-1l-1-1v-3h-3l-1-1v-1h-3l-1-1v-1zM132,112l-1,1h-3v9l1,1h2l1,1v1h3v-1h-3l-1-1v-3l1-1h3v-5h-1l-1-1v-1zM131,116l1-1h1l1,1v1l-1,1h-1l-1-1z"/>
<path fill="#587050" fill-rule="evenodd" d="M1146,935l-1,1h-3v1l-1,1h-3v3l-1,1h-1v1l-1,1h-1v1h1l1,1v1h4l2-2h1v-1l1-1h1v-1l1-1h1v-3l1-1h1v-2zM1160,924v1l-1,1h-1v1h7v-3zM1126,856v3h1v-3zM660,830v9l-1,1h-1l-1-1v-3h-3v1l-1,1h-1v1l-1,1h-9v7h5v-1l1-1h7v-3l1-1h5v-1l1-1h1v-3l1-1h1v-3h-1l-1-1v-1zM1112,828v1h3v-1zM642,808v3h1v-3zM594,806v5h3v-3h-1l-1-1v-1zM1130,804v1l-1,1h-1v1l-1,1h-3v1l-1,1h-3v1h1l1,1v1l-1,1h-1v1h1l1,1v1l-1,1h-1v1l-1,1h-1v3l-1,1h-1v1h1l1,1v1h3v-3l1-1h1v-7l1-1h1v-1l1-1h1v-1l1-1h3l1,1v1h1l1,1v3h3v-5h-3l-1-1v-5h-1l-1-1v-1zM702,786v1l-1,1h-3v5h1l1,1v3l-1,1h-9v7h1l1,1v3l-1,1h-1v1l-1,1h-3v13h1l1,1v5h3v-1l1-1h1l1,1v1h3l1,1v1h1l1,1v1h1l1,1v1h3v-1l1-1h1v-1l1-1h3v-3l1-1h5v-1l1-1h1v-3l1-1h5v-1l1-1h7v-1l1-1h1v-3l1-1h1v-1l1-1h5v-1h-1l-1-1v-7h-1l-1-1v-3h-1l-1-1v-1l1-1h1v-3h-7l-1-1v-1h-3v3l-1,1h-1v1l-1,1h-1l-1-1v-1h-1l-1-1v-1h-5v1l-1,1h-3v1l-1,1h-3l-1-1v-3h-1l-1-1v-3h-1l-1-1v-3zM701,830l1-1h1l1,1v1l-1,1h-1l-1-1zM701,822l1-1h3l1,1v1l-1,1h-1v3l-1,1h-1l-1-1v-1h-1l-1-1v-1l1-1h1zM715,820l1-1h1l1,1v1h1l1,1v1l-1,1h-3l-1-1zM705,814l1-1h5l1,1v1l-1,1h-1v1l-1,1h-3l-1-1zM689,814l1-1h1l1,1v1l-1,1h-1l-1-1zM707,802l1-1h1l1,1v1h3l1,1v1l-1,1h-1v1l-1,1h-1l-1-1v-1h-1l-1-1zM695,802l1-1h1l1,1v1h1l1,1v1l-1,1h-3l-1-1zM725,800l1-1h1l1,1v3l-1,1h-5l-1-1v-1l1-1h3zM705,800l1-1h1l1,1v1l-1,1h-1l-1-1zM550,780v3h3v-1l1-1h1v-1zM1064,768v3h1v-1l1-1h1v-1zM758,760v5l-1,1h-5v3h3l1,1v1l-1,1h-1v1h1l1,1v1h3l1,1v1h3l1,1v1l-1,1h-1v3h3l1,1v1h5v-7h-1l-1-1v-1h-1v5l-1,1h-3l-1-1v-1l1-1h1v-3h-1l-1-1v-1l1-1h1v-1l1-1h1v-1l1-1h1v-1l1-1h3v-3h-1l-1-1v-1h-1l-1-1v-1zM566,752v1h3v-1zM854,748v1l-1,1h-1v1l-1,1h-1v1h1l1,1v3h1v-1l1-1h3v-1l1-1h1l1,1v1h3v-3h-1l-1-1v-1l1-1h1v-1h-3v1l-1,1h-3l-1-1v-1zM1102,746v1l-1,1h-1v1h1l1,1v1h3v-5zM1004,744v1h3v-1zM796,738v3l-1,1h-1v1l-1,1h-7v1l-1,1h-1v3l-1,1h-1l-1-1v-1h-1l-1-1v-1h-1l-1-1v-3l1-1h3v-1h-5v1l-1,1h-1v3h1l1,1v3l-1,1h-1v5h1l1,1v1l-1,1h-1v1h5l1,1v3l-1,1h-1v5h1l1,1v1h1l1,1v3h1l1,1v1h9l1,1v1h1v-1l1-1h1v-1l1-1h1v-1l1-1h3v-1l1-1h1v-1l1-1h3v-1l1-1h1v-1l1-1h1v-1l1-1h1v-1l1-1h1v-1h-1l-1-1v-1h-3v1l-1,1h-1v1l-1,1h-1l-1-1v-1h-1l-1-1v-1l1-1h1v-3l1-1h1v-1l1-1h1v-1h-9l-1-1v-3h-1l-1-1v-3l1-1h1v-1h-1l-1-1v-1zM781,764l1-1h1l1,1v1l-1,1h-1l-1-1zM779,754l1-1h1l1,1v3l-1,1h-1l-1-1zM795,750l1-1h3l1,1v3l-1,1h-1v1l-1,1h-5v3h3l1,1v1h3l1,1v3l-1,1h-1l-1-1v-1h-1v1l-1,1h-1l-1-1v-1h-3l-1-1v-1h-1l-1-1v-7l1-1h3v-1l1-1h3zM779,750l1-1h1l1,1v1l-1,1h-1l-1-1zM789,746l1-1h1l1,1v3l-1,1h-1v1l-1,1h-3l-1-1v-1l1-1h1v-1l1-1h1zM1096,736v1l-1,1h-3v1l-1,1h-1v1l-1,1h-1v13h9v-3h-3l-1-1v-5h-1l-1-1v-1l1-1h1v-3l1-1h3v-3zM854,734v1l-1,1h-1v3l-1,1h-1v1h1l1,1v1l-1,1h-1v1l-1,1h-1v1h3v-1l1-1h1v-1l1-1h1v-1l1-1h1v-1l1-1h1v-1h-1l-1-1v-3zM586,720v1l-1,1h-1v1l-1,1h-1v5l-1,1h-1v3h5v-1l1-1h3l1,1v1l-1,1h-1v1l-1,1h-3v7l-1,1h-7v1h3l1,1v1h1l1,1v1h3l1,1v5l-1,1h-3l-1-1v-1h-1l-1-1v-1h-1v1l-1,1h-1v3l-1,1h-1v1l-1,1h-1v1l-1,1h-1v7l-1,1h-1v13h1v-3l1-1h1l1,1v5h3l1,1v1h1l1,1v1l-1,1h-3v3l-1,1h-1v1h1v-1l1-1h5l1,1v1h1v-1l1-1h1v-1l1-1h1v-1l1-1h1v-9l1-1h1v-13l1-1h1v-3h-1l-1-1v-1l1-1h1v-1l1-1h1v-3l1-1h1v-5l1-1h1v-3l1-1h3v-1l1-1h1v-5l1-1h5v-1h-7l-1-1v-1h-7l-1-1v-1h-1l-1-1v-3h-1l-1-1v-1l1-1h1v-1h-1l-1-1v-1zM1044,710v5h1v-5zM1028,708v3h1v-3zM982,706v1l-1,1h-3v1l-1,1h-1v1l-1,1h-1v1l-1,1h-3v3h3l1,1v3l-1,1h-1v1l-1,1h-3v3l-1,1h-1v1l-1,1h-3l-1-1v-1h-1l-1-1v-1h-3v3l-1,1h-1v3h3l1,1v1l-1,1h-5v1l-1,1h-1v3l-1,1h-1v1h5v-1l1-1h1l1,1v3h7l1,1v9l-1,1h-1v5l-1,1h-1v1l-1,1h-5v1l-1,1h-1v1l-1,1h-1l-1-1v-13h-1v1l-1,1h-1v7l-1,1h-1v1h1l1,1v3l-1,1h-1v7l-1,1h-1v3h1l1,1h1v-2l1-1h1l1,1v1h1l1,1v1h2l1-1h5l1-1h5l1-1h6l1-1h3v-3l1-1h1v-1l1-1h3l1,1v1l-1,1h-1v3h5l1,1v1h1l1,1h3l1,1h2l1,1h2l1,1h7l1,1v1h1l1,1v5h1l1,1v1h3v-5l1-1h1v-1l1-1h3l1,1v1l-1,1h-1v1h3l1,1v3l-1,1h-1v1h4l1-1h1l1-1h1l1-1h1l2-2h1l1-1h1l1-1h1l1-1v-1l1-1v-1l2-2v-2l1-1h1l1,1h3l2,2h1l3,3h1l3,3h1l1,1v-1l1-1h5v-1l1-1h1v-5l1-1h1v-1h-1l-1-1v-1l1-1h1v-5h-1v3l-1,1h-1v1l-1,1h-1l-1-1v-1h-1l-1-1v-3h-3l-1-1v-1h-1l-1-1v-7h-7l-1-1v-1l1-1h1v-3h-1l-1-1v-1h-1l-1-1v-3h-1l-1-1v-1l1-1h1v-5l1-1h1v-1l1-1h1v-1l1-1h1v-7h-1l-1-1v-3l1-1h1v-1l1-1h3v-1l1-1h1v-1l1-1h3v-7h-1l-1-1v-1h-3l-1-1v-1h-3v3h1l1,1v1l-1,1h-3v3l-1,1h-1v1l-1,1h-3l-1-1v-1h-3v1l-1,1h-3v3l-1,1h-1l-1-1v-3h-1l-1-1v-1h-1l-1-1v-3h-1v3l-1,1h-3v1h1l1,1v1l-1,1h-1v1l-1,1h-1v5l-1,1h-1v1l-1,1h-1v5h1l1,1v1l-1,1h-1v3l-1,1h-3v3l-1,1h-9v5l-1,1h-3v1l-1,1h-5l-1-1v-3h-3l-1-1v-3h-5l-1-1v-1h-1l-1-1v-3l1-1h3l1,1v1h9l1,1v1h3v-1l1-1h1v-3h-1l-1-1v-1l1-1h3v-3h-1l-1-1v-5l1-1h1v-5h-1l-1-1v-3l1-1h1v-3h-1l-1-1v-1h-3l-1-1v-1h-7l-1-1v-1h-1l-1-1v-1zM1053,780l1-1h1l1,1v1l-1,1h-1l-1-1zM967,778l1-1h3l1,1v1l-1,1h-3l-1-1zM975,772l1-1h1l1,1v1l-1,1h-1l-1-1zM1029,770l1-1h3l1,1v5l-1,1h-3l-1-1zM981,750l1-1h1l1,1v1l-1,1h-1l-1-1zM989,734l1-1h1l1,1v5l-1,1h-3l-1-1v-3l1-1h1zM961,732l1-1h1l1,1v1h5l1,1v5l-1,1h-1l-1-1v-1h-3l-1-1v-1h-1l-1-1zM979,716l1-1h1l1,1v5l-1,1h-1l-1-1zM770,702v5h1l1,1v13h1l1,1v3h3l1,1v1h17v-3l1-1h1v-3l1-1h5l1,1v1l-1,1h-1v1l-1,1h-1v1l-1,1h-1v1h5l1,1v1h13l1,1v1h3v-1l1-1h3v-1l1-1h1v-1l1-1h7v-5h-1l-1-1v-5h-3l-1-1v-1l1-1h1v-3l1-1h1v-3h-3v5l-1,1h-3l-1-1v-1h-1l-1-1v-1h-5v1l-1,1h-5l-1-1v-1h-1l-1-1v-1h-7v7l-1,1h-5l-1-1v-3h-1l-1-1v-1h-11l-1-1v-1h-1v1l-1,1h-5l-1-1v-3zM787,724l1-1h1l1,1v1l-1,1h-1l-1-1zM819,720l1-1h1l1,1v1l-1,1h-1l-1-1zM793,716l1-1h5l1,1v1l-1,1h-1v1l-1,1h-3l-1-1zM825,712l1-1h1l1,1v3l-1,1h-1l-1-1zM785,710l1-1h1l1,1v3h1l1,1v3l-1,1h-1l-1-1v-1h-1v1l-1,1h-1l-1-1v-5l1-1h1zM802,692v3h1v-3zM884,690v1l-1,1h-1v5l-1,1h-1l-1-1v-1h-1l-1-1v-1h-5v1l-1,1h-7v9l-1,1h-1v3h1l1,1v3h1l1,1v1h7l1,1v1h3v-1l1-1h3v-1l1-1h1v-1l1-1h1v-3l1-1h1v-1l1-1h1v-1l1-1h1v-3l1-1h1v-1h-1l-1-1v-7h-1v1l-1,1h-3l-1-1v-1zM786,688v1h3v-1zM674,686v1l-1,1h-1v1h3v-3zM622,676v3l-1,1h-1v1l-1,1h-3v3l-1,1h-3l-1-1v-1h-1v1l-1,1h-1v1l-1,1h-1v3l-1,1h-5v1l-1,1h-1v1l-1,1h-1v1l-1,1h-1v7h1l1,1v1h3l1,1v1h1l1,1v1h1l1,1v3l-1,1h-1v1l-1,1h-1v1l-1,1h-1v1h1l1,1v1l-1,1h-1v3h7l1,1v1h1v-3l1-1h7v-1l1-1h3l1,1v3h1l1,1v1h3l1,1v3h1l1,1v3h3l1,1v1h1l1,1v1h7l1,1v1h7v-1l1-1h1v-5l1-1h1v-1h-1l-1-1v-5h-3l-1-1v-1h-1l-1-1v-3l1-1h5v-1l1-1h5l1,1v1h1l1,1v1h3l1,1v1l-1,1h-1v3h3l1,1v1h1l1,1v3h3l1,1v5l-1,1h-1v1l-1,1h-1v3l-1,1h-7l-1-1v-1h-3v1l-1,1h-3v1l-1,1h-1v1l-1,1h-3v1l-1,1h-1v1l-1,1h-3v1l-1,1h-1v1l-1,1h-1v5h1l1,1v3h1l1,1v1l-1,1h-3v5h7l1,1v3l-1,1h-3v1l-1,1h-5v5h1l1,1v1h1l1,1v1h1l1,1v3h1l1,1v1h3v-1l1-1h3v-1l1-1h1l1,1v1h1v-1l1-1h5l1,1v1h3v-1l1-1h3v-1l1-1h1v-1l1-1h1l1,1v3h1l1,1v1h1v-1l1-1h1l1,1v1h1l1,1v1h1l1,1v1h1v-1l1-1h3v-1h-1l-1-1v-1l1-1h7v-3h-3l-1-1v-5h-5l-1-1v-1l1-1h3v-3h-1l-1-1v-1l1-1h3v-1l1-1h1l1,1v1h1l1,1v1l-1,1h-3v1h1l1,1v1h1v-1l1-1h1l1,1v3h3v-1l1-1h1v-1h-3l-1-1v-3l1-1h3v-3l1-1h1v-1l1-1h1v-7l1-1h1v-3l1-1h7v-1l1-1h3v-3l1-1h1v-3h-1l-1-1v-1h-3l-1-1v-5l1-1h5v-1l1-1h1l1,1v1h5v-5l1-1h1l1,1v3h3v-1l1-1h5v-1l1-1h1v-3l1-1h1v-3l1-1h1v-1l1-1h1v-1l1-1h1v-7h-1l-1-1v-1l1-1h1v-5h-3v1l-1,1h-7l-1-1v-3h-5l-1-1v-1h-1l-1-1v-1l1-1h1v-3h-1l-1-1v-5h-1l-1-1v-1h-1l-1-1v-1h-1l-1-1v-1h-1v1l-1,1h-1l-1-1v-1h-1l-1-1v-1h-3v1l-1,1h-3v3l-1,1h-5v5h1l1,1v1l-1,1h-1v3l-1,1h-3v1h1l1,1v3l-1,1h-1l-1-1v-1h-1v3l-1,1h-1l-1-1v-1h-1l-1-1v-1h-5l-1-1v-1h-1l-1-1v-1h-1v9h1l1,1v1l-1,1h-1v5l-1,1h-1v3l-1,1h-1l-1-1v-1h-1v1h1l1,1v1h5l1,1v3l-1,1h-3l-1-1v-1h-1v1l-1,1h-1l-1-1v-1h-1v3l-1,1h-3l-1-1v-1h-3l-1-1v-3h-1l-1-1v-1h-3l-1-1v-1l1-1h1v-1l1-1h1v-7l1-1h1v-1l1-1h1v-1l1-1h3v-3h-5v1l-1,1h-3l-1-1v-1h-1l-1-1v-3h-1l-1-1v-1h-1l-1-1v-3h-1l-1-1v-3h-1l-1-1v-1h-1l-1-1v-1h-9l-1-1v-3h-1l-1-1v-1h-1l-1-1v-1h-5v7l-1,1h-1l-1-1v-1h-3l-1-1v-1l1-1h1v-1l1-1h1v-1h-7l-1-1v-1zM667,784l1-1h5l1,1v3l-1,1h-5l-1-1zM669,778l1-1h11l1,1v1l-1,1h-1v1l-1,1h-1l-1-1v-1h-7l-1-1zM657,778l1-1h1l1,1v1h1v-1l1-1h3l1,1v1h1l1,1v1l-1,1h-3v1l-1,1h-1v1l-1,1h-1l-1-1v-1h-1l-1-1zM681,776l1-1h3l1,1v1l-1,1h-3l-1-1zM625,728l1-1h1l1,1v1l-1,1h-1l-1-1zM691,726l1-1h1l1,1v1l-1,1h-1l-1-1zM603,724l1-1h1l1,1v1l-1,1h-1l-1-1zM641,716l1-1h1l1,1v1l-1,1h-1l-1-1zM693,712l1-1h1l1,1v1l-1,1h-1l-1-1zM721,708l1-1h5l1,1v3h3l1,1v1h1l1,1v3l-1,1h-9l-1-1v-1h-1l-1-1v-3h-1l-1-1v-1l1-1h1zM641,706l1-1h3l1,1v5l-1,1h-1l-1-1v-1h-1l-1-1zM709,702l1-1h3l1,1v1l-1,1h-1v1l-1,1h-1l-1-1zM713,700l1-1h3l1,1v3h1l1,1v1l-1,1h-3l-1-1v-3h-1l-1-1zM645,696l1-1h7l1,1v3l-1,1h-1v1l-1,1h-3l-1-1v-1h-1l-1-1zM637,692l1-1h1l1,1v1l-1,1h-1l-1-1zM635,688l1-1h1l1,1v1l-1,1h-1l-1-1zM627,686l1-1h1l1,1v3l-1,1h-3l-1-1v-1l1-1h1zM637,684l1-1h1l1,1v1l-1,1h-1l-1-1zM988,674v1l-1,1h-1v1l-1,1h-1v1h5l1,1v1h1v-1l1-1h1v-1h-1l-1-1v-3zM1030,672v1l-1,1h-3v5l-1,1h-1l-1-1v-3h-1v3l-1,1h-1v1l-1,1h-1v17h3v-1l1-1h1v-1l1-1h3l1,1v1l-1,1h-1v3h3l1,1v1h1l1,1v3h9v-1l1-1h3l1,1v1h1v-1l1-1h1v-1l1-1h1v-3h-1l-1-1v-1h-1l-1-1v-1h-5l-1-1v-1l1-1h1v-1h-3l-1-1v-3l1-1h1v-1h-1l-1-1v-3h-3l-1-1v-5h-3l-1-1v-3zM1031,698l1-1h1l1,1v5l-1,1h-1l-1-1zM1029,696l1-1h1l1,1v1l-1,1h-1l-1-1zM1035,690l1-1h1l1,1v1l-1,1h-1l-1-1zM1025,686l1-1h1l1,1v1l-1,1h-1l-1-1zM836,672v1h3v-1zM1152,668v1l-1,1h-1v1h1l1,1l2-2l-1-1v-1zM898,666v1l-1,1h-1v1l-1,1h-1v3l-1,1h-1v1l-1,1h-1v3l-1,1h-3v1l-1,1h-1v1l-1,1h-1v1h5v-1l1-1h11v-9l1-1h1v-3l1-1h1v-3zM642,664v3l-1,1h-1v1h1l1,1v1h1v-7zM1034,660v3h1v-3zM912,660v1l-1,1h-1v1h3v-3zM840,660v1l-1,1h-5v5h3v-3l1-1h3v-3zM1030,648v1l-1,1h-3v1l-1,1h-1v3l-1,1h-1v3l-1,1h-1v3h1v-1l1-1h1v-1l1-1h1v-1l1-1h5v-1l1-1h1v-1l1-1h1v-1h-1l-1-1v-1h-1l-1-1v-1zM1164,644v1h3v-1zM780,642v3h1v-3zM650,640v1l-1,1h-1v1l-1,1h-1v3h1v-1l1-1h3l1,1v1h3v-3h-1l-1-1v-1h-1l-1-1v-1zM1022,638v1l-1,1h-1v3h5v-5zM1162,636v1h3v-1zM1066,634v1l-1,1h-1v1l-1,1h-5v3l-1,1h-1v1h5l1,1v1l-1,1h-1v1l-1,1h-1v1l-1,1h-3v1h5l1,1v1l-1,1h-1v1l-1,1h-3v1l-1,1h-1v5l-1,1h-1v1h3l1,1v5h1l1,1v1h1l1,1v3h1l1,1v3h1l1,1v7h1v-1l1-1h1v-1l1-1h1v-3l1-1h1v-1l1-1h3v-1l1-1h1v-1l1-1h1v-1h-1l-1-1v-1l1-1h1v-7l1-1h1v-1h-1v1l-1,1h-3l-1-1v-1l1-1h1v-1h-7v1h1l1,1v1h1l1,1v1l-1,1h-3v1l-1,1h-1l-1-1v-5h-5l-1-1v-5l1-1h3v-1l1-1h3v-1l1-1h1v-1l1-1h3v-1l1-1h3v-1h-1l-1-1v-1h-3v3l-1,1h-3l-1-1v-1l1-1h1v-3l1-1h1v-1h-1v1l-1,1h-1v1l-1,1h-3l-1-1v-3l1-1h1v-1l1-1h1v-1l1-1h1v-1zM1071,668l1-1h1l1,1v3l-1,1h-1v1l-1,1h-1l-1-1v-3l1-1h1zM1061,648l1-1h3l1,1v1l-1,1h-1v1l-1,1h-3l-1-1v-1l1-1h1zM1026,630v1l-1,1h-3v1h3l1,1v1h3v-1l1-1h1v-3zM1014,628v3h3v-1l1-1h1v-1zM848,628v1l-1,1h-1v1h1l1,1v1h1v-1l1-1h1v-1h-1l-1-1v-1zM752,628v1l-1,1h-3v1l-1,1h-3v1l-1,1h-1v1l-1,1h-1l-1-1v-1h-5v1l-1,1h-1v1l-1,1h-1v1l-1,1h-1v1h5l1,1v1l-1,1h-1v1l-1,1h-1v1l-1,1h-3v3l-1,1h-3l-1-1v-1l1-1h1v-1h-1l-1-1v-3l1-1h1v-1h-1l-1-1v-1l1-1h1v-1l1-1h3v-1l1-1h1v-1l1-1h1v-1h-3v1l-1,1h-1v1l-1,1h-3v1l-1,1h-1v1l-1,1h-3v1h1l1,1v3l-1,1h-3v1h1l1,1v1l-1,1h-1v3h3v-1l1-1h3l1,1v3h5v-1l1-1h5v-1l1-1h3v-3l1-1h1v-1l1-1h3v-1l1-1h1l1,1v5l-1,1h-1v1l-1,1h-1v1l-1,1h-3v1h1l1,1v1h7l1,1v3h1l1,1v3h1l1,1v1h1l1,1v1h1l1,1v1h1l1,1v5l-1,1h-3l-1-1v-1h-1v1h1l1,1v1h3v-1l1-1h3v-1l1-1h3l1,1v5h1l1,1v1h1v-1l1-1h5v-1l1-1h5l1,1v1h1l1,1v1h5v-1h-1l-1-1v-3l1-1h1v-1l1-1h1v-1l1-1h7l1,1v1h5v-1l1-1h3v-1l1-1h5l1,1v1h3l1,1v1h5l1,1v1h1v-1l1-1h1v-3h-1l-1-1v-9l1-1h1v-3h-1l-1-1v-1h-1l-1-1v-3h-1l-1-1v-1h-13v1l-1,1h-1l-1-1v-1h-1l-1-1v-1h-1l-1-1v-3h-3l-1-1v-1h-1v1l-1,1h-1v1l-1,1h-1v1l-1,1h-3v1l-1,1h-3l-1-1v-1h-7l-1-1v-1h-5l-1-1v-3l1-1h1v-1l1-1h1v-3h-1l-1-1v-1h-5v1l-1,1h-1v1l-1,1h-3l-1-1v-1h-1v5l-1,1h-1v1l-1,1h-3v1l-1,1h-1v1l-1,1h-3l-1-1v-1l1-1h1v-1l1-1h1v-1h-1l-1-1v-3l1-1h1v-1l1-1h1v-1l1-1h3v-3h-3l-1-1v-1zM767,672l1-1h3l1,1v1l-1,1h-3l-1-1zM799,666l1-1h1l1,1v1l-1,1h-1l-1-1zM787,666l1-1h1l1,1v1l-1,1h-1l-1-1zM793,664l1-1h1l1,1v1l-1,1h-1l-1-1zM757,664l1-1h1l1,1v1l-1,1h-1l-1-1zM799,654l1-1h1l1,1v1h5l1,1v1l-1,1h-1v1l-1,1h-3v1l-1,1h-1v1l-1,1h-3l-1-1v-1l1-1h1v-1h-1l-1-1v-1l1-1h3zM830,626v1l-1,1h-3v1l-1,1h-1v1h5v-1l1-1h1v-1l1-1h1v-1zM1034,624v1l-1,1h-1v1h3v-3zM810,624v1l-1,1h-1v1l-1,1h-5v3h3l1,1v1h1l1,1v1h3v-1h-3l-1-1v-3l1-1h3v-1l1-1h1v-1h-1l-1-1v-1zM694,624v1l-1,1h-1v1l-1,1h-3v1h5l1,1v7l-1,1h-5v1h1l1,1v3h1l1,1v1h3v-1l1-1h3v-1l1-1h1v-1l1-1h1v-5h-1l-1-1v-3h-1l-1-1v-1h-1l-1-1v-3zM695,638l1-1h3l1,1v1l-1,1h-3l-1-1zM1154,618v1l-1,1h-1v1h3l1,1v1h3v-3h-1l-1-1v-1zM1124,618v1l-1,1h-3v1l-1,1h-1v1l-1,1h-3v3l-1,1h-1v1l-1,1h-1v1l-1,1h-1v1h1l1,1v5h1l1,1v1l-1,1h-1v3h5l1,1v3l-1,1h-1v1l-1,1h-1v3h1l1,1v1l-1,1h-3v1l-1,1h-5v1l-1,1h-3v3h3v-1l1-1h1v-1l1-1h3v-1l1-1h1l1,1v1h5v-1l1-1h1v-1l1-1h5l1,1v3l-1,1h-1v1l-1,1h-1v1h1l1,1v3l-1,1h-1l-1-1v-1h-1v1l-1,1h-1v3h3l1,1v1h1l1,1v1h1v-5l1-1h5v-1h-1l-1-1v-5l1-1h1v-5h-1l-1-1v-1l1-1h3v-3h-1l-1-1v-3h-1l-1-1v-5l1-1h1v-9l1-1h3v-1l1-1h1v-3l1-1h1l1,1v1h3l1,1v1h1v-5l1-1h1v-5h-3v3l-1,1h-5l-1-1v-1h-1v1l-1,1h-3l-1-1v-1h-1l-1-1v-1zM1119,646l1-1h1l1,1v3l-1,1h-3l-1-1v-1l1-1h1zM1129,626l1-1h1l1,1v1l-1,1h-1l-1-1zM1117,626l1-1h1l1,1v1l-1,1h-1l-1-1zM1141,624l1-1h1l1,1v1l-1,1h-1l-1-1zM1121,624l1-1h1l1,1v3l-1,1h-1l-1-1zM824,618v1l-1,1h-1v1l-1,1h-1v1h1v-1l1-1h5v-1l1-1h1v-1zM1080,610v1l-1,1h-3v1l-1,1h-1v1l-1,1h-1v1l-1,1h-1v1h1v-1l1-1h3v-1l1-1h5v-5zM1010,600v1l-1,1h-3v1l-1,1h-1v1l-1,1h-1v1h1l1,1v3l-1,1h-1v3h5v-1l1-1h5v-9h-1l-1-1v-3zM936,600v1l-1,1h-1v1h5l1,1v1h1l1,1v1h1v-3h-1l-1-1v-1h-1l-1-1v-1zM1106,594v5h1l1,1v1h5v-7zM1056,590v1l-1,1h-1v1h1l1,1v1h3v-1h-1l-1-1v-3zM1068,584v1l-1,1h-1v3l-1,1h-1v3h3l1,1v1l-1,1h-1v1l-1,1h-1v7l-1,1h-3v1h3v-1l1-1h3v-1l1-1h1v-1h-1l-1-1v-1l1-1h1v-1l1-1h1v-1l1-1h1v-1l1-1h3v-1l1-1h1v-3h-1l-1-1v-3h-3v1l-1,1h-1l-1-1v-1zM1092,582v1l-1,1h-1v1l-1,1h-1v1l-1,1h-1v5l-1,1h-1v3h1l1,1v1h3v-1l1-1h1v-1l1-1h3l1,1v1h1l1,1v1l-1,1h-1v1l-1,1h-3v1h3v-1l1-1h1v-1l1-1h3v-1h-3l-1-1v-1l1-1h1v-1l1-1h3v-3h-1l-1-1v-1l1-1h1v-3h-1v1l-1,1h-5v1l-1,1h-3l-1-1v-1l1-1h1v-1l1-1h1v-1zM1089,592l1-1h1l1,1v3l-1,1h-3l-1-1v-1l1-1h1zM1089,588l1-1h1l1,1v1l-1,1h-1l-1-1zM1162,574v3l-1,1h-1v1l-1,1h-5v5l-1,1h-1v1h1v-1l1-1h3l1,1v1l-1,1h-1v1h7v-1l1-1h3v-7h-1l-1-1v-5zM1048,574v1l-1,1h-3v1l-1,1h-3v1l-1,1h-3v1l-1,1h-1v1l-1,1h-1v7h13v-3l1-1h1v-1l1-1h1v-1l1-1h1v-3h-3l-1-1v-1l1-1h1v-1l1-1h1v-1zM1072,568v1l-1,1h-1v1l-1,1h-1v1h3v-1l1-1h1v-1l1-1h1v-1zM690,568v5h1l1,1v3h1v-1l1-1h3v-1h-1l-1-1v-5zM1078,554v1h1l1,1v3h1l1,1v1l-1,1h-1v1h1v-1l1-1h3v-1h-1l-1-1v-5zM456,550v3h3v-1l1-1h1v-1zM1164,548v3l-1,1h-1v5l-1,1h-1v3l-1,1h-1v1h5l1,1v1h3l1,1v1h3v-5l1-1h1v-5h-7l-1-1v-1l1-1h3v-1l1-1h1v-1h-5l-1-1v-1zM1032,548v1h3v-1zM996,542v1l-1,1h-3v3h1l1,1v1l-1,1h-1v1h5v-1l1-1h1v-1l1-1h1v-1l1-1h1v-1l1-1h3v-1h-3v1l-1,1h-1l-1-1v-1zM1122,536v1h3v-1zM1150,532v3l-1,1h-1v1h1l1,1v1h5l1,1v3h5v-1h-1l-1-1v-3h-1l-1-1v-1h-1l-1-1v-3zM1140,524v3l-1,1h-1v1l-1,1h-3v1l-1,1h-1v1h5l1,1v1l-1,1h-1v3h1v-1l1-1h1l1,1v3l-1,1h-3v1l-1,1h-5v1l-1,1h-1v7h1v-1l1-1h1v-3l1-1h5v-3l1-1h1l1,1v9h7v-1h-5l-1-1v-1l1-1h1v-3l1-1h3v-5h-1l-1-1v-1h-3l-1-1v-5l1-1h5v-1h-5l-1-1v-1l1-1h1v-3zM1146,522v3h3v-3zM1182,520v1h3v-1zM1036,514v1l-1,1h-1v1l-1,1h-1l-1-1v-1h-5v1l-1,1h-1l-1-1v-1h-5v1l-1,1h-1v5l-1,1h-5l-1-1v-1l1-1h1v-3h-3v1l-1,1h-1v1l-1,1h-3v1l-1,1h-1v1l-1,1h-1v1h3l1,1v3h5l1,1v1h1l1,1v3h1l1,1v1h1v-3l1-1h1v-5l1-1h3v-1l1-1h5v-1l1-1h1v-1l1-1h3l1,1v3l-1,1h-3v1l-1,1h-1v1l-1,1h-1v1l-1,1h-1v1l-1,1h-1v1h1l1,1v1l-1,1h-1v1l-1,1h-5v3h1l1,1v3l-1,1h-3v1l-1,1h-1v1l-1,1h-1v3h1v-1l1-1h3v-1l1-1h1v-3l1-1h3v-1l1-1h1v-1l1-1h3v-5l1-1h1v-1l1-1h1v-3l1-1h1l1,1v1h1v-1l1-1h3v-3h-1l-1-1v-5h-1l-1-1v-1l1-1h1v-1l1-1h1v-5zM1007,524l1-1h1l1,1v1l-1,1h-1l-1-1zM768,504v1h3v-1zM784,470v1l-1,1h-3v5h1v-1l1-1h3v-1l1-1h1v-1h-1l-1-1v-1zM764,450v1l-1,1h-1v1h1v-1l1-1h3v-1zM1206,448v3l-1,1h-1l-1-1v-1h-1v1l-1,1h-3v1l-1,1h-1l-1-1v-1h-5v1l-1,1h-1v1l-1,1h-1v1l-1,1h-1v5l-1,1h-1v1l-1,1h-1v1l-1,1h-1v7l-1,1h-1v1h9v-1l1-1h3l1,1v1h1l1,1v1h3l1,1v1h1l1,1v1l-1,1h-1v1l-1,1h-3l-1-1v-1h-1v1l-1,1h-1v1l-1,1h-5v1h1l1,1v3h1l1,1v1h5l1,1v3h1l1,1v3l-1,1h-1l-1-1v-1h-1v1h1l1,1v3l-1,1h-5v1l-1,1h-1v3h1l1,1v1h1l1,1v1h1l1,1v1l-1,1h-1v15l-1,1h-1v1l-1,1h-1v1l-1,1h-1v1h3l1,1v7h3v-1l1-1h9v-1l1-1h1l1,1v1h3v-1h-1l-1-1v-1h-1l-1-1v-3l1-1h1l1,1v1h1l1,1v1h1v-1l1-1h1v-1l1-1h3v-3l1-1h3v-1l1-1h1v-1h-1l-1-1v-1l1-1h1v-5h-3v1l-1,1h-1l-1-1v-1h-1v1l-1,1h-1l-1-1v-3l1-1h1v-3l1-1h3l1,1v1h1l1,1v1h3v-3h-1l-1-1v-3l1-1h1v-5l1-1h1v-3h-3l-1-1v-1h-3v1l-1,1h-5l-1-1v-1l1-1h1v-1h-1l-1-1v-1h-1l-1-1v-1h-1l-1-1v-1h-3l-1-1v-3l1-1h3l1,1v1h1l1,1v1h1v-3h-3l-1-1v-3l1-1h1l1,1v1h1v-1l1-1h5l1,1v3l-1,1h-1v1h1l1,1v5h3l1,1v1h3l1,1v1h1v-1l1-1h1v-9l1-1h3v-3h-1v1l-1,1h-3l-1-1v-1h-1l-1-1v-3h-1l-1-1v-3h-1l-1-1v-1h-1l-1-1v-1l1-1h5v-1l1-1h1l1,1v1h3l1,1v1h1v-1l1-1h1v-1l1-1h1l-2-2v-5h-1l-1-1v-1l1-1h1v-3h-1l-1-1v-3h-5l-1-1v-3h-15l-1-1v-1zM1191,514l1-1h1l1,1v1l-1,1h-1l-1-1zM1189,512l1-1h1l1,1v1l-1,1h-1l-1-1zM1195,504l1-1h5l1,1v3l-1,1h-1v1h1l1,1v3l-1,1h-5l-1-1zM1217,490l1-1h5l1,1v1l-1,1h-1v1l-1,1h-1l-1-1v-1h-1l-1-1zM1215,476l1-1h1l1,1v3l-1,1h-1l-1-1zM1193,466l1-1h5l1,1v1l-1,1h-5l-1-1zM890,440v3h5v-3zM884,438v3l-1,1h-1v1l-1,1h-1v1h5v-1l1-1h1v-3h-1l-1-1v-1zM1222,434v1h1l1,1v3h1l1,1v1h1l1,1v1h1v-5l1-1h1v-1h-1l-1-1v-1zM788,428v1l-1,1h-7v1h7v-1l1-1h1v-1zM790,414v3h5v-1l1-1h1v-1zM884,412v1l-1,1h-1v1l-1,1h-1v1l-1,1h-1v3h3l1,1v1h1v-3l1-1h3v-3l1-1h1v-1h-1l-1-1v-1zM880,402v1l-1,1h-3v1l-1,1h-1v1l-1,1h-1v1h1l1,1v3h1v-1l1-1h5v-1l1-1h1v-1l1-1h1v-5zM858,400v1l-1,1h-3v1l-1,1h-1v3h3l1,1v1h1l1,1v3h3v-3l1-1h1v-3l1-1h1v-1l1-1h1v-3h-3v1l-1,1h-3l-1-1v-1zM857,402l1-1h1l1,1v1l-1,1h-1l-1-1zM898,394v1l-1,1h-1v1l-1,1h-1v1l-1,1h-1v1h1v-1l1-1h3v-1l1-1h1v-3zM486,390v3h3v-3zM858,386v1l-1,1h-3v1h5l1,1v3h3v-1l1-1h1l1,1v1h1v-3h-3v1l-1,1h-1l-1-1v-5zM878,380v1l-1,1h-1v1l-1,1h-3v1l-1,1h-1v1h5v-1l1-1h1v-1l1-1h1v-1l1-1h1v-1zM828,376v1l-1,1h-3v1l-1,1h-3v3h1l1,1v3l-1,1h-1v1l-1,1h-1v1l-1,1h-1v1l-1,1h-1v1l-1,1h-3v3l-1,1h-3l-1-1v-1h-1v1l-1,1h-5l-1-1v-1l1-1h1v-1l1-1h1v-1l1-1h5v-1l1-1h1v-3l1-1h1v-1h-1v1l-1,1h-3v1l-1,1h-1v1l-1,1h-3v1l-1,1h-1v3l-1,1h-1v1h1l1,1v3h11l1,1v3l-1,1h-5v1l-1,1h-1v1l-1,1h-1v1h1l1,1v1h1l1,1v1h5v-1l1-1h1v-1l1-1h3v-1l1-1h1v-1l1-1h3l1,1v3h7l1,1v1l-1,1h-1v3l-1,1h-1v1h1l1,1v1l-1,1h-1v3l-1,1h-1v1h1l1,1v1l-1,1h-3v1h1l1,1v1h1v-1l1-1h11v-1l1-1h1l1,1v1h3l1,1v1l-1,1h-3v1l-1,1h-1v5l-1,1h-1v1l-1,1h-1v1l-1,1h-1v1l-1,1h-3v1h3v-1l1-1h3l1,1v3h5v-1l1-1h1v-1l1-1h1v-1l1-1h1v-9l1-1h5v-3l1-1h1v-1l1-1h3v-1l1-1h1v-1h-1l-1-1v-1h-3l-1-1v-1h-3v1l-1,1h-1v1l-1,1h-1v1l-1,1h-3l-1-1v-1l1-1h1v-3l1-1h3v-1l1-1h1v-5h-3l-1-1v-1h-1l-1-1v-1h-1l-1-1v-1h-3l-1-1v-3l1-1h1v-5h-7v1l-1,1h-1l-1-1v-1h-1l-1-1v-1h-1v1l-1,1h-3l-1-1v-3l1-1h1v-1l1-1h7v-1l1-1h1v-1l1-1h1v-1l1-1h1v-1l1-1h1v-1h-11l-1-1v-1l1-1h1v-1l1-1h1v-3zM849,428l1-1h3l1,1v1l-1,1h-3l-1-1zM827,400l1-1h1l1,1v1l-1,1h-1l-1-1zM817,398l1-1h1l1,1v1h1l1,1v1l-1,1h-1v1l-1,1h-1l-1-1zM814,374v1l-1,1h-1v1l-1,1h-3v3h5v-1l1-1h3v-1l1-1h1v-1l1-1h1v-1zM482,374v3h1l1,1v3h3v-3h-3l-1-1v-3zM864,370v1l-1,1h-1v1h3v-3zM820,362v1l-1,1h-1v1l-1,1h-3v1l-1,1h-1v1h5v-1l1-1h1v-1l1-1h1v-1l1-1h1v-1zM858,356v1l-1,1h-3v1l-1,1h-1v1h1v-1l1-1h3v-1l1-1h3v-1zM864,268v1l-1,1h-1v5h5v-1l1-1h9v-3h-3l-1-1v-1zM884,266v3h1v-3zM88,230v1l-1,1h-1v1l-1,1h-1v3l-1,1h-3v1h1l1,1v5h1l1,1v5h1l1,1v1h1v-5l1-1h1v-1l1-1h1v-3l1-1h1v-1l1-1h3v-3l1-1h1v-3h-1l-1-1v-1zM92,202v1l-1,1h-1v3l-1,1h-1v7h1l1,1v1h1l1,1v1h7l1,1v1h1v-1l1-1h1v-5h-1l-1-1v-3l1-1h5v-1l1-1h1v-3h-1l-1-1v-1h-1v1l-1,1h-1v1l-1,1h-7l-1-1v-1h-1l-1-1v-1zM112,130v5l-1,1h-9v3l-1,1h-5v3l-1,1h-1v3h1l1,1v3h1l1,1v3l-1,1h-1v1h3l1,1v3h1l1,1v1h1l1,1v1h1l1,1v3h1l1,1v3h1l1,1v1h1l1,1v1l-1,1h-1v5h5v-1l1-1h5v-5l1-1h1v-1l1-1h1l1,1v1h1v-5l1-1h1v-3l1-1h3v-1l1-1h1v-3h-1l-1-1v-1h-1l-1-1v-7l1-1h1v-1l1-1h1v-1l1-1h1v-7h-3l-1-1v-1h-1l-1-1v-3h-5l-1-1v-1h-5v1l-1,1h-1l-1-1v-1zM125,146l1-1h1l1,1v5l-1,1h-1v3l-1,1h-3v1l-1,1h-1l-1-1v-3h-1l-1-1v-3l1-1h5v-1l1-1h1zM109,142l1-1h1l1,1v1l-1,1h-1l-1-1zM107,138l1-1h1l1,1v1l-1,1h-1l-1-1zM100,128v3l-1,1h-5v1h1l1,1v1h3v-3l1-1h3v-3zM172,126v1l-1,1h-1v1h1l1,1v7l-1,1h-1v19h1l1,1v5l-1,1h-1v1h1l1,1v1h1v-1l1-1h1v-5l1-1h5l1,1v1h3v-1l1-1h1v-1l1-1h3v-3h-1l-1-1v-1h-1l-1-1v-1h-1l-1-1v-1h-1l-1-1v-3h-1l-1-1v-1h-5l-1-1v-1h-1l-1-1v-1l1-1h1v-1l1-1h3l1,1v1h1l1,1v1h1v-1l1-1h1v-3l1-1h1v-1l1-1h1v-3l1-1h1v-1h-3v1l-1,1h-7l-1-1v-1zM102,120v1h1l1,1v1h1l1,1v1h1l1,1v3h1v-3l1-1h1v-1h-5l-1-1v-3zM128,118v3h1v-3z"/>
<path fill="#6464ff" fill-rule="evenodd" d="M732,808v1l-1,1h-1v5h3v-1l1-1h1v-1l1-1h1v-1h-1l-1-1v-1zM956,768v1l-1,1h-1v1l-1,1h-1v1l-1,1h-3v1h1l1,1v3h3l1,1v1h1l1,1h2l1-1v-3l1-1h3v-1h-1l-1-1v-3h-1l-1-1v-3zM574,760v5l-1,1h-1v3l-1,1h-1v5h1l1,1v1h1l1,1v1h1l1,1v1h1l1,1v3h1l1,1v1h5v-7l1-1h1v-15h-1l-1-1v-1h-5l-1-1v-1zM968,748v3l-1,1h-1v5l-1,1h-1v3l-1,1h-1v5h1l1,1v1h1l1,1v1h1v-1l1-1h1l1,1v1h3v-1l1-1h5l1,1v1h3l1,1v1h3l1,1v1h9v-1l1-1h7l1,1v1h1l1,1v1h1l1,1v1h1l1,1v1h7v-7l1-1h1v-1l1-1h1v-5l1-1h1v-1l1-1h1v-1h-3l-1-1v-1h-5l-1-1v-1h-3l-1-1v-1h-3l-1-1v-1h-1v1l-1,1h-3v1l-1,1h-1l-1-1v-1h-1v1l-1,1h-7l-1-1v-1h-5v1l-1,1h-5l-1-1v-1h-3l-1-1v-1h-1l-1-1v-5zM598,734v1l-1,1h-3v1l-1,1h-7v5h1l1,1v5h1l1,1v3h3v-3h-1l-1-1v-1l1-1h1v-1l1-1h1v-1h-1v1l-1,1h-3l-1-1v-3l1-1h9v-3l1-1h1v-1h-1l-1-1v-1zM744,714v1l-1,1h-7v3l-1,1h-13l-1-1v-1h-9v7l-1,1h-3v3l-1,1h-1l-1-1v-1h-3v1l-1,1h-1l-1-1v-1h-1v1l-1,1h-9v3l-1,1h-1l-1-1v-1h-3v1l-1,1h-3v3l-1,1h-1v1l-1,1h-1v3l-1,1h-1v3l-1,1h-1v1l-1,1h-17v1l-1,1h-3v1l-1,1h-1v1l-1,1h-3v1l-1,1h-3v7h1l1,1v1h1l1,1v1h1l1,1v1h3l1,1v1h1l1,1v1h29v-1l1-1h1v-1l1-1h1l1,1v1h1v-1l1-1h5v-1l1-1h3l1,1v1h5v-1l1-1h1v-5l1-1h1v-3l1-1h1v-1l1-1h1v-1l1-1h7v-1l1-1h1v-3h-3v1l-1,1h-1l-1-1v-1h-1l-1-1v-11l1-1h3v-1l1-1h3l1,1v1h5v-1l1-1h1v-1l1-1h3v-1l1-1h1l1,1v1h7v-3l1-1h1v-3l1-1h1v-1l1-1h1v-3h-1l-1-1v-5zM996,712v1l-1,1h-5v1l-1,1h-1v1l-1,1h-1v3l-1,1h-1v1l-1,1h-1v1l-1,1h-1v5h5v-1l1-1h5l1,1v1h7v-3l1-1h1v-13h-1l-1-1v-1zM628,708v1l-1,1h-7v11h1l1,1v1h5l1,1v1h1l1,1v9h1l1,1v1h1l1,1v1h3l1,1v1h1v-1l1-1h3l1,1v1h5v-11h-1l-1-1v-1h-3l-1-1v-1h-1l-1-1v-1h-3l-1-1v-1h-1l-1-1v-1h-1l-1-1v-11zM880,704v1l-1,1h-3v1l-1,1h-3v3h3l1,1v1h3v-1l1-1h1v-1l1-1h1v-3h-1l-1-1v-1zM620,694v1l-1,1h-5v1l-1,1h-3v1l-1,1h-1v5h1l1,1v1h5v-1l1-1h3v-1l1-1h3v-1l1-1h3l1,1v1h1v-1l1-1h1v-1h-1l-1-1v-3h-5l-1-1v-1zM646,688v1l-1,1h-1v1h3l1,1v1h5v-3h-1l-1-1v-1zM894,676v1l-1,1h-1v1h3v-1l1-1h1v-1zM1124,648v1l-1,1h-1v5h3v-1l1-1h1v-5zM738,640v3h3v-3zM1126,636v1l-1,1h-1v1h1l1,1v1h1v-3l1-1h1v-1zM1190,536v3l-1,1h-1v5h5v-7h-1l-1-1v-1zM1196,526v3h1l1,1v3h5v-3l1-1h1v-1h-1l-1-1v-1zM1198,520v3h1v-3zM840,420v1l-1,1h-1v1h1l1,1v3h1v-1l1-1h1v-3h-1l-1-1v-1zM822,402v3h1l1,1v1h1l1,1v1h1l1,1v1h5v-1h-1l-1-1v-1h-1l-1-1v-1h-1l-1-1v-1h-1l-1-1v-1zM178,146v3l-1,1h-1v3h3l1,1v3h1l1,1v1h3v-1l1-1h1v-1l1-1h1v-1h-1l-1-1v-1h-1l-1-1v-1h-1l-1-1v-3z"/>
<path fill="#8080ff" fill-rule="evenodd" d="M670,768v1h3v-1zM580,766v3l-1,1h-1l-1-1v-1h-1v3h1l1,1v3h1l1,1v5h3v-3l1-1h1v-7h-1l-1-1v-1h-1l-1-1v-1zM674,762v3h1v-3zM986,758v1l-1,1h-1v1h1v-1l1-1h3l1,1v3l-1,1h-5v3h3l1,1v1h1v-1l1-1h5l1,1v1l-1,1h-1v1h5v-3l1-1h1l1,1v1h1l1,1v1h3v-1l1-1h3l1,1v1h1v-3l1-1h1l1,1v1h1v-3h-7l-1-1v-1h-3v1l-1,1h-9l-1-1v-1h-1l-1-1v-1h-1l-1-1v-1h-1l-1-1v-1zM690,756v1l-1,1h-3v3h1l1,1v1l-1,1h-5v1h1l1,1v1h1v-1l1-1h1v-1l1-1h1l1,1v3h3v-1l1-1h1l1,1v1h3v-5h-1l-1-1v-5h-1v1l-1,1h-1l-1-1v-1zM654,752v1l-1,1h-3v1l-1,1h-3v1l-1,1h-3v1l-1,1h-1v5h1l1,1v1h3l1,1v1h3l1,1v1h1l1,1v1h1v-1l1-1h5v-3l1-1h1v-7h-3l-1-1v-1l1-1h1v-3h-1l-1-1v-1zM702,736v1l-1,1h-3v1l-1,1h-5v3h1l1,1v1h3l1,1v3h5v-3l1-1h1v-5h-1l-1-1v-3zM696,732v1h3v-1zM988,722v1l-1,1h-1v3h9v-3h-3l-1-1v-1zM720,722v1l-1,1h-1v1h1l1,1v1h1v-5zM622,714v1h1l1,1v1h1v-3z"/>
</g>
<g fill="none" stroke="#000" stroke-width="1" stroke-linejoin="round" shape-rendering="crispEdges">
<path d="M97.2,113.8 110.2,121.3 127.8,130.1 132.8,125.1 140.3,115 142.8,107.5 200.4,123 262.3,138.1 283.1,142.6 352,155.6 447.2,170.9 538.6,180.7 602.5,184.4 685.2,187.2 729.1,187.2 729.1,175.2 736.6,175.9 740.3,195.2 749.1,196.5 759.1,201.5 766.6,199 776.7,197.7 784.2,201.5 791.7,209 799.2,206.5 811.7,215.2 821.8,210.2 834.3,212.7 844.3,214.7 853.1,215.2 839.3,222.8 826.8,230.3 814.2,242.8 804.2,252.8 796.7,259.1 809.2,255.3 821.8,250.3 829.3,247.8 834.3,246.6 831.8,255.3 828,260.3 834.3,259.1 840.5,262.8 844.3,256.6 854.3,252.8 864.3,246.6 871.9,240.3 879.4,231.5 889.4,228.5 893.9,230.3 889.4,236.5 883.1,242.8 879.4,251.6 884.4,247.3 894.4,249.1 901.9,256.6 909.4,259.1 919.5,257.8 929.5,251.6 942,249.1 955.8,244.8 955.8,253.3 964.6,254.1 973.3,251.1 975.8,260.3 982.1,265.4 992.1,264.1 993.4,267.9 984.6,269.9 969.6,269.1 964.6,272.9 954.5,268.4 944.5,270.4 934.5,275.4 927,280.4 922,286.6 919.5,279.1 914.4,277.9 913.2,285.4 908.2,297.9 901.9,302.9 899.4,310.4 895.7,320.5 898.2,323 904.4,313 911.9,300.4 917,296.7 914.4,307.9 908.2,320.5 905.7,335.5 904.4,350 901.9,362.5 904.4,375.1 906.9,390.1 910.7,402.6 915.7,413.9 922,415.6 930.7,410.1 937,400.1 941.5,385.1 940.8,370 935.7,357.5 931.5,350 933.2,335.5 934.5,320.5 937,313 944.5,306.7 948.3,297.9 950.8,307.9 953.3,300.4 954.5,291.7 958.3,282.9 962,278.4 969.6,280.9 979.6,284.1 992.1,285.9 999.6,294.2 1003.4,307.9 1002.1,323 995.9,330.5 992.1,334.2 993.4,341.8 998.4,340.5 1003.4,331.7 1013.4,326.2 1020.9,331.7 1024.7,343 1026.4,350 1029.7,360 1028.4,370 1023.4,372.5 1020.9,380.1 1017.2,387.6 1014.7,397.6 1013.4,401.9 1022.2,406.4 1029.7,408.9 1039.7,406.4 1056,401.4 1068,390.1 1080.6,383.8 1095.6,372.5 1105.6,360 1113.1,352.5 1106.9,338 1113.1,333 1128.2,329.2 1143.2,330.5 1155.7,328 1163.2,321.7 1170.8,315.5 1168.2,307.9 1163.2,302.9 1164.5,295.4 1170.8,290.4 1174.5,282.9 1180.8,271.6 1189.5,262.8 1203.3,259.6 1224.6,254.6 1243.4,249.6 1264.7,244.8 1266,236.5 1272.2,232.8 1277.2,229 1282.2,220.3 1281.5,200.2 1284.7,182.7 1289.8,165.1 1293.5,153.9 1299.8,160.1 1306,156.4 1314.8,151.4 1322.3,153.9 1328.6,158.9 1333.6,175.2 1339.9,192.7 1341.1,200.2 1349.9,202.7 1352.4,211.5 1361.2,216.5 1366.7,221.5 1362.4,227.8 1353.6,232.8 1346.1,240.3 1341.1,250.3 1333.6,255.3 1326.1,260.3 1316.1,267.9 1306,275.4 1303.5,285.4 1299.8,297.9 1298.5,302.9 1301,307.9 1304.8,314.2 1302.3,320.5 1303.5,325.5 1311,334.2 1318.6,338 1324.8,334.2 1323.6,328 1319.8,326.7 1326.1,328 1329.8,335.5 1331.1,343 1327.3,344.3 1318.6,344.3 1313.6,350 1320,350 1312,360 1302,355 1296,359 1290,365 1289,370 1284,375 1276,382 1268,388 1260,393 1253,396 1245,398 1243,400 1244,406 1245.6,415 1246.2,420 1245.2,426 1243.2,434 1239.2,443 1235.2,452 1232.2,455 1231.2,460 1230.2,464 1232.7,469 1233.2,476 1231.7,484 1230.2,490 1227.2,498 1225.2,505 1223.6,512 1222.6,520 1222.1,525.4 1223.4,530.4 1225.9,536.6 1233.4,547.9 1239.6,557.9 1243.4,568 1244.7,575.5 1238.4,583 1230.9,590.5 1225.9,600 1223.4,600 1208.3,605 1195.8,615 1189.5,625.1 1190.3,632.6 1178.3,635.1 1168.2,642.6 1163.2,652.6 1160.7,660.1 1153.2,667.6 1145.7,675.2 1138.2,682.7 1128.2,692.7 1123.1,702.7 1116.9,712.7 1113.1,725.3 1111.9,740.3 1113.1,750.3 1116.9,760.3 1119.4,770.4 1128.2,785.4 1138.2,802.9 1147,815.5 1149.5,820.5 1153.2,830.5 1159.5,843 1163.2,850 1165.5,850.7 1171.7,863.2 1175.5,873.3 1176.7,898.3 1176.7,910.8 1173,920.9 1165.5,930.9 1155.4,925.9 1150.4,920.9 1142.9,908.3 1132.9,903.3 1125.4,895.8 1120.4,888.3 1112.8,885.8 1110.3,878.3 1105.3,868.3 1097.8,858.2 1092.8,853.2 1087.8,845.7 1086.5,835.7 1089,825.7 1087.8,815.6 1080.3,806.9 1072.8,800.6 1062.7,790.6 1050.2,781.8 1040.2,780.6 1035.2,788.1 1022.7,795.6 1012.6,796.9 1006.4,791.8 1000.1,783.1 987.6,779.3 975.1,778.1 962.5,779.3 950,781.8 944.5,780.4 937,779.1 933.2,772.9 929.5,779.1 924.5,784.1 917,784.9 904.4,785.4 896.9,786.6 889.4,792.9 894.4,800.4 901.9,800.4 904.4,807.9 901.9,818 894.4,818 889.4,810.4 884.4,818 876.9,815.5 869.4,820.5 856.8,828 849.3,823 844.3,820.5 839.3,813 829.3,815.5 821.8,810.4 814.2,813 804.2,814.2 791.7,811.7 779.2,810.4 771.6,811.7 755.7,816.9 743.2,820.7 733.2,830.7 720.6,840.7 708.1,848.2 695.6,853.2 685.6,860.7 678,870.8 673,883.3 670.5,898.3 673,910.8 675.5,923.4 676.8,932.1 670.5,935.9 663,932.1 650.5,928.4 638,923.4 627.9,918.4 620.4,915.9 615.4,905.8 611.7,895.8 609.2,883.3 607.9,877 600.4,870.8 592.9,860.7 586.6,850.7 582.8,838.2 577.8,828.2 570.3,818.1 560.3,808.1 550.3,805.6 535.2,801.9 525.2,804.4 520.2,813.1 515.2,823.2 507.7,828.2 497.7,823.2 485.1,815.6 475.1,805.6 468.9,793.1 466.3,778.1 457.6,765.5 447.6,755.5 440,748 434.7,742.8 427.2,732.8 422.1,722.8 378.3,724.5 377.1,736.5 352,735.3 298.1,727.8 204.2,673.9 205.4,665.6 142.8,658.9 141.6,652.6 139,642.6 130.3,625.1 120.3,612.5 117.8,605 107.7,600 92.7,581.7 77.7,578 67.6,570.5 71.4,557.9 67.6,545.4 58.9,527.9 52.6,512.8 52.6,500.3 60.1,490.3 50.1,480.3 46.3,467.8 47.6,455.2 41.3,442.7 35.1,427.7 30.1,412.6 32.6,395.1 31.3,380.1 27.6,367.5 28.8,360 37.6,350 40.1,340.5 43.8,325.5 45.6,313 46.3,300.4 48.9,286.6 57.6,272.9 67.6,255.3 75.2,235.3 82.7,220.3 87.7,205.2 91.4,183.9 92.7,175.2 96,160.1 96.5,150.1 94,132.6 94.7,122.5ZM859.8,217.2 866.8,211.5 875.6,207.2 871.9,212.7 864.3,219ZM83.9,619.5 87.7,618.8 88.9,623.8 85.7,623ZM110.2,618.8 115.2,620 119,626.3 114,625.1ZM107.2,632.1 110.2,633.8 113.2,641.3 109.7,640.1ZM70.1,589.3 82.7,591 95.2,596.8 82.7,595.5ZM1132.9,944.7 1140.4,938.4 1147.9,937.2 1142.9,943.4 1135.4,947.2ZM1151.7,937.2 1157.9,933.9 1158.4,935.9 1152.4,939.2ZM1160.4,932.1 1166.7,927.1 1168,928.9 1162,933.9ZM130.1,115 137.1,113 140.1,117 139.1,123 133.1,124 130.1,120ZM136.1,104.5 138.6,104.5 138.6,107.5 136.1,107.5Z"/>
<path d="M91.4,184.7 107.7,191.4 114,200.2 115.2,210.2 125.3,215.7 137.8,215.2 147.8,220.8 162.8,222.8 180.4,222 200.4,223.3 244.3,232M262.3,138.1 244.3,232M283.1,142.6 276.8,175.2 280.6,192.7 290.6,207.7 305.7,224 299.4,245.3 294.4,252.8 298.1,260.3 306.9,256.6 310.7,265.4 314.4,285.4 320.7,292.9 324.4,301.7 338.2,299.2 352,300.4 355.8,300.4 359.5,296.7 363.3,300.4 364.5,304.2M244.3,232 250.5,247.8 240.5,262.8 230.5,275.4 225.5,285.4 230.5,290.4 215.5,350 214.2,357.5M45.6,313 142.8,341.8 175.4,350 214.2,357.5 283.1,373.8 352,385.1 354.5,385.6M368.3,289.7 364.5,304.2 359.5,350 354.5,385.6 352,417.6M368.3,289.7 527.4,307.9M538.6,180.7 530.4,278.4 527.4,307.9 524.9,350 522.4,373 516.1,437.2M530.4,278.4 622.6,284.9 698.5,286.6M685.2,187.2 687.7,205.2 692.7,230.3 694,250.3 697.7,272.9 698.5,286.6 692.7,296.7 699,304.2 700.7,350 701.5,365 697.7,366.3 697.2,377.6 699,390.1 704,407.6M352,417.6 395.8,424.7 516.1,437.2 564.5,441.4M395.8,424.7 378.3,554.2M564.5,441.4 563.2,473.5 556.9,571M253,532.9 352,549.2 378.3,554.2 532.4,570 556.9,571 704,576.2 747.1,576.2M283.1,373.8 248,557.9M142.8,341.8 120.3,435.2 224.2,591.8M248,557.9 241.8,563 238,557.9 228,557.9 224.2,591.8 228,605 233,617.5 220.5,625.1 218,632.6 211.7,647.6 213,663.9 205.4,665.6M378.3,554.2 354.5,735.3M522.4,373 651.4,380.1 662.7,387.6 677.7,385.1 690.2,390.1 697.7,395.1 704,407.6 709,422.7 714,440.2 717.8,459 724,472.8 731.6,480.3 737.8,486.5 734.1,492.8 741.6,502.8 746.1,506.6 747.1,576.2 747.8,591.8 749.1,600 751.6,685.2M563.2,473.5 704,478.3 725.3,478.3M532.4,570 530.4,585.5 518.6,730.8M530.4,585.5 607.5,590 606.3,652.6 615.1,658.9 622.6,657.6 627.6,665.1 640.1,666.4 652.6,668.9 660.2,675.2 670.2,673.9 677.7,680.2 687.7,675.2 697.7,680.2 704,681.4 714,677.7 731.6,675.2 741.6,682.7 751.6,685.2 763.6,687.7M422.1,722.8 518.6,730.8M763.6,687.7 764.9,704.7 765.4,735.3 769.1,745.3 776.7,760.3 779.2,775.4 775.4,792.9 771.6,811.7M764.9,704.7 840.5,702.7M701.5,365 704,365 821.8,362M717.8,459.7 815.5,457 821.8,462.7M747.8,591.8 861.8,588 864.3,594.3 863.1,600 856.8,607.5 866.8,608.8 874.4,607.5M796.7,259.1 794.2,262.8 793.7,280.4 782.9,290.4 781.7,297.9 786.7,302.9 784.2,318 789.2,325.5 804.2,335.5 819.2,350 825.5,365 824.3,375.1 831.8,387.6 838.5,393.1 846.8,400.1 850.6,410.1 846.8,420.1 839.3,425.2 831.8,430.2 830.5,437.7 833,450.2 826.8,457.7 821.8,462.7 824.3,480.3 831.8,490.3 840.5,500.3 846.8,510.3 855.6,510.3 856.8,517.9 853.1,525.4 856.8,535.4 866.8,542.9 875.6,550.4 878.1,563 883.1,570.5 888.1,575.5 885.6,585.5 879.4,588 876.9,600 874.4,607.5 866.8,617.5 864.3,625.1 863.1,635.1 856.8,645.1 854.3,650.1 851.8,660.1 844.3,670.1 840.5,685.2 841.8,702.7 844.3,712.7 849.3,722.8 843,732.8 839.3,742.8 834.3,755.3 832.3,767.4 883.9,765.4 885.6,775.4 890.6,790.4 894.4,797.9M839.3,262.8 864.3,272.9 884.4,277.9 894.4,287.9 896.9,297.9 901.9,302.9M838.5,393.1 905.7,389.3M915.7,413.9 919.5,475.3 922,500.3 924,510.3 917,522.9 913.2,535.4 911.9,542.9M930.7,410.1 979.6,405.6 1013.4,401.9M979.6,405.6 988.4,491.6M883.1,570.5 889.4,564.2 899.4,563 904.4,565.5 901.9,555.4 909.4,550.4 911.9,542.9 922,536.6 934.5,537.9 944.5,535.4 952,527.9 957,525.4 964.6,530.4 969.6,520.4 975.8,512.8 974.6,505.3 982.1,502.8 989.6,500.3 988.4,491.6 999.6,492.8 1004.6,497.8 1017.2,501.6 1024.7,500.3 1034.7,500.3 1039.7,497.8 1049.7,499.1 1053,500.3 1058,486.5 1065.5,480.3 1070.5,470.3 1079.3,462.7 1085.6,432.7 1084.3,427.7 1081.8,400.1M1039.7,497.8 1047.2,512.8 1056,525.4 1065.5,534.1 1053,544.2 1027.2,569.2M879.4,588 917,584.2 917,578.5 1027.2,569.2 1056,565.5 1078.1,561.7 1223.4,536.6M863.1,635.8 917,632.6 984.6,626.3 1017.2,621.3 1056,617.5 1053,615M1078.1,561.7 1079.3,570.5 1068,578 1058,585.5 1053,588 1039.7,600 1029.7,605 1018.4,612.5 1017.2,621.3M1053,615 1068,607.5 1103.1,605.5 1110.6,613.8 1139.4,611.3 1173.3,633.8M1053,615 1053,635.1 1060.5,637.6 1073,652.6 1088.1,665.1 1100.6,677.7 1106.9,690.2 1115.6,701.5 1121.9,702.7M917,632.6 918.2,725.3 922,782.9M984.6,626.3 999.6,677.7 1009.7,710.2 1010.9,735.3 1014.7,753.3 1019.7,761.6M940.8,779.1 943.3,760.3 1014.7,753.3M1019.7,761.6 1056,759.1 1093.1,757.3 1095.6,762.8 1099.3,760.3 1098.1,749.1 1113.1,750.3M1079.8,385.1 1090.6,456.5 1118.1,451.5 1205.8,435.2 1210.8,430.2M1205.8,435.2 1215.8,474 1232.1,472.8M1118.1,451.5 1119.4,467.8 1133.2,452.7 1145.7,449 1155.7,449 1162,457.7 1173.3,464 1180.8,467.8 1178.3,482.8 1188.3,490.3 1203.3,497.8M1162,457.7 1145.7,456.5 1143.2,470.3 1133.2,480.3 1128.2,492.8 1119.4,490.3 1115.6,505.3 1108.1,525.4 1093.1,535.4 1078.1,541.7 1065.5,534.1M1095.6,372.5 1096.8,380.1 1200.8,361.3M1200.8,361.3 1210.8,371.3 1218.4,375.1 1214.6,387.6 1215.8,402.6 1228.4,415.1 1223.4,422.7 1213.3,430.2 1210.8,430.2M1218.4,375.1 1240.9,382.6M1243.4,324.2 1244.7,350 1248.4,375.1 1240.9,382.6M1224.6,254.6 1228.4,275.4 1233.4,297.9 1238.4,305.4 1243.4,324.2M1264.7,244.8 1266,255.3 1258.4,270.4 1259.7,295.4 1258.4,315.5 1260.9,320.5M1272.2,232.8 1296,300.4 1299.8,300.4M1243.4,324.2 1260.9,320.5 1291,314.2 1299.8,307.9M1243.4,348 1286,339.3 1303.5,335.5M1286,339.3 1287.2,370"/>
<path d="M1213.1,430 1212.1,438 1216.1,444 1222.1,447.1 1230.2,447.1 1232.2,454.1M1207.6,438 1209.1,446.1 1218.1,453.1 1224.1,459.1 1230.2,463.1M1202.1,441 1197.1,447.1 1192.1,452.1 1191.1,458.1 1194.1,467.1 1197.1,476.1 1202.1,482.1 1206.1,490.1 1208.1,500.2 1207.1,510.2 1206.1,520M1205.1,443 1200.1,450.1 1200.1,458.1 1202.1,464.1 1206.1,470.1 1202.1,476.1 1210.1,482.1 1214.1,490.1 1215.1,498.2 1220.1,492.1 1222.1,484.1M1183.1,466.1 1179.1,472.1 1178.1,478.1 1177.1,485.1 1183.1,482.1 1190.1,486.1 1197.1,488.1 1203.1,492.1M1188.1,492.1 1194.1,499.2 1202.1,505.2 1207.1,510.2M1197.1,450.1 1201.1,455.1 1200.1,462.1 1204.1,467.1 1208.1,470.1M1220.1,492.1 1219.1,500.2 1217.1,508.2 1218.1,516.2M1245.6,382.1 1253.1,377.1 1262.1,371.1 1272.1,367.1 1280.1,363.1 1288.1,360.1 1296.2,357.1 1303.2,352 1310.2,343M1245.1,396.1 1250.1,390.1 1258.1,384.1 1267.1,380.1 1275.1,377.1 1280.1,372.1 1288.1,370.1M1238,375.1 1241,380.1 1242,390.1 1238,400.1 1235,403.1M1274.1,373.1 1278.1,370.1 1282.1,371.1 1279.1,374.1 1275.1,375.1M129.1,130.1 132.1,134.1 135.1,138.1 137.1,143.1 134.1,148.1 130.1,152.1 124.1,156.1 120.1,162.1 124.1,165.1 130.1,164.1 135.1,160.1 138.1,154.1 139.1,148.1 142.1,144.1 145.1,140.1 144.1,134.1 142.1,130.1 144.1,125.1 142.1,120 143.1,114 142.1,108M121.1,154.1 126.1,150.1 132.1,146.1 135.1,150.1 133.1,156.1 128.1,160.1 122.1,163.1 121.1,159.1 127.1,156.1 132.1,152.1M133.1,133.1 137.1,135.1 140.1,139.1 142.1,136.1 139.1,132.1 136.1,130.1M96,159.1 102,163.1 97,164.1 95,170.1 99,171.1 94,178.2 96,180.2M131.1,116 135.1,115 138.1,118 136.1,122 132.1,121 134.1,118M884.1,797.1 887.1,793.1 893.1,792.1 894.6,796.1 890.1,801.1 885.1,800.1 884.1,797.1M910.1,794.1 912.6,798.1 911.6,804.1 909.1,808.1 905.1,812.1M926.2,787.1 930.2,782.1 932.2,773.1 934.2,770.1 936.2,778.1 939.2,784.1M943.2,760 942.2,764 949.2,773.1 951.2,779.1 955.2,775.1 960.2,774.1 958.2,779.1M896.1,796.1 899.1,794.1 900.1,798.1 898.1,802.1 894.1,804.1 890.1,806.1M873.1,812.1 877.1,815.2 880.1,813.1 882.1,817.2 878.1,820.2 874.1,818.2M1205.8,547.9 1215.8,550.4 1228.4,547.9 1233.4,552.9 1225.9,557.9 1213.3,557.9 1208.3,552.9 1205.8,547.9M1203.3,575.5 1213.3,570.5 1223.4,565.5 1228.4,575.5 1218.4,583 1208.3,588 1213.3,595.5 1223.4,590.5 1233.4,585.5M1228.4,540.4 1233.4,552.9 1238.4,563 1240.9,575.5 1235.9,583M1362.4,225.3 1357.4,226.5 1358.7,231.5 1352.4,231.5 1351.1,237.8 1344.9,237.8 1344.9,245.3 1338.6,246.6 1337.4,252.8 1329.8,252.8 1328.6,259.1 1321.1,260.3 1318.6,266.6 1311,267.9 1308.5,274.1 1304.8,279.1M40.1,445.2 50.1,447.7 55.1,450.2 52.6,460.2 57.6,470.3 50.1,465.2 48.9,455.2 42.6,450.2M738.2,814.4 744.4,808.1 748.2,815.6 743.2,820.7M689.3,847 694.3,843.2 700.6,844.5 705.6,840.7 699.3,850.7M678,860.7 683.1,857 685.6,862 680.6,865.8M660.5,887 668,884.5 670.5,890.8 664.3,892.1"/>
<path d="M897.1,818.2 904.1,817.2 910.1,821.2 908.1,825.2 906.1,830.2 902.1,827.2 898.1,831.2 899.1,825.2 897.1,822.2Z" fill="#000"/>
</g>
<g text-anchor="middle" fill="#000">
<text x="701.6" y="37.8" class="t1" textLength="478" lengthAdjust="spacingAndGlyphs">Total Precipitation Anomaly: Sep 2020</text>
<text x="702.2" y="58.5" class="t2" textLength="217.6" lengthAdjust="spacingAndGlyphs">Period ending 30 Sep 2020</text>
<text x="702" y="77.5" class="t2" textLength="184" lengthAdjust="spacingAndGlyphs">Base period: 1981-2010</text>
<text x="702.7" y="96.6" class="t2" textLength="213" lengthAdjust="spacingAndGlyphs">(Map created 02 Oct 2020)</text>
</g>
<text x="900" y="993.8" class="cp" textLength="375" lengthAdjust="spacingAndGlyphs">Copyright (c) 2020, PRISM Climate Group, Oregon State University</text>
<rect x="10.5" y="769.5" width="412" height="218" rx="13" ry="13" fill="#fff" stroke="#000" stroke-width="1.3"/>
<text x="56" y="798.7" class="lh" textLength="17.5" lengthAdjust="spacingAndGlyphs">%</text>
<text x="85.8" y="798.7" class="lh" textLength="288.3" lengthAdjust="spacingAndGlyphs">of Average Precipitation</text>
<rect x="15.5" y="818.5" width="52" height="26" fill="#c00000" stroke="#6e6e6e" stroke-width="1"/><text x="76.5" y="838" class="lg">0</text><rect x="15.5" y="853.1" width="52" height="26" fill="#dc4040" stroke="#6e6e6e" stroke-width="1"/><text x="76.5" y="872.6" class="lg">1 - 10</text><rect x="15.5" y="887.7" width="52" height="26" fill="#d87078" stroke="#6e6e6e" stroke-width="1"/><text x="76.5" y="907.2" class="lg">11 - 20</text><rect x="15.5" y="922.3" width="52" height="26" fill="#b07800" stroke="#6e6e6e" stroke-width="1"/><text x="76.5" y="941.8" class="lg">20 - 30</text><rect x="15.5" y="956.9" width="52" height="26" fill="#d89c00" stroke="#6e6e6e" stroke-width="1"/><text x="76.5" y="976.4" class="lg">30 - 50</text><rect x="139.5" y="818.5" width="52" height="26" fill="#ffb800" stroke="#6e6e6e" stroke-width="1"/><text x="199.3" y="838" class="lg">50 - 70</text><rect x="139.5" y="853.1" width="52" height="26" fill="#ffff00" stroke="#6e6e6e" stroke-width="1"/><text x="199.3" y="872.6" class="lg">70 - 90</text><rect x="139.5" y="887.7" width="52" height="26" fill="#ffffff" stroke="#6e6e6e" stroke-width="1"/><text x="199.3" y="907.2" class="lg">90 - 110</text><rect x="139.5" y="922.3" width="52" height="26" fill="#c0ffb0" stroke="#6e6e6e" stroke-width="1"/><text x="199.3" y="941.8" class="lg">110 - 130</text><rect x="139.5" y="956.9" width="52" height="26" fill="#90e078" stroke="#6e6e6e" stroke-width="1"/><text x="199.3" y="976.4" class="lg">130 - 150</text><rect x="282.5" y="818.5" width="52" height="26" fill="#70c470" stroke="#6e6e6e" stroke-width="1"/><text x="342.3" y="838" class="lg">150 - 170</text><rect x="282.5" y="853.1" width="52" height="26" fill="#489040" stroke="#6e6e6e" stroke-width="1"/><text x="342.3" y="872.6" class="lg">170 - 200</text><rect x="282.5" y="887.7" width="52" height="26" fill="#587050" stroke="#6e6e6e" stroke-width="1"/><text x="342.3" y="907.2" class="lg">200 - 300</text><rect x="282.5" y="922.3" width="52" height="26" fill="#6464ff" stroke="#6e6e6e" stroke-width="1"/><text x="342.3" y="941.8" class="lg">300 - 400</text><rect x="282.5" y="956.9" width="52" height="26" fill="#8080ff" stroke="#6e6e6e" stroke-width="1"/><text x="342.3" y="976.4" class="lg">&gt; 400</text>
</svg>
</body></html>
